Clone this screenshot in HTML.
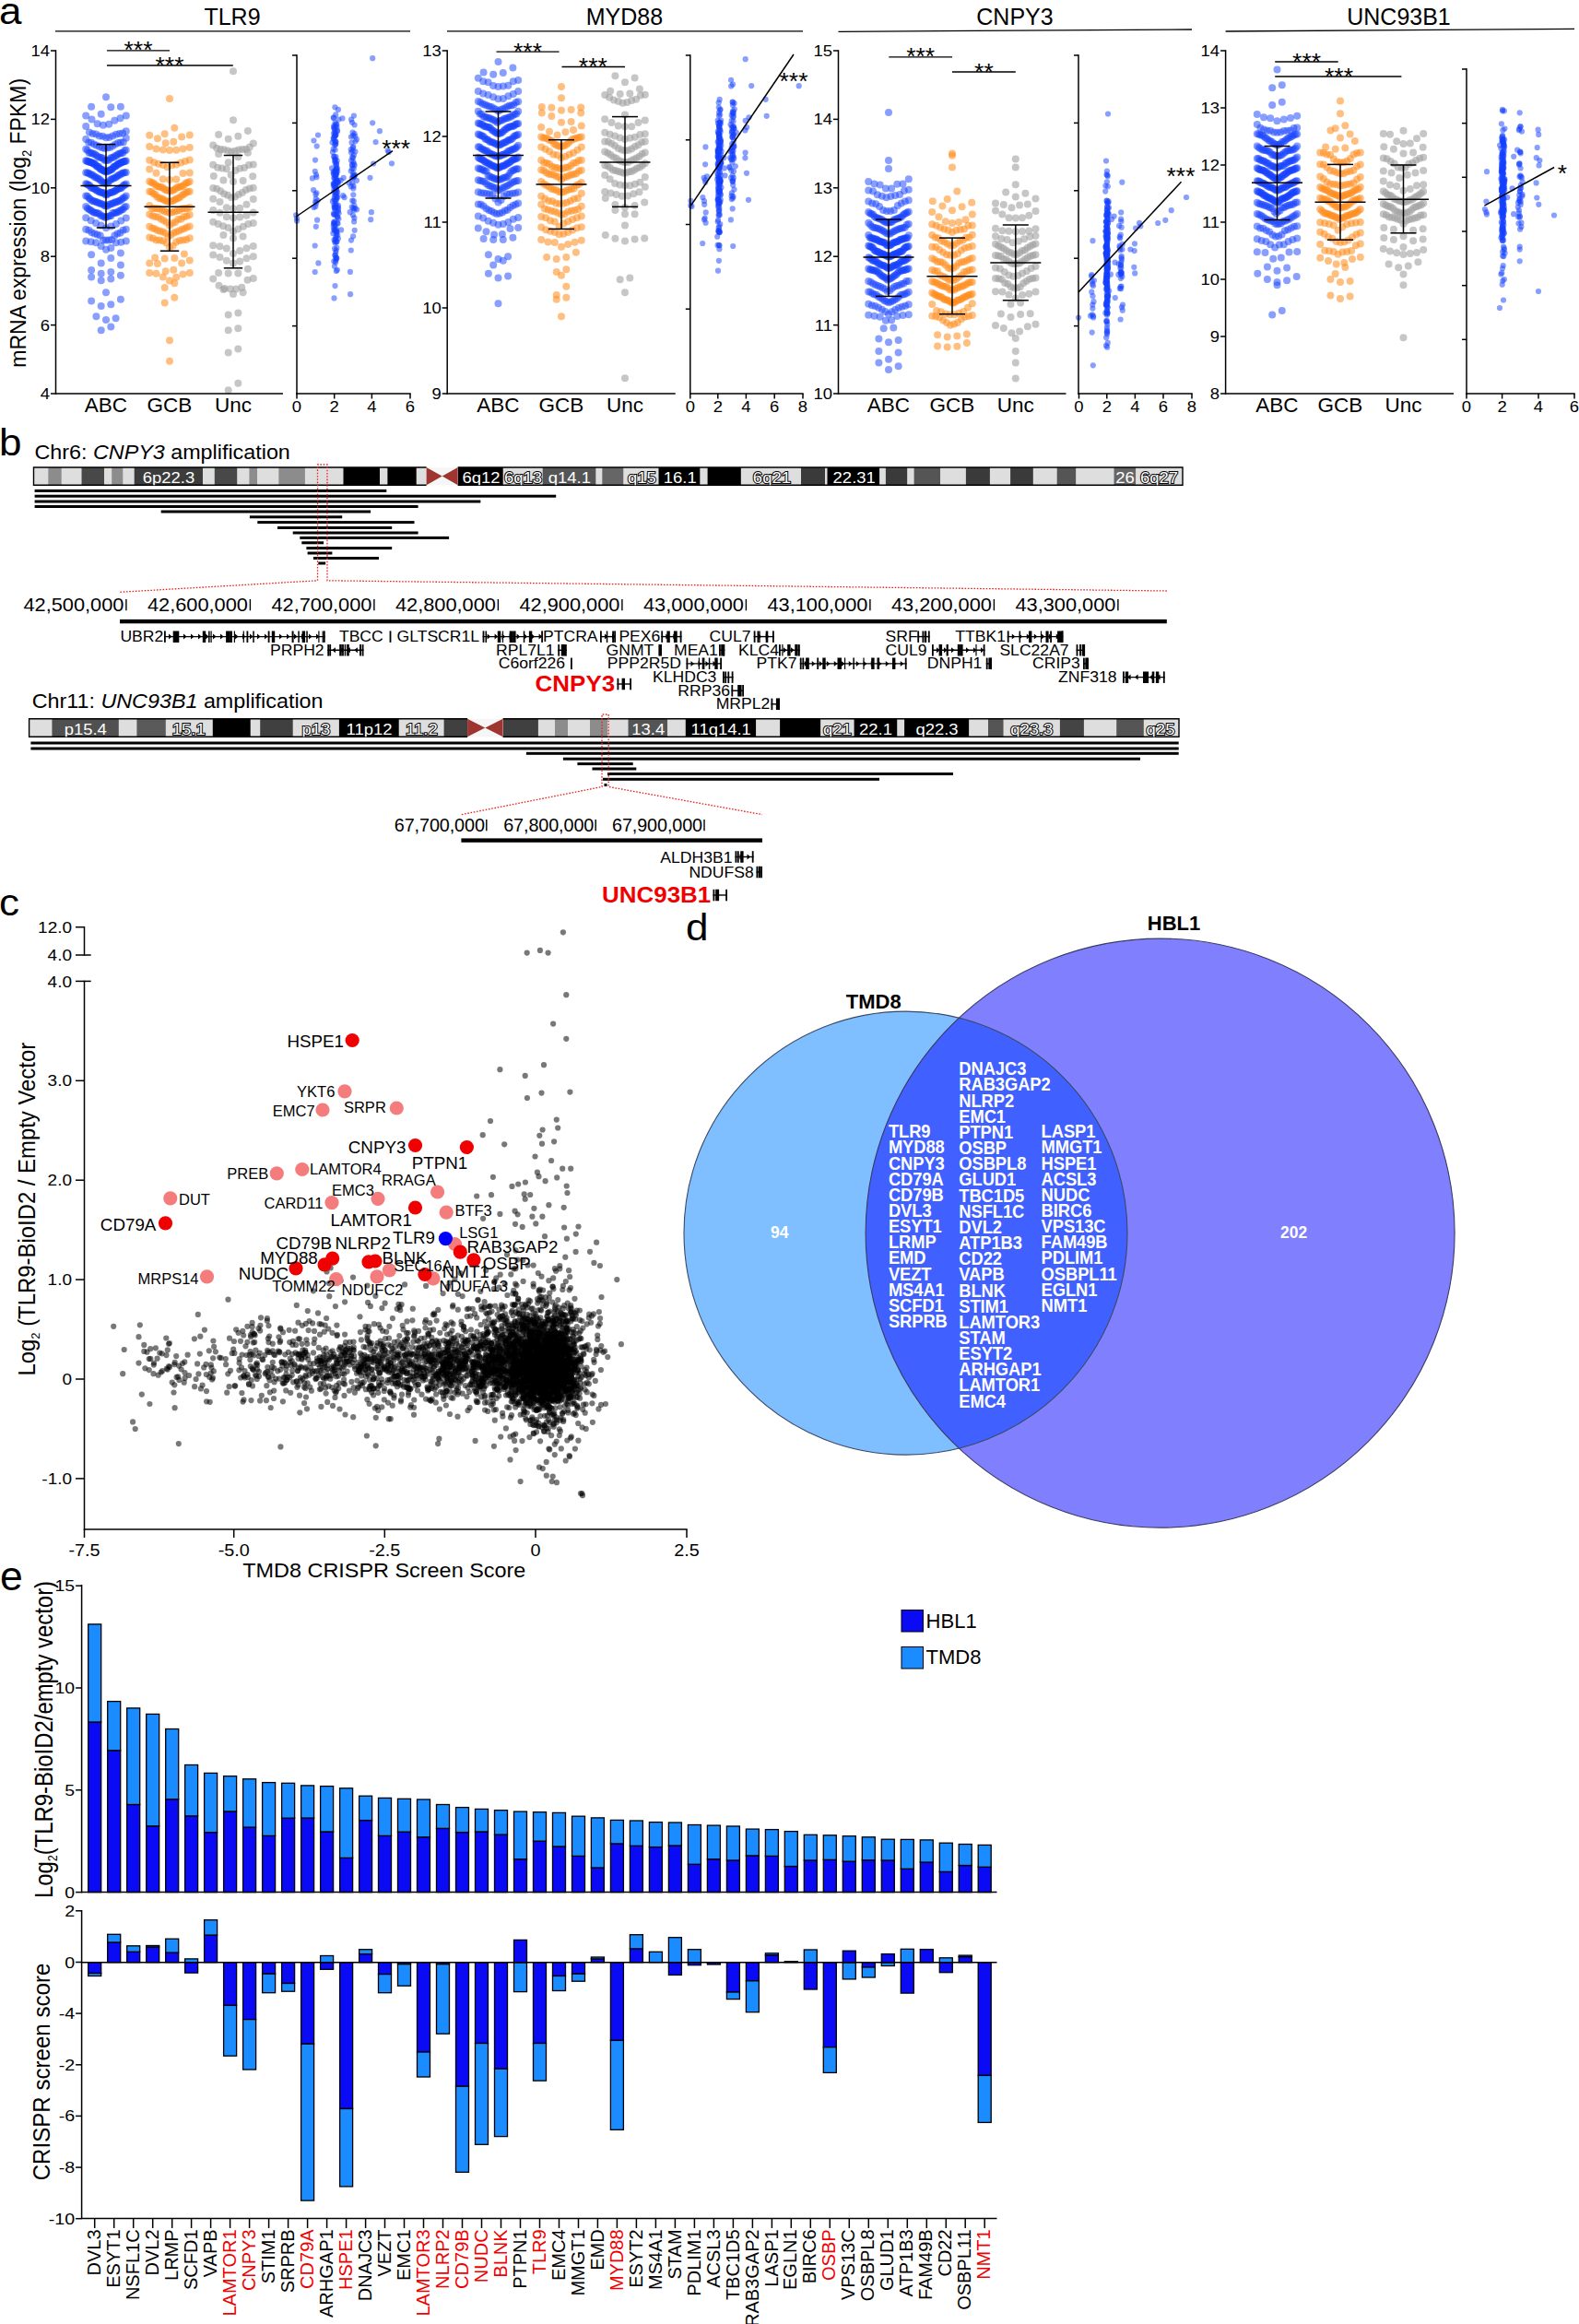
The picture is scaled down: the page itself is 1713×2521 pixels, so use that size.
<!DOCTYPE html>
<html><head><meta charset="utf-8"><title>Figure</title>
<style>html,body{margin:0;padding:0;background:#fff}svg{display:block;font-family:"Liberation Sans",Arial,Helvetica,sans-serif}</style>
</head><body>
<svg width="1713" height="2521" viewBox="0 0 1713 2521">
<rect width="1713" height="2521" fill="#fff"/>
<text transform="translate(-1 25.5) scale(1.1 1)" font-size="40">a</text><text transform="translate(28.4 241.8) rotate(-90) scale(1 1.08)" font-size="23" text-anchor="middle">mRNA expression (log<tspan font-size="13" dy="5">2</tspan><tspan dy="-5"> FPKM)</tspan></text><text x="252" y="27" font-size="25" text-anchor="middle">TLR9</text><line x1="60" y1="33.8" x2="445" y2="33.8" stroke="#000" stroke-width="1.3"/><g fill="#1440ff" fill-opacity="0.5"><circle cx="109.7" cy="358.2" r="4"/><circle cx="120.3" cy="354.5" r="4"/><circle cx="115" cy="347" r="4"/><circle cx="125.6" cy="345.2" r="4"/><circle cx="104.4" cy="343.3" r="4"/><circle cx="109.7" cy="332.1" r="4"/><circle cx="120.3" cy="330.3" r="4"/><circle cx="99.1" cy="326.6" r="4"/><circle cx="130.9" cy="324.7" r="4"/><circle cx="115" cy="317.3" r="4"/><circle cx="109.7" cy="304.2" r="4"/><circle cx="120.3" cy="302.4" r="4"/><circle cx="99.1" cy="300.5" r="4"/><circle cx="130.9" cy="298.7" r="4"/><circle cx="109.7" cy="296.8" r="4"/><circle cx="120.3" cy="294.9" r="4"/><circle cx="99.1" cy="293.1" r="4"/><circle cx="130.9" cy="287.5" r="4"/><circle cx="109.7" cy="285.6" r="4"/><circle cx="120.3" cy="280.1" r="4"/><circle cx="99.1" cy="276.3" r="4"/><circle cx="130.9" cy="274.5" r="4"/><circle cx="115" cy="270.8" r="4"/><circle cx="120.4" cy="268.9" r="4"/><circle cx="109.6" cy="267" r="4"/><circle cx="125.9" cy="263.3" r="4"/><circle cx="104.1" cy="263.2" r="4"/><circle cx="131.3" cy="262.7" r="4"/><circle cx="98.7" cy="262.3" r="4"/><circle cx="136.8" cy="261.6" r="4"/><circle cx="93.2" cy="261.5" r="4"/><circle cx="115" cy="260.5" r="4"/><circle cx="118.1" cy="260.5" r="4"/><circle cx="111.9" cy="260.4" r="4"/><circle cx="121.2" cy="260.1" r="4"/><circle cx="108.8" cy="255.6" r="4"/><circle cx="124.3" cy="255.4" r="4"/><circle cx="105.7" cy="254.6" r="4"/><circle cx="127.4" cy="253.6" r="4"/><circle cx="102.6" cy="253.6" r="4"/><circle cx="130.5" cy="252.6" r="4"/><circle cx="99.5" cy="252.2" r="4"/><circle cx="133.6" cy="249.8" r="4"/><circle cx="96.4" cy="249.8" r="4"/><circle cx="136.8" cy="248.7" r="4"/><circle cx="93.2" cy="248.7" r="4"/><circle cx="115" cy="247.2" r="4"/><circle cx="120.4" cy="245.5" r="4"/><circle cx="109.6" cy="244.6" r="4"/><circle cx="125.9" cy="243" r="4"/><circle cx="104.1" cy="242" r="4"/><circle cx="131.3" cy="239.4" r="4"/><circle cx="98.7" cy="239.3" r="4"/><circle cx="136.8" cy="236.6" r="4"/><circle cx="93.2" cy="236.3" r="4"/><circle cx="114.2" cy="236.1" r="4"/><circle cx="115.8" cy="235.3" r="4"/><circle cx="112.6" cy="235" r="4"/><circle cx="117.4" cy="234.7" r="4"/><circle cx="111" cy="234.3" r="4"/><circle cx="119" cy="234.2" r="4"/><circle cx="109.4" cy="234" r="4"/><circle cx="120.6" cy="234" r="4"/><circle cx="107.8" cy="231.9" r="4"/><circle cx="122.2" cy="231.2" r="4"/><circle cx="106.1" cy="231.2" r="4"/><circle cx="123.9" cy="231.1" r="4"/><circle cx="104.5" cy="230.9" r="4"/><circle cx="125.5" cy="230.7" r="4"/><circle cx="102.9" cy="230.7" r="4"/><circle cx="127.1" cy="230.6" r="4"/><circle cx="101.3" cy="230.2" r="4"/><circle cx="128.7" cy="229.2" r="4"/><circle cx="99.7" cy="229.1" r="4"/><circle cx="130.3" cy="228.8" r="4"/><circle cx="98.1" cy="228" r="4"/><circle cx="131.9" cy="227.6" r="4"/><circle cx="96.5" cy="227" r="4"/><circle cx="133.5" cy="226.9" r="4"/><circle cx="94.9" cy="225.9" r="4"/><circle cx="135.1" cy="224.7" r="4"/><circle cx="93.2" cy="224" r="4"/><circle cx="136.8" cy="224" r="4"/><circle cx="115" cy="223.6" r="4"/><circle cx="116.6" cy="223.6" r="4"/><circle cx="113.4" cy="222.9" r="4"/><circle cx="118.1" cy="222.1" r="4"/><circle cx="111.9" cy="221.8" r="4"/><circle cx="119.7" cy="221.6" r="4"/><circle cx="110.3" cy="221.3" r="4"/><circle cx="121.2" cy="221.1" r="4"/><circle cx="108.8" cy="220.7" r="4"/><circle cx="122.8" cy="220.4" r="4"/><circle cx="107.2" cy="220.3" r="4"/><circle cx="124.3" cy="219.6" r="4"/><circle cx="105.7" cy="219.6" r="4"/><circle cx="125.9" cy="219.3" r="4"/><circle cx="104.1" cy="219" r="4"/><circle cx="127.4" cy="218.7" r="4"/><circle cx="102.6" cy="218.4" r="4"/><circle cx="129" cy="218.1" r="4"/><circle cx="101" cy="217.9" r="4"/><circle cx="130.5" cy="217.6" r="4"/><circle cx="99.5" cy="217.4" r="4"/><circle cx="132.1" cy="216.3" r="4"/><circle cx="97.9" cy="215.9" r="4"/><circle cx="133.6" cy="214.8" r="4"/><circle cx="96.4" cy="214.7" r="4"/><circle cx="135.2" cy="214.2" r="4"/><circle cx="94.8" cy="212.7" r="4"/><circle cx="136.8" cy="212.6" r="4"/><circle cx="93.2" cy="212.5" r="4"/><circle cx="115" cy="211.4" r="4"/><circle cx="116.3" cy="211.1" r="4"/><circle cx="113.7" cy="210.5" r="4"/><circle cx="117.6" cy="209.8" r="4"/><circle cx="112.4" cy="209.3" r="4"/><circle cx="118.8" cy="209.3" r="4"/><circle cx="111.2" cy="208.9" r="4"/><circle cx="120.1" cy="208.9" r="4"/><circle cx="109.9" cy="208.7" r="4"/><circle cx="121.4" cy="208.6" r="4"/><circle cx="108.6" cy="208.5" r="4"/><circle cx="122.7" cy="208.3" r="4"/><circle cx="107.3" cy="208" r="4"/><circle cx="124" cy="207.5" r="4"/><circle cx="106" cy="207" r="4"/><circle cx="125.2" cy="206.9" r="4"/><circle cx="104.8" cy="206.4" r="4"/><circle cx="126.5" cy="205.8" r="4"/><circle cx="103.5" cy="205.4" r="4"/><circle cx="127.8" cy="205.2" r="4"/><circle cx="102.2" cy="204.7" r="4"/><circle cx="129.1" cy="204.5" r="4"/><circle cx="100.9" cy="204.1" r="4"/><circle cx="130.4" cy="204" r="4"/><circle cx="99.6" cy="204" r="4"/><circle cx="131.6" cy="203.9" r="4"/><circle cx="98.4" cy="203.1" r="4"/><circle cx="132.9" cy="202.4" r="4"/><circle cx="97.1" cy="201.1" r="4"/><circle cx="134.2" cy="200.8" r="4"/><circle cx="95.8" cy="200.8" r="4"/><circle cx="135.5" cy="200.8" r="4"/><circle cx="94.5" cy="199.7" r="4"/><circle cx="136.8" cy="199.5" r="4"/><circle cx="93.2" cy="199.2" r="4"/><circle cx="114.2" cy="198.7" r="4"/><circle cx="115.8" cy="198.6" r="4"/><circle cx="112.8" cy="198.2" r="4"/><circle cx="117.2" cy="198.2" r="4"/><circle cx="111.2" cy="197.5" r="4"/><circle cx="118.8" cy="196.3" r="4"/><circle cx="109.8" cy="196.2" r="4"/><circle cx="120.2" cy="194.8" r="4"/><circle cx="108.2" cy="194.8" r="4"/><circle cx="121.8" cy="193.9" r="4"/><circle cx="106.8" cy="193.8" r="4"/><circle cx="123.2" cy="193.4" r="4"/><circle cx="105.2" cy="193.2" r="4"/><circle cx="124.8" cy="192.8" r="4"/><circle cx="103.8" cy="192.1" r="4"/><circle cx="126.2" cy="192.1" r="4"/><circle cx="102.2" cy="191.7" r="4"/><circle cx="127.8" cy="190.7" r="4"/><circle cx="100.8" cy="189.9" r="4"/><circle cx="129.2" cy="189.8" r="4"/><circle cx="99.2" cy="189.6" r="4"/><circle cx="130.8" cy="189.2" r="4"/><circle cx="97.8" cy="189.1" r="4"/><circle cx="132.2" cy="188" r="4"/><circle cx="96.2" cy="187.7" r="4"/><circle cx="133.8" cy="187.6" r="4"/><circle cx="94.8" cy="187.5" r="4"/><circle cx="135.2" cy="187.3" r="4"/><circle cx="93.2" cy="187.2" r="4"/><circle cx="136.8" cy="186.9" r="4"/><circle cx="115" cy="186.4" r="4"/><circle cx="116" cy="186.1" r="4"/><circle cx="114" cy="185.8" r="4"/><circle cx="117" cy="185.6" r="4"/><circle cx="113" cy="185.6" r="4"/><circle cx="118" cy="185.6" r="4"/><circle cx="112" cy="184.9" r="4"/><circle cx="119" cy="184.7" r="4"/><circle cx="111" cy="184" r="4"/><circle cx="119.9" cy="184" r="4"/><circle cx="110.1" cy="183.9" r="4"/><circle cx="120.9" cy="183.9" r="4"/><circle cx="109.1" cy="183.6" r="4"/><circle cx="121.9" cy="183.3" r="4"/><circle cx="108.1" cy="182.5" r="4"/><circle cx="122.9" cy="181.5" r="4"/><circle cx="107.1" cy="181" r="4"/><circle cx="123.9" cy="180.8" r="4"/><circle cx="106.1" cy="180.7" r="4"/><circle cx="124.9" cy="180.6" r="4"/><circle cx="105.1" cy="180.5" r="4"/><circle cx="125.9" cy="180.1" r="4"/><circle cx="104.1" cy="179.6" r="4"/><circle cx="126.9" cy="179.1" r="4"/><circle cx="103.1" cy="178.1" r="4"/><circle cx="127.9" cy="178" r="4"/><circle cx="102.1" cy="177.5" r="4"/><circle cx="128.8" cy="177.5" r="4"/><circle cx="101.2" cy="177.4" r="4"/><circle cx="129.8" cy="177.4" r="4"/><circle cx="100.2" cy="176.8" r="4"/><circle cx="130.8" cy="176.5" r="4"/><circle cx="99.2" cy="176.3" r="4"/><circle cx="131.8" cy="176.2" r="4"/><circle cx="98.2" cy="176" r="4"/><circle cx="132.8" cy="175.9" r="4"/><circle cx="97.2" cy="175.9" r="4"/><circle cx="133.8" cy="175.2" r="4"/><circle cx="96.2" cy="175.1" r="4"/><circle cx="134.8" cy="175" r="4"/><circle cx="95.2" cy="175" r="4"/><circle cx="135.8" cy="174.9" r="4"/><circle cx="94.2" cy="174.8" r="4"/><circle cx="136.8" cy="174.5" r="4"/><circle cx="93.2" cy="174.3" r="4"/><circle cx="115" cy="173.9" r="4"/><circle cx="116.7" cy="173.8" r="4"/><circle cx="113.3" cy="173.8" r="4"/><circle cx="118.3" cy="173.6" r="4"/><circle cx="111.7" cy="171.7" r="4"/><circle cx="120" cy="171.5" r="4"/><circle cx="110" cy="171" r="4"/><circle cx="121.7" cy="171" r="4"/><circle cx="108.3" cy="170.8" r="4"/><circle cx="123.4" cy="170.4" r="4"/><circle cx="106.6" cy="170.2" r="4"/><circle cx="125" cy="169.3" r="4"/><circle cx="105" cy="169" r="4"/><circle cx="126.7" cy="168.6" r="4"/><circle cx="103.3" cy="167.5" r="4"/><circle cx="128.4" cy="167.1" r="4"/><circle cx="101.6" cy="166.9" r="4"/><circle cx="130.1" cy="166.6" r="4"/><circle cx="99.9" cy="166.3" r="4"/><circle cx="131.7" cy="166" r="4"/><circle cx="98.3" cy="165.8" r="4"/><circle cx="133.4" cy="165.7" r="4"/><circle cx="96.6" cy="165.7" r="4"/><circle cx="135.1" cy="163.3" r="4"/><circle cx="94.9" cy="163.1" r="4"/><circle cx="136.8" cy="162.7" r="4"/><circle cx="93.2" cy="161.8" r="4"/><circle cx="113.5" cy="160.9" r="4"/><circle cx="116.5" cy="160.5" r="4"/><circle cx="110.7" cy="160.3" r="4"/><circle cx="119.3" cy="160" r="4"/><circle cx="107.8" cy="158.9" r="4"/><circle cx="122.2" cy="158.5" r="4"/><circle cx="104.8" cy="157.7" r="4"/><circle cx="125.2" cy="156.6" r="4"/><circle cx="102" cy="156.4" r="4"/><circle cx="128.1" cy="154.9" r="4"/><circle cx="99" cy="154.8" r="4"/><circle cx="130.9" cy="154.6" r="4"/><circle cx="96.2" cy="154.5" r="4"/><circle cx="133.8" cy="154.3" r="4"/><circle cx="93.2" cy="151" r="4"/><circle cx="136.8" cy="149.8" r="4"/><circle cx="115" cy="149.3" r="4"/><circle cx="118.6" cy="149.1" r="4"/><circle cx="111.4" cy="147.7" r="4"/><circle cx="122.2" cy="147.6" r="4"/><circle cx="107.8" cy="147.5" r="4"/><circle cx="125.9" cy="145.8" r="4"/><circle cx="104.1" cy="145.4" r="4"/><circle cx="129.5" cy="145" r="4"/><circle cx="100.5" cy="144.9" r="4"/><circle cx="133.1" cy="144.5" r="4"/><circle cx="96.9" cy="143.4" r="4"/><circle cx="136.8" cy="142.3" r="4"/><circle cx="93.2" cy="137" r="4"/><circle cx="111.9" cy="135.8" r="4"/><circle cx="118.1" cy="134.8" r="4"/><circle cx="105.7" cy="134.3" r="4"/><circle cx="124.3" cy="130.7" r="4"/><circle cx="99.5" cy="129.5" r="4"/><circle cx="130.5" cy="128.2" r="4"/><circle cx="93.2" cy="125.5" r="4"/><circle cx="136.8" cy="125.5" r="4"/><circle cx="109.7" cy="123.8" r="4"/><circle cx="120.3" cy="116.3" r="4"/><circle cx="99.1" cy="115.8" r="4"/><circle cx="130.9" cy="115.7" r="4"/><circle cx="115" cy="105.2" r="4"/></g><g fill="#ff8a1a" fill-opacity="0.55"><circle cx="184" cy="391.7" r="4"/><circle cx="184" cy="369.3" r="4"/><circle cx="178.7" cy="328.4" r="4"/><circle cx="189.3" cy="322.8" r="4"/><circle cx="178.7" cy="311.9" r="4"/><circle cx="189.3" cy="307.2" r="4"/><circle cx="184" cy="304.6" r="4"/><circle cx="191.2" cy="300.7" r="4"/><circle cx="176.8" cy="300.6" r="4"/><circle cx="198.5" cy="297.6" r="4"/><circle cx="169.5" cy="296.8" r="4"/><circle cx="205.8" cy="296" r="4"/><circle cx="162.2" cy="295.9" r="4"/><circle cx="179.7" cy="294.2" r="4"/><circle cx="188.3" cy="292.7" r="4"/><circle cx="170.9" cy="286.1" r="4"/><circle cx="197.1" cy="285.5" r="4"/><circle cx="162.2" cy="285.4" r="4"/><circle cx="205.8" cy="282.5" r="4"/><circle cx="178.7" cy="280.4" r="4"/><circle cx="189.3" cy="279.9" r="4"/><circle cx="168.1" cy="279.6" r="4"/><circle cx="199.9" cy="275.4" r="4"/><circle cx="184" cy="268" r="4"/><circle cx="187.6" cy="266.6" r="4"/><circle cx="180.4" cy="263.5" r="4"/><circle cx="191.2" cy="262.5" r="4"/><circle cx="176.8" cy="261.3" r="4"/><circle cx="194.9" cy="260.9" r="4"/><circle cx="173.1" cy="260.6" r="4"/><circle cx="198.5" cy="260.5" r="4"/><circle cx="169.5" cy="260.5" r="4"/><circle cx="202.1" cy="260.1" r="4"/><circle cx="165.9" cy="258.6" r="4"/><circle cx="205.8" cy="258.3" r="4"/><circle cx="162.2" cy="257.5" r="4"/><circle cx="182.6" cy="256.5" r="4"/><circle cx="185.4" cy="255" r="4"/><circle cx="179.7" cy="253" r="4"/><circle cx="188.3" cy="252.7" r="4"/><circle cx="176.8" cy="251.6" r="4"/><circle cx="191.2" cy="251.5" r="4"/><circle cx="173.8" cy="250.7" r="4"/><circle cx="194.2" cy="250.4" r="4"/><circle cx="170.9" cy="249.9" r="4"/><circle cx="197.1" cy="249.1" r="4"/><circle cx="168.1" cy="248.2" r="4"/><circle cx="199.9" cy="248.1" r="4"/><circle cx="165.2" cy="247.6" r="4"/><circle cx="202.8" cy="246.4" r="4"/><circle cx="162.2" cy="245.8" r="4"/><circle cx="205.8" cy="245.4" r="4"/><circle cx="184" cy="244.5" r="4"/><circle cx="187.1" cy="242.2" r="4"/><circle cx="180.9" cy="241.2" r="4"/><circle cx="190.2" cy="241.1" r="4"/><circle cx="177.8" cy="239.3" r="4"/><circle cx="193.3" cy="237.9" r="4"/><circle cx="174.7" cy="237.8" r="4"/><circle cx="196.4" cy="237.7" r="4"/><circle cx="171.6" cy="235.5" r="4"/><circle cx="199.5" cy="235.3" r="4"/><circle cx="168.5" cy="235.1" r="4"/><circle cx="202.6" cy="234.6" r="4"/><circle cx="165.4" cy="234.3" r="4"/><circle cx="205.8" cy="232.9" r="4"/><circle cx="162.2" cy="232.6" r="4"/><circle cx="184" cy="231.1" r="4"/><circle cx="186.7" cy="230.3" r="4"/><circle cx="181.3" cy="229.9" r="4"/><circle cx="189.4" cy="229.6" r="4"/><circle cx="178.6" cy="229.2" r="4"/><circle cx="192.2" cy="228.8" r="4"/><circle cx="175.8" cy="228" r="4"/><circle cx="194.9" cy="228" r="4"/><circle cx="173.1" cy="226.4" r="4"/><circle cx="197.6" cy="226.3" r="4"/><circle cx="170.4" cy="226.2" r="4"/><circle cx="200.3" cy="226.2" r="4"/><circle cx="167.7" cy="226.1" r="4"/><circle cx="203" cy="226.1" r="4"/><circle cx="165" cy="226" r="4"/><circle cx="205.8" cy="224.9" r="4"/><circle cx="162.2" cy="222.9" r="4"/><circle cx="183" cy="218.8" r="4"/><circle cx="185" cy="218.5" r="4"/><circle cx="180.9" cy="218.5" r="4"/><circle cx="187.1" cy="218" r="4"/><circle cx="178.8" cy="217.2" r="4"/><circle cx="189.2" cy="216.9" r="4"/><circle cx="176.8" cy="216.2" r="4"/><circle cx="191.2" cy="215.8" r="4"/><circle cx="174.7" cy="215.2" r="4"/><circle cx="193.3" cy="215" r="4"/><circle cx="172.6" cy="214.9" r="4"/><circle cx="195.4" cy="214" r="4"/><circle cx="170.5" cy="213.6" r="4"/><circle cx="197.5" cy="211.8" r="4"/><circle cx="168.5" cy="210.9" r="4"/><circle cx="199.5" cy="210.8" r="4"/><circle cx="166.4" cy="210" r="4"/><circle cx="201.6" cy="208.9" r="4"/><circle cx="164.3" cy="208" r="4"/><circle cx="203.7" cy="207.9" r="4"/><circle cx="162.2" cy="207.8" r="4"/><circle cx="205.8" cy="207.7" r="4"/><circle cx="184" cy="207.3" r="4"/><circle cx="186" cy="207.1" r="4"/><circle cx="182" cy="206.6" r="4"/><circle cx="188" cy="206.3" r="4"/><circle cx="180" cy="206.2" r="4"/><circle cx="189.9" cy="205.2" r="4"/><circle cx="178.1" cy="205" r="4"/><circle cx="191.9" cy="203.4" r="4"/><circle cx="176.1" cy="203.3" r="4"/><circle cx="193.9" cy="203.1" r="4"/><circle cx="174.1" cy="203" r="4"/><circle cx="195.9" cy="202.6" r="4"/><circle cx="172.1" cy="202.5" r="4"/><circle cx="197.8" cy="202" r="4"/><circle cx="170.2" cy="202" r="4"/><circle cx="199.8" cy="200.4" r="4"/><circle cx="168.2" cy="200" r="4"/><circle cx="201.8" cy="198.5" r="4"/><circle cx="166.2" cy="198.4" r="4"/><circle cx="203.8" cy="198.1" r="4"/><circle cx="164.2" cy="198" r="4"/><circle cx="205.8" cy="196.9" r="4"/><circle cx="162.2" cy="196.7" r="4"/><circle cx="184" cy="194.9" r="4"/><circle cx="191.2" cy="194.5" r="4"/><circle cx="176.8" cy="194.2" r="4"/><circle cx="198.5" cy="188.1" r="4"/><circle cx="169.5" cy="187.8" r="4"/><circle cx="205.8" cy="187.5" r="4"/><circle cx="162.2" cy="183.4" r="4"/><circle cx="181.6" cy="181.2" r="4"/><circle cx="186.4" cy="179.2" r="4"/><circle cx="176.8" cy="179" r="4"/><circle cx="191.2" cy="178.4" r="4"/><circle cx="171.9" cy="177.7" r="4"/><circle cx="196.1" cy="176.5" r="4"/><circle cx="167.1" cy="176.3" r="4"/><circle cx="200.9" cy="175.1" r="4"/><circle cx="162.2" cy="173.7" r="4"/><circle cx="205.8" cy="173.6" r="4"/><circle cx="184" cy="162.9" r="4"/><circle cx="191.2" cy="162.8" r="4"/><circle cx="176.8" cy="162.6" r="4"/><circle cx="198.5" cy="161.6" r="4"/><circle cx="169.5" cy="161.4" r="4"/><circle cx="205.8" cy="159.9" r="4"/><circle cx="162.2" cy="159" r="4"/><circle cx="179.7" cy="155.3" r="4"/><circle cx="188.3" cy="153.8" r="4"/><circle cx="170.9" cy="150.3" r="4"/><circle cx="197.1" cy="148.6" r="4"/><circle cx="162.2" cy="146.8" r="4"/><circle cx="205.8" cy="146.4" r="4"/><circle cx="178.7" cy="145.2" r="4"/><circle cx="189.3" cy="138.7" r="4"/><circle cx="184" cy="107.1" r="4"/></g><g fill="#a0a0a0" fill-opacity="0.6"><circle cx="247.7" cy="423.3" r="4"/><circle cx="258.3" cy="415.8" r="4"/><circle cx="247.7" cy="382.4" r="4"/><circle cx="258.3" cy="378.6" r="4"/><circle cx="247.7" cy="358.2" r="4"/><circle cx="258.3" cy="356.3" r="4"/><circle cx="247.7" cy="341.4" r="4"/><circle cx="258.3" cy="339.6" r="4"/><circle cx="253" cy="319.1" r="4"/><circle cx="263.6" cy="317.3" r="4"/><circle cx="242.4" cy="314" r="4"/><circle cx="249.9" cy="313.5" r="4"/><circle cx="256.1" cy="313.5" r="4"/><circle cx="243.7" cy="313.1" r="4"/><circle cx="262.3" cy="311.7" r="4"/><circle cx="237.5" cy="309.8" r="4"/><circle cx="268.5" cy="303.7" r="4"/><circle cx="231.2" cy="302.5" r="4"/><circle cx="274.8" cy="302" r="4"/><circle cx="247.7" cy="296.5" r="4"/><circle cx="258.3" cy="296.4" r="4"/><circle cx="237.1" cy="295.9" r="4"/><circle cx="268.9" cy="291.8" r="4"/><circle cx="253" cy="285.4" r="4"/><circle cx="260.2" cy="283.6" r="4"/><circle cx="245.8" cy="282.8" r="4"/><circle cx="267.5" cy="280.3" r="4"/><circle cx="238.5" cy="279.1" r="4"/><circle cx="274.8" cy="278.2" r="4"/><circle cx="231.2" cy="276.6" r="4"/><circle cx="253" cy="275.1" r="4"/><circle cx="260.2" cy="271.9" r="4"/><circle cx="245.8" cy="269.4" r="4"/><circle cx="267.5" cy="269.3" r="4"/><circle cx="238.5" cy="267.2" r="4"/><circle cx="274.8" cy="266.9" r="4"/><circle cx="231.2" cy="266.3" r="4"/><circle cx="253" cy="258.5" r="4"/><circle cx="263.6" cy="256.6" r="4"/><circle cx="242.4" cy="254.9" r="4"/><circle cx="253" cy="250.9" r="4"/><circle cx="258.4" cy="248.4" r="4"/><circle cx="247.6" cy="247" r="4"/><circle cx="263.9" cy="245.7" r="4"/><circle cx="242.1" cy="245.2" r="4"/><circle cx="269.3" cy="243.1" r="4"/><circle cx="236.7" cy="242.9" r="4"/><circle cx="274.8" cy="242.1" r="4"/><circle cx="231.2" cy="240.8" r="4"/><circle cx="253" cy="236.5" r="4"/><circle cx="260.2" cy="235.5" r="4"/><circle cx="245.8" cy="235.3" r="4"/><circle cx="267.5" cy="233.8" r="4"/><circle cx="238.5" cy="230.8" r="4"/><circle cx="274.8" cy="230.4" r="4"/><circle cx="231.2" cy="227.9" r="4"/><circle cx="253" cy="226.2" r="4"/><circle cx="260.2" cy="225.7" r="4"/><circle cx="245.8" cy="225.3" r="4"/><circle cx="267.5" cy="221.8" r="4"/><circle cx="238.5" cy="218.9" r="4"/><circle cx="274.8" cy="216.1" r="4"/><circle cx="231.2" cy="215.8" r="4"/><circle cx="251" cy="214.3" r="4"/><circle cx="255" cy="213.6" r="4"/><circle cx="247.1" cy="211.8" r="4"/><circle cx="258.9" cy="211.1" r="4"/><circle cx="243.1" cy="210.2" r="4"/><circle cx="262.9" cy="208.9" r="4"/><circle cx="239.2" cy="207.2" r="4"/><circle cx="266.8" cy="205.9" r="4"/><circle cx="235.2" cy="204.8" r="4"/><circle cx="270.8" cy="204.6" r="4"/><circle cx="231.2" cy="203.9" r="4"/><circle cx="274.8" cy="203.7" r="4"/><circle cx="253" cy="197" r="4"/><circle cx="263.6" cy="196.1" r="4"/><circle cx="242.4" cy="195.6" r="4"/><circle cx="274.2" cy="191.3" r="4"/><circle cx="231.8" cy="190.9" r="4"/><circle cx="250.6" cy="189.7" r="4"/><circle cx="255.4" cy="184.9" r="4"/><circle cx="245.8" cy="183.2" r="4"/><circle cx="260.2" cy="182.7" r="4"/><circle cx="240.9" cy="182.6" r="4"/><circle cx="265.1" cy="182" r="4"/><circle cx="236.1" cy="181.7" r="4"/><circle cx="269.9" cy="179" r="4"/><circle cx="231.2" cy="178.8" r="4"/><circle cx="274.8" cy="178.5" r="4"/><circle cx="247.7" cy="176.2" r="4"/><circle cx="258.3" cy="170.3" r="4"/><circle cx="237.1" cy="167" r="4"/><circle cx="268.9" cy="165.8" r="4"/><circle cx="251" cy="164.4" r="4"/><circle cx="255" cy="163.7" r="4"/><circle cx="247.1" cy="163.5" r="4"/><circle cx="258.9" cy="162.5" r="4"/><circle cx="243.1" cy="162.2" r="4"/><circle cx="262.9" cy="162.1" r="4"/><circle cx="239.2" cy="162" r="4"/><circle cx="266.8" cy="162" r="4"/><circle cx="235.2" cy="160.7" r="4"/><circle cx="270.8" cy="159.5" r="4"/><circle cx="231.2" cy="157.4" r="4"/><circle cx="274.8" cy="155.5" r="4"/><circle cx="247.7" cy="150.8" r="4"/><circle cx="258.3" cy="147.8" r="4"/><circle cx="237.1" cy="146.1" r="4"/><circle cx="268.9" cy="142.1" r="4"/><circle cx="253" cy="130.3" r="4"/><circle cx="253" cy="77.3" r="4"/></g><line x1="60.5" y1="54.3" x2="60.5" y2="427.7" stroke="#000" stroke-width="1.5"/><line x1="59.8" y1="427" x2="307" y2="427" stroke="#000" stroke-width="1.5"/><line x1="55" y1="55" x2="60.5" y2="55" stroke="#000" stroke-width="1.5"/><text transform="translate(54 61) scale(1.1 1)" font-size="16.8" text-anchor="end">14</text><line x1="55" y1="129.4" x2="60.5" y2="129.4" stroke="#000" stroke-width="1.5"/><text transform="translate(54 135.4) scale(1.1 1)" font-size="16.8" text-anchor="end">12</text><line x1="55" y1="203.8" x2="60.5" y2="203.8" stroke="#000" stroke-width="1.5"/><text transform="translate(54 209.8) scale(1.1 1)" font-size="16.8" text-anchor="end">10</text><line x1="55" y1="278.2" x2="60.5" y2="278.2" stroke="#000" stroke-width="1.5"/><text transform="translate(54 284.2) scale(1.1 1)" font-size="16.8" text-anchor="end">8</text><line x1="55" y1="352.6" x2="60.5" y2="352.6" stroke="#000" stroke-width="1.5"/><text transform="translate(54 358.6) scale(1.1 1)" font-size="16.8" text-anchor="end">6</text><line x1="55" y1="427" x2="60.5" y2="427" stroke="#000" stroke-width="1.5"/><text transform="translate(54 433) scale(1.1 1)" font-size="16.8" text-anchor="end">4</text><text x="115" y="446.5" font-size="22.5" text-anchor="middle">ABC</text><text x="184" y="446.5" font-size="22.5" text-anchor="middle">GCB</text><text x="253" y="446.5" font-size="22.5" text-anchor="middle">Unc</text><line x1="87.5" y1="201.6" x2="142.5" y2="201.6" stroke="#000" stroke-width="1.5"/><line x1="115" y1="156.6" x2="115" y2="247" stroke="#000" stroke-width="1.5"/><line x1="104.8" y1="156.6" x2="125.2" y2="156.6" stroke="#000" stroke-width="1.5"/><line x1="104.8" y1="247" x2="125.2" y2="247" stroke="#000" stroke-width="1.5"/><line x1="156.5" y1="224.3" x2="211.5" y2="224.3" stroke="#000" stroke-width="1.5"/><line x1="184" y1="176.3" x2="184" y2="272.2" stroke="#000" stroke-width="1.5"/><line x1="173.8" y1="176.3" x2="194.2" y2="176.3" stroke="#000" stroke-width="1.5"/><line x1="173.8" y1="272.2" x2="194.2" y2="272.2" stroke="#000" stroke-width="1.5"/><line x1="225.5" y1="230.2" x2="280.5" y2="230.2" stroke="#000" stroke-width="1.5"/><line x1="253" y1="168.5" x2="253" y2="290.8" stroke="#000" stroke-width="1.5"/><line x1="242.8" y1="168.5" x2="263.2" y2="168.5" stroke="#000" stroke-width="1.5"/><line x1="242.8" y1="290.8" x2="263.2" y2="290.8" stroke="#000" stroke-width="1.5"/><line x1="116" y1="54.8" x2="184" y2="54.8" stroke="#000" stroke-width="1.3"/><text x="150" y="63.3" font-size="26.5" text-anchor="middle">***</text><line x1="116" y1="71" x2="252.8" y2="71" stroke="#000" stroke-width="1.3"/><text x="184" y="79.5" font-size="26.5" text-anchor="middle">***</text><g fill="#1440ff" fill-opacity="0.5"><circle cx="363.3" cy="227.3" r="3.1"/><circle cx="363.8" cy="173.4" r="3.1"/><circle cx="364.5" cy="193.1" r="3.1"/><circle cx="364.6" cy="271.5" r="3.1"/><circle cx="362.6" cy="192.8" r="3.1"/><circle cx="362.5" cy="260" r="3.1"/><circle cx="362.1" cy="241.1" r="3.1"/><circle cx="363.6" cy="245.7" r="3.1"/><circle cx="364.2" cy="124.4" r="3.1"/><circle cx="363.6" cy="143.2" r="3.1"/><circle cx="364.2" cy="250.1" r="3.1"/><circle cx="363.5" cy="243.9" r="3.1"/><circle cx="364.9" cy="251.6" r="3.1"/><circle cx="365.7" cy="174.3" r="3.1"/><circle cx="360.9" cy="165.1" r="3.1"/><circle cx="366" cy="235.4" r="3.1"/><circle cx="365.2" cy="280.4" r="3.1"/><circle cx="364.2" cy="274.2" r="3.1"/><circle cx="364.5" cy="279.9" r="3.1"/><circle cx="360.1" cy="182.4" r="3.1"/><circle cx="367.1" cy="226.7" r="3.1"/><circle cx="365" cy="195.1" r="3.1"/><circle cx="363.4" cy="172.6" r="3.1"/><circle cx="366.2" cy="255.2" r="3.1"/><circle cx="364.6" cy="184.7" r="3.1"/><circle cx="361.8" cy="128" r="3.1"/><circle cx="366.6" cy="242.6" r="3.1"/><circle cx="366.3" cy="197.6" r="3.1"/><circle cx="363.6" cy="133" r="3.1"/><circle cx="364.1" cy="185.7" r="3.1"/><circle cx="366" cy="142.6" r="3.1"/><circle cx="365.1" cy="262.6" r="3.1"/><circle cx="361.6" cy="149.8" r="3.1"/><circle cx="362.5" cy="193.5" r="3.1"/><circle cx="362.3" cy="208.3" r="3.1"/><circle cx="362" cy="127.3" r="3.1"/><circle cx="362.4" cy="205.5" r="3.1"/><circle cx="363.6" cy="146.2" r="3.1"/><circle cx="361.8" cy="201.6" r="3.1"/><circle cx="363.5" cy="176.4" r="3.1"/><circle cx="364.5" cy="220.8" r="3.1"/><circle cx="364.2" cy="216.8" r="3.1"/><circle cx="364.5" cy="204.7" r="3.1"/><circle cx="362.9" cy="201.3" r="3.1"/><circle cx="363.1" cy="186.4" r="3.1"/><circle cx="365.9" cy="292.8" r="3.1"/><circle cx="361.3" cy="253.1" r="3.1"/><circle cx="364.4" cy="146.2" r="3.1"/><circle cx="363.5" cy="310.1" r="3.1"/><circle cx="360.5" cy="154.6" r="3.1"/><circle cx="364.1" cy="258" r="3.1"/><circle cx="365.4" cy="268.8" r="3.1"/><circle cx="365.4" cy="135.3" r="3.1"/><circle cx="362.7" cy="249.5" r="3.1"/><circle cx="365" cy="249" r="3.1"/><circle cx="365.1" cy="253.4" r="3.1"/><circle cx="365" cy="195.9" r="3.1"/><circle cx="363.2" cy="240.1" r="3.1"/><circle cx="364.2" cy="284.6" r="3.1"/><circle cx="363.4" cy="217.8" r="3.1"/><circle cx="364.8" cy="256.1" r="3.1"/><circle cx="366.3" cy="214" r="3.1"/><circle cx="362.2" cy="138.2" r="3.1"/><circle cx="366.2" cy="208.5" r="3.1"/><circle cx="362.5" cy="199.4" r="3.1"/><circle cx="362.8" cy="214" r="3.1"/><circle cx="366" cy="182.6" r="3.1"/><circle cx="364" cy="184.6" r="3.1"/><circle cx="363.7" cy="162.5" r="3.1"/><circle cx="365.1" cy="216.6" r="3.1"/><circle cx="364.4" cy="208.4" r="3.1"/><circle cx="366.7" cy="199.7" r="3.1"/><circle cx="362.3" cy="170" r="3.1"/><circle cx="362.5" cy="222.3" r="3.1"/><circle cx="364.3" cy="205.7" r="3.1"/><circle cx="362.7" cy="224.7" r="3.1"/><circle cx="363" cy="148" r="3.1"/><circle cx="362.8" cy="225.6" r="3.1"/><circle cx="366.7" cy="224.8" r="3.1"/><circle cx="365.9" cy="141.3" r="3.1"/><circle cx="363.6" cy="263.4" r="3.1"/><circle cx="364.5" cy="170.1" r="3.1"/><circle cx="365.2" cy="196.9" r="3.1"/><circle cx="365.5" cy="138" r="3.1"/><circle cx="362.3" cy="136.3" r="3.1"/><circle cx="364.1" cy="225.3" r="3.1"/><circle cx="363.4" cy="116.3" r="3.1"/><circle cx="365.2" cy="279.9" r="3.1"/><circle cx="363.9" cy="206.3" r="3.1"/><circle cx="363.6" cy="223" r="3.1"/><circle cx="361.7" cy="161.6" r="3.1"/><circle cx="362.5" cy="216.6" r="3.1"/><circle cx="363" cy="232.6" r="3.1"/><circle cx="364.9" cy="182.9" r="3.1"/><circle cx="362.9" cy="242.3" r="3.1"/><circle cx="363.1" cy="156.9" r="3.1"/><circle cx="364" cy="189.7" r="3.1"/><circle cx="363.4" cy="211.6" r="3.1"/><circle cx="364.1" cy="282.4" r="3.1"/><circle cx="366.1" cy="235.2" r="3.1"/><circle cx="363" cy="140.3" r="3.1"/><circle cx="364.1" cy="198.2" r="3.1"/><circle cx="363" cy="269.8" r="3.1"/><circle cx="364.1" cy="146.7" r="3.1"/><circle cx="362.5" cy="139.2" r="3.1"/><circle cx="362.2" cy="232.8" r="3.1"/><circle cx="364.5" cy="200.1" r="3.1"/><circle cx="364.8" cy="233.2" r="3.1"/><circle cx="362.3" cy="283.4" r="3.1"/><circle cx="362.1" cy="248.1" r="3.1"/><circle cx="361.8" cy="186.3" r="3.1"/><circle cx="362.9" cy="288.8" r="3.1"/><circle cx="367.4" cy="237.3" r="3.1"/><circle cx="362" cy="144.7" r="3.1"/><circle cx="365.5" cy="251.5" r="3.1"/><circle cx="361.7" cy="244.7" r="3.1"/><circle cx="365.4" cy="214" r="3.1"/><circle cx="362.7" cy="201.3" r="3.1"/><circle cx="365.5" cy="262.1" r="3.1"/><circle cx="363.3" cy="261.8" r="3.1"/><circle cx="366.9" cy="118.9" r="3.1"/><circle cx="365.2" cy="206" r="3.1"/><circle cx="364.8" cy="293.9" r="3.1"/><circle cx="364.2" cy="259.7" r="3.1"/><circle cx="361.9" cy="231.5" r="3.1"/><circle cx="363.3" cy="174.4" r="3.1"/><circle cx="364.8" cy="188.4" r="3.1"/><circle cx="362.5" cy="169.9" r="3.1"/><circle cx="363.6" cy="147.4" r="3.1"/><circle cx="362.5" cy="323.4" r="3.1"/><circle cx="364.5" cy="208.8" r="3.1"/><circle cx="365.1" cy="177.6" r="3.1"/><circle cx="364.5" cy="223" r="3.1"/><circle cx="363.9" cy="191.1" r="3.1"/><circle cx="362.9" cy="250" r="3.1"/><circle cx="364" cy="156.8" r="3.1"/><circle cx="364.7" cy="178" r="3.1"/><circle cx="364.2" cy="153.6" r="3.1"/><circle cx="366.6" cy="197.7" r="3.1"/><circle cx="364.2" cy="153.5" r="3.1"/><circle cx="366.2" cy="186.1" r="3.1"/><circle cx="364.3" cy="196" r="3.1"/><circle cx="362.1" cy="150.2" r="3.1"/><circle cx="363.5" cy="276.8" r="3.1"/><circle cx="363.6" cy="277.2" r="3.1"/><circle cx="362.4" cy="199.1" r="3.1"/><circle cx="362.5" cy="152.1" r="3.1"/><circle cx="361.7" cy="188.1" r="3.1"/><circle cx="364.6" cy="134.6" r="3.1"/><circle cx="365.1" cy="189.3" r="3.1"/><circle cx="363.9" cy="202.3" r="3.1"/><circle cx="365.5" cy="229" r="3.1"/><circle cx="364.6" cy="203.8" r="3.1"/><circle cx="364.2" cy="211.3" r="3.1"/><circle cx="366.9" cy="229" r="3.1"/><circle cx="364.2" cy="187.3" r="3.1"/><circle cx="364.7" cy="179.5" r="3.1"/><circle cx="364.4" cy="155.7" r="3.1"/><circle cx="361.7" cy="199.1" r="3.1"/><circle cx="362.1" cy="189.2" r="3.1"/><circle cx="362.1" cy="242.4" r="3.1"/><circle cx="363.8" cy="137.2" r="3.1"/><circle cx="364.7" cy="186.3" r="3.1"/><circle cx="365.8" cy="241.7" r="3.1"/><circle cx="360.9" cy="218.4" r="3.1"/><circle cx="363.4" cy="144.4" r="3.1"/><circle cx="366.9" cy="258.8" r="3.1"/><circle cx="367.4" cy="129.6" r="3.1"/><circle cx="365" cy="183" r="3.1"/><circle cx="367.3" cy="195.9" r="3.1"/><circle cx="382.4" cy="178.9" r="3.1"/><circle cx="381" cy="165.3" r="3.1"/><circle cx="383" cy="171.1" r="3.1"/><circle cx="383.8" cy="228" r="3.1"/><circle cx="385.4" cy="226.1" r="3.1"/><circle cx="384.7" cy="249.8" r="3.1"/><circle cx="383.8" cy="218.2" r="3.1"/><circle cx="383.3" cy="211.3" r="3.1"/><circle cx="379.7" cy="230.2" r="3.1"/><circle cx="383.3" cy="159" r="3.1"/><circle cx="380.8" cy="271.5" r="3.1"/><circle cx="381.8" cy="193.2" r="3.1"/><circle cx="382.2" cy="217.7" r="3.1"/><circle cx="384.6" cy="145" r="3.1"/><circle cx="384.4" cy="223" r="3.1"/><circle cx="383.3" cy="192.5" r="3.1"/><circle cx="380.9" cy="148.5" r="3.1"/><circle cx="383.4" cy="204.4" r="3.1"/><circle cx="385.5" cy="153.3" r="3.1"/><circle cx="384.6" cy="135.5" r="3.1"/><circle cx="384.4" cy="236.4" r="3.1"/><circle cx="382.6" cy="143.5" r="3.1"/><circle cx="382" cy="183.1" r="3.1"/><circle cx="383.9" cy="125.6" r="3.1"/><circle cx="385.3" cy="147.8" r="3.1"/><circle cx="382.9" cy="147.2" r="3.1"/><circle cx="384.1" cy="191.3" r="3.1"/><circle cx="385.4" cy="164.4" r="3.1"/><circle cx="382" cy="132.8" r="3.1"/><circle cx="382.8" cy="160.4" r="3.1"/><circle cx="380.7" cy="185.5" r="3.1"/><circle cx="381.7" cy="224.5" r="3.1"/><circle cx="383" cy="175" r="3.1"/><circle cx="385" cy="189.8" r="3.1"/><circle cx="384.1" cy="240.4" r="3.1"/><circle cx="383.5" cy="201.7" r="3.1"/><circle cx="384" cy="177.4" r="3.1"/><circle cx="381" cy="260.6" r="3.1"/><circle cx="381.6" cy="154.7" r="3.1"/><circle cx="383.9" cy="168.4" r="3.1"/><circle cx="379.9" cy="294.9" r="3.1"/><circle cx="382.2" cy="198.5" r="3.1"/><circle cx="382.2" cy="170.4" r="3.1"/><circle cx="382.9" cy="233.5" r="3.1"/><circle cx="381.8" cy="179.1" r="3.1"/><circle cx="383.3" cy="188.1" r="3.1"/><circle cx="386.9" cy="195.8" r="3.1"/><circle cx="383.4" cy="225.8" r="3.1"/><circle cx="382.6" cy="163.6" r="3.1"/><circle cx="384.1" cy="191.6" r="3.1"/><circle cx="383.8" cy="182.9" r="3.1"/><circle cx="380.1" cy="319.2" r="3.1"/><circle cx="387" cy="151.2" r="3.1"/><circle cx="383.1" cy="256.3" r="3.1"/><circle cx="381.1" cy="129.7" r="3.1"/><circle cx="378.6" cy="198.5" r="3.1"/><circle cx="384.6" cy="179.3" r="3.1"/><circle cx="384.4" cy="190.6" r="3.1"/><circle cx="387.1" cy="227.3" r="3.1"/><circle cx="381" cy="174" r="3.1"/><circle cx="344.7" cy="217.5" r="3.1"/><circle cx="344.1" cy="238.7" r="3.1"/><circle cx="340.5" cy="152.5" r="3.1"/><circle cx="345" cy="146.5" r="3.1"/><circle cx="341.7" cy="266.5" r="3.1"/><circle cx="340.5" cy="225" r="3.1"/><circle cx="343.4" cy="192.2" r="3.1"/><circle cx="340.1" cy="206.2" r="3.1"/><circle cx="342.4" cy="210.9" r="3.1"/><circle cx="342.4" cy="224" r="3.1"/><circle cx="343.4" cy="209.3" r="3.1"/><circle cx="342.8" cy="245.8" r="3.1"/><circle cx="343" cy="220.4" r="3.1"/><circle cx="338.9" cy="193.4" r="3.1"/><circle cx="342" cy="173.6" r="3.1"/><circle cx="342.1" cy="219.2" r="3.1"/><circle cx="342.7" cy="215.5" r="3.1"/><circle cx="341.7" cy="295" r="3.1"/><circle cx="345.4" cy="285.4" r="3.1"/><circle cx="341.8" cy="185.8" r="3.1"/><circle cx="343" cy="189.6" r="3.1"/><circle cx="343.7" cy="158.6" r="3.1"/><circle cx="404.2" cy="63.2" r="3.1"/><circle cx="401.5" cy="192.8" r="3.1"/><circle cx="402.9" cy="230.2" r="3.1"/><circle cx="404.2" cy="133.3" r="3.1"/><circle cx="402.2" cy="238.2" r="3.1"/><circle cx="405.1" cy="177.5" r="3.1"/><circle cx="407.6" cy="154.1" r="3.1"/><circle cx="322.1" cy="239.7" r="3.1"/><circle cx="322.1" cy="236.8" r="3.1"/><circle cx="321.2" cy="233.4" r="3.1"/><circle cx="373.6" cy="214.2" r="3.1"/><circle cx="371.5" cy="128.4" r="3.1"/><circle cx="380.7" cy="162" r="3.1"/><circle cx="370.1" cy="249.4" r="3.1"/><circle cx="372.7" cy="192.9" r="3.1"/><circle cx="372.2" cy="212.2" r="3.1"/><circle cx="382.9" cy="190.4" r="3.1"/><circle cx="367" cy="222.9" r="3.1"/><circle cx="369.7" cy="195.7" r="3.1"/><circle cx="365.5" cy="211.8" r="3.1"/><circle cx="380.7" cy="202.5" r="3.1"/><circle cx="367.6" cy="231.3" r="3.1"/><circle cx="420.7" cy="163.3" r="3.1"/><circle cx="425" cy="177.3" r="3.1"/><circle cx="411.9" cy="142.2" r="3.1"/><circle cx="421.7" cy="165" r="3.1"/></g><line x1="322" y1="59.3" x2="322" y2="427.7" stroke="#000" stroke-width="1.5"/><line x1="321.3" y1="427" x2="445.7" y2="427" stroke="#000" stroke-width="1.5"/><line x1="317" y1="60" x2="322" y2="60" stroke="#000" stroke-width="1.5"/><line x1="317" y1="133.4" x2="322" y2="133.4" stroke="#000" stroke-width="1.5"/><line x1="317" y1="206.8" x2="322" y2="206.8" stroke="#000" stroke-width="1.5"/><line x1="317" y1="280.2" x2="322" y2="280.2" stroke="#000" stroke-width="1.5"/><line x1="317" y1="353.6" x2="322" y2="353.6" stroke="#000" stroke-width="1.5"/><line x1="322" y1="427" x2="322" y2="432.5" stroke="#000" stroke-width="1.5"/><text transform="translate(322 446.5) scale(1.1 1)" font-size="16.8" text-anchor="middle">0</text><line x1="362.7" y1="427" x2="362.7" y2="432.5" stroke="#000" stroke-width="1.5"/><text transform="translate(362.7 446.5) scale(1.1 1)" font-size="16.8" text-anchor="middle">2</text><line x1="403.4" y1="427" x2="403.4" y2="432.5" stroke="#000" stroke-width="1.5"/><text transform="translate(403.4 446.5) scale(1.1 1)" font-size="16.8" text-anchor="middle">4</text><line x1="445" y1="427" x2="445" y2="432.5" stroke="#000" stroke-width="1.5"/><text transform="translate(445 446.5) scale(1.1 1)" font-size="16.8" text-anchor="middle">6</text><line x1="322" y1="234.5" x2="426" y2="163.7" stroke="#000" stroke-width="1.5"/><text x="429.7" y="169.6" font-size="26.5" text-anchor="middle">***</text><text x="677.4" y="27" font-size="25" text-anchor="middle">MYD88</text><line x1="485" y1="33.8" x2="871" y2="33.8" stroke="#000" stroke-width="1.3"/><g fill="#1440ff" fill-opacity="0.5"><circle cx="540.5" cy="329.3" r="4"/><circle cx="540.5" cy="301.5" r="4"/><circle cx="551.1" cy="299.6" r="4"/><circle cx="529.9" cy="296.8" r="4"/><circle cx="535.2" cy="287.5" r="4"/><circle cx="545.8" cy="282.8" r="4"/><circle cx="540.5" cy="281" r="4"/><circle cx="551.1" cy="278.2" r="4"/><circle cx="529.9" cy="276.3" r="4"/><circle cx="535.2" cy="260.1" r="4"/><circle cx="545.8" cy="259.9" r="4"/><circle cx="524.6" cy="259" r="4"/><circle cx="556.4" cy="257.7" r="4"/><circle cx="536.1" cy="254.5" r="4"/><circle cx="544.9" cy="253.9" r="4"/><circle cx="527.5" cy="251.3" r="4"/><circle cx="553.5" cy="247.9" r="4"/><circle cx="518.8" cy="247.6" r="4"/><circle cx="562.2" cy="247.1" r="4"/><circle cx="540.5" cy="243.8" r="4"/><circle cx="545.9" cy="242.9" r="4"/><circle cx="535.1" cy="241.7" r="4"/><circle cx="551.4" cy="240.9" r="4"/><circle cx="529.6" cy="239.7" r="4"/><circle cx="556.8" cy="237.8" r="4"/><circle cx="524.2" cy="236.5" r="4"/><circle cx="562.2" cy="235.9" r="4"/><circle cx="518.8" cy="234.5" r="4"/><circle cx="539" cy="231.9" r="4"/><circle cx="542" cy="231.4" r="4"/><circle cx="536.1" cy="230.8" r="4"/><circle cx="544.9" cy="230.5" r="4"/><circle cx="533.2" cy="228.9" r="4"/><circle cx="547.8" cy="228.6" r="4"/><circle cx="530.4" cy="228.1" r="4"/><circle cx="550.6" cy="227.8" r="4"/><circle cx="527.5" cy="226.2" r="4"/><circle cx="553.5" cy="224.9" r="4"/><circle cx="524.5" cy="223.5" r="4"/><circle cx="556.5" cy="222.9" r="4"/><circle cx="521.6" cy="221.8" r="4"/><circle cx="559.4" cy="221.7" r="4"/><circle cx="518.8" cy="221.6" r="4"/><circle cx="562.2" cy="220.6" r="4"/><circle cx="540.5" cy="219.6" r="4"/><circle cx="543.6" cy="217" r="4"/><circle cx="537.4" cy="215.5" r="4"/><circle cx="546.7" cy="212.7" r="4"/><circle cx="534.3" cy="211.3" r="4"/><circle cx="549.8" cy="210.5" r="4"/><circle cx="531.2" cy="210.5" r="4"/><circle cx="552.9" cy="210.5" r="4"/><circle cx="528.1" cy="210" r="4"/><circle cx="556" cy="209.7" r="4"/><circle cx="525" cy="209.6" r="4"/><circle cx="559.1" cy="209.5" r="4"/><circle cx="521.9" cy="209.3" r="4"/><circle cx="562.2" cy="208.5" r="4"/><circle cx="518.8" cy="208.2" r="4"/><circle cx="540.5" cy="206.5" r="4"/><circle cx="542.7" cy="206" r="4"/><circle cx="538.3" cy="204.1" r="4"/><circle cx="544.9" cy="204.1" r="4"/><circle cx="536.1" cy="203.9" r="4"/><circle cx="547" cy="203.1" r="4"/><circle cx="534" cy="202.4" r="4"/><circle cx="549.2" cy="202.1" r="4"/><circle cx="531.8" cy="201.8" r="4"/><circle cx="551.4" cy="201.1" r="4"/><circle cx="529.6" cy="200.9" r="4"/><circle cx="553.5" cy="199.5" r="4"/><circle cx="527.5" cy="198.9" r="4"/><circle cx="555.7" cy="197.9" r="4"/><circle cx="525.3" cy="196.9" r="4"/><circle cx="557.9" cy="196.9" r="4"/><circle cx="523.1" cy="196.6" r="4"/><circle cx="560.1" cy="196.3" r="4"/><circle cx="520.9" cy="196" r="4"/><circle cx="562.2" cy="195.9" r="4"/><circle cx="518.8" cy="195.3" r="4"/><circle cx="540.5" cy="194.9" r="4"/><circle cx="542.3" cy="194.7" r="4"/><circle cx="538.7" cy="194.3" r="4"/><circle cx="544.1" cy="194.3" r="4"/><circle cx="536.9" cy="194.1" r="4"/><circle cx="545.9" cy="193" r="4"/><circle cx="535.1" cy="192.9" r="4"/><circle cx="547.8" cy="192.5" r="4"/><circle cx="533.2" cy="192.4" r="4"/><circle cx="549.6" cy="192.2" r="4"/><circle cx="531.4" cy="191.3" r="4"/><circle cx="551.4" cy="190.8" r="4"/><circle cx="529.6" cy="190.7" r="4"/><circle cx="553.2" cy="187.8" r="4"/><circle cx="527.8" cy="185.5" r="4"/><circle cx="555" cy="185.4" r="4"/><circle cx="526" cy="185.4" r="4"/><circle cx="556.8" cy="185" r="4"/><circle cx="524.2" cy="184.4" r="4"/><circle cx="558.6" cy="183.8" r="4"/><circle cx="522.4" cy="183.4" r="4"/><circle cx="560.4" cy="183.3" r="4"/><circle cx="520.6" cy="183.2" r="4"/><circle cx="562.2" cy="183.2" r="4"/><circle cx="518.8" cy="182.6" r="4"/><circle cx="539.8" cy="182.5" r="4"/><circle cx="541.2" cy="181.9" r="4"/><circle cx="538.5" cy="181.7" r="4"/><circle cx="542.5" cy="181.3" r="4"/><circle cx="537.2" cy="180.7" r="4"/><circle cx="543.8" cy="180.6" r="4"/><circle cx="535.9" cy="180.6" r="4"/><circle cx="545.1" cy="180.3" r="4"/><circle cx="534.6" cy="179.9" r="4"/><circle cx="546.4" cy="179.7" r="4"/><circle cx="533.2" cy="179.2" r="4"/><circle cx="547.8" cy="179.2" r="4"/><circle cx="531.9" cy="178.6" r="4"/><circle cx="549.1" cy="178.3" r="4"/><circle cx="530.6" cy="177.8" r="4"/><circle cx="550.4" cy="177.2" r="4"/><circle cx="529.3" cy="177.1" r="4"/><circle cx="551.7" cy="176.9" r="4"/><circle cx="528" cy="176.4" r="4"/><circle cx="553" cy="176.1" r="4"/><circle cx="526.7" cy="175.7" r="4"/><circle cx="554.3" cy="174.9" r="4"/><circle cx="525.3" cy="174.7" r="4"/><circle cx="555.7" cy="173.7" r="4"/><circle cx="524" cy="173.6" r="4"/><circle cx="557" cy="173" r="4"/><circle cx="522.7" cy="172.9" r="4"/><circle cx="558.3" cy="172.8" r="4"/><circle cx="521.4" cy="172.2" r="4"/><circle cx="559.6" cy="172" r="4"/><circle cx="520.1" cy="171.8" r="4"/><circle cx="560.9" cy="171.8" r="4"/><circle cx="518.8" cy="170.8" r="4"/><circle cx="562.2" cy="170.6" r="4"/><circle cx="539.7" cy="169.5" r="4"/><circle cx="541.3" cy="169.4" r="4"/><circle cx="538.1" cy="169.4" r="4"/><circle cx="542.9" cy="169" r="4"/><circle cx="536.5" cy="168.8" r="4"/><circle cx="544.5" cy="168" r="4"/><circle cx="534.9" cy="167.8" r="4"/><circle cx="546.1" cy="167.7" r="4"/><circle cx="533.2" cy="167.2" r="4"/><circle cx="547.8" cy="166.9" r="4"/><circle cx="531.6" cy="166.5" r="4"/><circle cx="549.4" cy="166.3" r="4"/><circle cx="530" cy="165.8" r="4"/><circle cx="551" cy="164.3" r="4"/><circle cx="528.4" cy="163.8" r="4"/><circle cx="552.6" cy="163.6" r="4"/><circle cx="526.8" cy="163.6" r="4"/><circle cx="554.2" cy="163.2" r="4"/><circle cx="525.2" cy="162.9" r="4"/><circle cx="555.8" cy="162.1" r="4"/><circle cx="523.6" cy="161.8" r="4"/><circle cx="557.4" cy="161.7" r="4"/><circle cx="522" cy="161.2" r="4"/><circle cx="559" cy="161.1" r="4"/><circle cx="520.4" cy="159.5" r="4"/><circle cx="560.6" cy="159.5" r="4"/><circle cx="518.8" cy="159.3" r="4"/><circle cx="562.2" cy="157.8" r="4"/><circle cx="540.5" cy="157.6" r="4"/><circle cx="542.1" cy="157.3" r="4"/><circle cx="538.9" cy="156.5" r="4"/><circle cx="543.6" cy="156.4" r="4"/><circle cx="537.4" cy="155.7" r="4"/><circle cx="545.2" cy="155.4" r="4"/><circle cx="535.8" cy="155.2" r="4"/><circle cx="546.7" cy="155.1" r="4"/><circle cx="534.3" cy="154.3" r="4"/><circle cx="548.3" cy="154.2" r="4"/><circle cx="532.7" cy="154.1" r="4"/><circle cx="549.8" cy="153.5" r="4"/><circle cx="531.2" cy="153.4" r="4"/><circle cx="551.4" cy="151.9" r="4"/><circle cx="529.6" cy="151.8" r="4"/><circle cx="552.9" cy="151.7" r="4"/><circle cx="528.1" cy="151.3" r="4"/><circle cx="554.5" cy="151.2" r="4"/><circle cx="526.5" cy="150.7" r="4"/><circle cx="556" cy="149.9" r="4"/><circle cx="525" cy="148.6" r="4"/><circle cx="557.6" cy="148.1" r="4"/><circle cx="523.4" cy="147.5" r="4"/><circle cx="559.1" cy="147" r="4"/><circle cx="521.9" cy="146.9" r="4"/><circle cx="560.7" cy="146.8" r="4"/><circle cx="520.3" cy="146.3" r="4"/><circle cx="562.2" cy="145.8" r="4"/><circle cx="518.8" cy="145.4" r="4"/><circle cx="540.5" cy="144.9" r="4"/><circle cx="542" cy="144.8" r="4"/><circle cx="539" cy="144.6" r="4"/><circle cx="543.4" cy="144.3" r="4"/><circle cx="537.6" cy="143.7" r="4"/><circle cx="544.9" cy="143.6" r="4"/><circle cx="536.1" cy="142.6" r="4"/><circle cx="546.3" cy="141.9" r="4"/><circle cx="534.7" cy="141.8" r="4"/><circle cx="547.8" cy="140.6" r="4"/><circle cx="533.2" cy="140.5" r="4"/><circle cx="549.2" cy="139.9" r="4"/><circle cx="531.8" cy="138.8" r="4"/><circle cx="550.6" cy="138.5" r="4"/><circle cx="530.4" cy="137.9" r="4"/><circle cx="552.1" cy="137.9" r="4"/><circle cx="528.9" cy="137.7" r="4"/><circle cx="553.5" cy="137.5" r="4"/><circle cx="527.5" cy="137.4" r="4"/><circle cx="555" cy="137" r="4"/><circle cx="526" cy="137" r="4"/><circle cx="556.5" cy="137" r="4"/><circle cx="524.5" cy="136.5" r="4"/><circle cx="557.9" cy="136.2" r="4"/><circle cx="523.1" cy="134.8" r="4"/><circle cx="559.4" cy="134.8" r="4"/><circle cx="521.6" cy="134.7" r="4"/><circle cx="560.8" cy="134.5" r="4"/><circle cx="520.2" cy="134.1" r="4"/><circle cx="562.2" cy="134.1" r="4"/><circle cx="518.8" cy="133.6" r="4"/><circle cx="539.6" cy="132.9" r="4"/><circle cx="541.4" cy="131.6" r="4"/><circle cx="537.7" cy="131.5" r="4"/><circle cx="543.3" cy="130.7" r="4"/><circle cx="535.8" cy="130.3" r="4"/><circle cx="545.2" cy="130.2" r="4"/><circle cx="533.9" cy="129.5" r="4"/><circle cx="547.1" cy="128.7" r="4"/><circle cx="532" cy="128.6" r="4"/><circle cx="549" cy="128.5" r="4"/><circle cx="530.1" cy="128.1" r="4"/><circle cx="550.9" cy="127.9" r="4"/><circle cx="528.2" cy="127.4" r="4"/><circle cx="552.8" cy="126.8" r="4"/><circle cx="526.3" cy="126.8" r="4"/><circle cx="554.7" cy="126.5" r="4"/><circle cx="524.4" cy="126.4" r="4"/><circle cx="556.6" cy="124.9" r="4"/><circle cx="522.5" cy="123.7" r="4"/><circle cx="558.5" cy="123.7" r="4"/><circle cx="520.6" cy="123.5" r="4"/><circle cx="560.4" cy="123.5" r="4"/><circle cx="518.8" cy="120.8" r="4"/><circle cx="562.2" cy="120.7" r="4"/><circle cx="540.5" cy="120.5" r="4"/><circle cx="542.9" cy="119.2" r="4"/><circle cx="538.1" cy="118.7" r="4"/><circle cx="545.3" cy="118.3" r="4"/><circle cx="535.7" cy="117.5" r="4"/><circle cx="547.8" cy="117.2" r="4"/><circle cx="533.2" cy="116" r="4"/><circle cx="550.2" cy="115.8" r="4"/><circle cx="530.8" cy="115.6" r="4"/><circle cx="552.6" cy="114.6" r="4"/><circle cx="528.4" cy="114.6" r="4"/><circle cx="555" cy="114.4" r="4"/><circle cx="526" cy="113.6" r="4"/><circle cx="557.4" cy="113.5" r="4"/><circle cx="523.6" cy="112.8" r="4"/><circle cx="559.8" cy="110.9" r="4"/><circle cx="521.2" cy="110.9" r="4"/><circle cx="562.2" cy="110.2" r="4"/><circle cx="518.8" cy="109.9" r="4"/><circle cx="540.5" cy="107.2" r="4"/><circle cx="545.9" cy="107.1" r="4"/><circle cx="535.1" cy="105.3" r="4"/><circle cx="551.4" cy="104.2" r="4"/><circle cx="529.6" cy="102.9" r="4"/><circle cx="556.8" cy="102.1" r="4"/><circle cx="524.2" cy="101.5" r="4"/><circle cx="562.2" cy="99" r="4"/><circle cx="518.8" cy="99" r="4"/><circle cx="540.5" cy="94.1" r="4"/><circle cx="545.9" cy="93.4" r="4"/><circle cx="535.1" cy="93.1" r="4"/><circle cx="551.4" cy="92.8" r="4"/><circle cx="529.6" cy="89.2" r="4"/><circle cx="556.8" cy="88.3" r="4"/><circle cx="524.2" cy="88.2" r="4"/><circle cx="562.2" cy="87.1" r="4"/><circle cx="518.8" cy="84.8" r="4"/><circle cx="535.2" cy="80.7" r="4"/><circle cx="545.8" cy="79.1" r="4"/><circle cx="524.6" cy="78.6" r="4"/><circle cx="556.4" cy="73.6" r="4"/><circle cx="540.5" cy="67.1" r="4"/></g><g fill="#ff8a1a" fill-opacity="0.55"><circle cx="609" cy="343.3" r="4"/><circle cx="603.7" cy="324.7" r="4"/><circle cx="614.3" cy="322.8" r="4"/><circle cx="603.7" cy="320" r="4"/><circle cx="614.3" cy="310.8" r="4"/><circle cx="609" cy="298.7" r="4"/><circle cx="603.7" cy="294.9" r="4"/><circle cx="614.3" cy="292.2" r="4"/><circle cx="603.7" cy="280.9" r="4"/><circle cx="614.3" cy="278.9" r="4"/><circle cx="593.1" cy="278.9" r="4"/><circle cx="624.9" cy="273.7" r="4"/><circle cx="609" cy="267.8" r="4"/><circle cx="616.2" cy="265" r="4"/><circle cx="601.8" cy="262.9" r="4"/><circle cx="623.5" cy="262.7" r="4"/><circle cx="594.5" cy="262.4" r="4"/><circle cx="630.8" cy="260.8" r="4"/><circle cx="587.2" cy="260" r="4"/><circle cx="606.6" cy="254.2" r="4"/><circle cx="611.4" cy="253.7" r="4"/><circle cx="601.8" cy="252.1" r="4"/><circle cx="616.2" cy="252.1" r="4"/><circle cx="596.9" cy="250.7" r="4"/><circle cx="621.1" cy="249.4" r="4"/><circle cx="592.1" cy="249.3" r="4"/><circle cx="625.9" cy="247.3" r="4"/><circle cx="587.2" cy="246.5" r="4"/><circle cx="630.8" cy="246.3" r="4"/><circle cx="606.6" cy="245.8" r="4"/><circle cx="611.4" cy="242.4" r="4"/><circle cx="601.8" cy="240.6" r="4"/><circle cx="616.2" cy="240.3" r="4"/><circle cx="596.9" cy="239.2" r="4"/><circle cx="621.1" cy="238" r="4"/><circle cx="592.1" cy="236.2" r="4"/><circle cx="625.9" cy="236.2" r="4"/><circle cx="587.2" cy="235.1" r="4"/><circle cx="630.8" cy="234.4" r="4"/><circle cx="609" cy="232.9" r="4"/><circle cx="612.6" cy="232.1" r="4"/><circle cx="605.4" cy="231.1" r="4"/><circle cx="616.2" cy="229.6" r="4"/><circle cx="601.8" cy="229.4" r="4"/><circle cx="619.9" cy="228.7" r="4"/><circle cx="598.1" cy="228.7" r="4"/><circle cx="623.5" cy="227.9" r="4"/><circle cx="594.5" cy="227.6" r="4"/><circle cx="627.1" cy="227.1" r="4"/><circle cx="590.9" cy="226.5" r="4"/><circle cx="630.8" cy="223.7" r="4"/><circle cx="587.2" cy="221.7" r="4"/><circle cx="607" cy="220.9" r="4"/><circle cx="611" cy="220.8" r="4"/><circle cx="603.1" cy="220.5" r="4"/><circle cx="614.9" cy="219.7" r="4"/><circle cx="599.1" cy="218.2" r="4"/><circle cx="618.9" cy="218.1" r="4"/><circle cx="595.2" cy="218" r="4"/><circle cx="622.8" cy="215.7" r="4"/><circle cx="591.2" cy="215.6" r="4"/><circle cx="626.8" cy="215" r="4"/><circle cx="587.2" cy="212.8" r="4"/><circle cx="630.8" cy="209.8" r="4"/><circle cx="609" cy="208.8" r="4"/><circle cx="611.7" cy="208.2" r="4"/><circle cx="606.3" cy="208.1" r="4"/><circle cx="614.4" cy="206.8" r="4"/><circle cx="603.6" cy="206.2" r="4"/><circle cx="617.2" cy="205.7" r="4"/><circle cx="600.8" cy="205.5" r="4"/><circle cx="619.9" cy="205.1" r="4"/><circle cx="598.1" cy="204.7" r="4"/><circle cx="622.6" cy="204.5" r="4"/><circle cx="595.4" cy="202.5" r="4"/><circle cx="625.3" cy="201.1" r="4"/><circle cx="592.7" cy="201" r="4"/><circle cx="628" cy="199.9" r="4"/><circle cx="590" cy="199.6" r="4"/><circle cx="630.8" cy="198.1" r="4"/><circle cx="587.2" cy="196.9" r="4"/><circle cx="609" cy="194.9" r="4"/><circle cx="611.7" cy="192.6" r="4"/><circle cx="606.3" cy="192.1" r="4"/><circle cx="614.4" cy="191.8" r="4"/><circle cx="603.6" cy="191.6" r="4"/><circle cx="617.2" cy="190.4" r="4"/><circle cx="600.8" cy="189.4" r="4"/><circle cx="619.9" cy="189.4" r="4"/><circle cx="598.1" cy="189.3" r="4"/><circle cx="622.6" cy="188.9" r="4"/><circle cx="595.4" cy="188.7" r="4"/><circle cx="625.3" cy="188.2" r="4"/><circle cx="592.7" cy="187.3" r="4"/><circle cx="628" cy="185.4" r="4"/><circle cx="590" cy="184.9" r="4"/><circle cx="630.8" cy="184.8" r="4"/><circle cx="587.2" cy="184.2" r="4"/><circle cx="607.5" cy="183.3" r="4"/><circle cx="610.5" cy="182.9" r="4"/><circle cx="604.6" cy="182.1" r="4"/><circle cx="613.4" cy="181.8" r="4"/><circle cx="601.8" cy="181.7" r="4"/><circle cx="616.2" cy="181.6" r="4"/><circle cx="598.9" cy="180.8" r="4"/><circle cx="619.1" cy="179.8" r="4"/><circle cx="596" cy="178" r="4"/><circle cx="622" cy="176.9" r="4"/><circle cx="593" cy="176.8" r="4"/><circle cx="625" cy="176.6" r="4"/><circle cx="590.1" cy="176.6" r="4"/><circle cx="627.9" cy="174" r="4"/><circle cx="587.2" cy="173.8" r="4"/><circle cx="630.8" cy="173.8" r="4"/><circle cx="609" cy="171.3" r="4"/><circle cx="613.4" cy="169.7" r="4"/><circle cx="604.6" cy="168.3" r="4"/><circle cx="617.7" cy="167.6" r="4"/><circle cx="600.3" cy="167.5" r="4"/><circle cx="622" cy="165.7" r="4"/><circle cx="596" cy="164.2" r="4"/><circle cx="626.4" cy="162.8" r="4"/><circle cx="591.6" cy="161.7" r="4"/><circle cx="630.8" cy="159.4" r="4"/><circle cx="587.2" cy="159.4" r="4"/><circle cx="607.9" cy="159.2" r="4"/><circle cx="610.1" cy="158.7" r="4"/><circle cx="605.6" cy="158.3" r="4"/><circle cx="612.4" cy="157.9" r="4"/><circle cx="603.3" cy="157.2" r="4"/><circle cx="614.7" cy="156.7" r="4"/><circle cx="601" cy="155.9" r="4"/><circle cx="617" cy="154.8" r="4"/><circle cx="598.7" cy="152.8" r="4"/><circle cx="619.3" cy="152.4" r="4"/><circle cx="596.4" cy="151.9" r="4"/><circle cx="621.6" cy="150.7" r="4"/><circle cx="594.1" cy="150.5" r="4"/><circle cx="623.9" cy="150.4" r="4"/><circle cx="591.8" cy="149.8" r="4"/><circle cx="626.2" cy="149.4" r="4"/><circle cx="589.5" cy="149.4" r="4"/><circle cx="628.5" cy="149" r="4"/><circle cx="587.2" cy="148.6" r="4"/><circle cx="630.8" cy="148.6" r="4"/><circle cx="604.6" cy="146.5" r="4"/><circle cx="613.4" cy="143.3" r="4"/><circle cx="596" cy="142.8" r="4"/><circle cx="622" cy="141.1" r="4"/><circle cx="587.2" cy="138" r="4"/><circle cx="630.8" cy="136.4" r="4"/><circle cx="609" cy="132.7" r="4"/><circle cx="619.6" cy="132" r="4"/><circle cx="598.4" cy="125.9" r="4"/><circle cx="630.2" cy="122.5" r="4"/><circle cx="587.8" cy="122.4" r="4"/><circle cx="609" cy="119.8" r="4"/><circle cx="619.6" cy="119" r="4"/><circle cx="598.4" cy="116.8" r="4"/><circle cx="630.2" cy="116.5" r="4"/><circle cx="587.8" cy="115.9" r="4"/><circle cx="609" cy="106.2" r="4"/><circle cx="609" cy="94.1" r="4"/></g><g fill="#a0a0a0" fill-opacity="0.6"><circle cx="678" cy="410.3" r="4"/><circle cx="678" cy="317.3" r="4"/><circle cx="672.7" cy="303.3" r="4"/><circle cx="683.3" cy="301.5" r="4"/><circle cx="678" cy="261.5" r="4"/><circle cx="688.6" cy="259.6" r="4"/><circle cx="667.4" cy="258.7" r="4"/><circle cx="699.2" cy="258.6" r="4"/><circle cx="656.8" cy="255" r="4"/><circle cx="678" cy="244.5" r="4"/><circle cx="678" cy="232.2" r="4"/><circle cx="688.6" cy="232.2" r="4"/><circle cx="667.4" cy="228" r="4"/><circle cx="678" cy="225" r="4"/><circle cx="688.6" cy="223" r="4"/><circle cx="667.4" cy="222.1" r="4"/><circle cx="699.2" cy="219.5" r="4"/><circle cx="656.8" cy="214.9" r="4"/><circle cx="674.9" cy="212.7" r="4"/><circle cx="681.1" cy="212.5" r="4"/><circle cx="668.7" cy="211" r="4"/><circle cx="687.3" cy="210.3" r="4"/><circle cx="662.5" cy="209.6" r="4"/><circle cx="693.5" cy="208.3" r="4"/><circle cx="656.2" cy="208" r="4"/><circle cx="699.8" cy="202.7" r="4"/><circle cx="678" cy="201.2" r="4"/><circle cx="683.4" cy="201.2" r="4"/><circle cx="672.6" cy="200.5" r="4"/><circle cx="688.9" cy="199.7" r="4"/><circle cx="667.1" cy="199.1" r="4"/><circle cx="694.3" cy="197.7" r="4"/><circle cx="661.7" cy="194.2" r="4"/><circle cx="699.8" cy="191.9" r="4"/><circle cx="656.2" cy="189.9" r="4"/><circle cx="676.5" cy="187.8" r="4"/><circle cx="679.5" cy="187.6" r="4"/><circle cx="673.6" cy="186.7" r="4"/><circle cx="682.4" cy="186.2" r="4"/><circle cx="670.8" cy="186.1" r="4"/><circle cx="685.2" cy="185.9" r="4"/><circle cx="667.9" cy="185" r="4"/><circle cx="688.1" cy="184.6" r="4"/><circle cx="665" cy="184.5" r="4"/><circle cx="691" cy="182.5" r="4"/><circle cx="662" cy="182.1" r="4"/><circle cx="694" cy="181.6" r="4"/><circle cx="659.1" cy="180" r="4"/><circle cx="696.9" cy="179.5" r="4"/><circle cx="656.2" cy="179.2" r="4"/><circle cx="699.8" cy="177.3" r="4"/><circle cx="678" cy="176" r="4"/><circle cx="681.1" cy="176" r="4"/><circle cx="674.9" cy="175.5" r="4"/><circle cx="684.2" cy="174.6" r="4"/><circle cx="671.8" cy="174.3" r="4"/><circle cx="687.3" cy="173" r="4"/><circle cx="668.7" cy="171.7" r="4"/><circle cx="690.4" cy="171.5" r="4"/><circle cx="665.6" cy="170.6" r="4"/><circle cx="693.5" cy="169.8" r="4"/><circle cx="662.5" cy="168.1" r="4"/><circle cx="696.6" cy="167.1" r="4"/><circle cx="659.4" cy="166" r="4"/><circle cx="699.8" cy="165.4" r="4"/><circle cx="656.2" cy="164.4" r="4"/><circle cx="678" cy="163.5" r="4"/><circle cx="681.6" cy="163" r="4"/><circle cx="674.4" cy="162.5" r="4"/><circle cx="685.2" cy="161.6" r="4"/><circle cx="670.8" cy="161.1" r="4"/><circle cx="688.9" cy="159" r="4"/><circle cx="667.1" cy="158.1" r="4"/><circle cx="692.5" cy="157.3" r="4"/><circle cx="663.5" cy="155.7" r="4"/><circle cx="696.1" cy="154.3" r="4"/><circle cx="659.9" cy="153.7" r="4"/><circle cx="699.8" cy="153.5" r="4"/><circle cx="656.2" cy="153.4" r="4"/><circle cx="678" cy="151" r="4"/><circle cx="683.4" cy="149.7" r="4"/><circle cx="672.6" cy="149.4" r="4"/><circle cx="688.9" cy="148.8" r="4"/><circle cx="667.1" cy="147.6" r="4"/><circle cx="694.3" cy="145.9" r="4"/><circle cx="661.7" cy="145.8" r="4"/><circle cx="699.8" cy="145.2" r="4"/><circle cx="656.2" cy="143.8" r="4"/><circle cx="678" cy="137.2" r="4"/><circle cx="685.2" cy="137.2" r="4"/><circle cx="670.8" cy="136.5" r="4"/><circle cx="692.5" cy="133.1" r="4"/><circle cx="663.5" cy="133" r="4"/><circle cx="699.8" cy="130.5" r="4"/><circle cx="656.2" cy="129.2" r="4"/><circle cx="678" cy="124.4" r="4"/><circle cx="675.6" cy="111.8" r="4"/><circle cx="680.4" cy="111.1" r="4"/><circle cx="670.8" cy="109.9" r="4"/><circle cx="685.2" cy="109.1" r="4"/><circle cx="665.9" cy="108.6" r="4"/><circle cx="690.1" cy="107.8" r="4"/><circle cx="661.1" cy="105.7" r="4"/><circle cx="694.9" cy="103.5" r="4"/><circle cx="656.2" cy="102.9" r="4"/><circle cx="699.8" cy="102.8" r="4"/><circle cx="672.7" cy="102.1" r="4"/><circle cx="683.3" cy="101.6" r="4"/><circle cx="662.1" cy="98.8" r="4"/><circle cx="693.9" cy="96.4" r="4"/><circle cx="678" cy="89.3" r="4"/><circle cx="688.6" cy="84.6" r="4"/><circle cx="667.4" cy="82.2" r="4"/></g><line x1="485.2" y1="54.3" x2="485.2" y2="427.7" stroke="#000" stroke-width="1.5"/><line x1="484.5" y1="427" x2="732.7" y2="427" stroke="#000" stroke-width="1.5"/><line x1="479.7" y1="55" x2="485.2" y2="55" stroke="#000" stroke-width="1.5"/><text transform="translate(478.7 61) scale(1.1 1)" font-size="16.8" text-anchor="end">13</text><line x1="479.7" y1="148" x2="485.2" y2="148" stroke="#000" stroke-width="1.5"/><text transform="translate(478.7 154) scale(1.1 1)" font-size="16.8" text-anchor="end">12</text><line x1="479.7" y1="241" x2="485.2" y2="241" stroke="#000" stroke-width="1.5"/><text transform="translate(478.7 247) scale(1.1 1)" font-size="16.8" text-anchor="end">11</text><line x1="479.7" y1="334" x2="485.2" y2="334" stroke="#000" stroke-width="1.5"/><text transform="translate(478.7 340) scale(1.1 1)" font-size="16.8" text-anchor="end">10</text><line x1="479.7" y1="427" x2="485.2" y2="427" stroke="#000" stroke-width="1.5"/><text transform="translate(478.7 433) scale(1.1 1)" font-size="16.8" text-anchor="end">9</text><text x="540.5" y="446.5" font-size="22.5" text-anchor="middle">ABC</text><text x="609" y="446.5" font-size="22.5" text-anchor="middle">GCB</text><text x="678" y="446.5" font-size="22.5" text-anchor="middle">Unc</text><line x1="513" y1="168.5" x2="568" y2="168.5" stroke="#000" stroke-width="1.5"/><line x1="540.5" y1="121" x2="540.5" y2="215" stroke="#000" stroke-width="1.5"/><line x1="526.5" y1="121" x2="554.5" y2="121" stroke="#000" stroke-width="1.5"/><line x1="526.5" y1="215" x2="554.5" y2="215" stroke="#000" stroke-width="1.5"/><line x1="581.5" y1="200.1" x2="636.5" y2="200.1" stroke="#000" stroke-width="1.5"/><line x1="609" y1="151.7" x2="609" y2="248.4" stroke="#000" stroke-width="1.5"/><line x1="595" y1="151.7" x2="623" y2="151.7" stroke="#000" stroke-width="1.5"/><line x1="595" y1="248.4" x2="623" y2="248.4" stroke="#000" stroke-width="1.5"/><line x1="650.5" y1="175.9" x2="705.5" y2="175.9" stroke="#000" stroke-width="1.5"/><line x1="678" y1="126.6" x2="678" y2="224.3" stroke="#000" stroke-width="1.5"/><line x1="664" y1="126.6" x2="692" y2="126.6" stroke="#000" stroke-width="1.5"/><line x1="664" y1="224.3" x2="692" y2="224.3" stroke="#000" stroke-width="1.5"/><line x1="538.5" y1="56.2" x2="606.6" y2="56.2" stroke="#000" stroke-width="1.3"/><text x="572.5" y="64.7" font-size="26.5" text-anchor="middle">***</text><line x1="609.5" y1="72.5" x2="678" y2="72.5" stroke="#000" stroke-width="1.3"/><text x="643.3" y="81" font-size="26.5" text-anchor="middle">***</text><g fill="#1440ff" fill-opacity="0.5"><circle cx="781.5" cy="196.7" r="3.1"/><circle cx="779" cy="178.4" r="3.1"/><circle cx="779.9" cy="163.9" r="3.1"/><circle cx="780.3" cy="224.8" r="3.1"/><circle cx="780.1" cy="182.1" r="3.1"/><circle cx="779" cy="204.2" r="3.1"/><circle cx="780.3" cy="252" r="3.1"/><circle cx="779.1" cy="200.2" r="3.1"/><circle cx="780" cy="155.3" r="3.1"/><circle cx="778.9" cy="165.5" r="3.1"/><circle cx="780.7" cy="107.9" r="3.1"/><circle cx="779.7" cy="222.3" r="3.1"/><circle cx="778.7" cy="154.2" r="3.1"/><circle cx="781.3" cy="211.7" r="3.1"/><circle cx="780.5" cy="139.3" r="3.1"/><circle cx="781" cy="197.2" r="3.1"/><circle cx="780.7" cy="179.9" r="3.1"/><circle cx="779.3" cy="164.6" r="3.1"/><circle cx="780.5" cy="220.7" r="3.1"/><circle cx="778.8" cy="142.6" r="3.1"/><circle cx="781" cy="172.7" r="3.1"/><circle cx="780.5" cy="187.3" r="3.1"/><circle cx="781.4" cy="219" r="3.1"/><circle cx="780" cy="265.9" r="3.1"/><circle cx="780.5" cy="158.9" r="3.1"/><circle cx="778.6" cy="217.1" r="3.1"/><circle cx="780.6" cy="199.8" r="3.1"/><circle cx="779" cy="293.7" r="3.1"/><circle cx="779.7" cy="157.9" r="3.1"/><circle cx="780.5" cy="182.2" r="3.1"/><circle cx="780.2" cy="173" r="3.1"/><circle cx="782.6" cy="163.9" r="3.1"/><circle cx="781.8" cy="216.5" r="3.1"/><circle cx="779.9" cy="125.6" r="3.1"/><circle cx="779.1" cy="238.8" r="3.1"/><circle cx="780.4" cy="270.2" r="3.1"/><circle cx="781.7" cy="143" r="3.1"/><circle cx="780.4" cy="146.2" r="3.1"/><circle cx="779.3" cy="220.7" r="3.1"/><circle cx="780.9" cy="133" r="3.1"/><circle cx="780.3" cy="178.6" r="3.1"/><circle cx="779.7" cy="111.4" r="3.1"/><circle cx="778.8" cy="216.1" r="3.1"/><circle cx="779.7" cy="247.2" r="3.1"/><circle cx="778.9" cy="224" r="3.1"/><circle cx="780.5" cy="251.3" r="3.1"/><circle cx="779.6" cy="182.2" r="3.1"/><circle cx="779.9" cy="193.2" r="3.1"/><circle cx="780.6" cy="266.3" r="3.1"/><circle cx="779.6" cy="165.8" r="3.1"/><circle cx="780.8" cy="162.4" r="3.1"/><circle cx="780.2" cy="181.9" r="3.1"/><circle cx="779.6" cy="171.1" r="3.1"/><circle cx="780" cy="207.7" r="3.1"/><circle cx="781.3" cy="119.5" r="3.1"/><circle cx="779.9" cy="145.8" r="3.1"/><circle cx="781.3" cy="161.9" r="3.1"/><circle cx="780.3" cy="151.1" r="3.1"/><circle cx="778.7" cy="240.5" r="3.1"/><circle cx="780.7" cy="161.1" r="3.1"/><circle cx="781.5" cy="196.9" r="3.1"/><circle cx="781.2" cy="124.5" r="3.1"/><circle cx="782" cy="210.9" r="3.1"/><circle cx="779.9" cy="160.8" r="3.1"/><circle cx="780.5" cy="219.9" r="3.1"/><circle cx="779.7" cy="234" r="3.1"/><circle cx="782.3" cy="176.6" r="3.1"/><circle cx="780.2" cy="202" r="3.1"/><circle cx="780.2" cy="136.9" r="3.1"/><circle cx="779.9" cy="174.8" r="3.1"/><circle cx="782.2" cy="130.6" r="3.1"/><circle cx="780.4" cy="193.1" r="3.1"/><circle cx="780.2" cy="208" r="3.1"/><circle cx="780.5" cy="204.9" r="3.1"/><circle cx="779.5" cy="192.9" r="3.1"/><circle cx="779.2" cy="165.3" r="3.1"/><circle cx="782.5" cy="203.6" r="3.1"/><circle cx="778.7" cy="130.6" r="3.1"/><circle cx="780.5" cy="132.8" r="3.1"/><circle cx="779.4" cy="250.4" r="3.1"/><circle cx="780" cy="145.8" r="3.1"/><circle cx="779.4" cy="251" r="3.1"/><circle cx="779.6" cy="198.2" r="3.1"/><circle cx="779.8" cy="179.5" r="3.1"/><circle cx="782.3" cy="176.9" r="3.1"/><circle cx="779.7" cy="228.8" r="3.1"/><circle cx="780.8" cy="252.1" r="3.1"/><circle cx="781.4" cy="179.1" r="3.1"/><circle cx="778.7" cy="170.4" r="3.1"/><circle cx="780" cy="122.1" r="3.1"/><circle cx="778.7" cy="169.7" r="3.1"/><circle cx="780.1" cy="136.6" r="3.1"/><circle cx="779.1" cy="215.3" r="3.1"/><circle cx="781.9" cy="153.5" r="3.1"/><circle cx="778.7" cy="164.3" r="3.1"/><circle cx="779.4" cy="211.3" r="3.1"/><circle cx="779" cy="133.8" r="3.1"/><circle cx="779.6" cy="170.3" r="3.1"/><circle cx="780.2" cy="249.9" r="3.1"/><circle cx="779.4" cy="144" r="3.1"/><circle cx="778.7" cy="168" r="3.1"/><circle cx="780" cy="149.5" r="3.1"/><circle cx="780.7" cy="141.2" r="3.1"/><circle cx="780.2" cy="167.4" r="3.1"/><circle cx="779.5" cy="204.4" r="3.1"/><circle cx="780.9" cy="206.8" r="3.1"/><circle cx="781" cy="132.7" r="3.1"/><circle cx="779.4" cy="153" r="3.1"/><circle cx="779.4" cy="163.1" r="3.1"/><circle cx="779.4" cy="163.3" r="3.1"/><circle cx="780.3" cy="227" r="3.1"/><circle cx="782" cy="134" r="3.1"/><circle cx="778.6" cy="162.3" r="3.1"/><circle cx="780.1" cy="159.9" r="3.1"/><circle cx="780" cy="148.8" r="3.1"/><circle cx="779.6" cy="219.7" r="3.1"/><circle cx="779.7" cy="197.6" r="3.1"/><circle cx="780.7" cy="173.8" r="3.1"/><circle cx="779.7" cy="196.7" r="3.1"/><circle cx="779.3" cy="171.8" r="3.1"/><circle cx="778.3" cy="188" r="3.1"/><circle cx="781.2" cy="194.5" r="3.1"/><circle cx="779.5" cy="175.6" r="3.1"/><circle cx="779.3" cy="212.8" r="3.1"/><circle cx="780.8" cy="207" r="3.1"/><circle cx="781.9" cy="152.5" r="3.1"/><circle cx="780" cy="206.2" r="3.1"/><circle cx="779.9" cy="282.8" r="3.1"/><circle cx="780.4" cy="136.2" r="3.1"/><circle cx="780.7" cy="197.5" r="3.1"/><circle cx="780.7" cy="147.8" r="3.1"/><circle cx="780" cy="161.2" r="3.1"/><circle cx="781.1" cy="156.2" r="3.1"/><circle cx="779.8" cy="176.8" r="3.1"/><circle cx="780.3" cy="251.8" r="3.1"/><circle cx="780.3" cy="183.2" r="3.1"/><circle cx="778.2" cy="256.7" r="3.1"/><circle cx="781.8" cy="172.5" r="3.1"/><circle cx="781.4" cy="194.6" r="3.1"/><circle cx="781.5" cy="150.7" r="3.1"/><circle cx="779.5" cy="164.2" r="3.1"/><circle cx="780.6" cy="197.6" r="3.1"/><circle cx="779.4" cy="144.8" r="3.1"/><circle cx="781.2" cy="169.9" r="3.1"/><circle cx="780.1" cy="138.4" r="3.1"/><circle cx="780.6" cy="157.9" r="3.1"/><circle cx="778.8" cy="191.4" r="3.1"/><circle cx="781.9" cy="176.7" r="3.1"/><circle cx="782.4" cy="157.9" r="3.1"/><circle cx="779.9" cy="162.7" r="3.1"/><circle cx="780.7" cy="209.3" r="3.1"/><circle cx="780.4" cy="195.1" r="3.1"/><circle cx="781.5" cy="196.9" r="3.1"/><circle cx="780.3" cy="245.6" r="3.1"/><circle cx="778.9" cy="180" r="3.1"/><circle cx="779.3" cy="189.5" r="3.1"/><circle cx="780.4" cy="149.8" r="3.1"/><circle cx="778.9" cy="184.5" r="3.1"/><circle cx="780.8" cy="207.3" r="3.1"/><circle cx="779" cy="208" r="3.1"/><circle cx="781.7" cy="175" r="3.1"/><circle cx="781.6" cy="190.1" r="3.1"/><circle cx="781.3" cy="243" r="3.1"/><circle cx="779.9" cy="171.8" r="3.1"/><circle cx="781.8" cy="154" r="3.1"/><circle cx="781.2" cy="195.3" r="3.1"/><circle cx="779.8" cy="116.6" r="3.1"/><circle cx="781.5" cy="118.6" r="3.1"/><circle cx="781.3" cy="200" r="3.1"/><circle cx="782.1" cy="167.7" r="3.1"/><circle cx="781.3" cy="140.7" r="3.1"/><circle cx="778.6" cy="265.9" r="3.1"/><circle cx="778.7" cy="177.8" r="3.1"/><circle cx="781.2" cy="187.1" r="3.1"/><circle cx="780.9" cy="233" r="3.1"/><circle cx="779.6" cy="217.4" r="3.1"/><circle cx="780.2" cy="229.2" r="3.1"/><circle cx="780.1" cy="148.1" r="3.1"/><circle cx="779.7" cy="217.2" r="3.1"/><circle cx="779.8" cy="232.5" r="3.1"/><circle cx="793.6" cy="125" r="3.1"/><circle cx="795.1" cy="214.8" r="3.1"/><circle cx="794.4" cy="139" r="3.1"/><circle cx="795.6" cy="131.5" r="3.1"/><circle cx="795.8" cy="158.6" r="3.1"/><circle cx="794.7" cy="166.9" r="3.1"/><circle cx="795.9" cy="122.7" r="3.1"/><circle cx="796.6" cy="112.1" r="3.1"/><circle cx="793.8" cy="216.1" r="3.1"/><circle cx="793.2" cy="192.9" r="3.1"/><circle cx="795.4" cy="213.2" r="3.1"/><circle cx="792.5" cy="164.5" r="3.1"/><circle cx="795.6" cy="126.2" r="3.1"/><circle cx="796.5" cy="158.9" r="3.1"/><circle cx="794.1" cy="169.9" r="3.1"/><circle cx="793.3" cy="184.8" r="3.1"/><circle cx="796" cy="146.2" r="3.1"/><circle cx="794.4" cy="148.4" r="3.1"/><circle cx="792.6" cy="135.2" r="3.1"/><circle cx="795.5" cy="163.7" r="3.1"/><circle cx="794.7" cy="226.4" r="3.1"/><circle cx="795.5" cy="126.9" r="3.1"/><circle cx="791.7" cy="181.9" r="3.1"/><circle cx="795" cy="91.6" r="3.1"/><circle cx="793.7" cy="160.1" r="3.1"/><circle cx="796.2" cy="139.5" r="3.1"/><circle cx="794.4" cy="176.2" r="3.1"/><circle cx="794.7" cy="190.3" r="3.1"/><circle cx="795.8" cy="192.9" r="3.1"/><circle cx="795.3" cy="120.3" r="3.1"/><circle cx="796" cy="152.1" r="3.1"/><circle cx="794.7" cy="142.4" r="3.1"/><circle cx="794.8" cy="110.9" r="3.1"/><circle cx="797.8" cy="180.3" r="3.1"/><circle cx="795.2" cy="200.8" r="3.1"/><circle cx="795.6" cy="137.8" r="3.1"/><circle cx="794.5" cy="196.5" r="3.1"/><circle cx="796.5" cy="139.3" r="3.1"/><circle cx="794.1" cy="156" r="3.1"/><circle cx="793.9" cy="209.4" r="3.1"/><circle cx="793.7" cy="130.9" r="3.1"/><circle cx="795.1" cy="148.4" r="3.1"/><circle cx="793.6" cy="212.4" r="3.1"/><circle cx="795.8" cy="170.3" r="3.1"/><circle cx="796" cy="185.8" r="3.1"/><circle cx="795.8" cy="146.2" r="3.1"/><circle cx="794.3" cy="173.2" r="3.1"/><circle cx="796.8" cy="118.5" r="3.1"/><circle cx="794.5" cy="149.1" r="3.1"/><circle cx="793.1" cy="86.8" r="3.1"/><circle cx="796.2" cy="172.2" r="3.1"/><circle cx="795.2" cy="267" r="3.1"/><circle cx="795.8" cy="137" r="3.1"/><circle cx="795" cy="122.8" r="3.1"/><circle cx="795.1" cy="195.5" r="3.1"/><circle cx="794" cy="164" r="3.1"/><circle cx="795.7" cy="156" r="3.1"/><circle cx="794" cy="142.7" r="3.1"/><circle cx="795" cy="197" r="3.1"/><circle cx="794.9" cy="114.1" r="3.1"/><circle cx="793.2" cy="93.4" r="3.1"/><circle cx="794.7" cy="121.9" r="3.1"/><circle cx="796.5" cy="205.6" r="3.1"/><circle cx="793.2" cy="173" r="3.1"/><circle cx="792.9" cy="238.4" r="3.1"/><circle cx="794.8" cy="110.5" r="3.1"/><circle cx="794.2" cy="137.1" r="3.1"/><circle cx="798.7" cy="143.7" r="3.1"/><circle cx="794.4" cy="163.7" r="3.1"/><circle cx="795.2" cy="168.5" r="3.1"/><circle cx="765" cy="195.3" r="3.1"/><circle cx="765.2" cy="197.8" r="3.1"/><circle cx="764" cy="238.2" r="3.1"/><circle cx="762.4" cy="214" r="3.1"/><circle cx="763.6" cy="192.8" r="3.1"/><circle cx="764" cy="218" r="3.1"/><circle cx="766.9" cy="191.4" r="3.1"/><circle cx="765.6" cy="241.7" r="3.1"/><circle cx="765.4" cy="159.4" r="3.1"/><circle cx="764.7" cy="236.5" r="3.1"/><circle cx="765.7" cy="230.4" r="3.1"/><circle cx="762.2" cy="264" r="3.1"/><circle cx="764.2" cy="221.8" r="3.1"/><circle cx="765.1" cy="178.3" r="3.1"/><circle cx="812.5" cy="127.3" r="3.1"/><circle cx="810.2" cy="138.1" r="3.1"/><circle cx="808.6" cy="165.6" r="3.1"/><circle cx="808.7" cy="130.8" r="3.1"/><circle cx="808.4" cy="141.4" r="3.1"/><circle cx="812" cy="216.8" r="3.1"/><circle cx="808.4" cy="171.3" r="3.1"/><circle cx="810" cy="187.8" r="3.1"/><circle cx="808.7" cy="64.2" r="3.1"/><circle cx="749.3" cy="222.9" r="3.1"/><circle cx="750.5" cy="223.9" r="3.1"/><circle cx="749.4" cy="217.9" r="3.1"/><circle cx="778.1" cy="194.7" r="3.1"/><circle cx="785.8" cy="182.4" r="3.1"/><circle cx="792.2" cy="171" r="3.1"/><circle cx="795.6" cy="160" r="3.1"/><circle cx="793.9" cy="144.2" r="3.1"/><circle cx="785.5" cy="171.1" r="3.1"/><circle cx="791.4" cy="180.9" r="3.1"/><circle cx="786.5" cy="190.4" r="3.1"/><circle cx="815.2" cy="93.1" r="3.1"/><circle cx="831.7" cy="125.8" r="3.1"/><circle cx="830.7" cy="107.8" r="3.1"/><circle cx="866.7" cy="93.2" r="3.1"/></g><line x1="748.8" y1="59.3" x2="748.8" y2="427.7" stroke="#000" stroke-width="1.5"/><line x1="748.1" y1="427" x2="871.7" y2="427" stroke="#000" stroke-width="1.5"/><line x1="743.8" y1="60" x2="748.8" y2="60" stroke="#000" stroke-width="1.5"/><line x1="743.8" y1="151.8" x2="748.8" y2="151.8" stroke="#000" stroke-width="1.5"/><line x1="743.8" y1="243.5" x2="748.8" y2="243.5" stroke="#000" stroke-width="1.5"/><line x1="743.8" y1="335.2" x2="748.8" y2="335.2" stroke="#000" stroke-width="1.5"/><line x1="748.8" y1="427" x2="748.8" y2="432.5" stroke="#000" stroke-width="1.5"/><text transform="translate(748.8 446.5) scale(1.1 1)" font-size="16.8" text-anchor="middle">0</text><line x1="778.8" y1="427" x2="778.8" y2="432.5" stroke="#000" stroke-width="1.5"/><text transform="translate(778.8 446.5) scale(1.1 1)" font-size="16.8" text-anchor="middle">2</text><line x1="809.4" y1="427" x2="809.4" y2="432.5" stroke="#000" stroke-width="1.5"/><text transform="translate(809.4 446.5) scale(1.1 1)" font-size="16.8" text-anchor="middle">4</text><line x1="840.2" y1="427" x2="840.2" y2="432.5" stroke="#000" stroke-width="1.5"/><text transform="translate(840.2 446.5) scale(1.1 1)" font-size="16.8" text-anchor="middle">6</text><line x1="871" y1="427" x2="871" y2="432.5" stroke="#000" stroke-width="1.5"/><text transform="translate(871 446.5) scale(1.1 1)" font-size="16.8" text-anchor="middle">8</text><line x1="749.6" y1="222.8" x2="861" y2="59" stroke="#000" stroke-width="1.5"/><text x="861" y="97.4" font-size="26.5" text-anchor="middle">***</text><text x="1101" y="27" font-size="25" text-anchor="middle">CNPY3</text><line x1="909.5" y1="34.3" x2="1293" y2="32" stroke="#000" stroke-width="1.3"/><g fill="#1440ff" fill-opacity="0.5"><circle cx="964" cy="401" r="4"/><circle cx="974.6" cy="397.2" r="4"/><circle cx="953.4" cy="393.5" r="4"/><circle cx="964" cy="389.8" r="4"/><circle cx="974.6" cy="382.4" r="4"/><circle cx="953.4" cy="380.9" r="4"/><circle cx="964" cy="371.2" r="4"/><circle cx="974.6" cy="369" r="4"/><circle cx="953.4" cy="367.5" r="4"/><circle cx="958.7" cy="356.2" r="4"/><circle cx="969.3" cy="355.6" r="4"/><circle cx="960.9" cy="347.7" r="4"/><circle cx="967.1" cy="347.3" r="4"/><circle cx="954.7" cy="343.8" r="4"/><circle cx="973.3" cy="343" r="4"/><circle cx="948.5" cy="342.8" r="4"/><circle cx="979.5" cy="342.1" r="4"/><circle cx="942.2" cy="341.7" r="4"/><circle cx="985.8" cy="341.3" r="4"/><circle cx="964" cy="340.8" r="4"/><circle cx="967.6" cy="338.2" r="4"/><circle cx="960.4" cy="338.1" r="4"/><circle cx="971.2" cy="336" r="4"/><circle cx="956.8" cy="335.8" r="4"/><circle cx="974.9" cy="333.9" r="4"/><circle cx="953.1" cy="333.7" r="4"/><circle cx="978.5" cy="332.8" r="4"/><circle cx="949.5" cy="332" r="4"/><circle cx="982.1" cy="331.7" r="4"/><circle cx="945.9" cy="331.2" r="4"/><circle cx="985.8" cy="330.3" r="4"/><circle cx="942.2" cy="329.7" r="4"/><circle cx="964" cy="328.2" r="4"/><circle cx="966.2" cy="327.4" r="4"/><circle cx="961.8" cy="327" r="4"/><circle cx="968.4" cy="326.4" r="4"/><circle cx="959.6" cy="326.3" r="4"/><circle cx="970.5" cy="325.2" r="4"/><circle cx="957.5" cy="324.5" r="4"/><circle cx="972.7" cy="324.1" r="4"/><circle cx="955.3" cy="323" r="4"/><circle cx="974.9" cy="322.2" r="4"/><circle cx="953.1" cy="322" r="4"/><circle cx="977" cy="319.9" r="4"/><circle cx="951" cy="319.7" r="4"/><circle cx="979.2" cy="319.4" r="4"/><circle cx="948.8" cy="319.4" r="4"/><circle cx="981.4" cy="319.2" r="4"/><circle cx="946.6" cy="318.4" r="4"/><circle cx="983.6" cy="317.9" r="4"/><circle cx="944.4" cy="316.8" r="4"/><circle cx="985.8" cy="316.7" r="4"/><circle cx="942.2" cy="316.6" r="4"/><circle cx="962.7" cy="316.1" r="4"/><circle cx="965.3" cy="315.2" r="4"/><circle cx="960.2" cy="313.5" r="4"/><circle cx="967.8" cy="313" r="4"/><circle cx="957.6" cy="312.3" r="4"/><circle cx="970.4" cy="311.1" r="4"/><circle cx="955" cy="310.9" r="4"/><circle cx="973" cy="309.9" r="4"/><circle cx="952.5" cy="309.9" r="4"/><circle cx="975.5" cy="309.6" r="4"/><circle cx="949.9" cy="309.1" r="4"/><circle cx="978.1" cy="308.1" r="4"/><circle cx="947.4" cy="307.8" r="4"/><circle cx="980.6" cy="307.5" r="4"/><circle cx="944.8" cy="306" r="4"/><circle cx="983.2" cy="305.1" r="4"/><circle cx="942.2" cy="304.9" r="4"/><circle cx="985.8" cy="304.9" r="4"/><circle cx="963.2" cy="303.7" r="4"/><circle cx="964.8" cy="302.6" r="4"/><circle cx="961.8" cy="302.5" r="4"/><circle cx="966.2" cy="302.3" r="4"/><circle cx="960.2" cy="301.1" r="4"/><circle cx="967.8" cy="300.9" r="4"/><circle cx="958.8" cy="300.5" r="4"/><circle cx="969.2" cy="300.1" r="4"/><circle cx="957.2" cy="299.5" r="4"/><circle cx="970.8" cy="298.8" r="4"/><circle cx="955.8" cy="298.6" r="4"/><circle cx="972.2" cy="297.9" r="4"/><circle cx="954.2" cy="296.8" r="4"/><circle cx="973.8" cy="296.3" r="4"/><circle cx="952.8" cy="295.8" r="4"/><circle cx="975.2" cy="294.5" r="4"/><circle cx="951.2" cy="294.1" r="4"/><circle cx="976.8" cy="294" r="4"/><circle cx="949.8" cy="293.8" r="4"/><circle cx="978.2" cy="293.6" r="4"/><circle cx="948.2" cy="293.5" r="4"/><circle cx="979.8" cy="293.2" r="4"/><circle cx="946.8" cy="293" r="4"/><circle cx="981.2" cy="292.9" r="4"/><circle cx="945.2" cy="292.6" r="4"/><circle cx="982.8" cy="292.6" r="4"/><circle cx="943.8" cy="292.6" r="4"/><circle cx="984.2" cy="291.7" r="4"/><circle cx="942.2" cy="291.6" r="4"/><circle cx="985.8" cy="291.5" r="4"/><circle cx="964" cy="290.9" r="4"/><circle cx="965.4" cy="290.7" r="4"/><circle cx="962.6" cy="290.5" r="4"/><circle cx="966.7" cy="289.9" r="4"/><circle cx="961.3" cy="289.5" r="4"/><circle cx="968.1" cy="288.9" r="4"/><circle cx="959.9" cy="288.8" r="4"/><circle cx="969.4" cy="288.3" r="4"/><circle cx="958.6" cy="287.9" r="4"/><circle cx="970.8" cy="287.8" r="4"/><circle cx="957.2" cy="287.7" r="4"/><circle cx="972.2" cy="287.6" r="4"/><circle cx="955.8" cy="287.4" r="4"/><circle cx="973.5" cy="287" r="4"/><circle cx="954.5" cy="286.3" r="4"/><circle cx="974.9" cy="286.2" r="4"/><circle cx="953.1" cy="286.1" r="4"/><circle cx="976.2" cy="285.1" r="4"/><circle cx="951.8" cy="285" r="4"/><circle cx="977.6" cy="283.6" r="4"/><circle cx="950.4" cy="283.2" r="4"/><circle cx="979" cy="283.1" r="4"/><circle cx="949" cy="283" r="4"/><circle cx="980.3" cy="283" r="4"/><circle cx="947.7" cy="282.8" r="4"/><circle cx="981.7" cy="282.5" r="4"/><circle cx="946.3" cy="282.4" r="4"/><circle cx="983" cy="281.5" r="4"/><circle cx="945" cy="280.8" r="4"/><circle cx="984.4" cy="280.4" r="4"/><circle cx="943.6" cy="280" r="4"/><circle cx="985.8" cy="279.8" r="4"/><circle cx="942.2" cy="279.2" r="4"/><circle cx="964" cy="278.7" r="4"/><circle cx="965.1" cy="278.3" r="4"/><circle cx="962.9" cy="277.9" r="4"/><circle cx="966.3" cy="277.9" r="4"/><circle cx="961.7" cy="277.3" r="4"/><circle cx="967.4" cy="277" r="4"/><circle cx="960.6" cy="276.8" r="4"/><circle cx="968.6" cy="276.7" r="4"/><circle cx="959.4" cy="276.4" r="4"/><circle cx="969.7" cy="275.9" r="4"/><circle cx="958.3" cy="275.7" r="4"/><circle cx="970.9" cy="275.5" r="4"/><circle cx="957.1" cy="275.3" r="4"/><circle cx="972" cy="275.2" r="4"/><circle cx="956" cy="275.2" r="4"/><circle cx="973.2" cy="274.8" r="4"/><circle cx="954.8" cy="274.5" r="4"/><circle cx="974.3" cy="274.4" r="4"/><circle cx="953.7" cy="274" r="4"/><circle cx="975.4" cy="273.2" r="4"/><circle cx="952.6" cy="273" r="4"/><circle cx="976.6" cy="272.9" r="4"/><circle cx="951.4" cy="272.7" r="4"/><circle cx="977.7" cy="272.7" r="4"/><circle cx="950.3" cy="272.5" r="4"/><circle cx="978.9" cy="272.5" r="4"/><circle cx="949.1" cy="272.1" r="4"/><circle cx="980" cy="270.8" r="4"/><circle cx="948" cy="270.5" r="4"/><circle cx="981.2" cy="269.3" r="4"/><circle cx="946.8" cy="268.5" r="4"/><circle cx="982.3" cy="268.2" r="4"/><circle cx="945.7" cy="268" r="4"/><circle cx="983.5" cy="268" r="4"/><circle cx="944.5" cy="267.8" r="4"/><circle cx="984.6" cy="267.4" r="4"/><circle cx="943.4" cy="267.1" r="4"/><circle cx="985.8" cy="267" r="4"/><circle cx="942.2" cy="266.6" r="4"/><circle cx="964" cy="266.4" r="4"/><circle cx="965.2" cy="266.2" r="4"/><circle cx="962.8" cy="266" r="4"/><circle cx="966.4" cy="265.8" r="4"/><circle cx="961.6" cy="265.8" r="4"/><circle cx="967.6" cy="264.5" r="4"/><circle cx="960.4" cy="263.8" r="4"/><circle cx="968.8" cy="263.4" r="4"/><circle cx="959.2" cy="263.3" r="4"/><circle cx="970" cy="263.2" r="4"/><circle cx="958" cy="262.9" r="4"/><circle cx="971.2" cy="262.8" r="4"/><circle cx="956.8" cy="262.4" r="4"/><circle cx="972.5" cy="262.3" r="4"/><circle cx="955.5" cy="262.1" r="4"/><circle cx="973.7" cy="261.9" r="4"/><circle cx="954.3" cy="261.8" r="4"/><circle cx="974.9" cy="261.6" r="4"/><circle cx="953.1" cy="261.2" r="4"/><circle cx="976.1" cy="260.2" r="4"/><circle cx="951.9" cy="260.2" r="4"/><circle cx="977.3" cy="259.7" r="4"/><circle cx="950.7" cy="259.6" r="4"/><circle cx="978.5" cy="259.5" r="4"/><circle cx="949.5" cy="259.5" r="4"/><circle cx="979.7" cy="259.5" r="4"/><circle cx="948.3" cy="259.4" r="4"/><circle cx="980.9" cy="258.6" r="4"/><circle cx="947.1" cy="258.6" r="4"/><circle cx="982.1" cy="258.5" r="4"/><circle cx="945.9" cy="258.3" r="4"/><circle cx="983.3" cy="258.2" r="4"/><circle cx="944.7" cy="258.1" r="4"/><circle cx="984.5" cy="258.1" r="4"/><circle cx="943.5" cy="257.5" r="4"/><circle cx="985.8" cy="255.3" r="4"/><circle cx="942.2" cy="255.1" r="4"/><circle cx="964" cy="253.7" r="4"/><circle cx="966" cy="253.4" r="4"/><circle cx="962" cy="253.2" r="4"/><circle cx="968" cy="251.8" r="4"/><circle cx="960" cy="251.8" r="4"/><circle cx="969.9" cy="250.9" r="4"/><circle cx="958.1" cy="250.4" r="4"/><circle cx="971.9" cy="249.8" r="4"/><circle cx="956.1" cy="249.4" r="4"/><circle cx="973.9" cy="249.1" r="4"/><circle cx="954.1" cy="248.6" r="4"/><circle cx="975.9" cy="248" r="4"/><circle cx="952.1" cy="247.8" r="4"/><circle cx="977.8" cy="247.7" r="4"/><circle cx="950.2" cy="247.2" r="4"/><circle cx="979.8" cy="246.9" r="4"/><circle cx="948.2" cy="246.9" r="4"/><circle cx="981.8" cy="246.8" r="4"/><circle cx="946.2" cy="246.1" r="4"/><circle cx="983.8" cy="243.7" r="4"/><circle cx="944.2" cy="243.7" r="4"/><circle cx="985.8" cy="243" r="4"/><circle cx="942.2" cy="241.8" r="4"/><circle cx="963.2" cy="241.6" r="4"/><circle cx="964.8" cy="241.5" r="4"/><circle cx="961.6" cy="241.5" r="4"/><circle cx="966.4" cy="241" r="4"/><circle cx="960" cy="240.5" r="4"/><circle cx="968" cy="240.4" r="4"/><circle cx="958.4" cy="239.8" r="4"/><circle cx="969.6" cy="238.5" r="4"/><circle cx="956.8" cy="238.3" r="4"/><circle cx="971.2" cy="238.2" r="4"/><circle cx="955.1" cy="237.7" r="4"/><circle cx="972.9" cy="237.2" r="4"/><circle cx="953.5" cy="237.1" r="4"/><circle cx="974.5" cy="236.9" r="4"/><circle cx="951.9" cy="236.6" r="4"/><circle cx="976.1" cy="236.1" r="4"/><circle cx="950.3" cy="235.9" r="4"/><circle cx="977.7" cy="235.4" r="4"/><circle cx="948.7" cy="235" r="4"/><circle cx="979.3" cy="233.8" r="4"/><circle cx="947.1" cy="232.8" r="4"/><circle cx="980.9" cy="232.2" r="4"/><circle cx="945.5" cy="232.1" r="4"/><circle cx="982.5" cy="231.5" r="4"/><circle cx="943.9" cy="231.4" r="4"/><circle cx="984.1" cy="230.5" r="4"/><circle cx="942.2" cy="230" r="4"/><circle cx="985.8" cy="229.7" r="4"/><circle cx="962" cy="229.1" r="4"/><circle cx="966" cy="228.9" r="4"/><circle cx="958.1" cy="228.1" r="4"/><circle cx="969.9" cy="227.9" r="4"/><circle cx="954.1" cy="223.9" r="4"/><circle cx="973.9" cy="223.1" r="4"/><circle cx="950.2" cy="221.3" r="4"/><circle cx="977.8" cy="220.6" r="4"/><circle cx="946.2" cy="220.5" r="4"/><circle cx="981.8" cy="218.4" r="4"/><circle cx="942.2" cy="218.4" r="4"/><circle cx="985.8" cy="217.2" r="4"/><circle cx="961.6" cy="214.3" r="4"/><circle cx="966.4" cy="212.9" r="4"/><circle cx="956.8" cy="212.8" r="4"/><circle cx="971.2" cy="211.9" r="4"/><circle cx="951.9" cy="211.2" r="4"/><circle cx="976.1" cy="211" r="4"/><circle cx="947.1" cy="207.4" r="4"/><circle cx="980.9" cy="207" r="4"/><circle cx="942.2" cy="206.4" r="4"/><circle cx="985.8" cy="205.7" r="4"/><circle cx="960.9" cy="204.5" r="4"/><circle cx="967.1" cy="204.5" r="4"/><circle cx="954.7" cy="200.4" r="4"/><circle cx="973.3" cy="199.8" r="4"/><circle cx="948.5" cy="199.4" r="4"/><circle cx="979.5" cy="199.4" r="4"/><circle cx="942.2" cy="197" r="4"/><circle cx="985.8" cy="194.3" r="4"/><circle cx="964" cy="183" r="4"/><circle cx="964" cy="174" r="4"/><circle cx="964" cy="122" r="4"/></g><g fill="#ff8a1a" fill-opacity="0.55"><circle cx="1027.7" cy="376.5" r="4"/><circle cx="1038.3" cy="375.7" r="4"/><circle cx="1017.1" cy="375.5" r="4"/><circle cx="1048.9" cy="372" r="4"/><circle cx="1027.7" cy="365.6" r="4"/><circle cx="1038.3" cy="364.5" r="4"/><circle cx="1017.1" cy="363.3" r="4"/><circle cx="1048.9" cy="362.6" r="4"/><circle cx="1031" cy="352.8" r="4"/><circle cx="1035" cy="351.4" r="4"/><circle cx="1027.1" cy="350.1" r="4"/><circle cx="1038.9" cy="349.9" r="4"/><circle cx="1023.1" cy="347.4" r="4"/><circle cx="1042.9" cy="346.3" r="4"/><circle cx="1019.2" cy="344.2" r="4"/><circle cx="1046.8" cy="343.7" r="4"/><circle cx="1015.2" cy="343.3" r="4"/><circle cx="1050.8" cy="342.9" r="4"/><circle cx="1011.2" cy="342.7" r="4"/><circle cx="1054.8" cy="342.1" r="4"/><circle cx="1030.6" cy="341.3" r="4"/><circle cx="1035.4" cy="341.2" r="4"/><circle cx="1025.8" cy="340.5" r="4"/><circle cx="1040.2" cy="339.7" r="4"/><circle cx="1020.9" cy="338.3" r="4"/><circle cx="1045.1" cy="338" r="4"/><circle cx="1016.1" cy="336.9" r="4"/><circle cx="1049.9" cy="333.8" r="4"/><circle cx="1011.2" cy="330" r="4"/><circle cx="1054.8" cy="329.2" r="4"/><circle cx="1033" cy="328.7" r="4"/><circle cx="1034.8" cy="328.3" r="4"/><circle cx="1031.2" cy="327.5" r="4"/><circle cx="1036.6" cy="327.4" r="4"/><circle cx="1029.4" cy="326.2" r="4"/><circle cx="1038.4" cy="325.7" r="4"/><circle cx="1027.6" cy="325.6" r="4"/><circle cx="1040.2" cy="325.6" r="4"/><circle cx="1025.8" cy="325.2" r="4"/><circle cx="1042.1" cy="324.8" r="4"/><circle cx="1023.9" cy="324.6" r="4"/><circle cx="1043.9" cy="323.7" r="4"/><circle cx="1022.1" cy="322.7" r="4"/><circle cx="1045.7" cy="322.6" r="4"/><circle cx="1020.3" cy="321.8" r="4"/><circle cx="1047.5" cy="321.8" r="4"/><circle cx="1018.5" cy="321.6" r="4"/><circle cx="1049.3" cy="321.1" r="4"/><circle cx="1016.7" cy="320.7" r="4"/><circle cx="1051.1" cy="319.8" r="4"/><circle cx="1014.9" cy="319.7" r="4"/><circle cx="1052.9" cy="319.7" r="4"/><circle cx="1013.1" cy="318.8" r="4"/><circle cx="1054.8" cy="318.7" r="4"/><circle cx="1011.2" cy="317.6" r="4"/><circle cx="1033" cy="314.6" r="4"/><circle cx="1035.2" cy="314.6" r="4"/><circle cx="1030.8" cy="314.5" r="4"/><circle cx="1037.3" cy="312.8" r="4"/><circle cx="1028.7" cy="312.5" r="4"/><circle cx="1039.5" cy="312.3" r="4"/><circle cx="1026.5" cy="311.1" r="4"/><circle cx="1041.7" cy="310.8" r="4"/><circle cx="1024.3" cy="310.8" r="4"/><circle cx="1043.9" cy="310.7" r="4"/><circle cx="1022.1" cy="310.3" r="4"/><circle cx="1046" cy="309.5" r="4"/><circle cx="1020" cy="309.1" r="4"/><circle cx="1048.2" cy="308.6" r="4"/><circle cx="1017.8" cy="308.1" r="4"/><circle cx="1050.4" cy="306.8" r="4"/><circle cx="1015.6" cy="306.4" r="4"/><circle cx="1052.6" cy="306.3" r="4"/><circle cx="1013.4" cy="305.9" r="4"/><circle cx="1054.8" cy="305.9" r="4"/><circle cx="1011.2" cy="305.2" r="4"/><circle cx="1031.5" cy="304.1" r="4"/><circle cx="1034.5" cy="304" r="4"/><circle cx="1028.7" cy="303" r="4"/><circle cx="1037.3" cy="302.8" r="4"/><circle cx="1025.8" cy="301.1" r="4"/><circle cx="1040.2" cy="300.6" r="4"/><circle cx="1022.9" cy="299.7" r="4"/><circle cx="1043.2" cy="298.5" r="4"/><circle cx="1020" cy="298.4" r="4"/><circle cx="1046" cy="295.1" r="4"/><circle cx="1017" cy="294.3" r="4"/><circle cx="1049" cy="294.3" r="4"/><circle cx="1014.1" cy="293.9" r="4"/><circle cx="1051.8" cy="293" r="4"/><circle cx="1011.2" cy="292.9" r="4"/><circle cx="1054.8" cy="292.5" r="4"/><circle cx="1031.5" cy="291.6" r="4"/><circle cx="1034.5" cy="290.8" r="4"/><circle cx="1028.7" cy="290.5" r="4"/><circle cx="1037.3" cy="288.7" r="4"/><circle cx="1025.8" cy="287.6" r="4"/><circle cx="1040.2" cy="285.4" r="4"/><circle cx="1022.9" cy="285.1" r="4"/><circle cx="1043.2" cy="284.3" r="4"/><circle cx="1020" cy="284.1" r="4"/><circle cx="1046" cy="284.1" r="4"/><circle cx="1017" cy="284" r="4"/><circle cx="1049" cy="282.4" r="4"/><circle cx="1014.1" cy="281.8" r="4"/><circle cx="1051.8" cy="281" r="4"/><circle cx="1011.2" cy="280.2" r="4"/><circle cx="1054.8" cy="280.1" r="4"/><circle cx="1031" cy="276.8" r="4"/><circle cx="1035" cy="276.8" r="4"/><circle cx="1027.1" cy="276.3" r="4"/><circle cx="1038.9" cy="275.3" r="4"/><circle cx="1023.1" cy="273.8" r="4"/><circle cx="1042.9" cy="271.6" r="4"/><circle cx="1019.2" cy="270.9" r="4"/><circle cx="1046.8" cy="269.1" r="4"/><circle cx="1015.2" cy="267.9" r="4"/><circle cx="1050.8" cy="267.9" r="4"/><circle cx="1011.2" cy="267.8" r="4"/><circle cx="1054.8" cy="267" r="4"/><circle cx="1031.3" cy="266.6" r="4"/><circle cx="1034.7" cy="265.9" r="4"/><circle cx="1028" cy="264.6" r="4"/><circle cx="1038" cy="263.8" r="4"/><circle cx="1024.6" cy="262.6" r="4"/><circle cx="1041.4" cy="261.5" r="4"/><circle cx="1021.3" cy="261.3" r="4"/><circle cx="1044.7" cy="260.5" r="4"/><circle cx="1017.9" cy="258.3" r="4"/><circle cx="1048.1" cy="257.7" r="4"/><circle cx="1014.6" cy="257.5" r="4"/><circle cx="1051.4" cy="257.4" r="4"/><circle cx="1011.2" cy="255.1" r="4"/><circle cx="1054.8" cy="254.7" r="4"/><circle cx="1033" cy="251.9" r="4"/><circle cx="1037.3" cy="249.8" r="4"/><circle cx="1028.7" cy="249.7" r="4"/><circle cx="1041.7" cy="249.1" r="4"/><circle cx="1024.3" cy="248.6" r="4"/><circle cx="1046" cy="248.4" r="4"/><circle cx="1020" cy="246.8" r="4"/><circle cx="1050.4" cy="244.8" r="4"/><circle cx="1015.6" cy="244.7" r="4"/><circle cx="1054.8" cy="244.6" r="4"/><circle cx="1011.2" cy="243.2" r="4"/><circle cx="1033" cy="242" r="4"/><circle cx="1040.2" cy="240.9" r="4"/><circle cx="1025.8" cy="240.2" r="4"/><circle cx="1047.5" cy="238.3" r="4"/><circle cx="1018.5" cy="235.2" r="4"/><circle cx="1054.8" cy="232.5" r="4"/><circle cx="1011.2" cy="230" r="4"/><circle cx="1033" cy="228.2" r="4"/><circle cx="1043.6" cy="224.3" r="4"/><circle cx="1022.4" cy="223.6" r="4"/><circle cx="1054.2" cy="219.8" r="4"/><circle cx="1011.8" cy="218.2" r="4"/><circle cx="1027.7" cy="215.9" r="4"/><circle cx="1038.3" cy="207.5" r="4"/><circle cx="1033" cy="181.5" r="4"/><circle cx="1033" cy="168.8" r="4"/><circle cx="1033" cy="166.6" r="4"/></g><g fill="#a0a0a0" fill-opacity="0.6"><circle cx="1101.8" cy="410.6" r="4"/><circle cx="1101.8" cy="393.5" r="4"/><circle cx="1101.8" cy="380.9" r="4"/><circle cx="1101.8" cy="366.9" r="4"/><circle cx="1097.5" cy="361.2" r="4"/><circle cx="1106.1" cy="359.6" r="4"/><circle cx="1088.8" cy="356" r="4"/><circle cx="1114.8" cy="354.3" r="4"/><circle cx="1080" cy="353" r="4"/><circle cx="1123.5" cy="351.7" r="4"/><circle cx="1096.5" cy="344.1" r="4"/><circle cx="1107.1" cy="340.9" r="4"/><circle cx="1085.9" cy="340.5" r="4"/><circle cx="1117.7" cy="340.3" r="4"/><circle cx="1096.5" cy="330.1" r="4"/><circle cx="1107.1" cy="328.5" r="4"/><circle cx="1101.8" cy="323.4" r="4"/><circle cx="1109" cy="320" r="4"/><circle cx="1094.5" cy="319.7" r="4"/><circle cx="1116.3" cy="318.8" r="4"/><circle cx="1087.3" cy="316.5" r="4"/><circle cx="1123.5" cy="316.5" r="4"/><circle cx="1080" cy="316.2" r="4"/><circle cx="1100.1" cy="312.6" r="4"/><circle cx="1103.5" cy="312.3" r="4"/><circle cx="1096.8" cy="311.2" r="4"/><circle cx="1106.8" cy="311.2" r="4"/><circle cx="1093.4" cy="308" r="4"/><circle cx="1110.2" cy="307.2" r="4"/><circle cx="1090.1" cy="307" r="4"/><circle cx="1113.5" cy="305.1" r="4"/><circle cx="1086.7" cy="303" r="4"/><circle cx="1116.9" cy="302.7" r="4"/><circle cx="1083.4" cy="302.2" r="4"/><circle cx="1120.2" cy="302.1" r="4"/><circle cx="1080" cy="301.9" r="4"/><circle cx="1123.5" cy="301.5" r="4"/><circle cx="1099.4" cy="299.7" r="4"/><circle cx="1104.2" cy="299" r="4"/><circle cx="1094.5" cy="298.5" r="4"/><circle cx="1109" cy="296.5" r="4"/><circle cx="1089.7" cy="295.1" r="4"/><circle cx="1113.9" cy="294.1" r="4"/><circle cx="1084.9" cy="291.6" r="4"/><circle cx="1118.7" cy="290.9" r="4"/><circle cx="1080" cy="290.6" r="4"/><circle cx="1123.5" cy="288.9" r="4"/><circle cx="1100.3" cy="286.3" r="4"/><circle cx="1103.2" cy="285.9" r="4"/><circle cx="1097.5" cy="285.7" r="4"/><circle cx="1106.1" cy="285.5" r="4"/><circle cx="1094.5" cy="283.7" r="4"/><circle cx="1109" cy="283.6" r="4"/><circle cx="1091.6" cy="281.5" r="4"/><circle cx="1112" cy="281.2" r="4"/><circle cx="1088.8" cy="281.1" r="4"/><circle cx="1114.8" cy="279.4" r="4"/><circle cx="1085.8" cy="277.9" r="4"/><circle cx="1117.8" cy="277.7" r="4"/><circle cx="1083" cy="277.5" r="4"/><circle cx="1120.6" cy="277.1" r="4"/><circle cx="1080" cy="277" r="4"/><circle cx="1123.5" cy="276.3" r="4"/><circle cx="1100.3" cy="276.1" r="4"/><circle cx="1103.2" cy="276.1" r="4"/><circle cx="1097.5" cy="274.5" r="4"/><circle cx="1106.1" cy="274.2" r="4"/><circle cx="1094.5" cy="273.6" r="4"/><circle cx="1109" cy="272" r="4"/><circle cx="1091.6" cy="271.8" r="4"/><circle cx="1112" cy="271.3" r="4"/><circle cx="1088.8" cy="269.6" r="4"/><circle cx="1114.8" cy="268.7" r="4"/><circle cx="1085.8" cy="268" r="4"/><circle cx="1117.8" cy="267" r="4"/><circle cx="1083" cy="266.6" r="4"/><circle cx="1120.6" cy="265.4" r="4"/><circle cx="1080" cy="264.8" r="4"/><circle cx="1123.5" cy="264.6" r="4"/><circle cx="1098.7" cy="263.3" r="4"/><circle cx="1104.9" cy="261.7" r="4"/><circle cx="1092.5" cy="259.9" r="4"/><circle cx="1111.1" cy="259.2" r="4"/><circle cx="1086.3" cy="259" r="4"/><circle cx="1117.3" cy="256.7" r="4"/><circle cx="1080" cy="256.2" r="4"/><circle cx="1123.5" cy="255.8" r="4"/><circle cx="1101.8" cy="251.2" r="4"/><circle cx="1109" cy="251.1" r="4"/><circle cx="1094.5" cy="250.7" r="4"/><circle cx="1116.3" cy="250.6" r="4"/><circle cx="1087.3" cy="250.3" r="4"/><circle cx="1123.5" cy="248.3" r="4"/><circle cx="1080" cy="247.7" r="4"/><circle cx="1101.8" cy="236.5" r="4"/><circle cx="1109" cy="236.2" r="4"/><circle cx="1094.5" cy="236.2" r="4"/><circle cx="1116.3" cy="233.8" r="4"/><circle cx="1087.3" cy="232.5" r="4"/><circle cx="1123.5" cy="228.9" r="4"/><circle cx="1080" cy="228.5" r="4"/><circle cx="1097.5" cy="225.2" r="4"/><circle cx="1106.1" cy="222.5" r="4"/><circle cx="1088.8" cy="221.9" r="4"/><circle cx="1114.8" cy="221.6" r="4"/><circle cx="1080" cy="220.4" r="4"/><circle cx="1123.5" cy="215.4" r="4"/><circle cx="1101.8" cy="213.4" r="4"/><circle cx="1112.4" cy="209.8" r="4"/><circle cx="1091.2" cy="208.5" r="4"/><circle cx="1101.8" cy="200.2" r="4"/><circle cx="1101.8" cy="181.5" r="4"/><circle cx="1101.8" cy="172.6" r="4"/></g><line x1="909.5" y1="54.3" x2="909.5" y2="427.7" stroke="#000" stroke-width="1.5"/><line x1="908.8" y1="427" x2="1156.5" y2="427" stroke="#000" stroke-width="1.5"/><line x1="904" y1="55" x2="909.5" y2="55" stroke="#000" stroke-width="1.5"/><text transform="translate(903 61) scale(1.1 1)" font-size="16.8" text-anchor="end">15</text><line x1="904" y1="129.4" x2="909.5" y2="129.4" stroke="#000" stroke-width="1.5"/><text transform="translate(903 135.4) scale(1.1 1)" font-size="16.8" text-anchor="end">14</text><line x1="904" y1="203.8" x2="909.5" y2="203.8" stroke="#000" stroke-width="1.5"/><text transform="translate(903 209.8) scale(1.1 1)" font-size="16.8" text-anchor="end">13</text><line x1="904" y1="278.2" x2="909.5" y2="278.2" stroke="#000" stroke-width="1.5"/><text transform="translate(903 284.2) scale(1.1 1)" font-size="16.8" text-anchor="end">12</text><line x1="904" y1="352.6" x2="909.5" y2="352.6" stroke="#000" stroke-width="1.5"/><text transform="translate(903 358.6) scale(1.1 1)" font-size="16.8" text-anchor="end">11</text><line x1="904" y1="427" x2="909.5" y2="427" stroke="#000" stroke-width="1.5"/><text transform="translate(903 433) scale(1.1 1)" font-size="16.8" text-anchor="end">10</text><text x="964" y="446.5" font-size="22.5" text-anchor="middle">ABC</text><text x="1033" y="446.5" font-size="22.5" text-anchor="middle">GCB</text><text x="1101.8" y="446.5" font-size="22.5" text-anchor="middle">Unc</text><line x1="936.5" y1="278.9" x2="991.5" y2="278.9" stroke="#000" stroke-width="1.5"/><line x1="964" y1="238" x2="964" y2="321.4" stroke="#000" stroke-width="1.5"/><line x1="950" y1="238" x2="978" y2="238" stroke="#000" stroke-width="1.5"/><line x1="950" y1="321.4" x2="978" y2="321.4" stroke="#000" stroke-width="1.5"/><line x1="1005.5" y1="299.8" x2="1060.5" y2="299.8" stroke="#000" stroke-width="1.5"/><line x1="1033" y1="258.1" x2="1033" y2="340.7" stroke="#000" stroke-width="1.5"/><line x1="1019" y1="258.1" x2="1047" y2="258.1" stroke="#000" stroke-width="1.5"/><line x1="1019" y1="340.7" x2="1047" y2="340.7" stroke="#000" stroke-width="1.5"/><line x1="1074.3" y1="284.9" x2="1129.3" y2="284.9" stroke="#000" stroke-width="1.5"/><line x1="1101.8" y1="244" x2="1101.8" y2="325.8" stroke="#000" stroke-width="1.5"/><line x1="1087.8" y1="244" x2="1115.8" y2="244" stroke="#000" stroke-width="1.5"/><line x1="1087.8" y1="325.8" x2="1115.8" y2="325.8" stroke="#000" stroke-width="1.5"/><line x1="964.3" y1="61.8" x2="1033" y2="61.8" stroke="#000" stroke-width="1.3"/><text x="998.7" y="70.3" font-size="26.5" text-anchor="middle">***</text><line x1="1033" y1="78" x2="1101.8" y2="78" stroke="#000" stroke-width="1.3"/><text x="1067.4" y="86.5" font-size="26.5" text-anchor="middle">**</text><g fill="#1440ff" fill-opacity="0.5"><circle cx="1200.7" cy="329.7" r="3.1"/><circle cx="1200.9" cy="296.6" r="3.1"/><circle cx="1201.6" cy="271.1" r="3.1"/><circle cx="1200.5" cy="258.9" r="3.1"/><circle cx="1203.2" cy="315.6" r="3.1"/><circle cx="1201.8" cy="252.8" r="3.1"/><circle cx="1200.8" cy="309.2" r="3.1"/><circle cx="1200.9" cy="268.4" r="3.1"/><circle cx="1201.5" cy="248.2" r="3.1"/><circle cx="1201.2" cy="306" r="3.1"/><circle cx="1201.1" cy="297" r="3.1"/><circle cx="1200.1" cy="240.2" r="3.1"/><circle cx="1200.4" cy="327.5" r="3.1"/><circle cx="1201" cy="358.2" r="3.1"/><circle cx="1200.9" cy="259" r="3.1"/><circle cx="1200.6" cy="267.8" r="3.1"/><circle cx="1202.6" cy="218.4" r="3.1"/><circle cx="1201.6" cy="252.8" r="3.1"/><circle cx="1200.5" cy="283.7" r="3.1"/><circle cx="1200.7" cy="276.8" r="3.1"/><circle cx="1201" cy="311.7" r="3.1"/><circle cx="1202.1" cy="321.5" r="3.1"/><circle cx="1201.2" cy="235" r="3.1"/><circle cx="1200.9" cy="306" r="3.1"/><circle cx="1200.9" cy="197.3" r="3.1"/><circle cx="1201.4" cy="290.3" r="3.1"/><circle cx="1201.4" cy="286.4" r="3.1"/><circle cx="1199.5" cy="268" r="3.1"/><circle cx="1201.7" cy="230.1" r="3.1"/><circle cx="1200.9" cy="337.1" r="3.1"/><circle cx="1201.8" cy="284.7" r="3.1"/><circle cx="1201.5" cy="231.1" r="3.1"/><circle cx="1201.2" cy="280.8" r="3.1"/><circle cx="1200.4" cy="296.3" r="3.1"/><circle cx="1200.9" cy="297.6" r="3.1"/><circle cx="1201.2" cy="359.9" r="3.1"/><circle cx="1200.1" cy="279.8" r="3.1"/><circle cx="1200.4" cy="301" r="3.1"/><circle cx="1200" cy="250.7" r="3.1"/><circle cx="1202.1" cy="320.7" r="3.1"/><circle cx="1201.8" cy="339.4" r="3.1"/><circle cx="1201" cy="362.4" r="3.1"/><circle cx="1201.3" cy="278" r="3.1"/><circle cx="1201" cy="228.3" r="3.1"/><circle cx="1201.3" cy="280.2" r="3.1"/><circle cx="1200.3" cy="277.1" r="3.1"/><circle cx="1200.4" cy="296.9" r="3.1"/><circle cx="1202" cy="242.8" r="3.1"/><circle cx="1201.1" cy="253.2" r="3.1"/><circle cx="1199.8" cy="275" r="3.1"/><circle cx="1199.6" cy="307.3" r="3.1"/><circle cx="1201.2" cy="263.9" r="3.1"/><circle cx="1201.4" cy="273.4" r="3.1"/><circle cx="1200.9" cy="280.1" r="3.1"/><circle cx="1201.9" cy="226" r="3.1"/><circle cx="1199.8" cy="274.9" r="3.1"/><circle cx="1201.9" cy="291.1" r="3.1"/><circle cx="1201" cy="305.8" r="3.1"/><circle cx="1199.9" cy="275.4" r="3.1"/><circle cx="1200.5" cy="288.1" r="3.1"/><circle cx="1199.7" cy="330.2" r="3.1"/><circle cx="1200.7" cy="300.9" r="3.1"/><circle cx="1201.2" cy="326.7" r="3.1"/><circle cx="1201.4" cy="259.6" r="3.1"/><circle cx="1200.9" cy="256.7" r="3.1"/><circle cx="1200.7" cy="292" r="3.1"/><circle cx="1200.8" cy="337" r="3.1"/><circle cx="1200.8" cy="251.4" r="3.1"/><circle cx="1199.6" cy="256.2" r="3.1"/><circle cx="1200.3" cy="299.8" r="3.1"/><circle cx="1200.8" cy="274.7" r="3.1"/><circle cx="1201.8" cy="291.1" r="3.1"/><circle cx="1202.1" cy="283.3" r="3.1"/><circle cx="1201.2" cy="256.8" r="3.1"/><circle cx="1200.3" cy="331.2" r="3.1"/><circle cx="1200.9" cy="255.3" r="3.1"/><circle cx="1201.5" cy="298.9" r="3.1"/><circle cx="1202.1" cy="288.6" r="3.1"/><circle cx="1200.3" cy="234.3" r="3.1"/><circle cx="1201.8" cy="321.2" r="3.1"/><circle cx="1201.5" cy="333.5" r="3.1"/><circle cx="1200.9" cy="185.6" r="3.1"/><circle cx="1201.9" cy="249.8" r="3.1"/><circle cx="1201.4" cy="312.8" r="3.1"/><circle cx="1201.2" cy="259.3" r="3.1"/><circle cx="1200.1" cy="269.1" r="3.1"/><circle cx="1201.3" cy="268.4" r="3.1"/><circle cx="1201.3" cy="286.5" r="3.1"/><circle cx="1200.1" cy="275.5" r="3.1"/><circle cx="1199.5" cy="306.5" r="3.1"/><circle cx="1201.8" cy="202.3" r="3.1"/><circle cx="1201.2" cy="376.7" r="3.1"/><circle cx="1202" cy="253.7" r="3.1"/><circle cx="1200.8" cy="245" r="3.1"/><circle cx="1201.4" cy="325.7" r="3.1"/><circle cx="1200" cy="232.8" r="3.1"/><circle cx="1199.2" cy="251" r="3.1"/><circle cx="1201.2" cy="235.1" r="3.1"/><circle cx="1202.3" cy="220.1" r="3.1"/><circle cx="1202.1" cy="241.3" r="3.1"/><circle cx="1201.3" cy="230.7" r="3.1"/><circle cx="1201" cy="313.1" r="3.1"/><circle cx="1200.9" cy="341.7" r="3.1"/><circle cx="1200.5" cy="189.3" r="3.1"/><circle cx="1201.4" cy="282.5" r="3.1"/><circle cx="1200.5" cy="349" r="3.1"/><circle cx="1200.5" cy="307.8" r="3.1"/><circle cx="1201" cy="272.3" r="3.1"/><circle cx="1200.9" cy="355.3" r="3.1"/><circle cx="1202.1" cy="257.6" r="3.1"/><circle cx="1201" cy="289.6" r="3.1"/><circle cx="1201.3" cy="224.4" r="3.1"/><circle cx="1201.4" cy="324.6" r="3.1"/><circle cx="1200" cy="374.9" r="3.1"/><circle cx="1201" cy="247.2" r="3.1"/><circle cx="1201.9" cy="271.7" r="3.1"/><circle cx="1201.5" cy="315.7" r="3.1"/><circle cx="1201.3" cy="283" r="3.1"/><circle cx="1200.4" cy="347.9" r="3.1"/><circle cx="1201.8" cy="371.9" r="3.1"/><circle cx="1201.4" cy="311.6" r="3.1"/><circle cx="1201.4" cy="301.3" r="3.1"/><circle cx="1201.5" cy="287.4" r="3.1"/><circle cx="1200.1" cy="299.9" r="3.1"/><circle cx="1199.7" cy="267" r="3.1"/><circle cx="1201.7" cy="260.9" r="3.1"/><circle cx="1201" cy="224.7" r="3.1"/><circle cx="1200" cy="255.3" r="3.1"/><circle cx="1200.9" cy="298" r="3.1"/><circle cx="1201.3" cy="326.1" r="3.1"/><circle cx="1200.8" cy="264.3" r="3.1"/><circle cx="1200" cy="288.1" r="3.1"/><circle cx="1201.3" cy="238.7" r="3.1"/><circle cx="1200.2" cy="240.9" r="3.1"/><circle cx="1200.7" cy="274.5" r="3.1"/><circle cx="1200.5" cy="245.8" r="3.1"/><circle cx="1200.4" cy="266.6" r="3.1"/><circle cx="1201.2" cy="246.9" r="3.1"/><circle cx="1200.1" cy="246.1" r="3.1"/><circle cx="1200.9" cy="217.9" r="3.1"/><circle cx="1200.6" cy="302" r="3.1"/><circle cx="1200.9" cy="291.4" r="3.1"/><circle cx="1200.8" cy="331.3" r="3.1"/><circle cx="1199.3" cy="339.6" r="3.1"/><circle cx="1200.4" cy="260.7" r="3.1"/><circle cx="1200.7" cy="318.5" r="3.1"/><circle cx="1200.8" cy="276" r="3.1"/><circle cx="1203" cy="225.3" r="3.1"/><circle cx="1201" cy="339.2" r="3.1"/><circle cx="1200.8" cy="291.3" r="3.1"/><circle cx="1201.3" cy="190.1" r="3.1"/><circle cx="1200.8" cy="360.6" r="3.1"/><circle cx="1200.8" cy="348.4" r="3.1"/><circle cx="1201.5" cy="232.5" r="3.1"/><circle cx="1201.2" cy="340.3" r="3.1"/><circle cx="1200.8" cy="227.8" r="3.1"/><circle cx="1200.1" cy="303" r="3.1"/><circle cx="1201.1" cy="257.6" r="3.1"/><circle cx="1201" cy="264.1" r="3.1"/><circle cx="1201.1" cy="302.5" r="3.1"/><circle cx="1200.8" cy="266.4" r="3.1"/><circle cx="1200.1" cy="270.1" r="3.1"/><circle cx="1201" cy="259" r="3.1"/><circle cx="1201.2" cy="321.9" r="3.1"/><circle cx="1199.9" cy="267.8" r="3.1"/><circle cx="1200.8" cy="274" r="3.1"/><circle cx="1200.5" cy="331.4" r="3.1"/><circle cx="1201.1" cy="283.7" r="3.1"/><circle cx="1201.4" cy="232.8" r="3.1"/><circle cx="1201.7" cy="237.1" r="3.1"/><circle cx="1200.2" cy="366.2" r="3.1"/><circle cx="1200.4" cy="328.7" r="3.1"/><circle cx="1199.9" cy="251.1" r="3.1"/><circle cx="1199.7" cy="240.5" r="3.1"/><circle cx="1201.7" cy="191.2" r="3.1"/><circle cx="1200.4" cy="306.9" r="3.1"/><circle cx="1201.6" cy="333.3" r="3.1"/><circle cx="1201.8" cy="289.9" r="3.1"/><circle cx="1199.4" cy="201.5" r="3.1"/><circle cx="1200" cy="174.5" r="3.1"/><circle cx="1199.8" cy="313.7" r="3.1"/><circle cx="1201.1" cy="277.9" r="3.1"/><circle cx="1199.7" cy="274" r="3.1"/><circle cx="1201" cy="259.6" r="3.1"/><circle cx="1199.7" cy="303.7" r="3.1"/><circle cx="1200.8" cy="244.9" r="3.1"/><circle cx="1201" cy="292.9" r="3.1"/><circle cx="1200.6" cy="217.7" r="3.1"/><circle cx="1200.3" cy="266" r="3.1"/><circle cx="1199.2" cy="207.6" r="3.1"/><circle cx="1201.3" cy="351.7" r="3.1"/><circle cx="1201.4" cy="220.6" r="3.1"/><circle cx="1201.5" cy="275.3" r="3.1"/><circle cx="1201.5" cy="309.4" r="3.1"/><circle cx="1200.7" cy="293.3" r="3.1"/><circle cx="1201" cy="321.9" r="3.1"/><circle cx="1202" cy="283.6" r="3.1"/><circle cx="1200.1" cy="287.5" r="3.1"/><circle cx="1201.2" cy="276.5" r="3.1"/><circle cx="1201.7" cy="293.3" r="3.1"/><circle cx="1200.3" cy="257.5" r="3.1"/><circle cx="1201.9" cy="318.7" r="3.1"/><circle cx="1199.7" cy="305.3" r="3.1"/><circle cx="1200.8" cy="321.3" r="3.1"/><circle cx="1201" cy="314.5" r="3.1"/><circle cx="1201.6" cy="328" r="3.1"/><circle cx="1200.2" cy="275.6" r="3.1"/><circle cx="1201.4" cy="240.3" r="3.1"/><circle cx="1200.4" cy="278" r="3.1"/><circle cx="1201.3" cy="219.4" r="3.1"/><circle cx="1214.8" cy="313" r="3.1"/><circle cx="1216.5" cy="279.7" r="3.1"/><circle cx="1217.5" cy="270.5" r="3.1"/><circle cx="1216.3" cy="297.6" r="3.1"/><circle cx="1216.2" cy="230.4" r="3.1"/><circle cx="1215.6" cy="311.2" r="3.1"/><circle cx="1217" cy="281.7" r="3.1"/><circle cx="1215.9" cy="295.3" r="3.1"/><circle cx="1217" cy="296.3" r="3.1"/><circle cx="1215.3" cy="271.2" r="3.1"/><circle cx="1215.6" cy="346.5" r="3.1"/><circle cx="1216.5" cy="310.5" r="3.1"/><circle cx="1216.2" cy="284.5" r="3.1"/><circle cx="1215.7" cy="296.1" r="3.1"/><circle cx="1214.6" cy="266.7" r="3.1"/><circle cx="1216.1" cy="237.7" r="3.1"/><circle cx="1216.5" cy="295" r="3.1"/><circle cx="1217.3" cy="197.7" r="3.1"/><circle cx="1216.7" cy="277.9" r="3.1"/><circle cx="1214.7" cy="268.6" r="3.1"/><circle cx="1214.1" cy="245" r="3.1"/><circle cx="1215.4" cy="290.9" r="3.1"/><circle cx="1216.2" cy="313.2" r="3.1"/><circle cx="1213.7" cy="286.3" r="3.1"/><circle cx="1217.4" cy="300.1" r="3.1"/><circle cx="1216.9" cy="333.3" r="3.1"/><circle cx="1215.8" cy="254.7" r="3.1"/><circle cx="1218" cy="330.7" r="3.1"/><circle cx="1215.8" cy="302.1" r="3.1"/><circle cx="1216.2" cy="290.3" r="3.1"/><circle cx="1216" cy="297.1" r="3.1"/><circle cx="1215.2" cy="258.5" r="3.1"/><circle cx="1217.7" cy="264.9" r="3.1"/><circle cx="1216" cy="287.4" r="3.1"/><circle cx="1217.8" cy="336.7" r="3.1"/><circle cx="1213.4" cy="297.9" r="3.1"/><circle cx="1216.4" cy="240.2" r="3.1"/><circle cx="1216.6" cy="246.7" r="3.1"/><circle cx="1216.1" cy="287.5" r="3.1"/><circle cx="1214.6" cy="256.9" r="3.1"/><circle cx="1184.3" cy="298.2" r="3.1"/><circle cx="1186.1" cy="344.4" r="3.1"/><circle cx="1184.8" cy="341.3" r="3.1"/><circle cx="1186" cy="309.9" r="3.1"/><circle cx="1184.6" cy="305" r="3.1"/><circle cx="1186.9" cy="304.3" r="3.1"/><circle cx="1185.4" cy="334.6" r="3.1"/><circle cx="1184.3" cy="316.7" r="3.1"/><circle cx="1185.3" cy="330.6" r="3.1"/><circle cx="1186.5" cy="327.2" r="3.1"/><circle cx="1185.1" cy="308.2" r="3.1"/><circle cx="1185.8" cy="396.3" r="3.1"/><circle cx="1185.5" cy="261.2" r="3.1"/><circle cx="1184.1" cy="299.5" r="3.1"/><circle cx="1184.7" cy="360.6" r="3.1"/><circle cx="1185.5" cy="321.2" r="3.1"/><circle cx="1183.1" cy="342.7" r="3.1"/><circle cx="1186.1" cy="342.7" r="3.1"/><circle cx="1230.7" cy="272.1" r="3.1"/><circle cx="1232.1" cy="247.5" r="3.1"/><circle cx="1230.3" cy="289.8" r="3.1"/><circle cx="1236.1" cy="241.9" r="3.1"/><circle cx="1237.3" cy="245.3" r="3.1"/><circle cx="1231.2" cy="296.4" r="3.1"/><circle cx="1231" cy="264.3" r="3.1"/><circle cx="1226.4" cy="270.5" r="3.1"/><circle cx="1264.3" cy="238.8" r="3.1"/><circle cx="1270.7" cy="228.2" r="3.1"/><circle cx="1256.2" cy="242" r="3.1"/><circle cx="1206" cy="237.9" r="3.1"/><circle cx="1209.6" cy="284.7" r="3.1"/><circle cx="1208.7" cy="234.6" r="3.1"/><circle cx="1209.8" cy="323.1" r="3.1"/><circle cx="1204.9" cy="297.7" r="3.1"/><circle cx="1203" cy="232.4" r="3.1"/><circle cx="1170" cy="344.6" r="3.1"/><circle cx="1202" cy="123.5" r="3.1"/><circle cx="1287" cy="214" r="3.1"/></g><line x1="1170" y1="59.3" x2="1170" y2="427.7" stroke="#000" stroke-width="1.5"/><line x1="1169.3" y1="427" x2="1293.7" y2="427" stroke="#000" stroke-width="1.5"/><line x1="1165" y1="60" x2="1170" y2="60" stroke="#000" stroke-width="1.5"/><line x1="1165" y1="133.4" x2="1170" y2="133.4" stroke="#000" stroke-width="1.5"/><line x1="1165" y1="206.8" x2="1170" y2="206.8" stroke="#000" stroke-width="1.5"/><line x1="1165" y1="280.2" x2="1170" y2="280.2" stroke="#000" stroke-width="1.5"/><line x1="1165" y1="353.6" x2="1170" y2="353.6" stroke="#000" stroke-width="1.5"/><line x1="1170.5" y1="427" x2="1170.5" y2="432.5" stroke="#000" stroke-width="1.5"/><text transform="translate(1170.5 446.5) scale(1.1 1)" font-size="16.8" text-anchor="middle">0</text><line x1="1200.8" y1="427" x2="1200.8" y2="432.5" stroke="#000" stroke-width="1.5"/><text transform="translate(1200.8 446.5) scale(1.1 1)" font-size="16.8" text-anchor="middle">2</text><line x1="1231.4" y1="427" x2="1231.4" y2="432.5" stroke="#000" stroke-width="1.5"/><text transform="translate(1231.4 446.5) scale(1.1 1)" font-size="16.8" text-anchor="middle">4</text><line x1="1262" y1="427" x2="1262" y2="432.5" stroke="#000" stroke-width="1.5"/><text transform="translate(1262 446.5) scale(1.1 1)" font-size="16.8" text-anchor="middle">6</text><line x1="1293" y1="427" x2="1293" y2="432.5" stroke="#000" stroke-width="1.5"/><text transform="translate(1293 446.5) scale(1.1 1)" font-size="16.8" text-anchor="middle">8</text><line x1="1170" y1="317" x2="1281.5" y2="197.2" stroke="#000" stroke-width="1.5"/><text x="1281" y="200.2" font-size="26.5" text-anchor="middle">***</text><text x="1517.5" y="27" font-size="25" text-anchor="middle">UNC93B1</text><line x1="1329.6" y1="34" x2="1708" y2="31.4" stroke="#000" stroke-width="1.3"/><g fill="#1440ff" fill-opacity="0.5"><circle cx="1380.2" cy="341.4" r="4"/><circle cx="1390.8" cy="337.1" r="4"/><circle cx="1385.5" cy="309.2" r="4"/><circle cx="1385.5" cy="306.1" r="4"/><circle cx="1396.1" cy="304.2" r="4"/><circle cx="1374.9" cy="303" r="4"/><circle cx="1406.7" cy="299.9" r="4"/><circle cx="1364.3" cy="296.8" r="4"/><circle cx="1385.5" cy="293.7" r="4"/><circle cx="1396.1" cy="290.6" r="4"/><circle cx="1374.9" cy="289.4" r="4"/><circle cx="1381.2" cy="280.8" r="4"/><circle cx="1389.8" cy="279.5" r="4"/><circle cx="1372.5" cy="274.1" r="4"/><circle cx="1398.5" cy="273.4" r="4"/><circle cx="1363.8" cy="273.3" r="4"/><circle cx="1407.2" cy="272.9" r="4"/><circle cx="1383.1" cy="268.5" r="4"/><circle cx="1387.9" cy="265.5" r="4"/><circle cx="1378.2" cy="265.2" r="4"/><circle cx="1392.8" cy="265.2" r="4"/><circle cx="1373.4" cy="262.1" r="4"/><circle cx="1397.6" cy="262" r="4"/><circle cx="1368.6" cy="261" r="4"/><circle cx="1402.4" cy="260" r="4"/><circle cx="1363.8" cy="259.3" r="4"/><circle cx="1407.2" cy="258.5" r="4"/><circle cx="1383.8" cy="256.6" r="4"/><circle cx="1387.2" cy="256.3" r="4"/><circle cx="1380.5" cy="254.7" r="4"/><circle cx="1390.5" cy="254.5" r="4"/><circle cx="1377.1" cy="251.4" r="4"/><circle cx="1393.9" cy="250.2" r="4"/><circle cx="1373.8" cy="249.9" r="4"/><circle cx="1397.2" cy="249.2" r="4"/><circle cx="1370.4" cy="247.8" r="4"/><circle cx="1400.6" cy="247.4" r="4"/><circle cx="1367.1" cy="247.4" r="4"/><circle cx="1403.9" cy="245.7" r="4"/><circle cx="1363.8" cy="245.5" r="4"/><circle cx="1407.2" cy="245.3" r="4"/><circle cx="1385.5" cy="243.2" r="4"/><circle cx="1387.7" cy="242.7" r="4"/><circle cx="1383.3" cy="242.6" r="4"/><circle cx="1389.8" cy="242.2" r="4"/><circle cx="1381.2" cy="240.1" r="4"/><circle cx="1392" cy="239.9" r="4"/><circle cx="1379" cy="239.8" r="4"/><circle cx="1394.2" cy="239.8" r="4"/><circle cx="1376.8" cy="238.8" r="4"/><circle cx="1396.4" cy="238.4" r="4"/><circle cx="1374.6" cy="238.3" r="4"/><circle cx="1398.5" cy="237.7" r="4"/><circle cx="1372.5" cy="237" r="4"/><circle cx="1400.7" cy="236.2" r="4"/><circle cx="1370.3" cy="235.2" r="4"/><circle cx="1402.9" cy="234.7" r="4"/><circle cx="1368.1" cy="233.7" r="4"/><circle cx="1405.1" cy="233.5" r="4"/><circle cx="1365.9" cy="232.8" r="4"/><circle cx="1407.2" cy="232.1" r="4"/><circle cx="1363.8" cy="231.9" r="4"/><circle cx="1384.5" cy="231.8" r="4"/><circle cx="1386.5" cy="229.4" r="4"/><circle cx="1382.4" cy="229.4" r="4"/><circle cx="1388.6" cy="228.4" r="4"/><circle cx="1380.3" cy="226.3" r="4"/><circle cx="1390.7" cy="225.2" r="4"/><circle cx="1378.2" cy="225.2" r="4"/><circle cx="1392.8" cy="225.2" r="4"/><circle cx="1376.2" cy="224.5" r="4"/><circle cx="1394.8" cy="224.1" r="4"/><circle cx="1374.1" cy="223.2" r="4"/><circle cx="1396.9" cy="223" r="4"/><circle cx="1372" cy="222.9" r="4"/><circle cx="1399" cy="222.4" r="4"/><circle cx="1370" cy="222" r="4"/><circle cx="1401" cy="221.9" r="4"/><circle cx="1367.9" cy="221.6" r="4"/><circle cx="1403.1" cy="221.4" r="4"/><circle cx="1365.8" cy="221" r="4"/><circle cx="1405.2" cy="219.8" r="4"/><circle cx="1363.8" cy="219.8" r="4"/><circle cx="1407.2" cy="219.6" r="4"/><circle cx="1384.9" cy="219.4" r="4"/><circle cx="1386.1" cy="219.2" r="4"/><circle cx="1383.7" cy="218.5" r="4"/><circle cx="1387.3" cy="218.4" r="4"/><circle cx="1382.6" cy="218.3" r="4"/><circle cx="1388.4" cy="217.6" r="4"/><circle cx="1381.4" cy="216.9" r="4"/><circle cx="1389.6" cy="216.7" r="4"/><circle cx="1380.2" cy="216.4" r="4"/><circle cx="1390.8" cy="215.5" r="4"/><circle cx="1379" cy="215.5" r="4"/><circle cx="1392" cy="215.4" r="4"/><circle cx="1377.9" cy="215.2" r="4"/><circle cx="1393.1" cy="215.1" r="4"/><circle cx="1376.7" cy="214.6" r="4"/><circle cx="1394.3" cy="214.6" r="4"/><circle cx="1375.5" cy="214.2" r="4"/><circle cx="1395.5" cy="214.1" r="4"/><circle cx="1374.3" cy="213.8" r="4"/><circle cx="1396.7" cy="213.3" r="4"/><circle cx="1373.2" cy="212.6" r="4"/><circle cx="1397.8" cy="212.5" r="4"/><circle cx="1372" cy="212.1" r="4"/><circle cx="1399" cy="211.8" r="4"/><circle cx="1370.8" cy="211.7" r="4"/><circle cx="1400.2" cy="210.7" r="4"/><circle cx="1369.6" cy="209.9" r="4"/><circle cx="1401.4" cy="209.5" r="4"/><circle cx="1368.5" cy="209.4" r="4"/><circle cx="1402.5" cy="209" r="4"/><circle cx="1367.3" cy="208.8" r="4"/><circle cx="1403.7" cy="208.6" r="4"/><circle cx="1366.1" cy="208.6" r="4"/><circle cx="1404.9" cy="207.9" r="4"/><circle cx="1364.9" cy="207.7" r="4"/><circle cx="1406.1" cy="207.4" r="4"/><circle cx="1363.8" cy="207.2" r="4"/><circle cx="1407.2" cy="207.2" r="4"/><circle cx="1385.5" cy="206.6" r="4"/><circle cx="1386.9" cy="206.5" r="4"/><circle cx="1384.1" cy="206.3" r="4"/><circle cx="1388.2" cy="205.4" r="4"/><circle cx="1382.8" cy="205.3" r="4"/><circle cx="1389.6" cy="205.1" r="4"/><circle cx="1381.4" cy="204.4" r="4"/><circle cx="1390.9" cy="203.6" r="4"/><circle cx="1380.1" cy="203.5" r="4"/><circle cx="1392.3" cy="203.4" r="4"/><circle cx="1378.7" cy="203.3" r="4"/><circle cx="1393.7" cy="203.3" r="4"/><circle cx="1377.3" cy="203" r="4"/><circle cx="1395" cy="202.7" r="4"/><circle cx="1376" cy="202.3" r="4"/><circle cx="1396.4" cy="201.5" r="4"/><circle cx="1374.6" cy="201.4" r="4"/><circle cx="1397.7" cy="200.6" r="4"/><circle cx="1373.3" cy="200.4" r="4"/><circle cx="1399.1" cy="200" r="4"/><circle cx="1371.9" cy="199.4" r="4"/><circle cx="1400.5" cy="199.3" r="4"/><circle cx="1370.5" cy="198.8" r="4"/><circle cx="1401.8" cy="198.5" r="4"/><circle cx="1369.2" cy="198.5" r="4"/><circle cx="1403.2" cy="198.5" r="4"/><circle cx="1367.8" cy="198.3" r="4"/><circle cx="1404.5" cy="197.3" r="4"/><circle cx="1366.5" cy="196.7" r="4"/><circle cx="1405.9" cy="196.6" r="4"/><circle cx="1365.1" cy="196.5" r="4"/><circle cx="1407.2" cy="196.2" r="4"/><circle cx="1363.8" cy="196.2" r="4"/><circle cx="1384.9" cy="194.4" r="4"/><circle cx="1386.1" cy="194.2" r="4"/><circle cx="1383.6" cy="193.4" r="4"/><circle cx="1387.4" cy="193.3" r="4"/><circle cx="1382.4" cy="192.9" r="4"/><circle cx="1388.6" cy="192.5" r="4"/><circle cx="1381.2" cy="192.3" r="4"/><circle cx="1389.8" cy="192.3" r="4"/><circle cx="1379.9" cy="191.4" r="4"/><circle cx="1391.1" cy="191.3" r="4"/><circle cx="1378.7" cy="190.3" r="4"/><circle cx="1392.3" cy="189.8" r="4"/><circle cx="1377.4" cy="189.3" r="4"/><circle cx="1393.6" cy="189.2" r="4"/><circle cx="1376.2" cy="189" r="4"/><circle cx="1394.8" cy="188.6" r="4"/><circle cx="1374.9" cy="187.6" r="4"/><circle cx="1396.1" cy="187.3" r="4"/><circle cx="1373.7" cy="187.2" r="4"/><circle cx="1397.3" cy="186.5" r="4"/><circle cx="1372.5" cy="185.9" r="4"/><circle cx="1398.5" cy="185.4" r="4"/><circle cx="1371.2" cy="184.9" r="4"/><circle cx="1399.8" cy="184.9" r="4"/><circle cx="1370" cy="184.7" r="4"/><circle cx="1401" cy="184.6" r="4"/><circle cx="1368.7" cy="184.5" r="4"/><circle cx="1402.3" cy="184.4" r="4"/><circle cx="1367.5" cy="184.3" r="4"/><circle cx="1403.5" cy="183.9" r="4"/><circle cx="1366.2" cy="183.7" r="4"/><circle cx="1404.8" cy="183" r="4"/><circle cx="1365" cy="182.9" r="4"/><circle cx="1406" cy="182.7" r="4"/><circle cx="1363.8" cy="182.3" r="4"/><circle cx="1407.2" cy="182.3" r="4"/><circle cx="1384.7" cy="182" r="4"/><circle cx="1386.3" cy="181.8" r="4"/><circle cx="1383.1" cy="181.6" r="4"/><circle cx="1387.9" cy="180.8" r="4"/><circle cx="1381.5" cy="180.6" r="4"/><circle cx="1389.5" cy="180.1" r="4"/><circle cx="1379.9" cy="180" r="4"/><circle cx="1391.1" cy="179.9" r="4"/><circle cx="1378.2" cy="179.8" r="4"/><circle cx="1392.8" cy="179.4" r="4"/><circle cx="1376.6" cy="177.7" r="4"/><circle cx="1394.4" cy="177.2" r="4"/><circle cx="1375" cy="177.1" r="4"/><circle cx="1396" cy="176.7" r="4"/><circle cx="1373.4" cy="176.3" r="4"/><circle cx="1397.6" cy="175.6" r="4"/><circle cx="1371.8" cy="175" r="4"/><circle cx="1399.2" cy="175" r="4"/><circle cx="1370.2" cy="174.5" r="4"/><circle cx="1400.8" cy="174.3" r="4"/><circle cx="1368.6" cy="173.9" r="4"/><circle cx="1402.4" cy="173.9" r="4"/><circle cx="1367" cy="173.5" r="4"/><circle cx="1404" cy="173.4" r="4"/><circle cx="1365.4" cy="172.1" r="4"/><circle cx="1405.6" cy="172.1" r="4"/><circle cx="1363.8" cy="172.1" r="4"/><circle cx="1407.2" cy="170.6" r="4"/><circle cx="1385.5" cy="169.4" r="4"/><circle cx="1387.3" cy="169.3" r="4"/><circle cx="1383.7" cy="169.1" r="4"/><circle cx="1389.1" cy="168.4" r="4"/><circle cx="1381.9" cy="168" r="4"/><circle cx="1390.9" cy="167.9" r="4"/><circle cx="1380.1" cy="167.9" r="4"/><circle cx="1392.8" cy="166" r="4"/><circle cx="1378.2" cy="165.4" r="4"/><circle cx="1394.6" cy="164.7" r="4"/><circle cx="1376.4" cy="164" r="4"/><circle cx="1396.4" cy="163.6" r="4"/><circle cx="1374.6" cy="163.5" r="4"/><circle cx="1398.2" cy="163.1" r="4"/><circle cx="1372.8" cy="163.1" r="4"/><circle cx="1400" cy="162.8" r="4"/><circle cx="1371" cy="162.7" r="4"/><circle cx="1401.8" cy="162.7" r="4"/><circle cx="1369.2" cy="162.6" r="4"/><circle cx="1403.6" cy="162.1" r="4"/><circle cx="1367.4" cy="161" r="4"/><circle cx="1405.4" cy="160.7" r="4"/><circle cx="1365.6" cy="159.9" r="4"/><circle cx="1407.2" cy="158.6" r="4"/><circle cx="1363.8" cy="158.6" r="4"/><circle cx="1385.5" cy="157.4" r="4"/><circle cx="1387.3" cy="156.7" r="4"/><circle cx="1383.7" cy="156.5" r="4"/><circle cx="1389.1" cy="156.2" r="4"/><circle cx="1381.9" cy="155.7" r="4"/><circle cx="1390.9" cy="154" r="4"/><circle cx="1380.1" cy="153.9" r="4"/><circle cx="1392.8" cy="153.5" r="4"/><circle cx="1378.2" cy="153" r="4"/><circle cx="1394.6" cy="152.3" r="4"/><circle cx="1376.4" cy="152.2" r="4"/><circle cx="1396.4" cy="150.6" r="4"/><circle cx="1374.6" cy="150.5" r="4"/><circle cx="1398.2" cy="149.6" r="4"/><circle cx="1372.8" cy="149.6" r="4"/><circle cx="1400" cy="148.7" r="4"/><circle cx="1371" cy="148" r="4"/><circle cx="1401.8" cy="147.8" r="4"/><circle cx="1369.2" cy="146.6" r="4"/><circle cx="1403.6" cy="146.5" r="4"/><circle cx="1367.4" cy="146.5" r="4"/><circle cx="1405.4" cy="145.7" r="4"/><circle cx="1365.6" cy="145.6" r="4"/><circle cx="1407.2" cy="145.4" r="4"/><circle cx="1363.8" cy="145.3" r="4"/><circle cx="1385.5" cy="143.7" r="4"/><circle cx="1389.1" cy="143.5" r="4"/><circle cx="1381.9" cy="143.4" r="4"/><circle cx="1392.8" cy="141.9" r="4"/><circle cx="1378.2" cy="141.8" r="4"/><circle cx="1396.4" cy="141.7" r="4"/><circle cx="1374.6" cy="141.6" r="4"/><circle cx="1400" cy="141.5" r="4"/><circle cx="1371" cy="140.5" r="4"/><circle cx="1403.6" cy="139" r="4"/><circle cx="1367.4" cy="138.8" r="4"/><circle cx="1407.2" cy="138.4" r="4"/><circle cx="1363.8" cy="135.1" r="4"/><circle cx="1385.5" cy="131.3" r="4"/><circle cx="1392.8" cy="129.5" r="4"/><circle cx="1378.2" cy="128.3" r="4"/><circle cx="1400" cy="128.1" r="4"/><circle cx="1371" cy="127.2" r="4"/><circle cx="1407.2" cy="125.7" r="4"/><circle cx="1363.8" cy="124" r="4"/><circle cx="1380.2" cy="113.9" r="4"/><circle cx="1390.8" cy="110.8" r="4"/><circle cx="1380.2" cy="95.3" r="4"/><circle cx="1390.8" cy="92.2" r="4"/><circle cx="1385.5" cy="75.5" r="4"/></g><g fill="#ff8a1a" fill-opacity="0.55"><circle cx="1454" cy="324.1" r="4"/><circle cx="1464.6" cy="321.6" r="4"/><circle cx="1443.4" cy="320.4" r="4"/><circle cx="1454" cy="306.1" r="4"/><circle cx="1464.6" cy="305.1" r="4"/><circle cx="1443.4" cy="303" r="4"/><circle cx="1448.7" cy="296.9" r="4"/><circle cx="1459.3" cy="290" r="4"/><circle cx="1449.7" cy="286.5" r="4"/><circle cx="1458.3" cy="284.9" r="4"/><circle cx="1441" cy="282.9" r="4"/><circle cx="1467" cy="281.1" r="4"/><circle cx="1432.2" cy="279.8" r="4"/><circle cx="1475.8" cy="279" r="4"/><circle cx="1451.6" cy="275.8" r="4"/><circle cx="1456.4" cy="273.4" r="4"/><circle cx="1446.8" cy="273.1" r="4"/><circle cx="1461.2" cy="272.9" r="4"/><circle cx="1441.9" cy="272.3" r="4"/><circle cx="1466.1" cy="272" r="4"/><circle cx="1437.1" cy="271.7" r="4"/><circle cx="1470.9" cy="266.2" r="4"/><circle cx="1432.2" cy="265" r="4"/><circle cx="1475.8" cy="264.5" r="4"/><circle cx="1454" cy="263" r="4"/><circle cx="1458.3" cy="262.4" r="4"/><circle cx="1449.7" cy="261.9" r="4"/><circle cx="1462.7" cy="260.6" r="4"/><circle cx="1445.3" cy="258.8" r="4"/><circle cx="1467" cy="257.3" r="4"/><circle cx="1441" cy="257.1" r="4"/><circle cx="1471.4" cy="254.2" r="4"/><circle cx="1436.6" cy="253.8" r="4"/><circle cx="1475.8" cy="252.6" r="4"/><circle cx="1432.2" cy="251.8" r="4"/><circle cx="1451.6" cy="249.8" r="4"/><circle cx="1456.4" cy="246.2" r="4"/><circle cx="1446.8" cy="244.6" r="4"/><circle cx="1461.2" cy="243.2" r="4"/><circle cx="1441.9" cy="243" r="4"/><circle cx="1466.1" cy="242.3" r="4"/><circle cx="1437.1" cy="242.1" r="4"/><circle cx="1470.9" cy="241.5" r="4"/><circle cx="1432.2" cy="241.3" r="4"/><circle cx="1475.8" cy="241.1" r="4"/><circle cx="1453.1" cy="237.9" r="4"/><circle cx="1454.9" cy="236.9" r="4"/><circle cx="1451.2" cy="236.2" r="4"/><circle cx="1456.8" cy="236.1" r="4"/><circle cx="1449.3" cy="235.8" r="4"/><circle cx="1458.7" cy="235.7" r="4"/><circle cx="1447.4" cy="234.7" r="4"/><circle cx="1460.6" cy="234.1" r="4"/><circle cx="1445.5" cy="233.9" r="4"/><circle cx="1462.5" cy="233.9" r="4"/><circle cx="1443.6" cy="233.5" r="4"/><circle cx="1464.4" cy="233.1" r="4"/><circle cx="1441.7" cy="232.5" r="4"/><circle cx="1466.3" cy="232.2" r="4"/><circle cx="1439.8" cy="231.8" r="4"/><circle cx="1468.2" cy="231.6" r="4"/><circle cx="1437.9" cy="231.5" r="4"/><circle cx="1470.1" cy="231.3" r="4"/><circle cx="1436" cy="230.7" r="4"/><circle cx="1472" cy="230.3" r="4"/><circle cx="1434.1" cy="228.7" r="4"/><circle cx="1473.9" cy="228.6" r="4"/><circle cx="1432.2" cy="227.1" r="4"/><circle cx="1475.8" cy="227" r="4"/><circle cx="1454" cy="225.5" r="4"/><circle cx="1456.2" cy="224.7" r="4"/><circle cx="1451.8" cy="224.6" r="4"/><circle cx="1458.3" cy="224.5" r="4"/><circle cx="1449.7" cy="224.3" r="4"/><circle cx="1460.5" cy="223.7" r="4"/><circle cx="1447.5" cy="222.2" r="4"/><circle cx="1462.7" cy="222.2" r="4"/><circle cx="1445.3" cy="221" r="4"/><circle cx="1464.9" cy="220.5" r="4"/><circle cx="1443.1" cy="218.4" r="4"/><circle cx="1467" cy="218.3" r="4"/><circle cx="1441" cy="218.2" r="4"/><circle cx="1469.2" cy="217.6" r="4"/><circle cx="1438.8" cy="216.6" r="4"/><circle cx="1471.4" cy="216.4" r="4"/><circle cx="1436.6" cy="216.3" r="4"/><circle cx="1473.6" cy="216" r="4"/><circle cx="1434.4" cy="215.7" r="4"/><circle cx="1475.8" cy="215.1" r="4"/><circle cx="1432.2" cy="214.7" r="4"/><circle cx="1454" cy="214.3" r="4"/><circle cx="1456" cy="212.5" r="4"/><circle cx="1452" cy="212.3" r="4"/><circle cx="1458" cy="212.2" r="4"/><circle cx="1450" cy="211.8" r="4"/><circle cx="1459.9" cy="211.2" r="4"/><circle cx="1448.1" cy="211" r="4"/><circle cx="1461.9" cy="210.8" r="4"/><circle cx="1446.1" cy="209.9" r="4"/><circle cx="1463.9" cy="209.9" r="4"/><circle cx="1444.1" cy="209.7" r="4"/><circle cx="1465.9" cy="209.5" r="4"/><circle cx="1442.1" cy="208.2" r="4"/><circle cx="1467.8" cy="207.8" r="4"/><circle cx="1440.2" cy="206.7" r="4"/><circle cx="1469.8" cy="206.4" r="4"/><circle cx="1438.2" cy="205.8" r="4"/><circle cx="1471.8" cy="205.6" r="4"/><circle cx="1436.2" cy="205.2" r="4"/><circle cx="1473.8" cy="205.1" r="4"/><circle cx="1434.2" cy="204.2" r="4"/><circle cx="1475.8" cy="203.1" r="4"/><circle cx="1432.2" cy="203" r="4"/><circle cx="1454" cy="201.4" r="4"/><circle cx="1457.6" cy="201" r="4"/><circle cx="1450.4" cy="200.3" r="4"/><circle cx="1461.2" cy="200" r="4"/><circle cx="1446.8" cy="199.8" r="4"/><circle cx="1464.9" cy="199.6" r="4"/><circle cx="1443.1" cy="199.5" r="4"/><circle cx="1468.5" cy="198.6" r="4"/><circle cx="1439.5" cy="197.5" r="4"/><circle cx="1472.1" cy="194.6" r="4"/><circle cx="1435.9" cy="194" r="4"/><circle cx="1475.8" cy="192" r="4"/><circle cx="1432.2" cy="191.4" r="4"/><circle cx="1454" cy="188.6" r="4"/><circle cx="1457.6" cy="188.2" r="4"/><circle cx="1450.4" cy="187.2" r="4"/><circle cx="1461.2" cy="186.4" r="4"/><circle cx="1446.8" cy="185.8" r="4"/><circle cx="1464.9" cy="185.7" r="4"/><circle cx="1443.1" cy="185" r="4"/><circle cx="1468.5" cy="184.8" r="4"/><circle cx="1439.5" cy="181.5" r="4"/><circle cx="1472.1" cy="180.6" r="4"/><circle cx="1435.9" cy="178.6" r="4"/><circle cx="1475.8" cy="178.6" r="4"/><circle cx="1432.2" cy="178.2" r="4"/><circle cx="1454" cy="176.3" r="4"/><circle cx="1457.6" cy="176.2" r="4"/><circle cx="1450.4" cy="175.4" r="4"/><circle cx="1461.2" cy="174.8" r="4"/><circle cx="1446.8" cy="172.6" r="4"/><circle cx="1464.9" cy="172.1" r="4"/><circle cx="1443.1" cy="167.9" r="4"/><circle cx="1468.5" cy="167.4" r="4"/><circle cx="1439.5" cy="167.4" r="4"/><circle cx="1472.1" cy="166.1" r="4"/><circle cx="1435.9" cy="165.7" r="4"/><circle cx="1475.8" cy="165.5" r="4"/><circle cx="1432.2" cy="165.5" r="4"/><circle cx="1448.7" cy="161.8" r="4"/><circle cx="1459.3" cy="160.5" r="4"/><circle cx="1438.1" cy="159.5" r="4"/><circle cx="1469.9" cy="152.9" r="4"/><circle cx="1454" cy="149.4" r="4"/><circle cx="1464.6" cy="145.6" r="4"/><circle cx="1443.4" cy="141.6" r="4"/><circle cx="1448.7" cy="139.3" r="4"/><circle cx="1459.3" cy="136.2" r="4"/><circle cx="1454" cy="123.2" r="4"/><circle cx="1454" cy="109.6" r="4"/></g><g fill="#a0a0a0" fill-opacity="0.6"><circle cx="1522.5" cy="366.2" r="4"/><circle cx="1522.5" cy="309.2" r="4"/><circle cx="1522.5" cy="297.5" r="4"/><circle cx="1517.2" cy="290.3" r="4"/><circle cx="1527.8" cy="288.6" r="4"/><circle cx="1506.6" cy="286.4" r="4"/><circle cx="1538.4" cy="284.2" r="4"/><circle cx="1522.5" cy="276" r="4"/><circle cx="1529.8" cy="275" r="4"/><circle cx="1515.2" cy="274.2" r="4"/><circle cx="1537" cy="274" r="4"/><circle cx="1508" cy="272.5" r="4"/><circle cx="1544.2" cy="271" r="4"/><circle cx="1500.8" cy="270" r="4"/><circle cx="1522.5" cy="268.1" r="4"/><circle cx="1533.1" cy="261.2" r="4"/><circle cx="1511.9" cy="260.1" r="4"/><circle cx="1543.7" cy="259.6" r="4"/><circle cx="1501.3" cy="258.1" r="4"/><circle cx="1522.5" cy="256.3" r="4"/><circle cx="1533.1" cy="249.7" r="4"/><circle cx="1511.9" cy="248.8" r="4"/><circle cx="1543.7" cy="248.3" r="4"/><circle cx="1501.3" cy="247.1" r="4"/><circle cx="1522.5" cy="242.8" r="4"/><circle cx="1525.6" cy="239.4" r="4"/><circle cx="1519.4" cy="238.7" r="4"/><circle cx="1528.7" cy="238" r="4"/><circle cx="1516.3" cy="237.7" r="4"/><circle cx="1531.8" cy="237.6" r="4"/><circle cx="1513.2" cy="236.4" r="4"/><circle cx="1534.9" cy="236.4" r="4"/><circle cx="1510.1" cy="235.7" r="4"/><circle cx="1538" cy="235.7" r="4"/><circle cx="1507" cy="235.5" r="4"/><circle cx="1541.1" cy="233.6" r="4"/><circle cx="1503.9" cy="233.2" r="4"/><circle cx="1544.2" cy="233.2" r="4"/><circle cx="1500.8" cy="232.3" r="4"/><circle cx="1521.2" cy="231.7" r="4"/><circle cx="1523.8" cy="231.6" r="4"/><circle cx="1518.7" cy="230.5" r="4"/><circle cx="1526.3" cy="230.5" r="4"/><circle cx="1516.1" cy="229.9" r="4"/><circle cx="1528.9" cy="229.8" r="4"/><circle cx="1513.5" cy="228.4" r="4"/><circle cx="1531.5" cy="227.4" r="4"/><circle cx="1511" cy="225.8" r="4"/><circle cx="1534" cy="225.1" r="4"/><circle cx="1508.4" cy="224.3" r="4"/><circle cx="1536.6" cy="224.2" r="4"/><circle cx="1505.9" cy="223.8" r="4"/><circle cx="1539.1" cy="223.2" r="4"/><circle cx="1503.3" cy="222.5" r="4"/><circle cx="1541.7" cy="222.2" r="4"/><circle cx="1500.8" cy="221.3" r="4"/><circle cx="1544.2" cy="220.4" r="4"/><circle cx="1522.5" cy="219.2" r="4"/><circle cx="1524.9" cy="219.1" r="4"/><circle cx="1520.1" cy="218.3" r="4"/><circle cx="1527.3" cy="218.2" r="4"/><circle cx="1517.7" cy="218.1" r="4"/><circle cx="1529.8" cy="216.7" r="4"/><circle cx="1515.2" cy="216.6" r="4"/><circle cx="1532.2" cy="216.4" r="4"/><circle cx="1512.8" cy="216" r="4"/><circle cx="1534.6" cy="214.3" r="4"/><circle cx="1510.4" cy="213.3" r="4"/><circle cx="1537" cy="213" r="4"/><circle cx="1508" cy="211.8" r="4"/><circle cx="1539.4" cy="211.5" r="4"/><circle cx="1505.6" cy="211.4" r="4"/><circle cx="1541.8" cy="209.5" r="4"/><circle cx="1503.2" cy="209.3" r="4"/><circle cx="1544.2" cy="207.7" r="4"/><circle cx="1500.8" cy="207.5" r="4"/><circle cx="1522.5" cy="206.7" r="4"/><circle cx="1529.8" cy="204.9" r="4"/><circle cx="1515.2" cy="202.1" r="4"/><circle cx="1537" cy="201.2" r="4"/><circle cx="1508" cy="200.4" r="4"/><circle cx="1544.2" cy="200.2" r="4"/><circle cx="1500.8" cy="196.5" r="4"/><circle cx="1518.2" cy="193" r="4"/><circle cx="1526.8" cy="189.8" r="4"/><circle cx="1509.5" cy="187.6" r="4"/><circle cx="1535.5" cy="187.6" r="4"/><circle cx="1500.8" cy="185.4" r="4"/><circle cx="1544.2" cy="185.1" r="4"/><circle cx="1520.5" cy="182" r="4"/><circle cx="1524.5" cy="181.7" r="4"/><circle cx="1516.6" cy="181.6" r="4"/><circle cx="1528.4" cy="177.8" r="4"/><circle cx="1512.6" cy="177.4" r="4"/><circle cx="1532.4" cy="176.4" r="4"/><circle cx="1508.7" cy="174.9" r="4"/><circle cx="1536.3" cy="173.8" r="4"/><circle cx="1504.7" cy="172.3" r="4"/><circle cx="1540.3" cy="171.7" r="4"/><circle cx="1500.8" cy="171.5" r="4"/><circle cx="1544.2" cy="170.8" r="4"/><circle cx="1522.5" cy="166.6" r="4"/><circle cx="1533.1" cy="165.5" r="4"/><circle cx="1511.9" cy="161.8" r="4"/><circle cx="1543.7" cy="159.8" r="4"/><circle cx="1501.3" cy="159.2" r="4"/><circle cx="1522.5" cy="156.1" r="4"/><circle cx="1529.8" cy="155.6" r="4"/><circle cx="1515.2" cy="153.3" r="4"/><circle cx="1537" cy="150.2" r="4"/><circle cx="1508" cy="145.8" r="4"/><circle cx="1544.2" cy="145.1" r="4"/><circle cx="1500.8" cy="145.1" r="4"/><circle cx="1522.5" cy="141.8" r="4"/></g><line x1="1329.6" y1="54.3" x2="1329.6" y2="427.7" stroke="#000" stroke-width="1.5"/><line x1="1328.9" y1="427" x2="1577" y2="427" stroke="#000" stroke-width="1.5"/><line x1="1324.1" y1="55" x2="1329.6" y2="55" stroke="#000" stroke-width="1.5"/><text transform="translate(1323.1 61) scale(1.1 1)" font-size="16.8" text-anchor="end">14</text><line x1="1324.1" y1="117" x2="1329.6" y2="117" stroke="#000" stroke-width="1.5"/><text transform="translate(1323.1 123) scale(1.1 1)" font-size="16.8" text-anchor="end">13</text><line x1="1324.1" y1="179" x2="1329.6" y2="179" stroke="#000" stroke-width="1.5"/><text transform="translate(1323.1 185) scale(1.1 1)" font-size="16.8" text-anchor="end">12</text><line x1="1324.1" y1="241" x2="1329.6" y2="241" stroke="#000" stroke-width="1.5"/><text transform="translate(1323.1 247) scale(1.1 1)" font-size="16.8" text-anchor="end">11</text><line x1="1324.1" y1="303" x2="1329.6" y2="303" stroke="#000" stroke-width="1.5"/><text transform="translate(1323.1 309) scale(1.1 1)" font-size="16.8" text-anchor="end">10</text><line x1="1324.1" y1="365" x2="1329.6" y2="365" stroke="#000" stroke-width="1.5"/><text transform="translate(1323.1 371) scale(1.1 1)" font-size="16.8" text-anchor="end">9</text><line x1="1324.1" y1="427" x2="1329.6" y2="427" stroke="#000" stroke-width="1.5"/><text transform="translate(1323.1 433) scale(1.1 1)" font-size="16.8" text-anchor="end">8</text><text x="1385.5" y="446.5" font-size="22.5" text-anchor="middle">ABC</text><text x="1454" y="446.5" font-size="22.5" text-anchor="middle">GCB</text><text x="1522.5" y="446.5" font-size="22.5" text-anchor="middle">Unc</text><line x1="1358" y1="198.2" x2="1413" y2="198.2" stroke="#000" stroke-width="1.5"/><line x1="1385.5" y1="158.5" x2="1385.5" y2="238.5" stroke="#000" stroke-width="1.5"/><line x1="1371.5" y1="158.5" x2="1399.5" y2="158.5" stroke="#000" stroke-width="1.5"/><line x1="1371.5" y1="238.5" x2="1399.5" y2="238.5" stroke="#000" stroke-width="1.5"/><line x1="1426.5" y1="219.3" x2="1481.5" y2="219.3" stroke="#000" stroke-width="1.5"/><line x1="1454" y1="178.4" x2="1454" y2="260.2" stroke="#000" stroke-width="1.5"/><line x1="1440" y1="178.4" x2="1468" y2="178.4" stroke="#000" stroke-width="1.5"/><line x1="1440" y1="260.2" x2="1468" y2="260.2" stroke="#000" stroke-width="1.5"/><line x1="1495" y1="216.2" x2="1550" y2="216.2" stroke="#000" stroke-width="1.5"/><line x1="1522.5" y1="179" x2="1522.5" y2="252.8" stroke="#000" stroke-width="1.5"/><line x1="1508.5" y1="179" x2="1536.5" y2="179" stroke="#000" stroke-width="1.5"/><line x1="1508.5" y1="252.8" x2="1536.5" y2="252.8" stroke="#000" stroke-width="1.5"/><line x1="1383.2" y1="67" x2="1451.7" y2="67" stroke="#000" stroke-width="1.3"/><text x="1417.6" y="75.5" font-size="26.5" text-anchor="middle">***</text><line x1="1383.2" y1="83" x2="1520.4" y2="83" stroke="#000" stroke-width="1.3"/><text x="1452.5" y="91.5" font-size="26.5" text-anchor="middle">***</text><g fill="#1440ff" fill-opacity="0.5"><circle cx="1631.3" cy="160.6" r="3.1"/><circle cx="1631.2" cy="206.5" r="3.1"/><circle cx="1628" cy="230.7" r="3.1"/><circle cx="1629.9" cy="151" r="3.1"/><circle cx="1629.8" cy="224.5" r="3.1"/><circle cx="1630.8" cy="247.8" r="3.1"/><circle cx="1630.2" cy="189.6" r="3.1"/><circle cx="1629.9" cy="212.9" r="3.1"/><circle cx="1628.5" cy="258" r="3.1"/><circle cx="1630" cy="167.1" r="3.1"/><circle cx="1629.7" cy="246" r="3.1"/><circle cx="1629.4" cy="185.8" r="3.1"/><circle cx="1628.8" cy="204.6" r="3.1"/><circle cx="1629.9" cy="208.3" r="3.1"/><circle cx="1629.5" cy="207.5" r="3.1"/><circle cx="1631.5" cy="221.7" r="3.1"/><circle cx="1629.7" cy="308.7" r="3.1"/><circle cx="1630.7" cy="235.3" r="3.1"/><circle cx="1630.6" cy="206.4" r="3.1"/><circle cx="1629.4" cy="235.2" r="3.1"/><circle cx="1628.9" cy="134.3" r="3.1"/><circle cx="1631.1" cy="178.4" r="3.1"/><circle cx="1631.4" cy="156.8" r="3.1"/><circle cx="1631.1" cy="170.3" r="3.1"/><circle cx="1632.6" cy="274.5" r="3.1"/><circle cx="1630.4" cy="232.4" r="3.1"/><circle cx="1630.3" cy="304.6" r="3.1"/><circle cx="1629.2" cy="177" r="3.1"/><circle cx="1629.1" cy="186.6" r="3.1"/><circle cx="1629.5" cy="214" r="3.1"/><circle cx="1628.8" cy="231" r="3.1"/><circle cx="1628.8" cy="186.2" r="3.1"/><circle cx="1628.6" cy="194.4" r="3.1"/><circle cx="1629.8" cy="213" r="3.1"/><circle cx="1631.7" cy="215.9" r="3.1"/><circle cx="1629.7" cy="205.2" r="3.1"/><circle cx="1631" cy="226.3" r="3.1"/><circle cx="1632" cy="198.3" r="3.1"/><circle cx="1630" cy="229.7" r="3.1"/><circle cx="1630.2" cy="182.9" r="3.1"/><circle cx="1631.4" cy="201.2" r="3.1"/><circle cx="1629.8" cy="205.6" r="3.1"/><circle cx="1628.4" cy="161" r="3.1"/><circle cx="1631.2" cy="210.8" r="3.1"/><circle cx="1631.1" cy="240.5" r="3.1"/><circle cx="1632.2" cy="206.4" r="3.1"/><circle cx="1630" cy="118.9" r="3.1"/><circle cx="1629.6" cy="179.7" r="3.1"/><circle cx="1629.8" cy="215" r="3.1"/><circle cx="1630.4" cy="215.8" r="3.1"/><circle cx="1632.1" cy="151.4" r="3.1"/><circle cx="1630.6" cy="199.9" r="3.1"/><circle cx="1631" cy="232.7" r="3.1"/><circle cx="1631.9" cy="228.2" r="3.1"/><circle cx="1629.4" cy="153.3" r="3.1"/><circle cx="1629.7" cy="204.3" r="3.1"/><circle cx="1629.4" cy="212.4" r="3.1"/><circle cx="1630.7" cy="288" r="3.1"/><circle cx="1630.5" cy="227.9" r="3.1"/><circle cx="1631.9" cy="120.3" r="3.1"/><circle cx="1631" cy="175.5" r="3.1"/><circle cx="1631.5" cy="157.9" r="3.1"/><circle cx="1629.1" cy="249.5" r="3.1"/><circle cx="1630" cy="253.1" r="3.1"/><circle cx="1630.1" cy="196.8" r="3.1"/><circle cx="1629.7" cy="183.5" r="3.1"/><circle cx="1631.8" cy="199.7" r="3.1"/><circle cx="1630.9" cy="203.1" r="3.1"/><circle cx="1630.4" cy="221.7" r="3.1"/><circle cx="1629.3" cy="180.8" r="3.1"/><circle cx="1631.5" cy="204.2" r="3.1"/><circle cx="1630.5" cy="255" r="3.1"/><circle cx="1630.2" cy="191.4" r="3.1"/><circle cx="1630.3" cy="201" r="3.1"/><circle cx="1629.4" cy="251.8" r="3.1"/><circle cx="1630.1" cy="147" r="3.1"/><circle cx="1630" cy="260.7" r="3.1"/><circle cx="1629.8" cy="211.8" r="3.1"/><circle cx="1631.5" cy="162.9" r="3.1"/><circle cx="1629.6" cy="242.3" r="3.1"/><circle cx="1630.1" cy="204.5" r="3.1"/><circle cx="1629.4" cy="167.8" r="3.1"/><circle cx="1629.9" cy="194.9" r="3.1"/><circle cx="1630.2" cy="185.2" r="3.1"/><circle cx="1630.2" cy="195.3" r="3.1"/><circle cx="1631.5" cy="196" r="3.1"/><circle cx="1631.7" cy="252.9" r="3.1"/><circle cx="1630.2" cy="244.7" r="3.1"/><circle cx="1629" cy="206.9" r="3.1"/><circle cx="1632.2" cy="196.3" r="3.1"/><circle cx="1631.3" cy="278.1" r="3.1"/><circle cx="1630.6" cy="249.4" r="3.1"/><circle cx="1630.5" cy="167.2" r="3.1"/><circle cx="1629.9" cy="165.4" r="3.1"/><circle cx="1629.6" cy="202.9" r="3.1"/><circle cx="1629.7" cy="204.2" r="3.1"/><circle cx="1630.1" cy="291" r="3.1"/><circle cx="1629.9" cy="227" r="3.1"/><circle cx="1631.9" cy="303.1" r="3.1"/><circle cx="1630.3" cy="177.6" r="3.1"/><circle cx="1632.1" cy="159.3" r="3.1"/><circle cx="1630.2" cy="153.8" r="3.1"/><circle cx="1630.1" cy="215.8" r="3.1"/><circle cx="1629.9" cy="223.1" r="3.1"/><circle cx="1631.7" cy="271.2" r="3.1"/><circle cx="1628.8" cy="173.3" r="3.1"/><circle cx="1630.7" cy="177.1" r="3.1"/><circle cx="1630" cy="184.7" r="3.1"/><circle cx="1630" cy="229.5" r="3.1"/><circle cx="1629.8" cy="205.3" r="3.1"/><circle cx="1630.3" cy="225.8" r="3.1"/><circle cx="1631.7" cy="194" r="3.1"/><circle cx="1629.9" cy="260.9" r="3.1"/><circle cx="1630.1" cy="273.2" r="3.1"/><circle cx="1629.3" cy="255.3" r="3.1"/><circle cx="1629.3" cy="205.4" r="3.1"/><circle cx="1627.1" cy="157.6" r="3.1"/><circle cx="1630.6" cy="230.4" r="3.1"/><circle cx="1629.5" cy="186.6" r="3.1"/><circle cx="1630" cy="148.2" r="3.1"/><circle cx="1630" cy="249.7" r="3.1"/><circle cx="1628.7" cy="218.1" r="3.1"/><circle cx="1631.1" cy="260.8" r="3.1"/><circle cx="1631.3" cy="182.5" r="3.1"/><circle cx="1629.8" cy="165.5" r="3.1"/><circle cx="1628.4" cy="297.5" r="3.1"/><circle cx="1630.4" cy="198.3" r="3.1"/><circle cx="1630.5" cy="215.8" r="3.1"/><circle cx="1628.7" cy="193.2" r="3.1"/><circle cx="1629.8" cy="180.7" r="3.1"/><circle cx="1630.3" cy="258.3" r="3.1"/><circle cx="1630.7" cy="183.2" r="3.1"/><circle cx="1630.9" cy="240.7" r="3.1"/><circle cx="1629.1" cy="183.4" r="3.1"/><circle cx="1630.1" cy="218.2" r="3.1"/><circle cx="1631.1" cy="173.4" r="3.1"/><circle cx="1630.6" cy="221.8" r="3.1"/><circle cx="1631.6" cy="253" r="3.1"/><circle cx="1630.1" cy="201" r="3.1"/><circle cx="1628.8" cy="240.8" r="3.1"/><circle cx="1631" cy="216.4" r="3.1"/><circle cx="1629.1" cy="149.4" r="3.1"/><circle cx="1630.3" cy="209" r="3.1"/><circle cx="1631.9" cy="269.4" r="3.1"/><circle cx="1629.6" cy="248" r="3.1"/><circle cx="1631.4" cy="244.1" r="3.1"/><circle cx="1632.4" cy="194.3" r="3.1"/><circle cx="1630.5" cy="175" r="3.1"/><circle cx="1630" cy="247.3" r="3.1"/><circle cx="1629.6" cy="211.6" r="3.1"/><circle cx="1629.2" cy="207.5" r="3.1"/><circle cx="1629.5" cy="220.7" r="3.1"/><circle cx="1630.1" cy="151.6" r="3.1"/><circle cx="1632.4" cy="139.5" r="3.1"/><circle cx="1630.1" cy="234.5" r="3.1"/><circle cx="1631.3" cy="155.3" r="3.1"/><circle cx="1631.2" cy="227.8" r="3.1"/><circle cx="1630.7" cy="214.6" r="3.1"/><circle cx="1631.4" cy="168.3" r="3.1"/><circle cx="1630.6" cy="219.5" r="3.1"/><circle cx="1632.1" cy="195.8" r="3.1"/><circle cx="1631.2" cy="181.4" r="3.1"/><circle cx="1631.2" cy="157.4" r="3.1"/><circle cx="1630.1" cy="219.2" r="3.1"/><circle cx="1631" cy="325.5" r="3.1"/><circle cx="1630.4" cy="220.4" r="3.1"/><circle cx="1631.1" cy="188.9" r="3.1"/><circle cx="1630.2" cy="246.7" r="3.1"/><circle cx="1630.3" cy="214.3" r="3.1"/><circle cx="1630.5" cy="193.7" r="3.1"/><circle cx="1629.7" cy="182.1" r="3.1"/><circle cx="1629.9" cy="186.5" r="3.1"/><circle cx="1630.7" cy="154.4" r="3.1"/><circle cx="1630.4" cy="141.2" r="3.1"/><circle cx="1630.1" cy="236.3" r="3.1"/><circle cx="1631" cy="250.3" r="3.1"/><circle cx="1630.8" cy="188.1" r="3.1"/><circle cx="1630.6" cy="187.3" r="3.1"/><circle cx="1630.6" cy="153.9" r="3.1"/><circle cx="1630.3" cy="277.7" r="3.1"/><circle cx="1630.1" cy="170.8" r="3.1"/><circle cx="1631.4" cy="176.6" r="3.1"/><circle cx="1630.4" cy="238.1" r="3.1"/><circle cx="1631.9" cy="225" r="3.1"/><circle cx="1629.3" cy="295.9" r="3.1"/><circle cx="1632.2" cy="203.5" r="3.1"/><circle cx="1628.6" cy="170.2" r="3.1"/><circle cx="1631" cy="267.7" r="3.1"/><circle cx="1631.1" cy="202.9" r="3.1"/><circle cx="1631" cy="151.2" r="3.1"/><circle cx="1630" cy="120.3" r="3.1"/><circle cx="1630.3" cy="226.7" r="3.1"/><circle cx="1631.5" cy="229.7" r="3.1"/><circle cx="1630" cy="172.7" r="3.1"/><circle cx="1629.5" cy="256.7" r="3.1"/><circle cx="1630.6" cy="206.4" r="3.1"/><circle cx="1629.8" cy="170.4" r="3.1"/><circle cx="1629.2" cy="178.2" r="3.1"/><circle cx="1629.3" cy="189.4" r="3.1"/><circle cx="1629.1" cy="183.2" r="3.1"/><circle cx="1630.2" cy="224.7" r="3.1"/><circle cx="1630.3" cy="214.4" r="3.1"/><circle cx="1631" cy="234.8" r="3.1"/><circle cx="1630.7" cy="221.8" r="3.1"/><circle cx="1629.6" cy="229.6" r="3.1"/><circle cx="1629.1" cy="198.1" r="3.1"/><circle cx="1630.3" cy="197.3" r="3.1"/><circle cx="1628.7" cy="228.2" r="3.1"/><circle cx="1631.6" cy="164.9" r="3.1"/><circle cx="1630.1" cy="210.6" r="3.1"/><circle cx="1649.2" cy="164.9" r="3.1"/><circle cx="1650.9" cy="192.7" r="3.1"/><circle cx="1649.3" cy="203.8" r="3.1"/><circle cx="1649.5" cy="137.3" r="3.1"/><circle cx="1648.1" cy="178.7" r="3.1"/><circle cx="1647.5" cy="242.4" r="3.1"/><circle cx="1646.8" cy="224.8" r="3.1"/><circle cx="1651" cy="142.6" r="3.1"/><circle cx="1650.1" cy="203.9" r="3.1"/><circle cx="1650.4" cy="241.7" r="3.1"/><circle cx="1647.1" cy="235.3" r="3.1"/><circle cx="1648.7" cy="270.6" r="3.1"/><circle cx="1647.9" cy="141.2" r="3.1"/><circle cx="1648.7" cy="218.3" r="3.1"/><circle cx="1648.1" cy="177.6" r="3.1"/><circle cx="1649.8" cy="200.9" r="3.1"/><circle cx="1648.7" cy="283.3" r="3.1"/><circle cx="1647" cy="219.9" r="3.1"/><circle cx="1648.2" cy="216.7" r="3.1"/><circle cx="1648.3" cy="139.8" r="3.1"/><circle cx="1650.4" cy="246" r="3.1"/><circle cx="1649.9" cy="191.4" r="3.1"/><circle cx="1648.9" cy="215.1" r="3.1"/><circle cx="1649.4" cy="137.4" r="3.1"/><circle cx="1648.2" cy="211.8" r="3.1"/><circle cx="1648.7" cy="267.6" r="3.1"/><circle cx="1648.9" cy="235.7" r="3.1"/><circle cx="1649.3" cy="190.3" r="3.1"/><circle cx="1651.4" cy="212.8" r="3.1"/><circle cx="1648.6" cy="177.4" r="3.1"/><circle cx="1651.6" cy="197.3" r="3.1"/><circle cx="1649.6" cy="182.5" r="3.1"/><circle cx="1649.7" cy="221.9" r="3.1"/><circle cx="1648" cy="228" r="3.1"/><circle cx="1648.5" cy="191.8" r="3.1"/><circle cx="1647.8" cy="231.2" r="3.1"/><circle cx="1649" cy="207.9" r="3.1"/><circle cx="1649.1" cy="248.7" r="3.1"/><circle cx="1651.5" cy="210.9" r="3.1"/><circle cx="1648.7" cy="234.4" r="3.1"/><circle cx="1649.6" cy="166.3" r="3.1"/><circle cx="1648.9" cy="207.3" r="3.1"/><circle cx="1648.7" cy="122.3" r="3.1"/><circle cx="1649.8" cy="218.7" r="3.1"/><circle cx="1649.2" cy="164.7" r="3.1"/><circle cx="1612.4" cy="218.5" r="3.1"/><circle cx="1612.4" cy="230.2" r="3.1"/><circle cx="1613" cy="186.2" r="3.1"/><circle cx="1612.9" cy="232.6" r="3.1"/><circle cx="1610.9" cy="227.1" r="3.1"/><circle cx="1667.3" cy="214.5" r="3.1"/><circle cx="1669.6" cy="179.4" r="3.1"/><circle cx="1670.4" cy="174" r="3.1"/><circle cx="1667.7" cy="160.1" r="3.1"/><circle cx="1669.2" cy="145.9" r="3.1"/><circle cx="1666.6" cy="198.4" r="3.1"/><circle cx="1668.6" cy="140.7" r="3.1"/><circle cx="1669.3" cy="221.8" r="3.1"/><circle cx="1666.8" cy="171.2" r="3.1"/><circle cx="1635.3" cy="214.1" r="3.1"/><circle cx="1640.6" cy="204.3" r="3.1"/><circle cx="1642.2" cy="169.8" r="3.1"/><circle cx="1642.1" cy="232.2" r="3.1"/><circle cx="1646.1" cy="162.7" r="3.1"/><circle cx="1686" cy="233.5" r="3.1"/><circle cx="1669" cy="316" r="3.1"/><circle cx="1627" cy="334" r="3.1"/></g><line x1="1591" y1="74.3" x2="1591" y2="427.7" stroke="#000" stroke-width="1.5"/><line x1="1590.3" y1="427" x2="1708.7" y2="427" stroke="#000" stroke-width="1.5"/><line x1="1586" y1="75" x2="1591" y2="75" stroke="#000" stroke-width="1.5"/><line x1="1586" y1="133.7" x2="1591" y2="133.7" stroke="#000" stroke-width="1.5"/><line x1="1586" y1="192.3" x2="1591" y2="192.3" stroke="#000" stroke-width="1.5"/><line x1="1586" y1="251" x2="1591" y2="251" stroke="#000" stroke-width="1.5"/><line x1="1586" y1="309.7" x2="1591" y2="309.7" stroke="#000" stroke-width="1.5"/><line x1="1586" y1="368.3" x2="1591" y2="368.3" stroke="#000" stroke-width="1.5"/><line x1="1591" y1="427" x2="1591" y2="432.5" stroke="#000" stroke-width="1.5"/><text transform="translate(1591 446.5) scale(1.1 1)" font-size="16.8" text-anchor="middle">0</text><line x1="1629.6" y1="427" x2="1629.6" y2="432.5" stroke="#000" stroke-width="1.5"/><text transform="translate(1629.6 446.5) scale(1.1 1)" font-size="16.8" text-anchor="middle">2</text><line x1="1669" y1="427" x2="1669" y2="432.5" stroke="#000" stroke-width="1.5"/><text transform="translate(1669 446.5) scale(1.1 1)" font-size="16.8" text-anchor="middle">4</text><line x1="1708" y1="427" x2="1708" y2="432.5" stroke="#000" stroke-width="1.5"/><text transform="translate(1708 446.5) scale(1.1 1)" font-size="16.8" text-anchor="middle">6</text><line x1="1610.4" y1="223.1" x2="1686.1" y2="181.5" stroke="#000" stroke-width="1.5"/><text x="1694.9" y="196.8" font-size="26.5" text-anchor="middle">*</text>
<text transform="translate(-1 494) scale(1.1 1)" font-size="40">b</text><text transform="translate(37.5 498) scale(1.085 1)" font-size="21.5">Chr6: <tspan font-style="italic">CNPY3</tspan> amplification</text><rect x="36.5" y="507" width="16.1" height="19.3" fill="#dedede"/><rect x="52.3" y="507" width="14.7" height="19.3" fill="#8c8c8c"/><rect x="66.7" y="507" width="22.1" height="19.3" fill="#dedede"/><rect x="88.5" y="507" width="24.8" height="19.3" fill="#484848"/><rect x="113" y="507" width="8.5" height="19.3" fill="#dedede"/><rect x="121.2" y="507" width="12.6" height="19.3" fill="#8c8c8c"/><rect x="133.4" y="507" width="12.6" height="19.3" fill="#dedede"/><rect x="145.7" y="507" width="74.6" height="19.3" fill="#3c3c3c"/><rect x="220" y="507" width="13.1" height="19.3" fill="#dedede"/><rect x="232.8" y="507" width="24.8" height="19.3" fill="#484848"/><rect x="257.4" y="507" width="13.4" height="19.3" fill="#dedede"/><rect x="270.4" y="507" width="9" height="19.3" fill="#8c8c8c"/><rect x="279.1" y="507" width="23.4" height="19.3" fill="#dedede"/><rect x="302.3" y="507" width="28.9" height="19.3" fill="#8c8c8c"/><rect x="330.9" y="507" width="42" height="19.3" fill="#dedede"/><rect x="372.5" y="507" width="39.8" height="19.3" fill="#000"/><rect x="412" y="507" width="9.8" height="19.3" fill="#dedede"/><rect x="421.6" y="507" width="-9" height="19.3" fill="#000"/><rect x="412.3" y="507" width="8.5" height="19.3" fill="#dedede"/><rect x="420.4" y="507" width="31.6" height="19.3" fill="#000"/><rect x="451.7" y="507" width="11.2" height="19.3" fill="#dedede"/><rect x="462.6" y="507" width="34.3" height="19.3" fill="#dedede"/><rect x="496.7" y="507" width="49.3" height="19.3" fill="#000"/><rect x="545.7" y="507" width="43.3" height="19.3" fill="#dedede"/><rect x="588.7" y="507" width="58" height="19.3" fill="#555"/><rect x="646.5" y="507" width="7.1" height="19.3" fill="#dedede"/><rect x="653.3" y="507" width="23.4" height="19.3" fill="#666"/><rect x="676.4" y="507" width="38.4" height="19.3" fill="#dedede"/><rect x="714.5" y="507" width="45.2" height="19.3" fill="#000"/><rect x="759.5" y="507" width="8.5" height="19.3" fill="#dedede"/><rect x="767.6" y="507" width="37.1" height="19.3" fill="#000"/><rect x="804.4" y="507" width="-4.1" height="19.3" fill="#dedede"/><rect x="800" y="507" width="4.1" height="19.3" fill="#000"/><rect x="803.8" y="507" width="65.5" height="19.3" fill="#dedede"/><rect x="869" y="507" width="26.3" height="19.3" fill="#3a3a3a"/><rect x="895" y="507" width="2.8" height="19.3" fill="#dedede"/><rect x="897.5" y="507" width="57" height="19.3" fill="#000"/><rect x="954.2" y="507" width="6.9" height="19.3" fill="#dedede"/><rect x="960.9" y="507" width="23.7" height="19.3" fill="#3a3a3a"/><rect x="984.3" y="507" width="7.6" height="19.3" fill="#dedede"/><rect x="991.6" y="507" width="28.8" height="19.3" fill="#555"/><rect x="1020.1" y="507" width="28.2" height="19.3" fill="#dedede"/><rect x="1047.9" y="507" width="26.3" height="19.3" fill="#3a3a3a"/><rect x="1073.9" y="507" width="22.5" height="19.3" fill="#dedede"/><rect x="1096.1" y="507" width="25" height="19.3" fill="#3a3a3a"/><rect x="1120.8" y="507" width="26.3" height="19.3" fill="#dedede"/><rect x="1146.7" y="507" width="20.9" height="19.3" fill="#555"/><rect x="1167.3" y="507" width="41.5" height="19.3" fill="#dedede"/><rect x="1208.5" y="507" width="24" height="19.3" fill="#666"/><rect x="1232.2" y="507" width="51.1" height="19.3" fill="#dedede"/><rect x="462.6" y="506" width="34" height="21.3" fill="#fff"/><rect x="462.6" y="507" width="34" height="19.3" fill="#f6f6f6"/><path d="M462.6 507L479.7 516.6L462.6 526.3ZM496.7 507L479.7 516.6L496.7 526.3Z" fill="#9e3530"/><path d="M462.6 507H36.5V526.3H462.6 M496.7 507H1283V526.3H496.7" fill="none" stroke="#000" stroke-width="1.4"/><clipPath id="cp507"><rect x="36.5" y="507" width="1246.5" height="19.3"/></clipPath><g clip-path="url(#cp507)" font-size="17" text-anchor="middle"><text transform="translate(183 524) scale(1.1 1)" font-size="16.8" text-anchor="middle" fill="#fff">6p22.3</text><text transform="translate(522 524) scale(1.1 1)" font-size="16.8" text-anchor="middle" fill="#fff">6q12</text><text transform="translate(567.5 524) scale(1.1 1)" font-size="16.8" text-anchor="middle" fill="#fff" stroke="#000" stroke-width="1.9" paint-order="stroke">6q13</text><text transform="translate(617.9 524) scale(1.1 1)" font-size="16.8" text-anchor="middle" fill="#fff">q14.1</text><text transform="translate(696.3 524) scale(1.1 1)" font-size="16.8" text-anchor="middle" fill="#fff" stroke="#000" stroke-width="1.9" paint-order="stroke">q15</text><text transform="translate(737.7 524) scale(1.1 1)" font-size="16.8" text-anchor="middle" fill="#fff">16.1</text><text transform="translate(837.4 524) scale(1.1 1)" font-size="16.8" text-anchor="middle" fill="#fff" stroke="#000" stroke-width="1.9" paint-order="stroke">6q21</text><text transform="translate(926.7 524) scale(1.1 1)" font-size="16.8" text-anchor="middle" fill="#fff">22.31</text><text transform="translate(1220.5 524) scale(1.1 1)" font-size="16.8" text-anchor="middle" fill="#fff">26</text><text transform="translate(1257.6 524) scale(1.1 1)" font-size="16.8" text-anchor="middle" fill="#fff" stroke="#000" stroke-width="1.9" paint-order="stroke">6q27</text></g><rect x="37.6" y="530.9" width="381.7" height="3" fill="#000"/><rect x="37.6" y="536.7" width="565.6" height="3" fill="#000"/><rect x="37.6" y="542.5" width="483.7" height="3" fill="#000"/><rect x="37.6" y="548" width="416" height="3" fill="#000"/><rect x="174.7" y="553.5" width="227.4" height="3" fill="#000"/><rect x="270.9" y="559.3" width="100.3" height="3" fill="#000"/><rect x="279.3" y="565.1" width="170.2" height="3" fill="#000"/><rect x="301" y="571" width="124.2" height="3" fill="#000"/><rect x="317.7" y="576.5" width="135.9" height="3" fill="#000"/><rect x="325.3" y="581.9" width="161.8" height="3" fill="#000"/><rect x="327.3" y="587.3" width="23.8" height="3" fill="#000"/><rect x="332.4" y="593.1" width="92.8" height="3" fill="#000"/><rect x="333.6" y="598.5" width="26.8" height="3" fill="#000"/><rect x="339.9" y="604" width="71.1" height="3" fill="#000"/><rect x="345.3" y="609.5" width="7.9" height="3" fill="#000"/><polyline points="130.4,642.3 344.5,629.8 344.5,504 355,504 355,629.8 1265.8,641" fill="none" stroke="#e8201c" stroke-width="1.3" stroke-dasharray="1.6 1.7"/><line x1="136.9" y1="650" x2="136.9" y2="662.3" stroke="#000" stroke-width="1.4"/><text transform="translate(134.4 662.6) scale(1.1 1)" font-size="19.8" text-anchor="end">42,500,000</text><line x1="271.4" y1="650" x2="271.4" y2="662.3" stroke="#000" stroke-width="1.4"/><text transform="translate(268.9 662.6) scale(1.1 1)" font-size="19.8" text-anchor="end">42,600,000</text><line x1="405.9" y1="650" x2="405.9" y2="662.3" stroke="#000" stroke-width="1.4"/><text transform="translate(403.4 662.6) scale(1.1 1)" font-size="19.8" text-anchor="end">42,700,000</text><line x1="540.4" y1="650" x2="540.4" y2="662.3" stroke="#000" stroke-width="1.4"/><text transform="translate(537.9 662.6) scale(1.1 1)" font-size="19.8" text-anchor="end">42,800,000</text><line x1="674.9" y1="650" x2="674.9" y2="662.3" stroke="#000" stroke-width="1.4"/><text transform="translate(672.4 662.6) scale(1.1 1)" font-size="19.8" text-anchor="end">42,900,000</text><line x1="809.4" y1="650" x2="809.4" y2="662.3" stroke="#000" stroke-width="1.4"/><text transform="translate(806.9 662.6) scale(1.1 1)" font-size="19.8" text-anchor="end">43,000,000</text><line x1="943.9" y1="650" x2="943.9" y2="662.3" stroke="#000" stroke-width="1.4"/><text transform="translate(941.4 662.6) scale(1.1 1)" font-size="19.8" text-anchor="end">43,100,000</text><line x1="1078.4" y1="650" x2="1078.4" y2="662.3" stroke="#000" stroke-width="1.4"/><text transform="translate(1075.9 662.6) scale(1.1 1)" font-size="19.8" text-anchor="end">43,200,000</text><line x1="1212.9" y1="650" x2="1212.9" y2="662.3" stroke="#000" stroke-width="1.4"/><text transform="translate(1210.4 662.6) scale(1.1 1)" font-size="19.8" text-anchor="end">43,300,000</text><rect x="130" y="671.9" width="1135.8" height="4.4" fill="#000"/><text transform="translate(130.4 696) scale(1.1 1)" font-size="16">UBR2</text><line x1="178" y1="690.6" x2="352.7" y2="690.6" stroke="#000" stroke-width="1.4"/><rect x="178" y="684.4" width="1.8" height="12.5" fill="#000"/><rect x="350.9" y="684.4" width="1.8" height="12.5" fill="#000"/><path d="M187.7 684.4h1.5v12.5h-1.5zM188.3 684.4h1.5v12.5h-1.5zM189.2 684.4h1.8v12.5h-1.8zM190.3 684.4h3.4v12.5h-3.4zM190.9 684.4h3.4v12.5h-3.4zM219.8 684.4h3.4v12.5h-3.4zM226.1 684.4h1.5v12.5h-1.5zM228.5 684.4h1.2v12.5h-1.2zM245.1 684.4h2.6v12.5h-2.6zM246.6 684.4h2.6v12.5h-2.6zM249.3 684.4h2.6v12.5h-2.6zM253.8 684.4h1.2v12.5h-1.2zM263.7 684.4h1.2v12.5h-1.2zM267.5 684.4h1.8v12.5h-1.8zM274.3 684.4h1.5v12.5h-1.5zM290.7 684.4h1.8v12.5h-1.8zM294.8 684.4h3.4v12.5h-3.4zM295.3 684.4h1.5v12.5h-1.5zM316.6 684.4h1.8v12.5h-1.8zM317.1 684.4h1.5v12.5h-1.5zM323.3 684.4h1.5v12.5h-1.5zM327.7 684.4h3.4v12.5h-3.4zM329.3 684.4h1.2v12.5h-1.2zM332.3 684.4h1.5v12.5h-1.5zM345.3 684.4h1.2v12.5h-1.2zM349.6 684.4h1.2v12.5h-1.2z" fill="#000"/><path d="M186.6 690.6l-3.6 -3v6zM194.6 690.6l-3.6 -3v6zM202.6 690.6l-3.6 -3v6zM210.6 690.6l-3.6 -3v6zM218.6 690.6l-3.6 -3v6zM226.6 690.6l-3.6 -3v6zM234.6 690.6l-3.6 -3v6zM242.6 690.6l-3.6 -3v6zM250.6 690.6l-3.6 -3v6zM258.6 690.6l-3.6 -3v6zM266.6 690.6l-3.6 -3v6zM274.6 690.6l-3.6 -3v6zM282.6 690.6l-3.6 -3v6zM290.6 690.6l-3.6 -3v6zM298.6 690.6l-3.6 -3v6zM306.6 690.6l-3.6 -3v6zM314.6 690.6l-3.6 -3v6zM322.6 690.6l-3.6 -3v6zM330.6 690.6l-3.6 -3v6zM338.6 690.6l-3.6 -3v6zM346.6 690.6l-3.6 -3v6z" fill="#000"/><text transform="translate(367.9 696) scale(1.1 1)" font-size="16">TBCC</text><rect x="422.6" y="684.4" width="1.8" height="12.5" fill="#000"/><text transform="translate(430.5 696) scale(1.1 1)" font-size="16">GLTSCR1L</text><line x1="523.6" y1="690.6" x2="589" y2="690.6" stroke="#000" stroke-width="1.4"/><rect x="523.6" y="684.4" width="1.8" height="12.5" fill="#000"/><rect x="587.2" y="684.4" width="1.8" height="12.5" fill="#000"/><path d="M526.5 684.4h1.5v12.5h-1.5zM539.8 684.4h3.4v12.5h-3.4zM539.9 684.4h3.4v12.5h-3.4zM544.9 684.4h1.2v12.5h-1.2zM552.7 684.4h3.4v12.5h-3.4zM556.2 684.4h3.4v12.5h-3.4zM556.2 684.4h1.8v12.5h-1.8zM567.8 684.4h1.5v12.5h-1.5zM573.9 684.4h3.4v12.5h-3.4zM573.9 684.4h3.4v12.5h-3.4z" fill="#000"/><path d="M532.2 690.6l-3.6 -3v6zM540.2 690.6l-3.6 -3v6zM548.2 690.6l-3.6 -3v6zM556.2 690.6l-3.6 -3v6zM564.2 690.6l-3.6 -3v6zM572.2 690.6l-3.6 -3v6zM580.2 690.6l-3.6 -3v6zM588.2 690.6l-3.6 -3v6z" fill="#000"/><text transform="translate(589 696) scale(1.1 1)" font-size="16">PTCRA</text><line x1="651" y1="690.6" x2="668" y2="690.6" stroke="#000" stroke-width="1.4"/><rect x="651" y="684.4" width="1.8" height="12.5" fill="#000"/><rect x="666.2" y="684.4" width="1.8" height="12.5" fill="#000"/><path d="M657.8 684.4h1.5v12.5h-1.5zM664.2 684.4h1.8v12.5h-1.8z" fill="#000"/><path d="M659.6 690.6l-3.6 -3v6zM667.6 690.6l-3.6 -3v6z" fill="#000"/><text transform="translate(671.4 696) scale(1.1 1)" font-size="16">PEX6</text><line x1="717.3" y1="690.6" x2="739.5" y2="690.6" stroke="#000" stroke-width="1.4"/><rect x="717.3" y="684.4" width="1.8" height="12.5" fill="#000"/><rect x="737.7" y="684.4" width="1.8" height="12.5" fill="#000"/><path d="M723.4 684.4h3.4v12.5h-3.4zM730.9 684.4h2.6v12.5h-2.6zM732.1 684.4h2.6v12.5h-2.6z" fill="#000"/><path d="M725.9 690.6l-3.6 -3v6zM733.9 690.6l-3.6 -3v6z" fill="#000"/><text transform="translate(769.6 696) scale(1.1 1)" font-size="16">CUL7</text><line x1="817.7" y1="690.6" x2="839.8" y2="690.6" stroke="#000" stroke-width="1.4"/><rect x="817.7" y="684.4" width="1.8" height="12.5" fill="#000"/><rect x="838" y="684.4" width="1.8" height="12.5" fill="#000"/><path d="M821.5 684.4h1.8v12.5h-1.8zM823.5 684.4h1.2v12.5h-1.2zM830.7 684.4h2.6v12.5h-2.6z" fill="#000"/><path d="M826.3 690.6l-3.6 -3v6zM834.3 690.6l-3.6 -3v6z" fill="#000"/><text transform="translate(960.6 696) scale(1.1 1)" font-size="16">SRF</text><line x1="995.3" y1="690.6" x2="1008.7" y2="690.6" stroke="#000" stroke-width="1.4"/><rect x="995.3" y="684.4" width="1.8" height="12.5" fill="#000"/><rect x="1006.9" y="684.4" width="1.8" height="12.5" fill="#000"/><path d="M1000.5 684.4h1.5v12.5h-1.5zM1002.6 684.4h2.6v12.5h-2.6z" fill="#000"/><text transform="translate(1036.3 696) scale(1.1 1)" font-size="16">TTBK1</text><line x1="1092.8" y1="690.6" x2="1153.4" y2="690.6" stroke="#000" stroke-width="1.4"/><rect x="1092.8" y="684.4" width="1.8" height="12.5" fill="#000"/><rect x="1151.6" y="684.4" width="1.8" height="12.5" fill="#000"/><path d="M1105.6 684.4h1.5v12.5h-1.5zM1116 684.4h3.4v12.5h-3.4zM1116.5 684.4h1.2v12.5h-1.2zM1128.9 684.4h1.2v12.5h-1.2zM1134.5 684.4h1.5v12.5h-1.5zM1135 684.4h2.6v12.5h-2.6zM1139.2 684.4h1.8v12.5h-1.8zM1147.1 684.4h3.4v12.5h-3.4zM1149.9 684.4h3.4v12.5h-3.4z" fill="#000"/><path d="M1101.4 690.6l-3.6 -3v6zM1109.4 690.6l-3.6 -3v6zM1117.4 690.6l-3.6 -3v6zM1125.4 690.6l-3.6 -3v6zM1133.4 690.6l-3.6 -3v6zM1141.4 690.6l-3.6 -3v6zM1149.4 690.6l-3.6 -3v6z" fill="#000"/><text transform="translate(293 710.7) scale(1.1 1)" font-size="16">PRPH2</text><line x1="355.3" y1="705.3" x2="394.5" y2="705.3" stroke="#000" stroke-width="1.4"/><rect x="355.3" y="699.1" width="1.8" height="12.5" fill="#000"/><rect x="392.7" y="699.1" width="1.8" height="12.5" fill="#000"/><path d="M357.3 699.1h1.8v12.5h-1.8zM368.2 699.1h2.6v12.5h-2.6zM371.1 699.1h1.8v12.5h-1.8zM373.7 699.1h1.5v12.5h-1.5zM376.2 699.1h2.6v12.5h-2.6zM390.1 699.1h1.8v12.5h-1.8z" fill="#000"/><path d="M360.3 705.3l3.6 -3v6zM368.3 705.3l3.6 -3v6zM376.3 705.3l3.6 -3v6zM384.3 705.3l3.6 -3v6z" fill="#000"/><text transform="translate(538 710.7) scale(1.1 1)" font-size="16">RPL7L1</text><line x1="605.3" y1="705.3" x2="614.8" y2="705.3" stroke="#000" stroke-width="1.4"/><rect x="605.3" y="699.1" width="1.8" height="12.5" fill="#000"/><rect x="613" y="699.1" width="1.8" height="12.5" fill="#000"/><path d="M608.8 699.1h3.4v12.5h-3.4zM611.5 699.1h1.5v12.5h-1.5z" fill="#000"/><text transform="translate(657.6 710.7) scale(1.1 1)" font-size="16">GNMT</text><rect x="714.4" y="699.1" width="3.6" height="12.5" fill="#000"/><text transform="translate(731 710.7) scale(1.1 1)" font-size="16">MEA1</text><line x1="780" y1="705.3" x2="786.3" y2="705.3" stroke="#000" stroke-width="1.4"/><rect x="780" y="699.1" width="1.8" height="12.5" fill="#000"/><rect x="784.5" y="699.1" width="1.8" height="12.5" fill="#000"/><path d="M782.2 699.1h3.4v12.5h-3.4zM783.1 699.1h1.2v12.5h-1.2z" fill="#000"/><text transform="translate(801 710.7) scale(1.1 1)" font-size="16">KLC4</text><line x1="845" y1="705.3" x2="867.8" y2="705.3" stroke="#000" stroke-width="1.4"/><rect x="845" y="699.1" width="1.8" height="12.5" fill="#000"/><rect x="866" y="699.1" width="1.8" height="12.5" fill="#000"/><path d="M848.3 699.1h1.2v12.5h-1.2zM854.2 699.1h3.4v12.5h-3.4zM862.3 699.1h3.4v12.5h-3.4z" fill="#000"/><path d="M853.6 705.3l-3.6 -3v6zM861.6 705.3l-3.6 -3v6z" fill="#000"/><text transform="translate(960.6 710.7) scale(1.1 1)" font-size="16">CUL9</text><line x1="1011" y1="705.3" x2="1068.5" y2="705.3" stroke="#000" stroke-width="1.4"/><rect x="1011" y="699.1" width="1.8" height="12.5" fill="#000"/><rect x="1066.7" y="699.1" width="1.8" height="12.5" fill="#000"/><path d="M1018.6 699.1h1.8v12.5h-1.8zM1020.3 699.1h1.8v12.5h-1.8zM1026.6 699.1h1.5v12.5h-1.5zM1027.6 699.1h1.2v12.5h-1.2zM1038.8 699.1h2.6v12.5h-2.6zM1040.7 699.1h1.2v12.5h-1.2zM1042 699.1h2.6v12.5h-2.6zM1058.4 699.1h1.2v12.5h-1.2z" fill="#000"/><path d="M1019.6 705.3l-3.6 -3v6zM1027.6 705.3l-3.6 -3v6zM1035.6 705.3l-3.6 -3v6zM1043.6 705.3l-3.6 -3v6zM1051.6 705.3l-3.6 -3v6zM1059.6 705.3l-3.6 -3v6zM1067.6 705.3l-3.6 -3v6z" fill="#000"/><text transform="translate(1084.4 710.7) scale(1.1 1)" font-size="16">SLC22A7</text><line x1="1167.6" y1="705.3" x2="1177" y2="705.3" stroke="#000" stroke-width="1.4"/><rect x="1167.6" y="699.1" width="1.8" height="12.5" fill="#000"/><rect x="1175.2" y="699.1" width="1.8" height="12.5" fill="#000"/><path d="M1171.1 699.1h1.8v12.5h-1.8zM1173.7 699.1h3.4v12.5h-3.4z" fill="#000"/><text transform="translate(540.7 725.3) scale(1.1 1)" font-size="16">C6orf226</text><rect x="619" y="713.6" width="1.8" height="12.5" fill="#000"/><text transform="translate(658.8 725.3) scale(1.1 1)" font-size="16">PPP2R5D</text><line x1="744.5" y1="719.9" x2="783" y2="719.9" stroke="#000" stroke-width="1.4"/><rect x="744.5" y="713.6" width="1.8" height="12.5" fill="#000"/><rect x="781.2" y="713.6" width="1.8" height="12.5" fill="#000"/><path d="M757.8 713.6h1.2v12.5h-1.2zM761.7 713.6h2.6v12.5h-2.6zM762.6 713.6h1.8v12.5h-1.8zM768.8 713.6h1.5v12.5h-1.5zM775.3 713.6h3.4v12.5h-3.4z" fill="#000"/><path d="M753.1 719.9l-3.6 -3v6zM761.1 719.9l-3.6 -3v6zM769.1 719.9l-3.6 -3v6zM777.1 719.9l-3.6 -3v6z" fill="#000"/><text transform="translate(820.6 725.3) scale(1.1 1)" font-size="16">PTK7</text><line x1="867.8" y1="719.9" x2="983.6" y2="719.9" stroke="#000" stroke-width="1.4"/><rect x="867.8" y="713.6" width="1.8" height="12.5" fill="#000"/><rect x="981.8" y="713.6" width="1.8" height="12.5" fill="#000"/><path d="M870.4 713.6h1.8v12.5h-1.8zM874.1 713.6h1.2v12.5h-1.2zM875.2 713.6h2.6v12.5h-2.6zM886.3 713.6h1.8v12.5h-1.8zM892.3 713.6h3.4v12.5h-3.4zM893.5 713.6h1.5v12.5h-1.5zM893.9 713.6h1.5v12.5h-1.5zM908.5 713.6h3.4v12.5h-3.4zM910.4 713.6h2.6v12.5h-2.6zM916 713.6h1.2v12.5h-1.2zM925.4 713.6h1.5v12.5h-1.5zM936.4 713.6h1.2v12.5h-1.2zM945.2 713.6h3.4v12.5h-3.4zM946.3 713.6h1.8v12.5h-1.8zM947.1 713.6h1.5v12.5h-1.5zM951.5 713.6h2.6v12.5h-2.6zM968 713.6h3.4v12.5h-3.4z" fill="#000"/><path d="M876.4 719.9l-3.6 -3v6zM884.4 719.9l-3.6 -3v6zM892.4 719.9l-3.6 -3v6zM900.4 719.9l-3.6 -3v6zM908.4 719.9l-3.6 -3v6zM916.4 719.9l-3.6 -3v6zM924.4 719.9l-3.6 -3v6zM932.4 719.9l-3.6 -3v6zM940.4 719.9l-3.6 -3v6zM948.4 719.9l-3.6 -3v6zM956.4 719.9l-3.6 -3v6zM964.4 719.9l-3.6 -3v6zM972.4 719.9l-3.6 -3v6zM980.4 719.9l-3.6 -3v6z" fill="#000"/><text transform="translate(1005.8 725.3) scale(1.1 1)" font-size="16">DNPH1</text><line x1="1069.8" y1="719.9" x2="1076" y2="719.9" stroke="#000" stroke-width="1.4"/><rect x="1069.8" y="713.6" width="1.8" height="12.5" fill="#000"/><rect x="1074.2" y="713.6" width="1.8" height="12.5" fill="#000"/><path d="M1072.4 713.6h3.4v12.5h-3.4zM1072.7 713.6h1.8v12.5h-1.8z" fill="#000"/><text transform="translate(1120 725.3) scale(1.1 1)" font-size="16">CRIP3</text><line x1="1175" y1="719.9" x2="1181" y2="719.9" stroke="#000" stroke-width="1.4"/><rect x="1175" y="713.6" width="1.8" height="12.5" fill="#000"/><rect x="1179.2" y="713.6" width="1.8" height="12.5" fill="#000"/><path d="M1177.3 713.6h2.6v12.5h-2.6zM1177.5 713.6h1.2v12.5h-1.2z" fill="#000"/><text transform="translate(708 740) scale(1.1 1)" font-size="16">KLHDC3</text><line x1="784" y1="734.6" x2="795.5" y2="734.6" stroke="#000" stroke-width="1.4"/><rect x="784" y="728.4" width="1.8" height="12.5" fill="#000"/><rect x="793.7" y="728.4" width="1.8" height="12.5" fill="#000"/><path d="M786.3 728.4h1.8v12.5h-1.8zM789.4 728.4h1.8v12.5h-1.8z" fill="#000"/><text transform="translate(1148 740) scale(1.1 1)" font-size="16">ZNF318</text><line x1="1218" y1="734.6" x2="1263.7" y2="734.6" stroke="#000" stroke-width="1.4"/><rect x="1218" y="728.4" width="1.8" height="12.5" fill="#000"/><rect x="1261.9" y="728.4" width="1.8" height="12.5" fill="#000"/><path d="M1220.8 728.4h3.4v12.5h-3.4zM1240 728.4h1.8v12.5h-1.8zM1241.4 728.4h2.6v12.5h-2.6zM1242.7 728.4h1.8v12.5h-1.8zM1244.3 728.4h1.8v12.5h-1.8zM1249.7 728.4h2.6v12.5h-2.6zM1253.9 728.4h3.4v12.5h-3.4z" fill="#000"/><path d="M1223 734.6l3.6 -3v6zM1231 734.6l3.6 -3v6zM1239 734.6l3.6 -3v6zM1247 734.6l3.6 -3v6zM1255 734.6l3.6 -3v6z" fill="#000"/><text transform="translate(735.3 754.6) scale(1.1 1)" font-size="16">RRP36</text><line x1="793.4" y1="749.2" x2="807" y2="749.2" stroke="#000" stroke-width="1.4"/><rect x="793.4" y="743" width="1.8" height="12.5" fill="#000"/><rect x="805.2" y="743" width="1.8" height="12.5" fill="#000"/><path d="M800.2 743h1.5v12.5h-1.5zM801.2 743h3.4v12.5h-3.4z" fill="#000"/><text transform="translate(776.7 769.2) scale(1.1 1)" font-size="16">MRPL2</text><line x1="836.5" y1="763.8" x2="846" y2="763.8" stroke="#000" stroke-width="1.4"/><rect x="836.5" y="757.6" width="1.8" height="12.5" fill="#000"/><rect x="844.2" y="757.6" width="1.8" height="12.5" fill="#000"/><path d="M841.9 757.6h1.2v12.5h-1.2zM843 757.6h2.6v12.5h-2.6z" fill="#000"/><text transform="translate(580.6 750) scale(1.1 1)" font-size="23.6" fill="#f00000" font-weight="bold">CNPY3</text><line x1="669.5" y1="742" x2="685" y2="742" stroke="#000" stroke-width="1.4"/><rect x="669.5" y="735.8" width="1.8" height="12.5" fill="#000"/><rect x="683.2" y="735.8" width="1.8" height="12.5" fill="#000"/><path d="M674.6 735.8h3.4v12.5h-3.4zM676.2 735.8h1.5v12.5h-1.5z" fill="#000"/><text transform="translate(34.7 768.4) scale(1.085 1)" font-size="21.5">Chr11: <tspan font-style="italic">UNC93B1</tspan> amplification</text><rect x="31.6" y="779.8" width="25.1" height="19.5" fill="#dedede"/><rect x="56.4" y="779.8" width="72.6" height="19.5" fill="#505050"/><rect x="128.8" y="779.8" width="19.9" height="19.5" fill="#dedede"/><rect x="148.4" y="779.8" width="31.7" height="19.5" fill="#5a5a5a"/><rect x="179.8" y="779.8" width="51.3" height="19.5" fill="#dedede"/><rect x="230.8" y="779.8" width="41.3" height="19.5" fill="#000"/><rect x="271.7" y="779.8" width="10.8" height="19.5" fill="#dedede"/><rect x="282.2" y="779.8" width="35.8" height="19.5" fill="#404040"/><rect x="317.7" y="779.8" width="50.5" height="19.5" fill="#dedede"/><rect x="367.9" y="779.8" width="65.1" height="19.5" fill="#000"/><rect x="432.7" y="779.8" width="49.2" height="19.5" fill="#dedede"/><rect x="481.6" y="779.8" width="25.8" height="19.5" fill="#404040"/><rect x="507.1" y="779.8" width="38.8" height="19.5" fill="#dedede"/><rect x="545.6" y="779.8" width="38.6" height="19.5" fill="#404040"/><rect x="583.9" y="779.8" width="18.5" height="19.5" fill="#dedede"/><rect x="602" y="779.8" width="14.3" height="19.5" fill="#8c8c8c"/><rect x="616.1" y="779.8" width="24.2" height="19.5" fill="#dedede"/><rect x="640" y="779.8" width="19.5" height="19.5" fill="#8c8c8c"/><rect x="659.2" y="779.8" width="22.6" height="19.5" fill="#dedede"/><rect x="681.5" y="779.8" width="42.9" height="19.5" fill="#555"/><rect x="724.1" y="779.8" width="20" height="19.5" fill="#dedede"/><rect x="743.8" y="779.8" width="76.6" height="19.5" fill="#000"/><rect x="820.2" y="779.8" width="26.3" height="19.5" fill="#dedede"/><rect x="846.1" y="779.8" width="44.4" height="19.5" fill="#000"/><rect x="890.3" y="779.8" width="36.7" height="19.5" fill="#dedede"/><rect x="926.6" y="779.8" width="47" height="19.5" fill="#000"/><rect x="973.4" y="779.8" width="8.1" height="19.5" fill="#dedede"/><rect x="981.1" y="779.8" width="70.4" height="19.5" fill="#000"/><rect x="1051.3" y="779.8" width="21.1" height="19.5" fill="#dedede"/><rect x="1072" y="779.8" width="16.9" height="19.5" fill="#555"/><rect x="1088.6" y="779.8" width="61.6" height="19.5" fill="#dedede"/><rect x="1149.9" y="779.8" width="26.3" height="19.5" fill="#444"/><rect x="1175.9" y="779.8" width="35.6" height="19.5" fill="#dedede"/><rect x="1211.2" y="779.8" width="29.9" height="19.5" fill="#555"/><rect x="1240.8" y="779.8" width="38.5" height="19.5" fill="#dedede"/><rect x="507.1" y="778.8" width="38.5" height="21.5" fill="#fff"/><rect x="507.1" y="779.8" width="38.5" height="19.5" fill="#f6f6f6"/><path d="M507.1 779.8L526.3 789.5L507.1 799.3ZM545.6 779.8L526.3 789.5L545.6 799.3Z" fill="#9e3530"/><path d="M507.1 779.8H31.6V799.3H507.1 M545.6 779.8H1279V799.3H545.6" fill="none" stroke="#000" stroke-width="1.4"/><clipPath id="cp779"><rect x="31.6" y="779.8" width="1247.4" height="19.5"/></clipPath><g clip-path="url(#cp779)" font-size="17" text-anchor="middle"><text transform="translate(92.8 797) scale(1.1 1)" font-size="16.8" text-anchor="middle" fill="#fff">p15.4</text><text transform="translate(204.8 797) scale(1.1 1)" font-size="16.8" text-anchor="middle" fill="#fff" stroke="#000" stroke-width="1.9" paint-order="stroke">15.1</text><text transform="translate(342.8 797) scale(1.1 1)" font-size="16.8" text-anchor="middle" fill="#fff" stroke="#000" stroke-width="1.9" paint-order="stroke">p13</text><text transform="translate(400.5 797) scale(1.1 1)" font-size="16.8" text-anchor="middle" fill="#fff">11p12</text><text transform="translate(457.4 797) scale(1.1 1)" font-size="16.8" text-anchor="middle" fill="#fff" stroke="#000" stroke-width="1.9" paint-order="stroke">11.2</text><text transform="translate(703.3 797) scale(1.1 1)" font-size="16.8" text-anchor="middle" fill="#fff">13.4</text><text transform="translate(782.2 797) scale(1.1 1)" font-size="16.8" text-anchor="middle" fill="#fff">11q14.1</text><text transform="translate(908.4 797) scale(1.1 1)" font-size="16.8" text-anchor="middle" fill="#fff" stroke="#000" stroke-width="1.9" paint-order="stroke">q21</text><text transform="translate(950 797) scale(1.1 1)" font-size="16.8" text-anchor="middle" fill="#fff">22.1</text><text transform="translate(1016.5 797) scale(1.1 1)" font-size="16.8" text-anchor="middle" fill="#fff">q22.3</text><text transform="translate(1119.3 797) scale(1.1 1)" font-size="16.8" text-anchor="middle" fill="#fff" stroke="#000" stroke-width="1.9" paint-order="stroke">q23.3</text><text transform="translate(1259 797) scale(1.1 1)" font-size="16.8" text-anchor="middle" fill="#fff" stroke="#000" stroke-width="1.9" paint-order="stroke">q25</text></g><rect x="33.4" y="804.5" width="1245.3" height="3" fill="#000"/><rect x="33.4" y="810.5" width="1245.3" height="3" fill="#000"/><rect x="570.9" y="815.8" width="707.8" height="3" fill="#000"/><rect x="610.9" y="821.7" width="626.1" height="3" fill="#000"/><rect x="626.4" y="827.1" width="60.3" height="3" fill="#000"/><rect x="642.5" y="832.5" width="47.8" height="3" fill="#000"/><rect x="659" y="838" width="375" height="3" fill="#000"/><rect x="654" y="843.8" width="300" height="3" fill="#000"/><rect x="655.5" y="850" width="3" height="3" fill="#000"/><polyline points="500.8,883.6 653,853.5 653,775 660.2,775 660.2,853.5 827,883.6" fill="none" stroke="#e8201c" stroke-width="1.3" stroke-dasharray="1.6 1.7"/><line x1="527.8" y1="889" x2="527.8" y2="901.3" stroke="#000" stroke-width="1.4"/><text transform="translate(525.8 901.5) scale(1 1)" font-size="19.8" text-anchor="end" letter-spacing="-0.1">67,700,000</text><line x1="646.2" y1="889" x2="646.2" y2="901.3" stroke="#000" stroke-width="1.4"/><text transform="translate(644.2 901.5) scale(1 1)" font-size="19.8" text-anchor="end" letter-spacing="-0.1">67,800,000</text><line x1="764" y1="889" x2="764" y2="901.3" stroke="#000" stroke-width="1.4"/><text transform="translate(762 901.5) scale(1 1)" font-size="19.8" text-anchor="end" letter-spacing="-0.1">67,900,000</text><rect x="500.4" y="909.4" width="326.6" height="4.4" fill="#000"/><text transform="translate(716.3 935.5) scale(1.1 1)" font-size="16">ALDH3B1</text><line x1="797.5" y1="929.5" x2="817.6" y2="929.5" stroke="#000" stroke-width="1.4"/><rect x="797.5" y="923.2" width="1.8" height="12.5" fill="#000"/><rect x="815.8" y="923.2" width="1.8" height="12.5" fill="#000"/><path d="M799.8 923.2h1.5v12.5h-1.5zM800.2 923.2h1.5v12.5h-1.5zM803.2 923.2h3.4v12.5h-3.4z" fill="#000"/><path d="M806.1 929.5l-3.6 -3v6zM814.1 929.5l-3.6 -3v6z" fill="#000"/><text transform="translate(747.4 952) scale(1.1 1)" font-size="16">NDUFS8</text><line x1="820.5" y1="946" x2="827" y2="946" stroke="#000" stroke-width="1.4"/><rect x="820.5" y="939.8" width="1.8" height="12.5" fill="#000"/><rect x="825.2" y="939.8" width="1.8" height="12.5" fill="#000"/><path d="M822.7 939.8h1.8v12.5h-1.8zM823.5 939.8h1.5v12.5h-1.5z" fill="#000"/><text transform="translate(653 979) scale(1.1 1)" font-size="23.6" fill="#f00000" font-weight="bold">UNC93B1</text><line x1="773.5" y1="971" x2="789" y2="971" stroke="#000" stroke-width="1.4"/><rect x="773.5" y="964.8" width="1.8" height="12.5" fill="#000"/><rect x="787.2" y="964.8" width="1.8" height="12.5" fill="#000"/><path d="M776.2 964.8h1.8v12.5h-1.8zM777.5 964.8h2.6v12.5h-2.6z" fill="#000"/>
<text transform="translate(-1 992.5) scale(1.1 1)" font-size="40">c</text><g fill="#000" fill-opacity="0.53"><circle cx="600.6" cy="1497.3" r="3.1"/><circle cx="621.7" cy="1470.9" r="3.1"/><circle cx="561.4" cy="1492.6" r="3.1"/><circle cx="625" cy="1454.3" r="3.1"/><circle cx="593.2" cy="1486.9" r="3.1"/><circle cx="579.4" cy="1457.6" r="3.1"/><circle cx="579.4" cy="1490.9" r="3.1"/><circle cx="574.3" cy="1469" r="3.1"/><circle cx="590" cy="1478.3" r="3.1"/><circle cx="609.4" cy="1514.7" r="3.1"/><circle cx="604.8" cy="1468.9" r="3.1"/><circle cx="605.8" cy="1502.9" r="3.1"/><circle cx="563" cy="1521.6" r="3.1"/><circle cx="565.3" cy="1480.2" r="3.1"/><circle cx="622.5" cy="1458.9" r="3.1"/><circle cx="611.8" cy="1467.4" r="3.1"/><circle cx="634.1" cy="1501.4" r="3.1"/><circle cx="616.2" cy="1520" r="3.1"/><circle cx="575.3" cy="1540.9" r="3.1"/><circle cx="617.6" cy="1497.1" r="3.1"/><circle cx="605.6" cy="1494.5" r="3.1"/><circle cx="598" cy="1486.8" r="3.1"/><circle cx="579.1" cy="1456.8" r="3.1"/><circle cx="594.1" cy="1487.6" r="3.1"/><circle cx="591.4" cy="1506.6" r="3.1"/><circle cx="610.4" cy="1507.4" r="3.1"/><circle cx="596.4" cy="1503.9" r="3.1"/><circle cx="623.1" cy="1497.8" r="3.1"/><circle cx="579.9" cy="1476.4" r="3.1"/><circle cx="602.7" cy="1490.2" r="3.1"/><circle cx="603.2" cy="1485" r="3.1"/><circle cx="578.3" cy="1481.1" r="3.1"/><circle cx="572.4" cy="1478.9" r="3.1"/><circle cx="612.6" cy="1469.4" r="3.1"/><circle cx="603.6" cy="1458.1" r="3.1"/><circle cx="591.1" cy="1504.7" r="3.1"/><circle cx="601.3" cy="1489.6" r="3.1"/><circle cx="581.7" cy="1485.8" r="3.1"/><circle cx="598.4" cy="1486.6" r="3.1"/><circle cx="583" cy="1465.6" r="3.1"/><circle cx="597.5" cy="1467.6" r="3.1"/><circle cx="612.1" cy="1496.8" r="3.1"/><circle cx="587.9" cy="1447.3" r="3.1"/><circle cx="609.6" cy="1472" r="3.1"/><circle cx="575.1" cy="1468.2" r="3.1"/><circle cx="588.8" cy="1496" r="3.1"/><circle cx="569.1" cy="1466.1" r="3.1"/><circle cx="592.2" cy="1490" r="3.1"/><circle cx="595.5" cy="1503.5" r="3.1"/><circle cx="590.5" cy="1480.4" r="3.1"/><circle cx="589.2" cy="1505" r="3.1"/><circle cx="618.6" cy="1506.4" r="3.1"/><circle cx="620.2" cy="1473.3" r="3.1"/><circle cx="571.8" cy="1465.9" r="3.1"/><circle cx="615.6" cy="1497.8" r="3.1"/><circle cx="562.5" cy="1462.4" r="3.1"/><circle cx="580.6" cy="1457.8" r="3.1"/><circle cx="590.9" cy="1458.2" r="3.1"/><circle cx="596.1" cy="1475.6" r="3.1"/><circle cx="574.9" cy="1489.5" r="3.1"/><circle cx="580.9" cy="1449.8" r="3.1"/><circle cx="595.5" cy="1491" r="3.1"/><circle cx="581.4" cy="1472.6" r="3.1"/><circle cx="582.3" cy="1458.6" r="3.1"/><circle cx="606.3" cy="1445.9" r="3.1"/><circle cx="611.1" cy="1476.1" r="3.1"/><circle cx="593" cy="1476.8" r="3.1"/><circle cx="594.4" cy="1471.1" r="3.1"/><circle cx="593.7" cy="1477.6" r="3.1"/><circle cx="585.8" cy="1458.3" r="3.1"/><circle cx="584.7" cy="1459.2" r="3.1"/><circle cx="575.1" cy="1445.1" r="3.1"/><circle cx="606" cy="1483.2" r="3.1"/><circle cx="592.5" cy="1466.1" r="3.1"/><circle cx="591.6" cy="1497.2" r="3.1"/><circle cx="597.8" cy="1490.7" r="3.1"/><circle cx="603.8" cy="1451.2" r="3.1"/><circle cx="620.1" cy="1487.6" r="3.1"/><circle cx="589.1" cy="1522.6" r="3.1"/><circle cx="586.7" cy="1493.5" r="3.1"/><circle cx="597.8" cy="1493.2" r="3.1"/><circle cx="578.6" cy="1521.2" r="3.1"/><circle cx="617.4" cy="1477.7" r="3.1"/><circle cx="611" cy="1463.9" r="3.1"/><circle cx="606.8" cy="1493.1" r="3.1"/><circle cx="591.9" cy="1461" r="3.1"/><circle cx="607.6" cy="1526.3" r="3.1"/><circle cx="613.3" cy="1465.9" r="3.1"/><circle cx="603.2" cy="1482.3" r="3.1"/><circle cx="589" cy="1433.6" r="3.1"/><circle cx="563.2" cy="1481.5" r="3.1"/><circle cx="611.4" cy="1482.5" r="3.1"/><circle cx="587.6" cy="1482.5" r="3.1"/><circle cx="578.6" cy="1489.4" r="3.1"/><circle cx="610.4" cy="1490.1" r="3.1"/><circle cx="600.3" cy="1467.1" r="3.1"/><circle cx="568.1" cy="1476.1" r="3.1"/><circle cx="592.3" cy="1475.5" r="3.1"/><circle cx="589.1" cy="1476" r="3.1"/><circle cx="612.3" cy="1496.5" r="3.1"/><circle cx="559.4" cy="1441.4" r="3.1"/><circle cx="587" cy="1503.3" r="3.1"/><circle cx="591.5" cy="1461.9" r="3.1"/><circle cx="620.1" cy="1485.5" r="3.1"/><circle cx="574.2" cy="1459.6" r="3.1"/><circle cx="540.2" cy="1486.6" r="3.1"/><circle cx="568.7" cy="1458.4" r="3.1"/><circle cx="598.9" cy="1471.1" r="3.1"/><circle cx="608.9" cy="1456.6" r="3.1"/><circle cx="625.8" cy="1439.2" r="3.1"/><circle cx="601.4" cy="1477" r="3.1"/><circle cx="579.4" cy="1478.2" r="3.1"/><circle cx="610.3" cy="1532.6" r="3.1"/><circle cx="593.9" cy="1481.1" r="3.1"/><circle cx="590.4" cy="1462.4" r="3.1"/><circle cx="594.4" cy="1486.8" r="3.1"/><circle cx="617.4" cy="1480.1" r="3.1"/><circle cx="577.6" cy="1484.9" r="3.1"/><circle cx="575.3" cy="1522.5" r="3.1"/><circle cx="592.9" cy="1463.1" r="3.1"/><circle cx="592.9" cy="1496.7" r="3.1"/><circle cx="579.2" cy="1510.3" r="3.1"/><circle cx="578" cy="1460.5" r="3.1"/><circle cx="601" cy="1472.9" r="3.1"/><circle cx="618.6" cy="1469.3" r="3.1"/><circle cx="607.1" cy="1478.6" r="3.1"/><circle cx="606.6" cy="1495.3" r="3.1"/><circle cx="616.9" cy="1462.3" r="3.1"/><circle cx="557.6" cy="1499.7" r="3.1"/><circle cx="566.4" cy="1475.8" r="3.1"/><circle cx="581.2" cy="1502.5" r="3.1"/><circle cx="572.2" cy="1504.6" r="3.1"/><circle cx="576" cy="1463.9" r="3.1"/><circle cx="595.4" cy="1497.7" r="3.1"/><circle cx="570.6" cy="1447.3" r="3.1"/><circle cx="586" cy="1508.7" r="3.1"/><circle cx="556.7" cy="1458.5" r="3.1"/><circle cx="576.2" cy="1487.4" r="3.1"/><circle cx="618.7" cy="1464.7" r="3.1"/><circle cx="584.1" cy="1466.2" r="3.1"/><circle cx="600" cy="1519.6" r="3.1"/><circle cx="607" cy="1468.1" r="3.1"/><circle cx="585.1" cy="1487.7" r="3.1"/><circle cx="604.7" cy="1500.9" r="3.1"/><circle cx="598" cy="1458.9" r="3.1"/><circle cx="606.9" cy="1473.2" r="3.1"/><circle cx="582.4" cy="1472.3" r="3.1"/><circle cx="567.7" cy="1451.3" r="3.1"/><circle cx="575.4" cy="1459.5" r="3.1"/><circle cx="583.9" cy="1479" r="3.1"/><circle cx="603.9" cy="1498.1" r="3.1"/><circle cx="590.3" cy="1449.9" r="3.1"/><circle cx="586.8" cy="1494.7" r="3.1"/><circle cx="590.8" cy="1514.9" r="3.1"/><circle cx="614.2" cy="1440.3" r="3.1"/><circle cx="583.5" cy="1436.7" r="3.1"/><circle cx="621.8" cy="1515.4" r="3.1"/><circle cx="571.6" cy="1472.9" r="3.1"/><circle cx="583.2" cy="1510.9" r="3.1"/><circle cx="609.7" cy="1467.4" r="3.1"/><circle cx="603.6" cy="1490.5" r="3.1"/><circle cx="578.4" cy="1510.4" r="3.1"/><circle cx="592.1" cy="1460.7" r="3.1"/><circle cx="581.1" cy="1499.3" r="3.1"/><circle cx="609.7" cy="1472.4" r="3.1"/><circle cx="604" cy="1495" r="3.1"/><circle cx="581" cy="1444.6" r="3.1"/><circle cx="601.4" cy="1458" r="3.1"/><circle cx="587.4" cy="1490.3" r="3.1"/><circle cx="592.8" cy="1526.4" r="3.1"/><circle cx="595.3" cy="1473" r="3.1"/><circle cx="583.8" cy="1500.8" r="3.1"/><circle cx="601.9" cy="1455.7" r="3.1"/><circle cx="602.5" cy="1447.5" r="3.1"/><circle cx="601.9" cy="1480.6" r="3.1"/><circle cx="614.3" cy="1461.7" r="3.1"/><circle cx="589.1" cy="1508.8" r="3.1"/><circle cx="566.9" cy="1468.6" r="3.1"/><circle cx="585.1" cy="1446.2" r="3.1"/><circle cx="597.8" cy="1510.2" r="3.1"/><circle cx="594.5" cy="1465.5" r="3.1"/><circle cx="604.7" cy="1476" r="3.1"/><circle cx="608.8" cy="1462.8" r="3.1"/><circle cx="591.9" cy="1480" r="3.1"/><circle cx="592.1" cy="1483" r="3.1"/><circle cx="576" cy="1456.1" r="3.1"/><circle cx="613" cy="1480.8" r="3.1"/><circle cx="589.2" cy="1471.5" r="3.1"/><circle cx="574.2" cy="1510.5" r="3.1"/><circle cx="573.7" cy="1473.3" r="3.1"/><circle cx="586.5" cy="1467" r="3.1"/><circle cx="622.6" cy="1484.7" r="3.1"/><circle cx="608.2" cy="1482.7" r="3.1"/><circle cx="563.1" cy="1524" r="3.1"/><circle cx="591.8" cy="1503.9" r="3.1"/><circle cx="598.9" cy="1487.4" r="3.1"/><circle cx="605.6" cy="1488.4" r="3.1"/><circle cx="600.4" cy="1435.7" r="3.1"/><circle cx="582.3" cy="1465.3" r="3.1"/><circle cx="601.6" cy="1507.1" r="3.1"/><circle cx="583.9" cy="1433.5" r="3.1"/><circle cx="553" cy="1511.5" r="3.1"/><circle cx="581.1" cy="1506.3" r="3.1"/><circle cx="581.5" cy="1500.5" r="3.1"/><circle cx="611.5" cy="1483.1" r="3.1"/><circle cx="613.4" cy="1427" r="3.1"/><circle cx="574.9" cy="1487.4" r="3.1"/><circle cx="597.3" cy="1470.2" r="3.1"/><circle cx="595.7" cy="1513" r="3.1"/><circle cx="567.8" cy="1491.3" r="3.1"/><circle cx="556.5" cy="1427.1" r="3.1"/><circle cx="592.4" cy="1453.9" r="3.1"/><circle cx="596.6" cy="1462.1" r="3.1"/><circle cx="583.2" cy="1449.2" r="3.1"/><circle cx="544.4" cy="1469.4" r="3.1"/><circle cx="593.5" cy="1470.1" r="3.1"/><circle cx="583.5" cy="1504.6" r="3.1"/><circle cx="577.8" cy="1513.8" r="3.1"/><circle cx="588.1" cy="1495.9" r="3.1"/><circle cx="573.4" cy="1488.7" r="3.1"/><circle cx="604.3" cy="1498.9" r="3.1"/><circle cx="594.3" cy="1466.3" r="3.1"/><circle cx="583.8" cy="1442.4" r="3.1"/><circle cx="599.2" cy="1481.8" r="3.1"/><circle cx="593.5" cy="1515.1" r="3.1"/><circle cx="566.3" cy="1508.2" r="3.1"/><circle cx="591.4" cy="1459" r="3.1"/><circle cx="585.7" cy="1464.5" r="3.1"/><circle cx="562.2" cy="1476.5" r="3.1"/><circle cx="582.1" cy="1467.6" r="3.1"/><circle cx="601.9" cy="1457.1" r="3.1"/><circle cx="582.7" cy="1480.5" r="3.1"/><circle cx="619.9" cy="1474.8" r="3.1"/><circle cx="625.2" cy="1488.9" r="3.1"/><circle cx="588.5" cy="1524.1" r="3.1"/><circle cx="604.2" cy="1479.2" r="3.1"/><circle cx="630.6" cy="1482.4" r="3.1"/><circle cx="588" cy="1473.1" r="3.1"/><circle cx="577.6" cy="1493.6" r="3.1"/><circle cx="586.3" cy="1472.9" r="3.1"/><circle cx="568.9" cy="1473.5" r="3.1"/><circle cx="569.4" cy="1491" r="3.1"/><circle cx="597.9" cy="1503.6" r="3.1"/><circle cx="586.4" cy="1496.9" r="3.1"/><circle cx="598.6" cy="1474.6" r="3.1"/><circle cx="603" cy="1463.2" r="3.1"/><circle cx="580.1" cy="1442.5" r="3.1"/><circle cx="590.5" cy="1484" r="3.1"/><circle cx="589.1" cy="1471.1" r="3.1"/><circle cx="581.8" cy="1455.8" r="3.1"/><circle cx="578.8" cy="1503.7" r="3.1"/><circle cx="599.9" cy="1468.3" r="3.1"/><circle cx="591.5" cy="1491.9" r="3.1"/><circle cx="600.2" cy="1490.1" r="3.1"/><circle cx="612.4" cy="1465.3" r="3.1"/><circle cx="612.7" cy="1487.1" r="3.1"/><circle cx="573.7" cy="1474.7" r="3.1"/><circle cx="578.4" cy="1506" r="3.1"/><circle cx="589.4" cy="1483.3" r="3.1"/><circle cx="596.3" cy="1501" r="3.1"/><circle cx="611.3" cy="1488.6" r="3.1"/><circle cx="576.5" cy="1419.8" r="3.1"/><circle cx="586.1" cy="1481.4" r="3.1"/><circle cx="598.6" cy="1486.6" r="3.1"/><circle cx="616.6" cy="1490.6" r="3.1"/><circle cx="619.3" cy="1498.8" r="3.1"/><circle cx="575.7" cy="1442.4" r="3.1"/><circle cx="590.2" cy="1497" r="3.1"/><circle cx="579.3" cy="1429.3" r="3.1"/><circle cx="609.6" cy="1486.7" r="3.1"/><circle cx="602.3" cy="1454.7" r="3.1"/><circle cx="587.5" cy="1479.2" r="3.1"/><circle cx="582.9" cy="1495.9" r="3.1"/><circle cx="599.5" cy="1485.9" r="3.1"/><circle cx="612" cy="1452.6" r="3.1"/><circle cx="580" cy="1485.5" r="3.1"/><circle cx="588.2" cy="1524.5" r="3.1"/><circle cx="596.1" cy="1440.3" r="3.1"/><circle cx="594.4" cy="1497.3" r="3.1"/><circle cx="600.3" cy="1489.1" r="3.1"/><circle cx="575.8" cy="1449.4" r="3.1"/><circle cx="583.2" cy="1519" r="3.1"/><circle cx="555.6" cy="1493.1" r="3.1"/><circle cx="595.1" cy="1467.8" r="3.1"/><circle cx="613.7" cy="1467.9" r="3.1"/><circle cx="556.4" cy="1469.1" r="3.1"/><circle cx="582.5" cy="1503.2" r="3.1"/><circle cx="610.5" cy="1461.2" r="3.1"/><circle cx="591.5" cy="1491.9" r="3.1"/><circle cx="559.4" cy="1477.7" r="3.1"/><circle cx="615.5" cy="1502.4" r="3.1"/><circle cx="568" cy="1443.3" r="3.1"/><circle cx="619.2" cy="1490.1" r="3.1"/><circle cx="583.4" cy="1483.4" r="3.1"/><circle cx="581.1" cy="1493.9" r="3.1"/><circle cx="594.6" cy="1473" r="3.1"/><circle cx="593.7" cy="1511.6" r="3.1"/><circle cx="605.1" cy="1483.9" r="3.1"/><circle cx="603.3" cy="1486.7" r="3.1"/><circle cx="591.4" cy="1445.4" r="3.1"/><circle cx="618.3" cy="1489" r="3.1"/><circle cx="607.1" cy="1485.8" r="3.1"/><circle cx="599.1" cy="1478.3" r="3.1"/><circle cx="596.6" cy="1458.5" r="3.1"/><circle cx="592.3" cy="1436.1" r="3.1"/><circle cx="592.7" cy="1471.4" r="3.1"/><circle cx="606.3" cy="1469.8" r="3.1"/><circle cx="602.8" cy="1444.8" r="3.1"/><circle cx="594.8" cy="1479.7" r="3.1"/><circle cx="612.7" cy="1471.5" r="3.1"/><circle cx="589.3" cy="1494.4" r="3.1"/><circle cx="602.1" cy="1484.4" r="3.1"/><circle cx="609.8" cy="1498.5" r="3.1"/><circle cx="573.7" cy="1431.8" r="3.1"/><circle cx="589.2" cy="1463.3" r="3.1"/><circle cx="624.6" cy="1465.4" r="3.1"/><circle cx="576.6" cy="1503.7" r="3.1"/><circle cx="615.2" cy="1478.4" r="3.1"/><circle cx="574.7" cy="1496.6" r="3.1"/><circle cx="601.5" cy="1496.7" r="3.1"/><circle cx="574.6" cy="1511.7" r="3.1"/><circle cx="582.8" cy="1495.8" r="3.1"/><circle cx="587.2" cy="1421.6" r="3.1"/><circle cx="584" cy="1494.8" r="3.1"/><circle cx="612.5" cy="1465.6" r="3.1"/><circle cx="609.3" cy="1459.5" r="3.1"/><circle cx="610" cy="1470.5" r="3.1"/><circle cx="597.6" cy="1463.8" r="3.1"/><circle cx="624.1" cy="1503.5" r="3.1"/><circle cx="612.9" cy="1446" r="3.1"/><circle cx="600" cy="1433.4" r="3.1"/><circle cx="574.9" cy="1480.1" r="3.1"/><circle cx="606.6" cy="1496.9" r="3.1"/><circle cx="606" cy="1499.9" r="3.1"/><circle cx="595.8" cy="1511.2" r="3.1"/><circle cx="607.1" cy="1467.3" r="3.1"/><circle cx="608.2" cy="1462.1" r="3.1"/><circle cx="588.6" cy="1442.7" r="3.1"/><circle cx="604.4" cy="1510.6" r="3.1"/><circle cx="600.4" cy="1461.9" r="3.1"/><circle cx="599.8" cy="1465.6" r="3.1"/><circle cx="587.8" cy="1487.1" r="3.1"/><circle cx="585.6" cy="1501.1" r="3.1"/><circle cx="596.3" cy="1474.6" r="3.1"/><circle cx="620.3" cy="1431.2" r="3.1"/><circle cx="636.7" cy="1510.2" r="3.1"/><circle cx="587.3" cy="1494.8" r="3.1"/><circle cx="574.8" cy="1493.4" r="3.1"/><circle cx="587.8" cy="1484.7" r="3.1"/><circle cx="578.8" cy="1456.7" r="3.1"/><circle cx="586.4" cy="1492.3" r="3.1"/><circle cx="601.3" cy="1533.1" r="3.1"/><circle cx="577.3" cy="1510.2" r="3.1"/><circle cx="605.2" cy="1510.6" r="3.1"/><circle cx="608.6" cy="1475.9" r="3.1"/><circle cx="621.8" cy="1478.2" r="3.1"/><circle cx="627.4" cy="1507.7" r="3.1"/><circle cx="612.4" cy="1465.4" r="3.1"/><circle cx="635.6" cy="1523.3" r="3.1"/><circle cx="584.9" cy="1486.1" r="3.1"/><circle cx="599.1" cy="1452.3" r="3.1"/><circle cx="597.2" cy="1517.6" r="3.1"/><circle cx="602.1" cy="1468.4" r="3.1"/><circle cx="612.8" cy="1458.5" r="3.1"/><circle cx="588.2" cy="1492.4" r="3.1"/><circle cx="625.5" cy="1478.4" r="3.1"/><circle cx="617.4" cy="1515.7" r="3.1"/><circle cx="600.5" cy="1474.4" r="3.1"/><circle cx="602.7" cy="1509.3" r="3.1"/><circle cx="576.4" cy="1494.8" r="3.1"/><circle cx="548.7" cy="1472.6" r="3.1"/><circle cx="592.6" cy="1490.8" r="3.1"/><circle cx="600" cy="1507.2" r="3.1"/><circle cx="598.4" cy="1483.2" r="3.1"/><circle cx="574.1" cy="1488.5" r="3.1"/><circle cx="586" cy="1500.7" r="3.1"/><circle cx="626.3" cy="1527.4" r="3.1"/><circle cx="607.6" cy="1487.2" r="3.1"/><circle cx="605.5" cy="1462.6" r="3.1"/><circle cx="588.6" cy="1496.6" r="3.1"/><circle cx="607.8" cy="1495.3" r="3.1"/><circle cx="617.7" cy="1493.6" r="3.1"/><circle cx="608.1" cy="1473.5" r="3.1"/><circle cx="586.9" cy="1517" r="3.1"/><circle cx="599.5" cy="1465.6" r="3.1"/><circle cx="578.3" cy="1436.3" r="3.1"/><circle cx="588.7" cy="1472" r="3.1"/><circle cx="605.1" cy="1481.3" r="3.1"/><circle cx="584.6" cy="1472.7" r="3.1"/><circle cx="590.1" cy="1471.8" r="3.1"/><circle cx="620.4" cy="1490.3" r="3.1"/><circle cx="591.3" cy="1485.6" r="3.1"/><circle cx="608.3" cy="1487.3" r="3.1"/><circle cx="588.9" cy="1470.7" r="3.1"/><circle cx="573.6" cy="1440.2" r="3.1"/><circle cx="594.4" cy="1479.5" r="3.1"/><circle cx="587.8" cy="1436.8" r="3.1"/><circle cx="557.8" cy="1502.2" r="3.1"/><circle cx="572.5" cy="1465.6" r="3.1"/><circle cx="586.7" cy="1498.6" r="3.1"/><circle cx="621.2" cy="1479.6" r="3.1"/><circle cx="583.9" cy="1484.6" r="3.1"/><circle cx="593.8" cy="1525.3" r="3.1"/><circle cx="605.8" cy="1488" r="3.1"/><circle cx="599.6" cy="1473.4" r="3.1"/><circle cx="588.2" cy="1475.7" r="3.1"/><circle cx="625.3" cy="1515.7" r="3.1"/><circle cx="618.7" cy="1515" r="3.1"/><circle cx="550" cy="1468.6" r="3.1"/><circle cx="611.8" cy="1505.4" r="3.1"/><circle cx="604.2" cy="1436.2" r="3.1"/><circle cx="612.2" cy="1475.4" r="3.1"/><circle cx="596" cy="1474.9" r="3.1"/><circle cx="609.3" cy="1486.4" r="3.1"/><circle cx="629.4" cy="1500.2" r="3.1"/><circle cx="625.4" cy="1476.3" r="3.1"/><circle cx="626.9" cy="1487.4" r="3.1"/><circle cx="613.5" cy="1448.4" r="3.1"/><circle cx="611.1" cy="1478.7" r="3.1"/><circle cx="611.5" cy="1476.8" r="3.1"/><circle cx="574" cy="1458.2" r="3.1"/><circle cx="635.6" cy="1460.1" r="3.1"/><circle cx="598.7" cy="1528.1" r="3.1"/><circle cx="600.3" cy="1437.8" r="3.1"/><circle cx="596.5" cy="1516.8" r="3.1"/><circle cx="603" cy="1505.3" r="3.1"/><circle cx="555.8" cy="1489" r="3.1"/><circle cx="598.5" cy="1500.3" r="3.1"/><circle cx="571.4" cy="1441.2" r="3.1"/><circle cx="576.5" cy="1481.5" r="3.1"/><circle cx="560.6" cy="1507.9" r="3.1"/><circle cx="563.1" cy="1490.8" r="3.1"/><circle cx="605" cy="1500.3" r="3.1"/><circle cx="585.4" cy="1497.7" r="3.1"/><circle cx="592.4" cy="1473.4" r="3.1"/><circle cx="591.2" cy="1470.1" r="3.1"/><circle cx="573.2" cy="1485.8" r="3.1"/><circle cx="581.4" cy="1512.1" r="3.1"/><circle cx="571.4" cy="1496.6" r="3.1"/><circle cx="588.6" cy="1461.3" r="3.1"/><circle cx="553.9" cy="1470.2" r="3.1"/><circle cx="587.1" cy="1489.4" r="3.1"/><circle cx="610.8" cy="1465.1" r="3.1"/><circle cx="616.2" cy="1524.4" r="3.1"/><circle cx="615" cy="1497.9" r="3.1"/><circle cx="603.2" cy="1481.4" r="3.1"/><circle cx="575.9" cy="1475.3" r="3.1"/><circle cx="610.7" cy="1458.3" r="3.1"/><circle cx="603.6" cy="1480.3" r="3.1"/><circle cx="599" cy="1475.4" r="3.1"/><circle cx="572.1" cy="1478.7" r="3.1"/><circle cx="601.3" cy="1506.2" r="3.1"/><circle cx="619.8" cy="1486.4" r="3.1"/><circle cx="607.6" cy="1449.8" r="3.1"/><circle cx="590" cy="1465.9" r="3.1"/><circle cx="604.1" cy="1489.1" r="3.1"/><circle cx="594.2" cy="1481.8" r="3.1"/><circle cx="597.4" cy="1443" r="3.1"/><circle cx="609.5" cy="1446.2" r="3.1"/><circle cx="600.4" cy="1439.5" r="3.1"/><circle cx="595.4" cy="1452.7" r="3.1"/><circle cx="601.1" cy="1485" r="3.1"/><circle cx="579.2" cy="1486.3" r="3.1"/><circle cx="576" cy="1518.4" r="3.1"/><circle cx="602.9" cy="1452.8" r="3.1"/><circle cx="583.3" cy="1454" r="3.1"/><circle cx="604.3" cy="1431.3" r="3.1"/><circle cx="560.6" cy="1499.1" r="3.1"/><circle cx="615.9" cy="1442.6" r="3.1"/><circle cx="592.3" cy="1469" r="3.1"/><circle cx="624.4" cy="1478.3" r="3.1"/><circle cx="549" cy="1475.3" r="3.1"/><circle cx="563.5" cy="1507.1" r="3.1"/><circle cx="619.7" cy="1482.8" r="3.1"/><circle cx="597" cy="1503.5" r="3.1"/><circle cx="599.7" cy="1492.1" r="3.1"/><circle cx="596.4" cy="1476.2" r="3.1"/><circle cx="597.1" cy="1491.8" r="3.1"/><circle cx="603.9" cy="1464.9" r="3.1"/><circle cx="575.8" cy="1496.8" r="3.1"/><circle cx="591.1" cy="1493.4" r="3.1"/><circle cx="617.8" cy="1493.9" r="3.1"/><circle cx="597.5" cy="1476.3" r="3.1"/><circle cx="582.9" cy="1475.1" r="3.1"/><circle cx="595.9" cy="1458.2" r="3.1"/><circle cx="613.2" cy="1487.8" r="3.1"/><circle cx="590.6" cy="1495.8" r="3.1"/><circle cx="591" cy="1474.1" r="3.1"/><circle cx="603.1" cy="1440" r="3.1"/><circle cx="609.7" cy="1460.5" r="3.1"/><circle cx="621.1" cy="1522.8" r="3.1"/><circle cx="591.9" cy="1477.9" r="3.1"/><circle cx="600.5" cy="1489.4" r="3.1"/><circle cx="613.2" cy="1484.7" r="3.1"/><circle cx="559.6" cy="1461.5" r="3.1"/><circle cx="596.9" cy="1479" r="3.1"/><circle cx="602.7" cy="1482.4" r="3.1"/><circle cx="592.8" cy="1516.3" r="3.1"/><circle cx="578.8" cy="1482.6" r="3.1"/><circle cx="605" cy="1497" r="3.1"/><circle cx="617" cy="1474.7" r="3.1"/><circle cx="592.7" cy="1455.9" r="3.1"/><circle cx="585.6" cy="1499.9" r="3.1"/><circle cx="590.4" cy="1485.3" r="3.1"/><circle cx="622.7" cy="1466.5" r="3.1"/><circle cx="617.1" cy="1517" r="3.1"/><circle cx="595.2" cy="1496.2" r="3.1"/><circle cx="574.5" cy="1513" r="3.1"/><circle cx="571.4" cy="1494.3" r="3.1"/><circle cx="588.6" cy="1482.6" r="3.1"/><circle cx="588.7" cy="1488.1" r="3.1"/><circle cx="599.3" cy="1448.2" r="3.1"/><circle cx="573.9" cy="1462.6" r="3.1"/><circle cx="592.2" cy="1476.1" r="3.1"/><circle cx="604.2" cy="1455" r="3.1"/><circle cx="563.8" cy="1437.1" r="3.1"/><circle cx="636.4" cy="1488.6" r="3.1"/><circle cx="605.1" cy="1484.2" r="3.1"/><circle cx="604.2" cy="1472.5" r="3.1"/><circle cx="570.8" cy="1456.2" r="3.1"/><circle cx="575.9" cy="1525.6" r="3.1"/><circle cx="613.2" cy="1481.5" r="3.1"/><circle cx="610.8" cy="1419.4" r="3.1"/><circle cx="550.2" cy="1479.2" r="3.1"/><circle cx="615.7" cy="1436.3" r="3.1"/><circle cx="607.9" cy="1423.8" r="3.1"/><circle cx="606" cy="1462.2" r="3.1"/><circle cx="574.4" cy="1427.4" r="3.1"/><circle cx="599.4" cy="1478.5" r="3.1"/><circle cx="583.6" cy="1519.2" r="3.1"/><circle cx="605" cy="1490.3" r="3.1"/><circle cx="628.4" cy="1446" r="3.1"/><circle cx="606.5" cy="1418.4" r="3.1"/><circle cx="613.3" cy="1465.8" r="3.1"/><circle cx="589.1" cy="1516.2" r="3.1"/><circle cx="576.1" cy="1479.2" r="3.1"/><circle cx="595.1" cy="1524.7" r="3.1"/><circle cx="613.8" cy="1477.3" r="3.1"/><circle cx="621.7" cy="1442.2" r="3.1"/><circle cx="593.8" cy="1500.2" r="3.1"/><circle cx="599.5" cy="1499.3" r="3.1"/><circle cx="587.6" cy="1490" r="3.1"/><circle cx="563.5" cy="1487.3" r="3.1"/><circle cx="596.5" cy="1465.8" r="3.1"/><circle cx="601.3" cy="1471.3" r="3.1"/><circle cx="587.3" cy="1462.1" r="3.1"/><circle cx="591.8" cy="1502.2" r="3.1"/><circle cx="562" cy="1451.8" r="3.1"/><circle cx="596" cy="1464.3" r="3.1"/><circle cx="620.2" cy="1499.3" r="3.1"/><circle cx="594.5" cy="1491.3" r="3.1"/><circle cx="605.8" cy="1494.1" r="3.1"/><circle cx="603" cy="1518.7" r="3.1"/><circle cx="581.1" cy="1434.9" r="3.1"/><circle cx="598.8" cy="1464.9" r="3.1"/><circle cx="580" cy="1477.8" r="3.1"/><circle cx="648.3" cy="1452.9" r="3.1"/><circle cx="598.7" cy="1482.9" r="3.1"/><circle cx="575" cy="1482.8" r="3.1"/><circle cx="566.9" cy="1449.3" r="3.1"/><circle cx="622.2" cy="1502.8" r="3.1"/><circle cx="606.2" cy="1499.4" r="3.1"/><circle cx="602.2" cy="1518" r="3.1"/><circle cx="570" cy="1495.3" r="3.1"/><circle cx="584.6" cy="1455.7" r="3.1"/><circle cx="572.7" cy="1491.6" r="3.1"/><circle cx="615" cy="1444.5" r="3.1"/><circle cx="585.3" cy="1491.7" r="3.1"/><circle cx="630.1" cy="1474.7" r="3.1"/><circle cx="604.4" cy="1504.4" r="3.1"/><circle cx="589" cy="1463.2" r="3.1"/><circle cx="619.4" cy="1433.3" r="3.1"/><circle cx="556.6" cy="1486.6" r="3.1"/><circle cx="579.7" cy="1516.5" r="3.1"/><circle cx="587.6" cy="1482.1" r="3.1"/><circle cx="614.4" cy="1463.5" r="3.1"/><circle cx="614.6" cy="1499.1" r="3.1"/><circle cx="601.4" cy="1435.5" r="3.1"/><circle cx="562.4" cy="1509.7" r="3.1"/><circle cx="585.2" cy="1466.8" r="3.1"/><circle cx="574.7" cy="1447.1" r="3.1"/><circle cx="617.7" cy="1473.3" r="3.1"/><circle cx="586.8" cy="1450.5" r="3.1"/><circle cx="605.7" cy="1468.8" r="3.1"/><circle cx="628.8" cy="1489.7" r="3.1"/><circle cx="593.5" cy="1491" r="3.1"/><circle cx="607.7" cy="1438" r="3.1"/><circle cx="587.9" cy="1521" r="3.1"/><circle cx="595.8" cy="1474.8" r="3.1"/><circle cx="595.7" cy="1498.9" r="3.1"/><circle cx="595.2" cy="1490.7" r="3.1"/><circle cx="596.2" cy="1461" r="3.1"/><circle cx="587.7" cy="1500.7" r="3.1"/><circle cx="629.1" cy="1516.7" r="3.1"/><circle cx="583" cy="1453" r="3.1"/><circle cx="599.4" cy="1451.6" r="3.1"/><circle cx="589.5" cy="1480" r="3.1"/><circle cx="553.5" cy="1501.7" r="3.1"/><circle cx="612.6" cy="1504.2" r="3.1"/><circle cx="599.1" cy="1473.8" r="3.1"/><circle cx="569.7" cy="1471.3" r="3.1"/><circle cx="581.5" cy="1470.1" r="3.1"/><circle cx="565.3" cy="1466.1" r="3.1"/><circle cx="600" cy="1481.7" r="3.1"/><circle cx="623.4" cy="1467.4" r="3.1"/><circle cx="617.1" cy="1482.4" r="3.1"/><circle cx="571.1" cy="1473.1" r="3.1"/><circle cx="563.2" cy="1486.9" r="3.1"/><circle cx="604.4" cy="1474.9" r="3.1"/><circle cx="625.5" cy="1503.3" r="3.1"/><circle cx="595.6" cy="1486.8" r="3.1"/><circle cx="613.9" cy="1508.4" r="3.1"/><circle cx="569.1" cy="1468.8" r="3.1"/><circle cx="592.6" cy="1495.7" r="3.1"/><circle cx="602.7" cy="1497.7" r="3.1"/><circle cx="587.1" cy="1497" r="3.1"/><circle cx="590.5" cy="1501.8" r="3.1"/><circle cx="607.1" cy="1504.4" r="3.1"/><circle cx="583.2" cy="1468.8" r="3.1"/><circle cx="576.4" cy="1470.6" r="3.1"/><circle cx="608.2" cy="1461.5" r="3.1"/><circle cx="599" cy="1496.2" r="3.1"/><circle cx="576.3" cy="1476.4" r="3.1"/><circle cx="602.5" cy="1527.4" r="3.1"/><circle cx="584.2" cy="1461.9" r="3.1"/><circle cx="606.2" cy="1505.7" r="3.1"/><circle cx="594.3" cy="1453.2" r="3.1"/><circle cx="589.2" cy="1466.2" r="3.1"/><circle cx="580.3" cy="1434" r="3.1"/><circle cx="598.2" cy="1470.5" r="3.1"/><circle cx="593.6" cy="1497.2" r="3.1"/><circle cx="629.1" cy="1431.9" r="3.1"/><circle cx="593.7" cy="1452" r="3.1"/><circle cx="569.8" cy="1455.3" r="3.1"/><circle cx="632.4" cy="1440.6" r="3.1"/><circle cx="557.1" cy="1482.3" r="3.1"/><circle cx="624.7" cy="1535.1" r="3.1"/><circle cx="578.6" cy="1486.2" r="3.1"/><circle cx="619.9" cy="1494.7" r="3.1"/><circle cx="591" cy="1466.6" r="3.1"/><circle cx="604.4" cy="1490.4" r="3.1"/><circle cx="595" cy="1468.1" r="3.1"/><circle cx="592.4" cy="1500.8" r="3.1"/><circle cx="603.9" cy="1455.2" r="3.1"/><circle cx="582.6" cy="1466.7" r="3.1"/><circle cx="603.1" cy="1497.6" r="3.1"/><circle cx="574.6" cy="1449.5" r="3.1"/><circle cx="580.9" cy="1445.7" r="3.1"/><circle cx="585" cy="1467" r="3.1"/><circle cx="592.5" cy="1494.5" r="3.1"/><circle cx="616.6" cy="1472.8" r="3.1"/><circle cx="579" cy="1478.6" r="3.1"/><circle cx="578.5" cy="1491.2" r="3.1"/><circle cx="573.7" cy="1482.7" r="3.1"/><circle cx="586.8" cy="1484.5" r="3.1"/><circle cx="604.5" cy="1513.5" r="3.1"/><circle cx="580.6" cy="1482.5" r="3.1"/><circle cx="588.9" cy="1506" r="3.1"/><circle cx="583.4" cy="1482.1" r="3.1"/><circle cx="595.8" cy="1486.1" r="3.1"/><circle cx="557.3" cy="1462" r="3.1"/><circle cx="605.1" cy="1492.7" r="3.1"/><circle cx="611.1" cy="1478.2" r="3.1"/><circle cx="578.9" cy="1515.1" r="3.1"/><circle cx="592.9" cy="1454.7" r="3.1"/><circle cx="577.5" cy="1431.6" r="3.1"/><circle cx="612.5" cy="1484.2" r="3.1"/><circle cx="605.8" cy="1469.4" r="3.1"/><circle cx="647.3" cy="1465.4" r="3.1"/><circle cx="590.4" cy="1485.1" r="3.1"/><circle cx="578.2" cy="1460.5" r="3.1"/><circle cx="585.5" cy="1493.5" r="3.1"/><circle cx="571.2" cy="1483.8" r="3.1"/><circle cx="598.1" cy="1483" r="3.1"/><circle cx="600" cy="1495.3" r="3.1"/><circle cx="611.2" cy="1513.5" r="3.1"/><circle cx="601.7" cy="1458.2" r="3.1"/><circle cx="586.8" cy="1478.7" r="3.1"/><circle cx="618" cy="1498.8" r="3.1"/><circle cx="605" cy="1507.9" r="3.1"/><circle cx="609.6" cy="1484.7" r="3.1"/><circle cx="573" cy="1504.2" r="3.1"/><circle cx="579.2" cy="1469.4" r="3.1"/><circle cx="582.7" cy="1480.7" r="3.1"/><circle cx="587.3" cy="1472.1" r="3.1"/><circle cx="554.5" cy="1457.6" r="3.1"/><circle cx="616.5" cy="1477.1" r="3.1"/><circle cx="590.7" cy="1467.6" r="3.1"/><circle cx="610.1" cy="1454.6" r="3.1"/><circle cx="608.8" cy="1469.9" r="3.1"/><circle cx="622" cy="1533.7" r="3.1"/><circle cx="605.2" cy="1454.3" r="3.1"/><circle cx="601.6" cy="1475.7" r="3.1"/><circle cx="581.2" cy="1468.3" r="3.1"/><circle cx="597.1" cy="1445.5" r="3.1"/><circle cx="627" cy="1486.1" r="3.1"/><circle cx="562.6" cy="1470.3" r="3.1"/><circle cx="582" cy="1529.9" r="3.1"/><circle cx="600" cy="1446.9" r="3.1"/><circle cx="624.6" cy="1482.9" r="3.1"/><circle cx="575" cy="1487.2" r="3.1"/><circle cx="586.9" cy="1487.4" r="3.1"/><circle cx="598" cy="1468" r="3.1"/><circle cx="652.1" cy="1523.9" r="3.1"/><circle cx="579.4" cy="1438.5" r="3.1"/><circle cx="592.4" cy="1478.8" r="3.1"/><circle cx="609" cy="1483.8" r="3.1"/><circle cx="582.5" cy="1449.3" r="3.1"/><circle cx="602.5" cy="1461.3" r="3.1"/><circle cx="603" cy="1469.7" r="3.1"/><circle cx="588.9" cy="1502.3" r="3.1"/><circle cx="601.9" cy="1456.1" r="3.1"/><circle cx="627.1" cy="1475.5" r="3.1"/><circle cx="597.9" cy="1500.5" r="3.1"/><circle cx="587.8" cy="1485.6" r="3.1"/><circle cx="582" cy="1475" r="3.1"/><circle cx="599.9" cy="1498.7" r="3.1"/><circle cx="614.7" cy="1462" r="3.1"/><circle cx="598.4" cy="1494.3" r="3.1"/><circle cx="601.4" cy="1461.2" r="3.1"/><circle cx="644.2" cy="1474.9" r="3.1"/><circle cx="581.8" cy="1470.8" r="3.1"/><circle cx="576" cy="1504.5" r="3.1"/><circle cx="600.8" cy="1479.5" r="3.1"/><circle cx="591.8" cy="1467.6" r="3.1"/><circle cx="606.3" cy="1473.9" r="3.1"/><circle cx="618.5" cy="1490.1" r="3.1"/><circle cx="602.3" cy="1473.6" r="3.1"/><circle cx="592.2" cy="1489.5" r="3.1"/><circle cx="605.3" cy="1482.8" r="3.1"/><circle cx="604.6" cy="1454.2" r="3.1"/><circle cx="594.1" cy="1443.5" r="3.1"/><circle cx="585.3" cy="1441.1" r="3.1"/><circle cx="608" cy="1468.1" r="3.1"/><circle cx="592.1" cy="1494.6" r="3.1"/><circle cx="574.8" cy="1487.7" r="3.1"/><circle cx="608.2" cy="1456.1" r="3.1"/><circle cx="586.2" cy="1478.6" r="3.1"/><circle cx="585.9" cy="1446.2" r="3.1"/><circle cx="607.6" cy="1489.3" r="3.1"/><circle cx="581.4" cy="1460.9" r="3.1"/><circle cx="592.4" cy="1511.3" r="3.1"/><circle cx="577.7" cy="1488.7" r="3.1"/><circle cx="567.7" cy="1469.7" r="3.1"/><circle cx="601" cy="1472.2" r="3.1"/><circle cx="624.1" cy="1477.7" r="3.1"/><circle cx="579.6" cy="1507.1" r="3.1"/><circle cx="616.8" cy="1479" r="3.1"/><circle cx="615.1" cy="1488.5" r="3.1"/><circle cx="623.1" cy="1496.6" r="3.1"/><circle cx="576" cy="1476.6" r="3.1"/><circle cx="583.6" cy="1500.5" r="3.1"/><circle cx="625.6" cy="1496.4" r="3.1"/><circle cx="594.6" cy="1432" r="3.1"/><circle cx="595.5" cy="1473.5" r="3.1"/><circle cx="608.6" cy="1453.5" r="3.1"/><circle cx="606.8" cy="1493.5" r="3.1"/><circle cx="585.7" cy="1492.3" r="3.1"/><circle cx="591.8" cy="1512" r="3.1"/><circle cx="607.4" cy="1512.2" r="3.1"/><circle cx="600.7" cy="1511" r="3.1"/><circle cx="582.5" cy="1471.2" r="3.1"/><circle cx="619.1" cy="1503.5" r="3.1"/><circle cx="611.4" cy="1501.9" r="3.1"/><circle cx="590" cy="1496.1" r="3.1"/><circle cx="585.8" cy="1466" r="3.1"/><circle cx="612.7" cy="1491.3" r="3.1"/><circle cx="551.8" cy="1468.5" r="3.1"/><circle cx="597.9" cy="1506" r="3.1"/><circle cx="585.1" cy="1468.9" r="3.1"/><circle cx="583.6" cy="1483" r="3.1"/><circle cx="612.1" cy="1468.8" r="3.1"/><circle cx="601.6" cy="1508.4" r="3.1"/><circle cx="651.9" cy="1486.1" r="3.1"/><circle cx="592.1" cy="1482.9" r="3.1"/><circle cx="602.8" cy="1498.5" r="3.1"/><circle cx="570.6" cy="1469.4" r="3.1"/><circle cx="614.6" cy="1481.3" r="3.1"/><circle cx="585.3" cy="1470.6" r="3.1"/><circle cx="600.3" cy="1496.1" r="3.1"/><circle cx="619.9" cy="1477.9" r="3.1"/><circle cx="617.9" cy="1514.6" r="3.1"/><circle cx="605.3" cy="1467.1" r="3.1"/><circle cx="619.7" cy="1513.3" r="3.1"/><circle cx="588.2" cy="1498.2" r="3.1"/><circle cx="579.3" cy="1480.8" r="3.1"/><circle cx="568.6" cy="1470.6" r="3.1"/><circle cx="606.5" cy="1480.1" r="3.1"/><circle cx="632.2" cy="1528.8" r="3.1"/><circle cx="590.4" cy="1511.6" r="3.1"/><circle cx="596.5" cy="1502.1" r="3.1"/><circle cx="590.6" cy="1486" r="3.1"/><circle cx="605.2" cy="1514.4" r="3.1"/><circle cx="563" cy="1502.9" r="3.1"/><circle cx="611.9" cy="1475.3" r="3.1"/><circle cx="616" cy="1481.8" r="3.1"/><circle cx="583.8" cy="1472.5" r="3.1"/><circle cx="577.8" cy="1475.6" r="3.1"/><circle cx="580.2" cy="1517.4" r="3.1"/><circle cx="606.3" cy="1507.7" r="3.1"/><circle cx="622.7" cy="1483.1" r="3.1"/><circle cx="578.1" cy="1476.9" r="3.1"/><circle cx="568" cy="1497.8" r="3.1"/><circle cx="598.1" cy="1463.5" r="3.1"/><circle cx="601.1" cy="1500.8" r="3.1"/><circle cx="609.1" cy="1497.1" r="3.1"/><circle cx="583.5" cy="1485.2" r="3.1"/><circle cx="609.5" cy="1479.2" r="3.1"/><circle cx="616.2" cy="1499.1" r="3.1"/><circle cx="566.1" cy="1487.1" r="3.1"/><circle cx="590.6" cy="1507.2" r="3.1"/><circle cx="607.2" cy="1501.9" r="3.1"/><circle cx="610" cy="1450.5" r="3.1"/><circle cx="585.8" cy="1511.1" r="3.1"/><circle cx="560.4" cy="1450.6" r="3.1"/><circle cx="581.6" cy="1498.5" r="3.1"/><circle cx="569.8" cy="1456.8" r="3.1"/><circle cx="586.2" cy="1495.6" r="3.1"/><circle cx="614.5" cy="1509.2" r="3.1"/><circle cx="584.1" cy="1487" r="3.1"/><circle cx="597.2" cy="1485.4" r="3.1"/><circle cx="573.5" cy="1479.4" r="3.1"/><circle cx="612.6" cy="1507.8" r="3.1"/><circle cx="584.1" cy="1518.8" r="3.1"/><circle cx="576.4" cy="1490.2" r="3.1"/><circle cx="629.6" cy="1495.8" r="3.1"/><circle cx="601.6" cy="1502.8" r="3.1"/><circle cx="608" cy="1487.2" r="3.1"/><circle cx="559" cy="1454.1" r="3.1"/><circle cx="621.5" cy="1456.7" r="3.1"/><circle cx="626.9" cy="1477.4" r="3.1"/><circle cx="592.9" cy="1453.8" r="3.1"/><circle cx="589.9" cy="1439.6" r="3.1"/><circle cx="584.8" cy="1450.4" r="3.1"/><circle cx="615.1" cy="1523" r="3.1"/><circle cx="566.7" cy="1500.7" r="3.1"/><circle cx="601.3" cy="1476.7" r="3.1"/><circle cx="631.9" cy="1461.6" r="3.1"/><circle cx="597.8" cy="1511.9" r="3.1"/><circle cx="631.4" cy="1433.1" r="3.1"/><circle cx="595.8" cy="1498.4" r="3.1"/><circle cx="589.8" cy="1505.5" r="3.1"/><circle cx="612" cy="1531" r="3.1"/><circle cx="594" cy="1462.3" r="3.1"/><circle cx="597.1" cy="1460.1" r="3.1"/><circle cx="587.9" cy="1462" r="3.1"/><circle cx="573.2" cy="1477.6" r="3.1"/><circle cx="589.7" cy="1474.6" r="3.1"/><circle cx="608.2" cy="1480.4" r="3.1"/><circle cx="615.1" cy="1441.4" r="3.1"/><circle cx="594" cy="1466.1" r="3.1"/><circle cx="600.9" cy="1458.3" r="3.1"/><circle cx="578.3" cy="1520.8" r="3.1"/><circle cx="592.1" cy="1520.3" r="3.1"/><circle cx="592.5" cy="1456.4" r="3.1"/><circle cx="592.8" cy="1468.6" r="3.1"/><circle cx="596.5" cy="1470.7" r="3.1"/><circle cx="601.8" cy="1484.7" r="3.1"/><circle cx="617.7" cy="1475.8" r="3.1"/><circle cx="609.5" cy="1493" r="3.1"/><circle cx="604.8" cy="1468" r="3.1"/><circle cx="573.1" cy="1521" r="3.1"/><circle cx="580.7" cy="1480.5" r="3.1"/><circle cx="596.3" cy="1497.3" r="3.1"/><circle cx="597.3" cy="1502.6" r="3.1"/><circle cx="608.8" cy="1488" r="3.1"/><circle cx="563.3" cy="1487.4" r="3.1"/><circle cx="598.7" cy="1485.7" r="3.1"/><circle cx="597.7" cy="1444.6" r="3.1"/><circle cx="589.3" cy="1511.1" r="3.1"/><circle cx="581" cy="1504.9" r="3.1"/><circle cx="599.6" cy="1482.6" r="3.1"/><circle cx="592.6" cy="1483.3" r="3.1"/><circle cx="604.1" cy="1474" r="3.1"/><circle cx="558.8" cy="1461.7" r="3.1"/><circle cx="579" cy="1475.1" r="3.1"/><circle cx="623.3" cy="1503.2" r="3.1"/><circle cx="599.7" cy="1429.4" r="3.1"/><circle cx="581.4" cy="1478.5" r="3.1"/><circle cx="589.7" cy="1482" r="3.1"/><circle cx="571.9" cy="1481.3" r="3.1"/><circle cx="621.5" cy="1502.5" r="3.1"/><circle cx="621.7" cy="1500.5" r="3.1"/><circle cx="611.7" cy="1482.6" r="3.1"/><circle cx="617.6" cy="1476.9" r="3.1"/><circle cx="604.2" cy="1470.7" r="3.1"/><circle cx="619.7" cy="1506.9" r="3.1"/><circle cx="607.3" cy="1466.9" r="3.1"/><circle cx="621.5" cy="1508.1" r="3.1"/><circle cx="595.3" cy="1458.4" r="3.1"/><circle cx="594.2" cy="1423.9" r="3.1"/><circle cx="585.6" cy="1512.6" r="3.1"/><circle cx="587.3" cy="1471.6" r="3.1"/><circle cx="567.2" cy="1459.1" r="3.1"/><circle cx="620" cy="1494.2" r="3.1"/><circle cx="621.4" cy="1449.4" r="3.1"/><circle cx="609.2" cy="1518.1" r="3.1"/><circle cx="614.1" cy="1497.7" r="3.1"/><circle cx="600" cy="1469.7" r="3.1"/><circle cx="604.8" cy="1447.2" r="3.1"/><circle cx="571.4" cy="1494.8" r="3.1"/><circle cx="594.6" cy="1516.7" r="3.1"/><circle cx="563" cy="1470.7" r="3.1"/><circle cx="583.6" cy="1444.5" r="3.1"/><circle cx="590.7" cy="1470.7" r="3.1"/><circle cx="590.2" cy="1500.6" r="3.1"/><circle cx="576.6" cy="1516.1" r="3.1"/><circle cx="619.2" cy="1418.3" r="3.1"/><circle cx="613.9" cy="1477.9" r="3.1"/><circle cx="586.3" cy="1522.4" r="3.1"/><circle cx="573.6" cy="1525.5" r="3.1"/><circle cx="587" cy="1453.5" r="3.1"/><circle cx="612.9" cy="1452" r="3.1"/><circle cx="561.2" cy="1485.1" r="3.1"/><circle cx="610.4" cy="1493.9" r="3.1"/><circle cx="593.4" cy="1465" r="3.1"/><circle cx="588.6" cy="1462.8" r="3.1"/><circle cx="614.3" cy="1477.2" r="3.1"/><circle cx="596.2" cy="1512.9" r="3.1"/><circle cx="589.4" cy="1475.6" r="3.1"/><circle cx="618.3" cy="1425.1" r="3.1"/><circle cx="567" cy="1508.2" r="3.1"/><circle cx="625.1" cy="1501.1" r="3.1"/><circle cx="580.5" cy="1501.9" r="3.1"/><circle cx="580.7" cy="1502.3" r="3.1"/><circle cx="624.6" cy="1446.3" r="3.1"/><circle cx="656.1" cy="1465.5" r="3.1"/><circle cx="618.2" cy="1507.4" r="3.1"/><circle cx="580.6" cy="1510.6" r="3.1"/><circle cx="556.3" cy="1485.2" r="3.1"/><circle cx="600.3" cy="1500.2" r="3.1"/><circle cx="595.9" cy="1474.9" r="3.1"/><circle cx="585.3" cy="1478" r="3.1"/><circle cx="593.5" cy="1520" r="3.1"/><circle cx="583.6" cy="1437.9" r="3.1"/><circle cx="611.1" cy="1502.2" r="3.1"/><circle cx="594.3" cy="1448.8" r="3.1"/><circle cx="592.1" cy="1479.3" r="3.1"/><circle cx="556" cy="1490.2" r="3.1"/><circle cx="600.4" cy="1534" r="3.1"/><circle cx="569.4" cy="1498.9" r="3.1"/><circle cx="609.1" cy="1456.7" r="3.1"/><circle cx="595.1" cy="1463.2" r="3.1"/><circle cx="559" cy="1504.3" r="3.1"/><circle cx="589.6" cy="1545.7" r="3.1"/><circle cx="574.1" cy="1477.3" r="3.1"/><circle cx="605.8" cy="1514.1" r="3.1"/><circle cx="603.8" cy="1488.8" r="3.1"/><circle cx="614.8" cy="1509.3" r="3.1"/><circle cx="581.7" cy="1453.1" r="3.1"/><circle cx="604.6" cy="1497.4" r="3.1"/><circle cx="570.7" cy="1480.5" r="3.1"/><circle cx="601.5" cy="1487.7" r="3.1"/><circle cx="591.4" cy="1499.1" r="3.1"/><circle cx="599.8" cy="1465.7" r="3.1"/><circle cx="595.3" cy="1474.6" r="3.1"/><circle cx="614" cy="1475.5" r="3.1"/><circle cx="589.3" cy="1492.7" r="3.1"/><circle cx="592.2" cy="1471.6" r="3.1"/><circle cx="620.9" cy="1509.6" r="3.1"/><circle cx="594.2" cy="1476.8" r="3.1"/><circle cx="585.8" cy="1489.2" r="3.1"/><circle cx="579.1" cy="1555.2" r="3.1"/><circle cx="595.7" cy="1516.4" r="3.1"/><circle cx="594.8" cy="1493.4" r="3.1"/><circle cx="607.1" cy="1433.1" r="3.1"/><circle cx="592.4" cy="1453" r="3.1"/><circle cx="607.9" cy="1497.7" r="3.1"/><circle cx="590.7" cy="1456.2" r="3.1"/><circle cx="624.4" cy="1506.3" r="3.1"/><circle cx="594.6" cy="1455.6" r="3.1"/><circle cx="607.8" cy="1492.2" r="3.1"/><circle cx="602.4" cy="1504.7" r="3.1"/><circle cx="571.6" cy="1521.5" r="3.1"/><circle cx="614.2" cy="1487.7" r="3.1"/><circle cx="587.8" cy="1460.4" r="3.1"/><circle cx="612.1" cy="1484.8" r="3.1"/><circle cx="559.2" cy="1403.7" r="3.1"/><circle cx="561.8" cy="1498.7" r="3.1"/><circle cx="559.1" cy="1455" r="3.1"/><circle cx="562.7" cy="1461" r="3.1"/><circle cx="588.2" cy="1480.3" r="3.1"/><circle cx="594.6" cy="1488.6" r="3.1"/><circle cx="577.4" cy="1499.6" r="3.1"/><circle cx="588.9" cy="1466.1" r="3.1"/><circle cx="582.7" cy="1464.3" r="3.1"/><circle cx="608.5" cy="1488.4" r="3.1"/><circle cx="608" cy="1500.6" r="3.1"/><circle cx="600.5" cy="1514.3" r="3.1"/><circle cx="606.8" cy="1486" r="3.1"/><circle cx="626.1" cy="1524.8" r="3.1"/><circle cx="606.8" cy="1501.9" r="3.1"/><circle cx="567.5" cy="1437.3" r="3.1"/><circle cx="591.2" cy="1505.9" r="3.1"/><circle cx="589.6" cy="1495.4" r="3.1"/><circle cx="609.8" cy="1463.2" r="3.1"/><circle cx="603.7" cy="1473" r="3.1"/><circle cx="610.6" cy="1490.4" r="3.1"/><circle cx="567" cy="1473.6" r="3.1"/><circle cx="620.3" cy="1487.2" r="3.1"/><circle cx="592.2" cy="1483" r="3.1"/><circle cx="612.4" cy="1504.4" r="3.1"/><circle cx="603.7" cy="1471.4" r="3.1"/><circle cx="578.9" cy="1479.2" r="3.1"/><circle cx="580" cy="1482.2" r="3.1"/><circle cx="605.7" cy="1475" r="3.1"/><circle cx="615.5" cy="1481.8" r="3.1"/><circle cx="578.3" cy="1493.3" r="3.1"/><circle cx="574" cy="1482.4" r="3.1"/><circle cx="557.5" cy="1497.4" r="3.1"/><circle cx="577.7" cy="1539.6" r="3.1"/><circle cx="581.1" cy="1504" r="3.1"/><circle cx="589.2" cy="1493.6" r="3.1"/><circle cx="605.4" cy="1483.8" r="3.1"/><circle cx="585.5" cy="1476.5" r="3.1"/><circle cx="574.1" cy="1453.7" r="3.1"/><circle cx="587.4" cy="1449.7" r="3.1"/><circle cx="592.8" cy="1448.1" r="3.1"/><circle cx="596.9" cy="1490.1" r="3.1"/><circle cx="596.6" cy="1460" r="3.1"/><circle cx="591" cy="1535.8" r="3.1"/><circle cx="604.1" cy="1511.6" r="3.1"/><circle cx="588.8" cy="1446.1" r="3.1"/><circle cx="575.2" cy="1488.2" r="3.1"/><circle cx="590.9" cy="1487.6" r="3.1"/><circle cx="627.6" cy="1475.1" r="3.1"/><circle cx="579.2" cy="1472.6" r="3.1"/><circle cx="638.4" cy="1490.9" r="3.1"/><circle cx="584.9" cy="1485.2" r="3.1"/><circle cx="607" cy="1517.6" r="3.1"/><circle cx="564.9" cy="1476.4" r="3.1"/><circle cx="592.2" cy="1463.7" r="3.1"/><circle cx="620.1" cy="1463.2" r="3.1"/><circle cx="572.9" cy="1479.9" r="3.1"/><circle cx="581" cy="1497.1" r="3.1"/><circle cx="599.8" cy="1492.2" r="3.1"/><circle cx="600.4" cy="1502.8" r="3.1"/><circle cx="567.3" cy="1517.2" r="3.1"/><circle cx="571.4" cy="1473.5" r="3.1"/><circle cx="599.3" cy="1499.8" r="3.1"/><circle cx="599.4" cy="1433.2" r="3.1"/><circle cx="607.3" cy="1477.5" r="3.1"/><circle cx="591.1" cy="1452" r="3.1"/><circle cx="605.4" cy="1519.5" r="3.1"/><circle cx="615.9" cy="1487.6" r="3.1"/><circle cx="572.1" cy="1463.8" r="3.1"/><circle cx="612.4" cy="1465.2" r="3.1"/><circle cx="607.7" cy="1475" r="3.1"/><circle cx="617.2" cy="1471.3" r="3.1"/><circle cx="587.2" cy="1501.8" r="3.1"/><circle cx="593.5" cy="1503.8" r="3.1"/><circle cx="595.6" cy="1495.1" r="3.1"/><circle cx="585.5" cy="1517.1" r="3.1"/><circle cx="612.3" cy="1460.8" r="3.1"/><circle cx="598.3" cy="1509.3" r="3.1"/><circle cx="576.3" cy="1507.5" r="3.1"/><circle cx="598.9" cy="1488.8" r="3.1"/><circle cx="575" cy="1445.9" r="3.1"/><circle cx="566.1" cy="1477.8" r="3.1"/><circle cx="575.5" cy="1471.8" r="3.1"/><circle cx="594.5" cy="1481.3" r="3.1"/><circle cx="596.3" cy="1447.2" r="3.1"/><circle cx="592.2" cy="1469.6" r="3.1"/><circle cx="603.9" cy="1517" r="3.1"/><circle cx="628.7" cy="1511.6" r="3.1"/><circle cx="573.9" cy="1479.6" r="3.1"/><circle cx="601.8" cy="1477.5" r="3.1"/><circle cx="599.1" cy="1496" r="3.1"/><circle cx="572.8" cy="1476.1" r="3.1"/><circle cx="585.2" cy="1453.6" r="3.1"/><circle cx="597.8" cy="1495" r="3.1"/><circle cx="594.7" cy="1451.6" r="3.1"/><circle cx="579.2" cy="1451.3" r="3.1"/><circle cx="607.9" cy="1552.5" r="3.1"/><circle cx="598.4" cy="1498.2" r="3.1"/><circle cx="605.6" cy="1466.1" r="3.1"/><circle cx="622.6" cy="1485.9" r="3.1"/><circle cx="571.4" cy="1482.8" r="3.1"/><circle cx="611.8" cy="1462.7" r="3.1"/><circle cx="602.7" cy="1465.1" r="3.1"/><circle cx="578.6" cy="1500.1" r="3.1"/><circle cx="593.1" cy="1542.3" r="3.1"/><circle cx="586.7" cy="1471" r="3.1"/><circle cx="573.2" cy="1460.1" r="3.1"/><circle cx="608.5" cy="1472.6" r="3.1"/><circle cx="580.3" cy="1475.2" r="3.1"/><circle cx="557.8" cy="1466.6" r="3.1"/><circle cx="608.8" cy="1472.5" r="3.1"/><circle cx="585.4" cy="1499.1" r="3.1"/><circle cx="600.7" cy="1478" r="3.1"/><circle cx="597.8" cy="1470.2" r="3.1"/><circle cx="588.6" cy="1498" r="3.1"/><circle cx="587.3" cy="1481.4" r="3.1"/><circle cx="548.9" cy="1458.2" r="3.1"/><circle cx="586.8" cy="1438.3" r="3.1"/><circle cx="573.8" cy="1467" r="3.1"/><circle cx="603.1" cy="1436.2" r="3.1"/><circle cx="580.2" cy="1484.8" r="3.1"/><circle cx="582.4" cy="1487.4" r="3.1"/><circle cx="595.8" cy="1452.6" r="3.1"/><circle cx="573.6" cy="1487.7" r="3.1"/><circle cx="581.4" cy="1492.9" r="3.1"/><circle cx="585.4" cy="1509.6" r="3.1"/><circle cx="601.2" cy="1484.2" r="3.1"/><circle cx="568.2" cy="1490.3" r="3.1"/><circle cx="607.7" cy="1513.6" r="3.1"/><circle cx="591.5" cy="1513.8" r="3.1"/><circle cx="585.1" cy="1475.3" r="3.1"/><circle cx="600.1" cy="1465.1" r="3.1"/><circle cx="612.1" cy="1495" r="3.1"/><circle cx="614.5" cy="1500.3" r="3.1"/><circle cx="575.4" cy="1489.1" r="3.1"/><circle cx="618" cy="1580.1" r="3.1"/><circle cx="594.6" cy="1497.4" r="3.1"/><circle cx="617.3" cy="1457.4" r="3.1"/><circle cx="575.2" cy="1461.4" r="3.1"/><circle cx="591" cy="1496.6" r="3.1"/><circle cx="592" cy="1488.2" r="3.1"/><circle cx="571.4" cy="1522.6" r="3.1"/><circle cx="585.9" cy="1511.9" r="3.1"/><circle cx="610.1" cy="1482.5" r="3.1"/><circle cx="613.8" cy="1508.7" r="3.1"/><circle cx="605.7" cy="1446.3" r="3.1"/><circle cx="599" cy="1459.3" r="3.1"/><circle cx="586.1" cy="1472.7" r="3.1"/><circle cx="630.6" cy="1476.6" r="3.1"/><circle cx="570" cy="1497.3" r="3.1"/><circle cx="572.5" cy="1482.1" r="3.1"/><circle cx="580.2" cy="1526.9" r="3.1"/><circle cx="597.1" cy="1468.2" r="3.1"/><circle cx="585.7" cy="1467.2" r="3.1"/><circle cx="607.6" cy="1464.7" r="3.1"/><circle cx="565.9" cy="1486.8" r="3.1"/><circle cx="608.7" cy="1446.8" r="3.1"/><circle cx="625.2" cy="1481.2" r="3.1"/><circle cx="609.4" cy="1478.6" r="3.1"/><circle cx="588.5" cy="1495" r="3.1"/><circle cx="583.1" cy="1493.8" r="3.1"/><circle cx="613.2" cy="1519.2" r="3.1"/><circle cx="563.5" cy="1495.4" r="3.1"/><circle cx="579.7" cy="1490.7" r="3.1"/><circle cx="563.9" cy="1487.9" r="3.1"/><circle cx="591.2" cy="1507.7" r="3.1"/><circle cx="626.5" cy="1515.7" r="3.1"/><circle cx="586.1" cy="1503.4" r="3.1"/><circle cx="612.9" cy="1491.8" r="3.1"/><circle cx="574.5" cy="1460.5" r="3.1"/><circle cx="584" cy="1505.8" r="3.1"/><circle cx="583.6" cy="1475.5" r="3.1"/><circle cx="612.5" cy="1491.2" r="3.1"/><circle cx="578.2" cy="1491.5" r="3.1"/><circle cx="581.8" cy="1505.4" r="3.1"/><circle cx="593.9" cy="1435.2" r="3.1"/><circle cx="621.3" cy="1479.1" r="3.1"/><circle cx="594.9" cy="1485.8" r="3.1"/><circle cx="625.4" cy="1467.7" r="3.1"/><circle cx="600.8" cy="1507.2" r="3.1"/><circle cx="589.3" cy="1503.8" r="3.1"/><circle cx="614.2" cy="1478.6" r="3.1"/><circle cx="583.4" cy="1510.3" r="3.1"/><circle cx="577.5" cy="1485.2" r="3.1"/><circle cx="595.7" cy="1451.1" r="3.1"/><circle cx="566.3" cy="1510.3" r="3.1"/><circle cx="572.6" cy="1483.4" r="3.1"/><circle cx="579.4" cy="1466.1" r="3.1"/><circle cx="594.4" cy="1516.5" r="3.1"/><circle cx="612.3" cy="1476.8" r="3.1"/><circle cx="614.2" cy="1482.8" r="3.1"/><circle cx="590.3" cy="1517.9" r="3.1"/><circle cx="597.9" cy="1484.2" r="3.1"/><circle cx="588.3" cy="1467.7" r="3.1"/><circle cx="568.6" cy="1461.1" r="3.1"/><circle cx="601" cy="1488.3" r="3.1"/><circle cx="580.8" cy="1452.2" r="3.1"/><circle cx="607.2" cy="1478.6" r="3.1"/><circle cx="584.1" cy="1482.6" r="3.1"/><circle cx="575.8" cy="1502.1" r="3.1"/><circle cx="599.7" cy="1493.3" r="3.1"/><circle cx="584" cy="1471.9" r="3.1"/><circle cx="570.4" cy="1482.6" r="3.1"/><circle cx="612.2" cy="1455.4" r="3.1"/><circle cx="599.4" cy="1477.2" r="3.1"/><circle cx="599.4" cy="1483.2" r="3.1"/><circle cx="595.2" cy="1431.4" r="3.1"/><circle cx="583.8" cy="1493.4" r="3.1"/><circle cx="543.9" cy="1473.4" r="3.1"/><circle cx="583.8" cy="1450.6" r="3.1"/><circle cx="585.9" cy="1477" r="3.1"/><circle cx="601.2" cy="1464.4" r="3.1"/><circle cx="570.5" cy="1465.5" r="3.1"/><circle cx="602.2" cy="1520.7" r="3.1"/><circle cx="594.3" cy="1447" r="3.1"/><circle cx="619.9" cy="1492.8" r="3.1"/><circle cx="580.9" cy="1482.2" r="3.1"/><circle cx="594" cy="1447" r="3.1"/><circle cx="598.2" cy="1486.4" r="3.1"/><circle cx="604.3" cy="1483.7" r="3.1"/><circle cx="616.8" cy="1470.4" r="3.1"/><circle cx="602.3" cy="1498.4" r="3.1"/><circle cx="568.9" cy="1467.6" r="3.1"/><circle cx="623.3" cy="1481.6" r="3.1"/><circle cx="558.5" cy="1490.9" r="3.1"/><circle cx="605.3" cy="1501.3" r="3.1"/><circle cx="617.4" cy="1470.7" r="3.1"/><circle cx="581.8" cy="1529.8" r="3.1"/><circle cx="593.2" cy="1496.9" r="3.1"/><circle cx="592.7" cy="1500.6" r="3.1"/><circle cx="574.1" cy="1470.8" r="3.1"/><circle cx="600.6" cy="1429.8" r="3.1"/><circle cx="576.9" cy="1470.7" r="3.1"/><circle cx="599.8" cy="1454.9" r="3.1"/><circle cx="604.8" cy="1510.7" r="3.1"/><circle cx="613.5" cy="1455.3" r="3.1"/><circle cx="618.3" cy="1507.6" r="3.1"/><circle cx="601.7" cy="1498.4" r="3.1"/><circle cx="602.8" cy="1489.5" r="3.1"/><circle cx="590.2" cy="1514" r="3.1"/><circle cx="593" cy="1468.9" r="3.1"/><circle cx="609.9" cy="1461.1" r="3.1"/><circle cx="608" cy="1467.3" r="3.1"/><circle cx="602.6" cy="1517" r="3.1"/><circle cx="594" cy="1526.7" r="3.1"/><circle cx="612.6" cy="1493.5" r="3.1"/><circle cx="574.1" cy="1444.6" r="3.1"/><circle cx="584.7" cy="1527.9" r="3.1"/><circle cx="598.1" cy="1508.2" r="3.1"/><circle cx="614.2" cy="1449.7" r="3.1"/><circle cx="572.1" cy="1466.1" r="3.1"/><circle cx="575.1" cy="1463.1" r="3.1"/><circle cx="572.6" cy="1480.7" r="3.1"/><circle cx="607.1" cy="1476.5" r="3.1"/><circle cx="608.4" cy="1479.4" r="3.1"/><circle cx="621.5" cy="1489.3" r="3.1"/><circle cx="634.7" cy="1532.7" r="3.1"/><circle cx="572.8" cy="1489.5" r="3.1"/><circle cx="590.8" cy="1457.4" r="3.1"/><circle cx="584.4" cy="1504.8" r="3.1"/><circle cx="574.7" cy="1466.3" r="3.1"/><circle cx="594.9" cy="1487" r="3.1"/><circle cx="584.4" cy="1497.9" r="3.1"/><circle cx="596.7" cy="1460.1" r="3.1"/><circle cx="587.8" cy="1488.1" r="3.1"/><circle cx="568.3" cy="1515.4" r="3.1"/><circle cx="604.7" cy="1515.3" r="3.1"/><circle cx="604.2" cy="1458.8" r="3.1"/><circle cx="586.3" cy="1476" r="3.1"/><circle cx="555.6" cy="1505.4" r="3.1"/><circle cx="552.8" cy="1470.5" r="3.1"/><circle cx="569.5" cy="1487" r="3.1"/><circle cx="600.7" cy="1447" r="3.1"/><circle cx="605.9" cy="1501" r="3.1"/><circle cx="595.3" cy="1512.8" r="3.1"/><circle cx="595.3" cy="1514" r="3.1"/><circle cx="548.8" cy="1504.9" r="3.1"/><circle cx="600.4" cy="1498.5" r="3.1"/><circle cx="581.7" cy="1500.6" r="3.1"/><circle cx="589" cy="1496.3" r="3.1"/><circle cx="576.7" cy="1507.5" r="3.1"/><circle cx="558.3" cy="1464.8" r="3.1"/><circle cx="607.4" cy="1457" r="3.1"/><circle cx="600.6" cy="1508.3" r="3.1"/><circle cx="574.9" cy="1450.5" r="3.1"/><circle cx="566.3" cy="1459.4" r="3.1"/><circle cx="582.6" cy="1454.4" r="3.1"/><circle cx="609.3" cy="1496.4" r="3.1"/><circle cx="603.5" cy="1506.8" r="3.1"/><circle cx="594.7" cy="1454.1" r="3.1"/><circle cx="610" cy="1533.7" r="3.1"/><circle cx="599.8" cy="1491.2" r="3.1"/><circle cx="576.9" cy="1495.2" r="3.1"/><circle cx="605.3" cy="1496.7" r="3.1"/><circle cx="592.7" cy="1502.4" r="3.1"/><circle cx="579" cy="1488.4" r="3.1"/><circle cx="614" cy="1489.1" r="3.1"/><circle cx="601.4" cy="1478.6" r="3.1"/><circle cx="568.1" cy="1505.8" r="3.1"/><circle cx="607.4" cy="1486.1" r="3.1"/><circle cx="597.3" cy="1472.1" r="3.1"/><circle cx="587.3" cy="1481.9" r="3.1"/><circle cx="585.6" cy="1506.7" r="3.1"/><circle cx="575.5" cy="1497.8" r="3.1"/><circle cx="567.7" cy="1471.9" r="3.1"/><circle cx="598.7" cy="1489.1" r="3.1"/><circle cx="602.1" cy="1489.2" r="3.1"/><circle cx="587.8" cy="1487" r="3.1"/><circle cx="598.3" cy="1466" r="3.1"/><circle cx="587" cy="1473.7" r="3.1"/><circle cx="587.5" cy="1406.8" r="3.1"/><circle cx="602.8" cy="1449.8" r="3.1"/><circle cx="602.5" cy="1468.3" r="3.1"/><circle cx="619" cy="1464.1" r="3.1"/><circle cx="585.5" cy="1495.6" r="3.1"/><circle cx="600" cy="1481.3" r="3.1"/><circle cx="590.8" cy="1465.3" r="3.1"/><circle cx="597.7" cy="1451.1" r="3.1"/><circle cx="616" cy="1484.4" r="3.1"/><circle cx="600.9" cy="1494.5" r="3.1"/><circle cx="580" cy="1477.5" r="3.1"/><circle cx="585.6" cy="1490.5" r="3.1"/><circle cx="583.3" cy="1491.4" r="3.1"/><circle cx="589.2" cy="1472" r="3.1"/><circle cx="582" cy="1453.6" r="3.1"/><circle cx="585" cy="1496.4" r="3.1"/><circle cx="590.8" cy="1443.4" r="3.1"/><circle cx="599.5" cy="1483.7" r="3.1"/><circle cx="578.7" cy="1516.9" r="3.1"/><circle cx="595" cy="1471.9" r="3.1"/><circle cx="594.5" cy="1477.9" r="3.1"/><circle cx="608.7" cy="1471" r="3.1"/><circle cx="598.3" cy="1518.6" r="3.1"/><circle cx="602.9" cy="1468.8" r="3.1"/><circle cx="598.6" cy="1462.1" r="3.1"/><circle cx="613.9" cy="1507.9" r="3.1"/><circle cx="591.5" cy="1505.8" r="3.1"/><circle cx="567.5" cy="1462.1" r="3.1"/><circle cx="599.9" cy="1432.8" r="3.1"/><circle cx="576.4" cy="1445.8" r="3.1"/><circle cx="554.6" cy="1513.8" r="3.1"/><circle cx="602" cy="1444.5" r="3.1"/><circle cx="592.9" cy="1508.5" r="3.1"/><circle cx="596.9" cy="1485.6" r="3.1"/><circle cx="601.5" cy="1489.1" r="3.1"/><circle cx="590.3" cy="1453.3" r="3.1"/><circle cx="612.3" cy="1455.4" r="3.1"/><circle cx="594.5" cy="1484" r="3.1"/><circle cx="588" cy="1472.8" r="3.1"/><circle cx="593.9" cy="1502.9" r="3.1"/><circle cx="557.7" cy="1479.3" r="3.1"/><circle cx="602.2" cy="1449.6" r="3.1"/><circle cx="567.6" cy="1478.7" r="3.1"/><circle cx="600.2" cy="1494.4" r="3.1"/><circle cx="590.9" cy="1453.1" r="3.1"/><circle cx="594.6" cy="1490.7" r="3.1"/><circle cx="579.1" cy="1477.9" r="3.1"/><circle cx="622.4" cy="1474.8" r="3.1"/><circle cx="557.7" cy="1476.9" r="3.1"/><circle cx="590.9" cy="1494" r="3.1"/><circle cx="577.6" cy="1484" r="3.1"/><circle cx="565.5" cy="1489.6" r="3.1"/><circle cx="618.3" cy="1486.6" r="3.1"/><circle cx="596.5" cy="1532.5" r="3.1"/><circle cx="635.6" cy="1492.1" r="3.1"/><circle cx="606.8" cy="1490.7" r="3.1"/><circle cx="602" cy="1453.2" r="3.1"/><circle cx="603.2" cy="1456.8" r="3.1"/><circle cx="571" cy="1519.1" r="3.1"/><circle cx="570.5" cy="1510.5" r="3.1"/><circle cx="618.3" cy="1468.7" r="3.1"/><circle cx="607.6" cy="1480.9" r="3.1"/><circle cx="580.6" cy="1498.2" r="3.1"/><circle cx="595.4" cy="1504" r="3.1"/><circle cx="596.4" cy="1494.1" r="3.1"/><circle cx="614.8" cy="1495.1" r="3.1"/><circle cx="599.6" cy="1511.4" r="3.1"/><circle cx="581.6" cy="1472.7" r="3.1"/><circle cx="607.8" cy="1449.8" r="3.1"/><circle cx="584.4" cy="1486.3" r="3.1"/><circle cx="603.8" cy="1477.2" r="3.1"/><circle cx="583.7" cy="1528.7" r="3.1"/><circle cx="539.2" cy="1506.5" r="3.1"/><circle cx="622" cy="1521.1" r="3.1"/><circle cx="577.7" cy="1469.5" r="3.1"/><circle cx="611.3" cy="1460.9" r="3.1"/><circle cx="604.9" cy="1507.8" r="3.1"/><circle cx="584.8" cy="1495.3" r="3.1"/><circle cx="573.8" cy="1505.7" r="3.1"/><circle cx="627.5" cy="1493" r="3.1"/><circle cx="598.2" cy="1515.7" r="3.1"/><circle cx="616.5" cy="1465.3" r="3.1"/><circle cx="600.1" cy="1501.6" r="3.1"/><circle cx="610.7" cy="1508.6" r="3.1"/><circle cx="598.3" cy="1507.2" r="3.1"/><circle cx="571.9" cy="1491.4" r="3.1"/><circle cx="580.9" cy="1456" r="3.1"/><circle cx="601" cy="1477.5" r="3.1"/><circle cx="573.6" cy="1480.5" r="3.1"/><circle cx="588.4" cy="1498.2" r="3.1"/><circle cx="592.6" cy="1503.4" r="3.1"/><circle cx="613.6" cy="1477.1" r="3.1"/><circle cx="622.6" cy="1463.6" r="3.1"/><circle cx="558.5" cy="1457.7" r="3.1"/><circle cx="601.7" cy="1483.2" r="3.1"/><circle cx="625.8" cy="1510.5" r="3.1"/><circle cx="570.7" cy="1497.4" r="3.1"/><circle cx="575.6" cy="1484.1" r="3.1"/><circle cx="614.9" cy="1476.2" r="3.1"/><circle cx="597.4" cy="1480.6" r="3.1"/><circle cx="584.8" cy="1460.1" r="3.1"/><circle cx="598" cy="1470" r="3.1"/><circle cx="607.1" cy="1467.4" r="3.1"/><circle cx="596.2" cy="1456.5" r="3.1"/><circle cx="601.3" cy="1476.4" r="3.1"/><circle cx="598.4" cy="1455.2" r="3.1"/><circle cx="601.8" cy="1489.8" r="3.1"/><circle cx="598.6" cy="1492.9" r="3.1"/><circle cx="602.4" cy="1445.6" r="3.1"/><circle cx="592.4" cy="1483.2" r="3.1"/><circle cx="614.6" cy="1433.6" r="3.1"/><circle cx="590.1" cy="1527.2" r="3.1"/><circle cx="586.6" cy="1475.5" r="3.1"/><circle cx="570.5" cy="1470.3" r="3.1"/><circle cx="582.6" cy="1430.2" r="3.1"/><circle cx="598.2" cy="1458.7" r="3.1"/><circle cx="592.4" cy="1491.7" r="3.1"/><circle cx="605.9" cy="1475.9" r="3.1"/><circle cx="575.3" cy="1499.1" r="3.1"/><circle cx="584.5" cy="1496.8" r="3.1"/><circle cx="561.1" cy="1469.5" r="3.1"/><circle cx="590.8" cy="1475.8" r="3.1"/><circle cx="612.1" cy="1440.5" r="3.1"/><circle cx="603.6" cy="1543.3" r="3.1"/><circle cx="588.4" cy="1485.6" r="3.1"/><circle cx="603.7" cy="1465" r="3.1"/><circle cx="600.1" cy="1451.6" r="3.1"/><circle cx="579.8" cy="1477.8" r="3.1"/><circle cx="577.6" cy="1480.5" r="3.1"/><circle cx="579.1" cy="1469.3" r="3.1"/><circle cx="602.9" cy="1415.7" r="3.1"/><circle cx="605.2" cy="1463.7" r="3.1"/><circle cx="602.1" cy="1504.7" r="3.1"/><circle cx="590.6" cy="1499.7" r="3.1"/><circle cx="628" cy="1472.9" r="3.1"/><circle cx="591.6" cy="1500.1" r="3.1"/><circle cx="603.6" cy="1463.7" r="3.1"/><circle cx="598.3" cy="1478" r="3.1"/><circle cx="613.2" cy="1484.7" r="3.1"/><circle cx="566" cy="1476.2" r="3.1"/><circle cx="604.2" cy="1513" r="3.1"/><circle cx="591.8" cy="1498.8" r="3.1"/><circle cx="593.6" cy="1488.4" r="3.1"/><circle cx="577" cy="1482.1" r="3.1"/><circle cx="582.5" cy="1480" r="3.1"/><circle cx="616.2" cy="1479.7" r="3.1"/><circle cx="610.3" cy="1434.4" r="3.1"/><circle cx="570.3" cy="1519.1" r="3.1"/><circle cx="599.4" cy="1453.3" r="3.1"/><circle cx="586.7" cy="1470.2" r="3.1"/><circle cx="613.8" cy="1499" r="3.1"/><circle cx="603" cy="1479.2" r="3.1"/><circle cx="608.4" cy="1495.5" r="3.1"/><circle cx="594.1" cy="1488.3" r="3.1"/><circle cx="595.9" cy="1474.9" r="3.1"/><circle cx="583.8" cy="1470.4" r="3.1"/><circle cx="569" cy="1477.4" r="3.1"/><circle cx="585.2" cy="1459.3" r="3.1"/><circle cx="616.4" cy="1512.7" r="3.1"/><circle cx="618.4" cy="1453.1" r="3.1"/><circle cx="579.8" cy="1477.6" r="3.1"/><circle cx="580.2" cy="1504.5" r="3.1"/><circle cx="581.9" cy="1455.2" r="3.1"/><circle cx="581.3" cy="1477.7" r="3.1"/><circle cx="574.4" cy="1488.5" r="3.1"/><circle cx="582.7" cy="1485.3" r="3.1"/><circle cx="606" cy="1493.9" r="3.1"/><circle cx="607.3" cy="1516.7" r="3.1"/><circle cx="624" cy="1481.7" r="3.1"/><circle cx="591.7" cy="1474.5" r="3.1"/><circle cx="557.1" cy="1495.6" r="3.1"/><circle cx="584.6" cy="1486.5" r="3.1"/><circle cx="575.8" cy="1540.6" r="3.1"/><circle cx="588.3" cy="1458.3" r="3.1"/><circle cx="581.4" cy="1499.4" r="3.1"/><circle cx="611" cy="1508.9" r="3.1"/><circle cx="579.6" cy="1468" r="3.1"/><circle cx="594.2" cy="1457.5" r="3.1"/><circle cx="625.3" cy="1474.9" r="3.1"/><circle cx="593.8" cy="1463.2" r="3.1"/><circle cx="565.3" cy="1482.3" r="3.1"/><circle cx="609.6" cy="1493.1" r="3.1"/><circle cx="602.1" cy="1449" r="3.1"/><circle cx="603.5" cy="1537.4" r="3.1"/><circle cx="606" cy="1510.9" r="3.1"/><circle cx="577.6" cy="1487.2" r="3.1"/><circle cx="576.8" cy="1463.3" r="3.1"/><circle cx="596.6" cy="1474.7" r="3.1"/><circle cx="564.6" cy="1486.7" r="3.1"/><circle cx="579.5" cy="1486.1" r="3.1"/><circle cx="614" cy="1467.1" r="3.1"/><circle cx="572" cy="1489.5" r="3.1"/><circle cx="600" cy="1478.7" r="3.1"/><circle cx="612.3" cy="1476.4" r="3.1"/><circle cx="592.9" cy="1508.5" r="3.1"/><circle cx="586.2" cy="1501.5" r="3.1"/><circle cx="616.6" cy="1492" r="3.1"/><circle cx="570.2" cy="1476.2" r="3.1"/><circle cx="622.7" cy="1458" r="3.1"/><circle cx="578.5" cy="1500" r="3.1"/><circle cx="594.5" cy="1525.2" r="3.1"/><circle cx="574.9" cy="1457.8" r="3.1"/><circle cx="575.3" cy="1514.5" r="3.1"/><circle cx="611.1" cy="1459.3" r="3.1"/><circle cx="595.2" cy="1500.3" r="3.1"/><circle cx="602.9" cy="1498.7" r="3.1"/><circle cx="571.4" cy="1485.7" r="3.1"/><circle cx="587.8" cy="1504.2" r="3.1"/><circle cx="572.5" cy="1463.6" r="3.1"/><circle cx="593.4" cy="1468.3" r="3.1"/><circle cx="601.9" cy="1540" r="3.1"/><circle cx="602.6" cy="1485.1" r="3.1"/><circle cx="602.8" cy="1516.7" r="3.1"/><circle cx="588" cy="1482.1" r="3.1"/><circle cx="600.9" cy="1535.5" r="3.1"/><circle cx="558.3" cy="1489.4" r="3.1"/><circle cx="585.9" cy="1398.7" r="3.1"/><circle cx="582" cy="1553.4" r="3.1"/><circle cx="597.7" cy="1467.4" r="3.1"/><circle cx="583.3" cy="1496.6" r="3.1"/><circle cx="554.8" cy="1444.4" r="3.1"/><circle cx="604.1" cy="1482.7" r="3.1"/><circle cx="595.4" cy="1471.4" r="3.1"/><circle cx="523.6" cy="1496.9" r="3.1"/><circle cx="571.7" cy="1490.8" r="3.1"/><circle cx="552.7" cy="1444" r="3.1"/><circle cx="578.5" cy="1424.3" r="3.1"/><circle cx="500.6" cy="1437" r="3.1"/><circle cx="564.8" cy="1498.9" r="3.1"/><circle cx="645.8" cy="1497.9" r="3.1"/><circle cx="537.9" cy="1480.3" r="3.1"/><circle cx="583.9" cy="1472.3" r="3.1"/><circle cx="644.4" cy="1513.9" r="3.1"/><circle cx="597.1" cy="1498.8" r="3.1"/><circle cx="617" cy="1498.7" r="3.1"/><circle cx="578.3" cy="1498.2" r="3.1"/><circle cx="539" cy="1506.7" r="3.1"/><circle cx="551.2" cy="1465.5" r="3.1"/><circle cx="599.9" cy="1517.8" r="3.1"/><circle cx="555.7" cy="1516.6" r="3.1"/><circle cx="576.9" cy="1446.6" r="3.1"/><circle cx="559.2" cy="1493.9" r="3.1"/><circle cx="525.1" cy="1504.3" r="3.1"/><circle cx="492.5" cy="1491.8" r="3.1"/><circle cx="610.1" cy="1468.9" r="3.1"/><circle cx="537" cy="1461.5" r="3.1"/><circle cx="545.3" cy="1427.3" r="3.1"/><circle cx="584.4" cy="1469.7" r="3.1"/><circle cx="577.3" cy="1537.4" r="3.1"/><circle cx="570.3" cy="1484.3" r="3.1"/><circle cx="596.6" cy="1526.3" r="3.1"/><circle cx="600.4" cy="1479" r="3.1"/><circle cx="572.2" cy="1480.2" r="3.1"/><circle cx="554.7" cy="1520.6" r="3.1"/><circle cx="614.1" cy="1434.7" r="3.1"/><circle cx="581.5" cy="1461.2" r="3.1"/><circle cx="566.6" cy="1436.3" r="3.1"/><circle cx="574.4" cy="1517.1" r="3.1"/><circle cx="622.3" cy="1444.9" r="3.1"/><circle cx="654.5" cy="1466.8" r="3.1"/><circle cx="577.7" cy="1444.9" r="3.1"/><circle cx="572.2" cy="1453.7" r="3.1"/><circle cx="604.5" cy="1485.8" r="3.1"/><circle cx="602.5" cy="1505.4" r="3.1"/><circle cx="618" cy="1463.5" r="3.1"/><circle cx="584.8" cy="1467.3" r="3.1"/><circle cx="557.5" cy="1517.3" r="3.1"/><circle cx="623.4" cy="1522.7" r="3.1"/><circle cx="559.1" cy="1392.7" r="3.1"/><circle cx="565" cy="1489.4" r="3.1"/><circle cx="558.7" cy="1522.4" r="3.1"/><circle cx="591.5" cy="1518.6" r="3.1"/><circle cx="537.1" cy="1507.6" r="3.1"/><circle cx="557.8" cy="1471.8" r="3.1"/><circle cx="642.7" cy="1512.6" r="3.1"/><circle cx="615.4" cy="1463.2" r="3.1"/><circle cx="613.8" cy="1499" r="3.1"/><circle cx="616.3" cy="1529.8" r="3.1"/><circle cx="649" cy="1438.5" r="3.1"/><circle cx="561.6" cy="1453.5" r="3.1"/><circle cx="586.7" cy="1470.1" r="3.1"/><circle cx="614.4" cy="1440.4" r="3.1"/><circle cx="573.8" cy="1488.5" r="3.1"/><circle cx="597.3" cy="1467.6" r="3.1"/><circle cx="567.9" cy="1528.4" r="3.1"/><circle cx="595.4" cy="1528.5" r="3.1"/><circle cx="601" cy="1452.1" r="3.1"/><circle cx="612.9" cy="1505.4" r="3.1"/><circle cx="610" cy="1465.6" r="3.1"/><circle cx="602.4" cy="1445.3" r="3.1"/><circle cx="513.1" cy="1492.2" r="3.1"/><circle cx="592.9" cy="1512.5" r="3.1"/><circle cx="582.1" cy="1485.5" r="3.1"/><circle cx="583.3" cy="1462.8" r="3.1"/><circle cx="556.5" cy="1438.2" r="3.1"/><circle cx="608.3" cy="1453.5" r="3.1"/><circle cx="590.7" cy="1514.5" r="3.1"/><circle cx="572.1" cy="1438.3" r="3.1"/><circle cx="588.3" cy="1520.2" r="3.1"/><circle cx="603" cy="1489.5" r="3.1"/><circle cx="553.6" cy="1495.9" r="3.1"/><circle cx="615" cy="1507.1" r="3.1"/><circle cx="592.8" cy="1549.1" r="3.1"/><circle cx="608.4" cy="1538.1" r="3.1"/><circle cx="569.6" cy="1482.1" r="3.1"/><circle cx="572.2" cy="1498.7" r="3.1"/><circle cx="552.5" cy="1441.1" r="3.1"/><circle cx="563.8" cy="1487.3" r="3.1"/><circle cx="594.8" cy="1500.7" r="3.1"/><circle cx="586" cy="1472.3" r="3.1"/><circle cx="593.6" cy="1523.2" r="3.1"/><circle cx="538.1" cy="1443.5" r="3.1"/><circle cx="581.6" cy="1473.6" r="3.1"/><circle cx="625.8" cy="1421.5" r="3.1"/><circle cx="577.1" cy="1516.3" r="3.1"/><circle cx="598.6" cy="1534.7" r="3.1"/><circle cx="567.8" cy="1533.9" r="3.1"/><circle cx="615.4" cy="1460.4" r="3.1"/><circle cx="583.1" cy="1488.7" r="3.1"/><circle cx="596.8" cy="1456.7" r="3.1"/><circle cx="590.1" cy="1511.6" r="3.1"/><circle cx="657" cy="1523" r="3.1"/><circle cx="571.2" cy="1502.7" r="3.1"/><circle cx="642.6" cy="1490.1" r="3.1"/><circle cx="540.7" cy="1465.1" r="3.1"/><circle cx="592" cy="1407" r="3.1"/><circle cx="611.7" cy="1450.8" r="3.1"/><circle cx="572.8" cy="1438.4" r="3.1"/><circle cx="618.7" cy="1496.1" r="3.1"/><circle cx="634.7" cy="1507.5" r="3.1"/><circle cx="582.7" cy="1517.9" r="3.1"/><circle cx="585.6" cy="1492.4" r="3.1"/><circle cx="572" cy="1513" r="3.1"/><circle cx="535.9" cy="1435.2" r="3.1"/><circle cx="569.2" cy="1465.7" r="3.1"/><circle cx="596.1" cy="1531.8" r="3.1"/><circle cx="607.6" cy="1501.4" r="3.1"/><circle cx="580.4" cy="1425.4" r="3.1"/><circle cx="566.5" cy="1473.2" r="3.1"/><circle cx="577" cy="1453.1" r="3.1"/><circle cx="572.4" cy="1469.4" r="3.1"/><circle cx="615.7" cy="1487" r="3.1"/><circle cx="595.4" cy="1571.6" r="3.1"/><circle cx="512.1" cy="1488.2" r="3.1"/><circle cx="582.1" cy="1540.1" r="3.1"/><circle cx="607" cy="1457.7" r="3.1"/><circle cx="508.5" cy="1474.2" r="3.1"/><circle cx="598.7" cy="1475.8" r="3.1"/><circle cx="580.2" cy="1434.7" r="3.1"/><circle cx="619.2" cy="1462.8" r="3.1"/><circle cx="566.4" cy="1509.6" r="3.1"/><circle cx="573.3" cy="1456.1" r="3.1"/><circle cx="571.4" cy="1489" r="3.1"/><circle cx="588.8" cy="1410.8" r="3.1"/><circle cx="619.3" cy="1503" r="3.1"/><circle cx="594.9" cy="1471.9" r="3.1"/><circle cx="619.4" cy="1495.1" r="3.1"/><circle cx="577.2" cy="1480.6" r="3.1"/><circle cx="585.2" cy="1467.8" r="3.1"/><circle cx="595.4" cy="1457.9" r="3.1"/><circle cx="607.6" cy="1519.7" r="3.1"/><circle cx="605.1" cy="1498.8" r="3.1"/><circle cx="637.8" cy="1458.8" r="3.1"/><circle cx="560.4" cy="1474.5" r="3.1"/><circle cx="576.8" cy="1479.8" r="3.1"/><circle cx="597.4" cy="1520.2" r="3.1"/><circle cx="629.3" cy="1451.6" r="3.1"/><circle cx="596.2" cy="1526.6" r="3.1"/><circle cx="559.4" cy="1438.8" r="3.1"/><circle cx="616.3" cy="1532.4" r="3.1"/><circle cx="567.5" cy="1425.7" r="3.1"/><circle cx="576.9" cy="1488.7" r="3.1"/><circle cx="626.3" cy="1502.1" r="3.1"/><circle cx="620.1" cy="1445.2" r="3.1"/><circle cx="542.1" cy="1500.3" r="3.1"/><circle cx="639.8" cy="1464.3" r="3.1"/><circle cx="595.9" cy="1469.7" r="3.1"/><circle cx="601" cy="1487.3" r="3.1"/><circle cx="481.2" cy="1501.5" r="3.1"/><circle cx="560.7" cy="1481.1" r="3.1"/><circle cx="578.9" cy="1516.9" r="3.1"/><circle cx="559.8" cy="1478.7" r="3.1"/><circle cx="562.9" cy="1450.7" r="3.1"/><circle cx="583" cy="1502.3" r="3.1"/><circle cx="592.5" cy="1472.9" r="3.1"/><circle cx="595.9" cy="1480.1" r="3.1"/><circle cx="541.2" cy="1514.2" r="3.1"/><circle cx="582.7" cy="1471.3" r="3.1"/><circle cx="567.3" cy="1367.1" r="3.1"/><circle cx="592.2" cy="1506.9" r="3.1"/><circle cx="561.5" cy="1425.2" r="3.1"/><circle cx="577.8" cy="1419.4" r="3.1"/><circle cx="528.2" cy="1445.7" r="3.1"/><circle cx="582.8" cy="1473.6" r="3.1"/><circle cx="618" cy="1478.8" r="3.1"/><circle cx="619.9" cy="1479.7" r="3.1"/><circle cx="652.3" cy="1460" r="3.1"/><circle cx="568.8" cy="1506.7" r="3.1"/><circle cx="546.9" cy="1486.5" r="3.1"/><circle cx="583.1" cy="1529.1" r="3.1"/><circle cx="592.4" cy="1471.8" r="3.1"/><circle cx="581.5" cy="1545.9" r="3.1"/><circle cx="623.8" cy="1461.4" r="3.1"/><circle cx="572.3" cy="1505.6" r="3.1"/><circle cx="590.8" cy="1489.1" r="3.1"/><circle cx="617.6" cy="1399.3" r="3.1"/><circle cx="592.8" cy="1507.5" r="3.1"/><circle cx="629.7" cy="1506.4" r="3.1"/><circle cx="647" cy="1463.9" r="3.1"/><circle cx="601.2" cy="1475.9" r="3.1"/><circle cx="553.8" cy="1447.9" r="3.1"/><circle cx="634.2" cy="1460.9" r="3.1"/><circle cx="557.3" cy="1459.2" r="3.1"/><circle cx="578.5" cy="1431.4" r="3.1"/><circle cx="540.4" cy="1493.9" r="3.1"/><circle cx="559.7" cy="1484.1" r="3.1"/><circle cx="547.6" cy="1453.9" r="3.1"/><circle cx="583.9" cy="1472.1" r="3.1"/><circle cx="536.7" cy="1505.4" r="3.1"/><circle cx="553.5" cy="1558.4" r="3.1"/><circle cx="574" cy="1460.5" r="3.1"/><circle cx="630" cy="1476.9" r="3.1"/><circle cx="571.7" cy="1507.5" r="3.1"/><circle cx="538.2" cy="1471.7" r="3.1"/><circle cx="554.3" cy="1437.6" r="3.1"/><circle cx="543.4" cy="1463.2" r="3.1"/><circle cx="537.1" cy="1494.2" r="3.1"/><circle cx="591.4" cy="1486.3" r="3.1"/><circle cx="591.9" cy="1502.9" r="3.1"/><circle cx="606.2" cy="1491.7" r="3.1"/><circle cx="534.3" cy="1467" r="3.1"/><circle cx="580.5" cy="1473.5" r="3.1"/><circle cx="570.7" cy="1462.2" r="3.1"/><circle cx="632.7" cy="1468.3" r="3.1"/><circle cx="622.4" cy="1450.5" r="3.1"/><circle cx="521.6" cy="1437" r="3.1"/><circle cx="616.3" cy="1469.8" r="3.1"/><circle cx="569.8" cy="1455.5" r="3.1"/><circle cx="579" cy="1455.5" r="3.1"/><circle cx="569.5" cy="1458.8" r="3.1"/><circle cx="525.7" cy="1481.5" r="3.1"/><circle cx="574.9" cy="1481.1" r="3.1"/><circle cx="545.8" cy="1487.8" r="3.1"/><circle cx="590.2" cy="1440.3" r="3.1"/><circle cx="566.1" cy="1465.1" r="3.1"/><circle cx="589.6" cy="1466.1" r="3.1"/><circle cx="549" cy="1497.7" r="3.1"/><circle cx="538.1" cy="1465.7" r="3.1"/><circle cx="607.4" cy="1448.2" r="3.1"/><circle cx="528.8" cy="1521.2" r="3.1"/><circle cx="614.9" cy="1468.7" r="3.1"/><circle cx="609.9" cy="1425.6" r="3.1"/><circle cx="577.9" cy="1512.6" r="3.1"/><circle cx="587.9" cy="1492.9" r="3.1"/><circle cx="553.8" cy="1448.7" r="3.1"/><circle cx="585.8" cy="1406.9" r="3.1"/><circle cx="520.2" cy="1483.7" r="3.1"/><circle cx="593.5" cy="1449.8" r="3.1"/><circle cx="569.4" cy="1531.8" r="3.1"/><circle cx="578.7" cy="1522.5" r="3.1"/><circle cx="525.3" cy="1482.5" r="3.1"/><circle cx="609.3" cy="1465.6" r="3.1"/><circle cx="638.8" cy="1501.2" r="3.1"/><circle cx="580.3" cy="1437.5" r="3.1"/><circle cx="578.2" cy="1476.9" r="3.1"/><circle cx="642.9" cy="1542.8" r="3.1"/><circle cx="590.8" cy="1460" r="3.1"/><circle cx="569.9" cy="1462.5" r="3.1"/><circle cx="513.6" cy="1461" r="3.1"/><circle cx="623.5" cy="1532.7" r="3.1"/><circle cx="568.2" cy="1512.9" r="3.1"/><circle cx="605.4" cy="1472.3" r="3.1"/><circle cx="615.6" cy="1497.5" r="3.1"/><circle cx="596.4" cy="1422.7" r="3.1"/><circle cx="593.3" cy="1514.7" r="3.1"/><circle cx="568.4" cy="1516.9" r="3.1"/><circle cx="591" cy="1437.8" r="3.1"/><circle cx="589.1" cy="1399.5" r="3.1"/><circle cx="592.2" cy="1416.8" r="3.1"/><circle cx="538.7" cy="1516.8" r="3.1"/><circle cx="547.4" cy="1457.6" r="3.1"/><circle cx="555" cy="1535.2" r="3.1"/><circle cx="620.7" cy="1427.1" r="3.1"/><circle cx="591" cy="1507.3" r="3.1"/><circle cx="522.9" cy="1483.1" r="3.1"/><circle cx="617" cy="1516.7" r="3.1"/><circle cx="624.3" cy="1424.4" r="3.1"/><circle cx="586.3" cy="1536.1" r="3.1"/><circle cx="651.2" cy="1464.6" r="3.1"/><circle cx="607.1" cy="1463.3" r="3.1"/><circle cx="616.8" cy="1459.9" r="3.1"/><circle cx="636.8" cy="1499.9" r="3.1"/><circle cx="602.1" cy="1506.5" r="3.1"/><circle cx="564.8" cy="1481.6" r="3.1"/><circle cx="557.2" cy="1479.2" r="3.1"/><circle cx="553.7" cy="1471.9" r="3.1"/><circle cx="579.2" cy="1483" r="3.1"/><circle cx="577.2" cy="1496.3" r="3.1"/><circle cx="561.8" cy="1505.6" r="3.1"/><circle cx="644.6" cy="1477.8" r="3.1"/><circle cx="607" cy="1458.4" r="3.1"/><circle cx="607.5" cy="1514.7" r="3.1"/><circle cx="586.2" cy="1483.6" r="3.1"/><circle cx="601.2" cy="1451.7" r="3.1"/><circle cx="588.5" cy="1492.7" r="3.1"/><circle cx="569.6" cy="1473.2" r="3.1"/><circle cx="589.4" cy="1492" r="3.1"/><circle cx="533" cy="1489.2" r="3.1"/><circle cx="576.7" cy="1480.1" r="3.1"/><circle cx="588.1" cy="1520.8" r="3.1"/><circle cx="587.7" cy="1500.7" r="3.1"/><circle cx="568.6" cy="1530.7" r="3.1"/><circle cx="577.8" cy="1496.6" r="3.1"/><circle cx="606.7" cy="1447.2" r="3.1"/><circle cx="563.7" cy="1482.4" r="3.1"/><circle cx="559.7" cy="1423.4" r="3.1"/><circle cx="636.1" cy="1463.5" r="3.1"/><circle cx="568.8" cy="1524.4" r="3.1"/><circle cx="575.6" cy="1454.1" r="3.1"/><circle cx="576.2" cy="1474.9" r="3.1"/><circle cx="606.8" cy="1461.7" r="3.1"/><circle cx="581.1" cy="1463.6" r="3.1"/><circle cx="549.5" cy="1493.8" r="3.1"/><circle cx="546.7" cy="1500" r="3.1"/><circle cx="535.8" cy="1490.2" r="3.1"/><circle cx="592.8" cy="1491.2" r="3.1"/><circle cx="570" cy="1441.2" r="3.1"/><circle cx="604.9" cy="1463.2" r="3.1"/><circle cx="599.7" cy="1476.4" r="3.1"/><circle cx="563" cy="1507.3" r="3.1"/><circle cx="607.9" cy="1430" r="3.1"/><circle cx="577" cy="1450.3" r="3.1"/><circle cx="624.9" cy="1426.6" r="3.1"/><circle cx="603.8" cy="1490" r="3.1"/><circle cx="599.8" cy="1395.6" r="3.1"/><circle cx="630.4" cy="1452" r="3.1"/><circle cx="580.5" cy="1448.7" r="3.1"/><circle cx="558.9" cy="1447.1" r="3.1"/><circle cx="590.7" cy="1468.9" r="3.1"/><circle cx="569.8" cy="1522.1" r="3.1"/><circle cx="570.4" cy="1434.9" r="3.1"/><circle cx="568.3" cy="1437.9" r="3.1"/><circle cx="558.3" cy="1502.2" r="3.1"/><circle cx="641.8" cy="1491.5" r="3.1"/><circle cx="534.4" cy="1435.1" r="3.1"/><circle cx="569.7" cy="1477.9" r="3.1"/><circle cx="573.6" cy="1490.9" r="3.1"/><circle cx="568" cy="1506.2" r="3.1"/><circle cx="578.2" cy="1545.4" r="3.1"/><circle cx="610.1" cy="1491.4" r="3.1"/><circle cx="536.6" cy="1478" r="3.1"/><circle cx="566" cy="1485.2" r="3.1"/><circle cx="600.5" cy="1459.6" r="3.1"/><circle cx="605.2" cy="1520.3" r="3.1"/><circle cx="622" cy="1429.9" r="3.1"/><circle cx="568.2" cy="1439" r="3.1"/><circle cx="518.4" cy="1521.1" r="3.1"/><circle cx="590.6" cy="1546.4" r="3.1"/><circle cx="630.9" cy="1493.8" r="3.1"/><circle cx="585.1" cy="1493.2" r="3.1"/><circle cx="603.5" cy="1431.4" r="3.1"/><circle cx="568.9" cy="1495.6" r="3.1"/><circle cx="562.8" cy="1484.8" r="3.1"/><circle cx="597.7" cy="1527.3" r="3.1"/><circle cx="525.9" cy="1515.7" r="3.1"/><circle cx="595.9" cy="1449.3" r="3.1"/><circle cx="588.1" cy="1548.6" r="3.1"/><circle cx="610.1" cy="1497" r="3.1"/><circle cx="568" cy="1502.9" r="3.1"/><circle cx="614.6" cy="1432.9" r="3.1"/><circle cx="603.1" cy="1378.7" r="3.1"/><circle cx="604.7" cy="1453.7" r="3.1"/><circle cx="548.9" cy="1549.4" r="3.1"/><circle cx="546.5" cy="1466.6" r="3.1"/><circle cx="532.2" cy="1436.1" r="3.1"/><circle cx="583.4" cy="1502.4" r="3.1"/><circle cx="551.9" cy="1444.9" r="3.1"/><circle cx="600.6" cy="1458.4" r="3.1"/><circle cx="567.8" cy="1482.6" r="3.1"/><circle cx="543.2" cy="1558.6" r="3.1"/><circle cx="567.3" cy="1516" r="3.1"/><circle cx="594.5" cy="1432.4" r="3.1"/><circle cx="572.5" cy="1430.8" r="3.1"/><circle cx="577.8" cy="1510.1" r="3.1"/><circle cx="588.5" cy="1456.2" r="3.1"/><circle cx="571.8" cy="1532.6" r="3.1"/><circle cx="561.1" cy="1490.3" r="3.1"/><circle cx="586.3" cy="1429.4" r="3.1"/><circle cx="524.3" cy="1452.2" r="3.1"/><circle cx="565.1" cy="1482.6" r="3.1"/><circle cx="553.8" cy="1481.2" r="3.1"/><circle cx="578.7" cy="1395.5" r="3.1"/><circle cx="591.7" cy="1468.8" r="3.1"/><circle cx="579.7" cy="1471" r="3.1"/><circle cx="591.5" cy="1477.7" r="3.1"/><circle cx="574.8" cy="1454" r="3.1"/><circle cx="573.5" cy="1471.2" r="3.1"/><circle cx="605.3" cy="1474.5" r="3.1"/><circle cx="548.4" cy="1454.6" r="3.1"/><circle cx="564.3" cy="1485.6" r="3.1"/><circle cx="593.5" cy="1474.1" r="3.1"/><circle cx="599.6" cy="1448" r="3.1"/><circle cx="590.6" cy="1462.7" r="3.1"/><circle cx="559.4" cy="1512.7" r="3.1"/><circle cx="587.8" cy="1464.8" r="3.1"/><circle cx="603.4" cy="1511.1" r="3.1"/><circle cx="552" cy="1490" r="3.1"/><circle cx="642.4" cy="1522.3" r="3.1"/><circle cx="604.7" cy="1491.6" r="3.1"/><circle cx="542.7" cy="1451.4" r="3.1"/><circle cx="646.6" cy="1469" r="3.1"/><circle cx="557.7" cy="1491" r="3.1"/><circle cx="618.4" cy="1452.1" r="3.1"/><circle cx="546.9" cy="1443.2" r="3.1"/><circle cx="569.9" cy="1496.5" r="3.1"/><circle cx="552.6" cy="1504" r="3.1"/><circle cx="542.7" cy="1483.8" r="3.1"/><circle cx="581.5" cy="1488.6" r="3.1"/><circle cx="621.9" cy="1498" r="3.1"/><circle cx="586.4" cy="1446.8" r="3.1"/><circle cx="529.7" cy="1477.9" r="3.1"/><circle cx="641.1" cy="1434.7" r="3.1"/><circle cx="561.9" cy="1432.9" r="3.1"/><circle cx="588.2" cy="1488.9" r="3.1"/><circle cx="608.6" cy="1458.3" r="3.1"/><circle cx="615.3" cy="1445.4" r="3.1"/><circle cx="564.8" cy="1454.8" r="3.1"/><circle cx="630" cy="1470.9" r="3.1"/><circle cx="580.1" cy="1469.3" r="3.1"/><circle cx="590.6" cy="1481.9" r="3.1"/><circle cx="501.6" cy="1406.1" r="3.1"/><circle cx="622.7" cy="1455.2" r="3.1"/><circle cx="555.6" cy="1421.8" r="3.1"/><circle cx="542.3" cy="1462.1" r="3.1"/><circle cx="623.2" cy="1484.3" r="3.1"/><circle cx="580.7" cy="1495.9" r="3.1"/><circle cx="555.8" cy="1472.6" r="3.1"/><circle cx="570.9" cy="1540.3" r="3.1"/><circle cx="564.1" cy="1488.5" r="3.1"/><circle cx="559.4" cy="1484" r="3.1"/><circle cx="619.9" cy="1515.1" r="3.1"/><circle cx="567" cy="1441.3" r="3.1"/><circle cx="583.8" cy="1521.3" r="3.1"/><circle cx="553" cy="1457.6" r="3.1"/><circle cx="552" cy="1488.6" r="3.1"/><circle cx="566.4" cy="1470.5" r="3.1"/><circle cx="556" cy="1468.6" r="3.1"/><circle cx="582.6" cy="1483.2" r="3.1"/><circle cx="626.8" cy="1526.3" r="3.1"/><circle cx="659.3" cy="1472.1" r="3.1"/><circle cx="561.5" cy="1522.9" r="3.1"/><circle cx="620.4" cy="1464.3" r="3.1"/><circle cx="567" cy="1470.8" r="3.1"/><circle cx="612.8" cy="1525.1" r="3.1"/><circle cx="580.9" cy="1491.2" r="3.1"/><circle cx="571.6" cy="1492.1" r="3.1"/><circle cx="585.3" cy="1444.8" r="3.1"/><circle cx="535.9" cy="1529.4" r="3.1"/><circle cx="542" cy="1487.1" r="3.1"/><circle cx="501.6" cy="1478.8" r="3.1"/><circle cx="639.2" cy="1425.7" r="3.1"/><circle cx="636.7" cy="1436.3" r="3.1"/><circle cx="585.7" cy="1446.2" r="3.1"/><circle cx="630" cy="1505.5" r="3.1"/><circle cx="588.1" cy="1461.1" r="3.1"/><circle cx="551.6" cy="1470" r="3.1"/><circle cx="576.6" cy="1465.7" r="3.1"/><circle cx="535.1" cy="1474.4" r="3.1"/><circle cx="583.8" cy="1466.2" r="3.1"/><circle cx="600.2" cy="1478.8" r="3.1"/><circle cx="594.1" cy="1462.8" r="3.1"/><circle cx="547.8" cy="1417.1" r="3.1"/><circle cx="588.2" cy="1463.2" r="3.1"/><circle cx="544.4" cy="1438.2" r="3.1"/><circle cx="553.9" cy="1449.3" r="3.1"/><circle cx="523.3" cy="1502.4" r="3.1"/><circle cx="596.8" cy="1457.4" r="3.1"/><circle cx="586.1" cy="1465.8" r="3.1"/><circle cx="598" cy="1464.5" r="3.1"/><circle cx="633" cy="1523.6" r="3.1"/><circle cx="638.8" cy="1494.3" r="3.1"/><circle cx="572.4" cy="1485.1" r="3.1"/><circle cx="623.1" cy="1504.3" r="3.1"/><circle cx="576.4" cy="1516.4" r="3.1"/><circle cx="571.9" cy="1464.1" r="3.1"/><circle cx="591.8" cy="1498.5" r="3.1"/><circle cx="587.8" cy="1517.6" r="3.1"/><circle cx="586.3" cy="1488.8" r="3.1"/><circle cx="576.1" cy="1472" r="3.1"/><circle cx="599.4" cy="1504.2" r="3.1"/><circle cx="524.5" cy="1499.6" r="3.1"/><circle cx="617" cy="1512.8" r="3.1"/><circle cx="565.9" cy="1480.3" r="3.1"/><circle cx="571.8" cy="1460.5" r="3.1"/><circle cx="566.6" cy="1430.2" r="3.1"/><circle cx="546.7" cy="1466.4" r="3.1"/><circle cx="612.2" cy="1513.5" r="3.1"/><circle cx="564.2" cy="1486.1" r="3.1"/><circle cx="570.8" cy="1484.3" r="3.1"/><circle cx="607.3" cy="1376.3" r="3.1"/><circle cx="615.7" cy="1413.5" r="3.1"/><circle cx="577.8" cy="1492.4" r="3.1"/><circle cx="584" cy="1490.7" r="3.1"/><circle cx="598.1" cy="1557.2" r="3.1"/><circle cx="589.9" cy="1489.2" r="3.1"/><circle cx="598.9" cy="1437.4" r="3.1"/><circle cx="563.1" cy="1502.1" r="3.1"/><circle cx="583.4" cy="1468" r="3.1"/><circle cx="557.4" cy="1480.9" r="3.1"/><circle cx="619.4" cy="1423.2" r="3.1"/><circle cx="604.8" cy="1422.1" r="3.1"/><circle cx="599.9" cy="1450.1" r="3.1"/><circle cx="591.9" cy="1497.1" r="3.1"/><circle cx="568.4" cy="1508.6" r="3.1"/><circle cx="541.7" cy="1495.2" r="3.1"/><circle cx="560.5" cy="1394.3" r="3.1"/><circle cx="601.5" cy="1466.2" r="3.1"/><circle cx="557.4" cy="1449.1" r="3.1"/><circle cx="631.6" cy="1548.3" r="3.1"/><circle cx="593" cy="1493.7" r="3.1"/><circle cx="561.9" cy="1456.2" r="3.1"/><circle cx="594.3" cy="1450" r="3.1"/><circle cx="651.1" cy="1430.1" r="3.1"/><circle cx="593.1" cy="1449.9" r="3.1"/><circle cx="650.9" cy="1373" r="3.1"/><circle cx="582" cy="1440.4" r="3.1"/><circle cx="562.1" cy="1408.7" r="3.1"/><circle cx="597.5" cy="1488.2" r="3.1"/><circle cx="548.7" cy="1451.1" r="3.1"/><circle cx="536.4" cy="1487.8" r="3.1"/><circle cx="528.5" cy="1446.9" r="3.1"/><circle cx="627.4" cy="1562.7" r="3.1"/><circle cx="579.2" cy="1510.3" r="3.1"/><circle cx="520.5" cy="1479" r="3.1"/><circle cx="616.1" cy="1484.5" r="3.1"/><circle cx="538.9" cy="1460.9" r="3.1"/><circle cx="560.5" cy="1487.8" r="3.1"/><circle cx="626.7" cy="1486.4" r="3.1"/><circle cx="554.6" cy="1491.2" r="3.1"/><circle cx="619.3" cy="1416" r="3.1"/><circle cx="565.4" cy="1517.2" r="3.1"/><circle cx="591.8" cy="1469.3" r="3.1"/><circle cx="617" cy="1441.4" r="3.1"/><circle cx="589.7" cy="1502.7" r="3.1"/><circle cx="587.4" cy="1514.2" r="3.1"/><circle cx="595" cy="1431.4" r="3.1"/><circle cx="542.1" cy="1470.9" r="3.1"/><circle cx="590.6" cy="1512.6" r="3.1"/><circle cx="587.5" cy="1410" r="3.1"/><circle cx="636.5" cy="1483.6" r="3.1"/><circle cx="577" cy="1471.9" r="3.1"/><circle cx="612.8" cy="1426.2" r="3.1"/><circle cx="596.2" cy="1514.4" r="3.1"/><circle cx="536.3" cy="1479.4" r="3.1"/><circle cx="565.7" cy="1487.9" r="3.1"/><circle cx="585.8" cy="1440.2" r="3.1"/><circle cx="599.7" cy="1518.7" r="3.1"/><circle cx="565.3" cy="1452.3" r="3.1"/><circle cx="570.9" cy="1459.9" r="3.1"/><circle cx="602.5" cy="1456.2" r="3.1"/><circle cx="604.4" cy="1514.4" r="3.1"/><circle cx="570.2" cy="1538.6" r="3.1"/><circle cx="573.9" cy="1459.8" r="3.1"/><circle cx="606.2" cy="1429.7" r="3.1"/><circle cx="561.5" cy="1435.2" r="3.1"/><circle cx="597.7" cy="1468.7" r="3.1"/><circle cx="599.4" cy="1440.2" r="3.1"/><circle cx="525.6" cy="1412.2" r="3.1"/><circle cx="633.5" cy="1469.1" r="3.1"/><circle cx="628" cy="1452.7" r="3.1"/><circle cx="609.1" cy="1502.8" r="3.1"/><circle cx="618.2" cy="1385" r="3.1"/><circle cx="587.3" cy="1502.1" r="3.1"/><circle cx="615.9" cy="1452.7" r="3.1"/><circle cx="561.8" cy="1478.7" r="3.1"/><circle cx="540.5" cy="1431.5" r="3.1"/><circle cx="587.1" cy="1509.6" r="3.1"/><circle cx="593.7" cy="1535.7" r="3.1"/><circle cx="582.8" cy="1450.1" r="3.1"/><circle cx="567.9" cy="1516.6" r="3.1"/><circle cx="564.1" cy="1441.5" r="3.1"/><circle cx="565.6" cy="1469.8" r="3.1"/><circle cx="581.5" cy="1462.4" r="3.1"/><circle cx="532.7" cy="1513.1" r="3.1"/><circle cx="585.5" cy="1467.7" r="3.1"/><circle cx="574.3" cy="1476.8" r="3.1"/><circle cx="608.4" cy="1446.5" r="3.1"/><circle cx="548.7" cy="1470.4" r="3.1"/><circle cx="584.7" cy="1469.6" r="3.1"/><circle cx="575.6" cy="1443.6" r="3.1"/><circle cx="572" cy="1418.3" r="3.1"/><circle cx="596.7" cy="1519.2" r="3.1"/><circle cx="598.2" cy="1487.1" r="3.1"/><circle cx="615" cy="1454.6" r="3.1"/><circle cx="634.6" cy="1486.2" r="3.1"/><circle cx="624.7" cy="1510.9" r="3.1"/><circle cx="555.1" cy="1501.4" r="3.1"/><circle cx="498.5" cy="1480" r="3.1"/><circle cx="570.5" cy="1477" r="3.1"/><circle cx="580.8" cy="1486.7" r="3.1"/><circle cx="608.9" cy="1444" r="3.1"/><circle cx="601.5" cy="1442.8" r="3.1"/><circle cx="604.2" cy="1461.5" r="3.1"/><circle cx="563.5" cy="1511.3" r="3.1"/><circle cx="549.6" cy="1453.8" r="3.1"/><circle cx="588.4" cy="1515" r="3.1"/><circle cx="652.5" cy="1407" r="3.1"/><circle cx="572.4" cy="1503.6" r="3.1"/><circle cx="541.7" cy="1508.2" r="3.1"/><circle cx="602.5" cy="1483" r="3.1"/><circle cx="583.1" cy="1489.6" r="3.1"/><circle cx="584.8" cy="1529.3" r="3.1"/><circle cx="612.8" cy="1483.5" r="3.1"/><circle cx="579.7" cy="1444.8" r="3.1"/><circle cx="517.4" cy="1512.1" r="3.1"/><circle cx="556.3" cy="1478.5" r="3.1"/><circle cx="578.6" cy="1503.5" r="3.1"/><circle cx="613.5" cy="1444.9" r="3.1"/><circle cx="567" cy="1480.6" r="3.1"/><circle cx="600.9" cy="1509.1" r="3.1"/><circle cx="619.1" cy="1516.4" r="3.1"/><circle cx="630.2" cy="1473.5" r="3.1"/><circle cx="561.2" cy="1478.3" r="3.1"/><circle cx="586.4" cy="1420.6" r="3.1"/><circle cx="589.4" cy="1500.6" r="3.1"/><circle cx="576.7" cy="1459.2" r="3.1"/><circle cx="633.9" cy="1490.8" r="3.1"/><circle cx="572.9" cy="1516.7" r="3.1"/><circle cx="617.7" cy="1495.4" r="3.1"/><circle cx="567.7" cy="1445" r="3.1"/><circle cx="608.2" cy="1503.2" r="3.1"/><circle cx="630.4" cy="1461.3" r="3.1"/><circle cx="629.9" cy="1443.7" r="3.1"/><circle cx="575.1" cy="1460.5" r="3.1"/><circle cx="576.1" cy="1468.5" r="3.1"/><circle cx="601.2" cy="1432.6" r="3.1"/><circle cx="621" cy="1430" r="3.1"/><circle cx="579.4" cy="1529" r="3.1"/><circle cx="613.7" cy="1476.1" r="3.1"/><circle cx="537.1" cy="1497.2" r="3.1"/><circle cx="596.5" cy="1492.6" r="3.1"/><circle cx="605.2" cy="1510" r="3.1"/><circle cx="549.2" cy="1493.5" r="3.1"/><circle cx="583" cy="1409.2" r="3.1"/><circle cx="616.1" cy="1505.8" r="3.1"/><circle cx="536.9" cy="1448" r="3.1"/><circle cx="567.6" cy="1456.1" r="3.1"/><circle cx="536.8" cy="1540.7" r="3.1"/><circle cx="648.2" cy="1448.6" r="3.1"/><circle cx="534.2" cy="1437.9" r="3.1"/><circle cx="530" cy="1417.1" r="3.1"/><circle cx="606.4" cy="1458.6" r="3.1"/><circle cx="602.2" cy="1420.6" r="3.1"/><circle cx="550.9" cy="1467.4" r="3.1"/><circle cx="609.7" cy="1439.9" r="3.1"/><circle cx="620.3" cy="1509.3" r="3.1"/><circle cx="563.9" cy="1499.9" r="3.1"/><circle cx="610.4" cy="1453.2" r="3.1"/><circle cx="649.4" cy="1528.4" r="3.1"/><circle cx="568.6" cy="1475.3" r="3.1"/><circle cx="505.6" cy="1476.8" r="3.1"/><circle cx="528.9" cy="1498.2" r="3.1"/><circle cx="544.4" cy="1441.3" r="3.1"/><circle cx="514.8" cy="1477.5" r="3.1"/><circle cx="566.4" cy="1488.8" r="3.1"/><circle cx="508.2" cy="1453.5" r="3.1"/><circle cx="506.6" cy="1470.5" r="3.1"/><circle cx="471.3" cy="1460.2" r="3.1"/><circle cx="488.7" cy="1495.9" r="3.1"/><circle cx="473.7" cy="1455.6" r="3.1"/><circle cx="542.2" cy="1484.8" r="3.1"/><circle cx="512.7" cy="1497.7" r="3.1"/><circle cx="517.2" cy="1462.3" r="3.1"/><circle cx="548.5" cy="1488.6" r="3.1"/><circle cx="460" cy="1489.4" r="3.1"/><circle cx="469.7" cy="1495.8" r="3.1"/><circle cx="544.9" cy="1448.5" r="3.1"/><circle cx="495" cy="1504.4" r="3.1"/><circle cx="492.5" cy="1493" r="3.1"/><circle cx="426" cy="1471.8" r="3.1"/><circle cx="526.4" cy="1456.6" r="3.1"/><circle cx="516.4" cy="1510.1" r="3.1"/><circle cx="450" cy="1445.4" r="3.1"/><circle cx="475.8" cy="1469.7" r="3.1"/><circle cx="554.6" cy="1508.7" r="3.1"/><circle cx="541.2" cy="1473.3" r="3.1"/><circle cx="520.4" cy="1472.3" r="3.1"/><circle cx="563" cy="1482.4" r="3.1"/><circle cx="513.5" cy="1480.2" r="3.1"/><circle cx="347.7" cy="1501.2" r="3.1"/><circle cx="501.4" cy="1462" r="3.1"/><circle cx="556.9" cy="1460.4" r="3.1"/><circle cx="365.4" cy="1437.6" r="3.1"/><circle cx="449.1" cy="1526.8" r="3.1"/><circle cx="540.4" cy="1468.7" r="3.1"/><circle cx="524.4" cy="1487.1" r="3.1"/><circle cx="495.3" cy="1454.4" r="3.1"/><circle cx="480.9" cy="1514.3" r="3.1"/><circle cx="445.9" cy="1524.1" r="3.1"/><circle cx="430.5" cy="1469.7" r="3.1"/><circle cx="501" cy="1481.2" r="3.1"/><circle cx="423.8" cy="1478.2" r="3.1"/><circle cx="485.8" cy="1464.9" r="3.1"/><circle cx="528.9" cy="1476.3" r="3.1"/><circle cx="516.8" cy="1519.3" r="3.1"/><circle cx="515.5" cy="1477.2" r="3.1"/><circle cx="518.2" cy="1463.1" r="3.1"/><circle cx="563.5" cy="1442.4" r="3.1"/><circle cx="504.2" cy="1476.5" r="3.1"/><circle cx="345.5" cy="1475.9" r="3.1"/><circle cx="504.7" cy="1503" r="3.1"/><circle cx="375.2" cy="1470" r="3.1"/><circle cx="554.3" cy="1488.2" r="3.1"/><circle cx="554.8" cy="1488.6" r="3.1"/><circle cx="552.9" cy="1499.1" r="3.1"/><circle cx="551.1" cy="1437.5" r="3.1"/><circle cx="550.6" cy="1461.6" r="3.1"/><circle cx="536.6" cy="1499.9" r="3.1"/><circle cx="467.2" cy="1470" r="3.1"/><circle cx="448.9" cy="1485.2" r="3.1"/><circle cx="515.6" cy="1495.8" r="3.1"/><circle cx="505.2" cy="1444.2" r="3.1"/><circle cx="537.4" cy="1487.7" r="3.1"/><circle cx="493.9" cy="1496.3" r="3.1"/><circle cx="573.5" cy="1511.5" r="3.1"/><circle cx="501.6" cy="1475.5" r="3.1"/><circle cx="551.2" cy="1461.2" r="3.1"/><circle cx="423.7" cy="1478.6" r="3.1"/><circle cx="512" cy="1456.3" r="3.1"/><circle cx="390.5" cy="1488.5" r="3.1"/><circle cx="325" cy="1513.7" r="3.1"/><circle cx="431.9" cy="1500.1" r="3.1"/><circle cx="540.1" cy="1457.8" r="3.1"/><circle cx="570.7" cy="1499.1" r="3.1"/><circle cx="553.9" cy="1537.8" r="3.1"/><circle cx="441.6" cy="1489.7" r="3.1"/><circle cx="538.6" cy="1500.9" r="3.1"/><circle cx="452.2" cy="1484.2" r="3.1"/><circle cx="570.3" cy="1463.7" r="3.1"/><circle cx="327.5" cy="1457.8" r="3.1"/><circle cx="518.4" cy="1478.6" r="3.1"/><circle cx="512.7" cy="1493.5" r="3.1"/><circle cx="471.1" cy="1469.4" r="3.1"/><circle cx="525.8" cy="1474" r="3.1"/><circle cx="486.6" cy="1461.2" r="3.1"/><circle cx="378.8" cy="1476.4" r="3.1"/><circle cx="413.3" cy="1479.7" r="3.1"/><circle cx="508.6" cy="1487.3" r="3.1"/><circle cx="556.7" cy="1485.1" r="3.1"/><circle cx="556.2" cy="1463.8" r="3.1"/><circle cx="541.8" cy="1460" r="3.1"/><circle cx="412.3" cy="1489" r="3.1"/><circle cx="570.1" cy="1470.7" r="3.1"/><circle cx="473.6" cy="1432.6" r="3.1"/><circle cx="456.1" cy="1483.9" r="3.1"/><circle cx="433.9" cy="1494.4" r="3.1"/><circle cx="254.6" cy="1503.4" r="3.1"/><circle cx="534.4" cy="1483.3" r="3.1"/><circle cx="400.6" cy="1444.3" r="3.1"/><circle cx="512.1" cy="1502" r="3.1"/><circle cx="484.4" cy="1509" r="3.1"/><circle cx="168.9" cy="1462.3" r="3.1"/><circle cx="567" cy="1496.9" r="3.1"/><circle cx="560.8" cy="1448.5" r="3.1"/><circle cx="539.1" cy="1449.7" r="3.1"/><circle cx="511.1" cy="1465.4" r="3.1"/><circle cx="519.9" cy="1494.8" r="3.1"/><circle cx="576.7" cy="1495.4" r="3.1"/><circle cx="384.8" cy="1482.3" r="3.1"/><circle cx="552.6" cy="1463.4" r="3.1"/><circle cx="542.9" cy="1499.7" r="3.1"/><circle cx="535.1" cy="1475.6" r="3.1"/><circle cx="527.1" cy="1503" r="3.1"/><circle cx="323" cy="1487.1" r="3.1"/><circle cx="503.9" cy="1472.6" r="3.1"/><circle cx="491.9" cy="1478.3" r="3.1"/><circle cx="443.8" cy="1468.5" r="3.1"/><circle cx="531.2" cy="1494.5" r="3.1"/><circle cx="556.3" cy="1520" r="3.1"/><circle cx="492.2" cy="1463.9" r="3.1"/><circle cx="351.8" cy="1444.7" r="3.1"/><circle cx="509.6" cy="1526.9" r="3.1"/><circle cx="507.3" cy="1459" r="3.1"/><circle cx="467.1" cy="1477.1" r="3.1"/><circle cx="517" cy="1461.2" r="3.1"/><circle cx="502" cy="1480.4" r="3.1"/><circle cx="528.9" cy="1481.9" r="3.1"/><circle cx="404.8" cy="1478.1" r="3.1"/><circle cx="395.4" cy="1469.9" r="3.1"/><circle cx="541.7" cy="1478.3" r="3.1"/><circle cx="475.2" cy="1459.5" r="3.1"/><circle cx="405.1" cy="1506.5" r="3.1"/><circle cx="528.5" cy="1479.5" r="3.1"/><circle cx="533.5" cy="1480.3" r="3.1"/><circle cx="564.5" cy="1479.6" r="3.1"/><circle cx="535.8" cy="1461.8" r="3.1"/><circle cx="485.5" cy="1474.5" r="3.1"/><circle cx="490.4" cy="1443.4" r="3.1"/><circle cx="502.2" cy="1454.5" r="3.1"/><circle cx="577.5" cy="1473.9" r="3.1"/><circle cx="437" cy="1462.5" r="3.1"/><circle cx="476.4" cy="1475.8" r="3.1"/><circle cx="565.9" cy="1503.4" r="3.1"/><circle cx="290.2" cy="1487.9" r="3.1"/><circle cx="437.5" cy="1442.3" r="3.1"/><circle cx="333.3" cy="1457.8" r="3.1"/><circle cx="524.5" cy="1499.3" r="3.1"/><circle cx="453.6" cy="1464.3" r="3.1"/><circle cx="459.5" cy="1494.8" r="3.1"/><circle cx="545" cy="1495.2" r="3.1"/><circle cx="557.2" cy="1478.6" r="3.1"/><circle cx="442.7" cy="1445.8" r="3.1"/><circle cx="483.4" cy="1500.7" r="3.1"/><circle cx="459.2" cy="1463.6" r="3.1"/><circle cx="559.3" cy="1454.5" r="3.1"/><circle cx="559.2" cy="1526.5" r="3.1"/><circle cx="537.3" cy="1487.3" r="3.1"/><circle cx="541.1" cy="1469.2" r="3.1"/><circle cx="476.4" cy="1502.6" r="3.1"/><circle cx="313.7" cy="1442.8" r="3.1"/><circle cx="381.4" cy="1498.9" r="3.1"/><circle cx="517.4" cy="1444.5" r="3.1"/><circle cx="555.6" cy="1489.7" r="3.1"/><circle cx="491" cy="1489.9" r="3.1"/><circle cx="412.6" cy="1440.5" r="3.1"/><circle cx="566" cy="1470" r="3.1"/><circle cx="426.3" cy="1487.3" r="3.1"/><circle cx="387.5" cy="1497.6" r="3.1"/><circle cx="422" cy="1451.7" r="3.1"/><circle cx="564.5" cy="1459.1" r="3.1"/><circle cx="556.3" cy="1517.2" r="3.1"/><circle cx="479.9" cy="1489" r="3.1"/><circle cx="548.5" cy="1487.2" r="3.1"/><circle cx="352.6" cy="1478.1" r="3.1"/><circle cx="563.3" cy="1478.7" r="3.1"/><circle cx="538.5" cy="1498.5" r="3.1"/><circle cx="451.1" cy="1503.1" r="3.1"/><circle cx="518.8" cy="1504.1" r="3.1"/><circle cx="551.5" cy="1462.2" r="3.1"/><circle cx="558.2" cy="1480.3" r="3.1"/><circle cx="534.3" cy="1466.2" r="3.1"/><circle cx="369.2" cy="1474.5" r="3.1"/><circle cx="574.3" cy="1459.3" r="3.1"/><circle cx="521.2" cy="1457.4" r="3.1"/><circle cx="542.4" cy="1478.8" r="3.1"/><circle cx="488.3" cy="1491.4" r="3.1"/><circle cx="467.7" cy="1476" r="3.1"/><circle cx="435.6" cy="1485.6" r="3.1"/><circle cx="249" cy="1451.7" r="3.1"/><circle cx="498.8" cy="1484.1" r="3.1"/><circle cx="567" cy="1478.6" r="3.1"/><circle cx="576" cy="1450.1" r="3.1"/><circle cx="413.9" cy="1496" r="3.1"/><circle cx="514" cy="1482.9" r="3.1"/><circle cx="537.8" cy="1474.7" r="3.1"/><circle cx="461" cy="1434.4" r="3.1"/><circle cx="432.3" cy="1487.5" r="3.1"/><circle cx="548.2" cy="1483.5" r="3.1"/><circle cx="563" cy="1500" r="3.1"/><circle cx="320.1" cy="1443.7" r="3.1"/><circle cx="561.8" cy="1465" r="3.1"/><circle cx="468.5" cy="1469.7" r="3.1"/><circle cx="556.3" cy="1458.7" r="3.1"/><circle cx="551.8" cy="1477.5" r="3.1"/><circle cx="479.8" cy="1486" r="3.1"/><circle cx="550.9" cy="1510.4" r="3.1"/><circle cx="473.9" cy="1478" r="3.1"/><circle cx="485.1" cy="1494.8" r="3.1"/><circle cx="571.3" cy="1448.5" r="3.1"/><circle cx="516.7" cy="1490.1" r="3.1"/><circle cx="478.8" cy="1494.9" r="3.1"/><circle cx="521.8" cy="1497.9" r="3.1"/><circle cx="517.9" cy="1466.8" r="3.1"/><circle cx="400.1" cy="1439.1" r="3.1"/><circle cx="552.8" cy="1457.8" r="3.1"/><circle cx="293.7" cy="1527" r="3.1"/><circle cx="498" cy="1474" r="3.1"/><circle cx="427.1" cy="1472.7" r="3.1"/><circle cx="510.4" cy="1427.6" r="3.1"/><circle cx="390.9" cy="1468.1" r="3.1"/><circle cx="540.5" cy="1508.5" r="3.1"/><circle cx="359.4" cy="1492.3" r="3.1"/><circle cx="548.1" cy="1503.9" r="3.1"/><circle cx="451.6" cy="1462.3" r="3.1"/><circle cx="560.2" cy="1457" r="3.1"/><circle cx="464.2" cy="1446.8" r="3.1"/><circle cx="535.8" cy="1455.7" r="3.1"/><circle cx="534.3" cy="1500.2" r="3.1"/><circle cx="490.2" cy="1491.4" r="3.1"/><circle cx="505" cy="1477.2" r="3.1"/><circle cx="481.7" cy="1480" r="3.1"/><circle cx="433.5" cy="1474.2" r="3.1"/><circle cx="535.8" cy="1433.7" r="3.1"/><circle cx="477" cy="1492.5" r="3.1"/><circle cx="502.2" cy="1485.2" r="3.1"/><circle cx="343.9" cy="1487.1" r="3.1"/><circle cx="515.6" cy="1498" r="3.1"/><circle cx="483.8" cy="1506.4" r="3.1"/><circle cx="484.6" cy="1494.7" r="3.1"/><circle cx="559.1" cy="1509.8" r="3.1"/><circle cx="562.9" cy="1455.3" r="3.1"/><circle cx="546.8" cy="1506.9" r="3.1"/><circle cx="571.1" cy="1498.4" r="3.1"/><circle cx="568.6" cy="1514.1" r="3.1"/><circle cx="464.8" cy="1475.3" r="3.1"/><circle cx="518" cy="1499.9" r="3.1"/><circle cx="468.2" cy="1455.5" r="3.1"/><circle cx="520.7" cy="1504.7" r="3.1"/><circle cx="374.1" cy="1467.8" r="3.1"/><circle cx="374.5" cy="1534.5" r="3.1"/><circle cx="353.6" cy="1495.3" r="3.1"/><circle cx="503" cy="1495.7" r="3.1"/><circle cx="527.6" cy="1485.7" r="3.1"/><circle cx="542.4" cy="1504.4" r="3.1"/><circle cx="512.7" cy="1469.5" r="3.1"/><circle cx="500.6" cy="1497.7" r="3.1"/><circle cx="523" cy="1482.8" r="3.1"/><circle cx="553.9" cy="1467.3" r="3.1"/><circle cx="467" cy="1476.9" r="3.1"/><circle cx="183" cy="1457.8" r="3.1"/><circle cx="533.9" cy="1487.4" r="3.1"/><circle cx="438.5" cy="1496.9" r="3.1"/><circle cx="331" cy="1467.1" r="3.1"/><circle cx="473.3" cy="1480.7" r="3.1"/><circle cx="506.9" cy="1492.6" r="3.1"/><circle cx="505.3" cy="1469.7" r="3.1"/><circle cx="378.7" cy="1467.2" r="3.1"/><circle cx="515" cy="1463.1" r="3.1"/><circle cx="497.6" cy="1459.9" r="3.1"/><circle cx="548.9" cy="1496.7" r="3.1"/><circle cx="461.3" cy="1483.8" r="3.1"/><circle cx="473.2" cy="1491" r="3.1"/><circle cx="558.6" cy="1482.3" r="3.1"/><circle cx="514.3" cy="1505.7" r="3.1"/><circle cx="545.2" cy="1476.4" r="3.1"/><circle cx="409.6" cy="1456.8" r="3.1"/><circle cx="503.7" cy="1469.1" r="3.1"/><circle cx="568.9" cy="1502.9" r="3.1"/><circle cx="342" cy="1487.6" r="3.1"/><circle cx="537.6" cy="1472.5" r="3.1"/><circle cx="568.7" cy="1443.4" r="3.1"/><circle cx="567.5" cy="1488.7" r="3.1"/><circle cx="487.9" cy="1478.6" r="3.1"/><circle cx="437.1" cy="1488.5" r="3.1"/><circle cx="497.3" cy="1498.9" r="3.1"/><circle cx="486.6" cy="1475.9" r="3.1"/><circle cx="504.2" cy="1468.4" r="3.1"/><circle cx="516.7" cy="1483.9" r="3.1"/><circle cx="548.1" cy="1455.3" r="3.1"/><circle cx="498.5" cy="1484.2" r="3.1"/><circle cx="526.7" cy="1486.3" r="3.1"/><circle cx="331.7" cy="1467" r="3.1"/><circle cx="506.4" cy="1454.3" r="3.1"/><circle cx="362.1" cy="1483" r="3.1"/><circle cx="441.9" cy="1452.6" r="3.1"/><circle cx="475" cy="1457.4" r="3.1"/><circle cx="487.7" cy="1479.1" r="3.1"/><circle cx="477.3" cy="1445.8" r="3.1"/><circle cx="524.1" cy="1459" r="3.1"/><circle cx="471.3" cy="1458.7" r="3.1"/><circle cx="531.9" cy="1462.4" r="3.1"/><circle cx="425.7" cy="1524.7" r="3.1"/><circle cx="347.8" cy="1486.7" r="3.1"/><circle cx="441.5" cy="1433.4" r="3.1"/><circle cx="527.6" cy="1488.7" r="3.1"/><circle cx="453.8" cy="1455.3" r="3.1"/><circle cx="493.5" cy="1510.6" r="3.1"/><circle cx="404.9" cy="1466.3" r="3.1"/><circle cx="526" cy="1495.9" r="3.1"/><circle cx="570.7" cy="1484.3" r="3.1"/><circle cx="565.6" cy="1500.5" r="3.1"/><circle cx="560.4" cy="1474.6" r="3.1"/><circle cx="574.7" cy="1488.9" r="3.1"/><circle cx="392.1" cy="1473.8" r="3.1"/><circle cx="327.1" cy="1483.6" r="3.1"/><circle cx="571.5" cy="1468.2" r="3.1"/><circle cx="458" cy="1493.1" r="3.1"/><circle cx="504.8" cy="1480" r="3.1"/><circle cx="368.5" cy="1528.5" r="3.1"/><circle cx="537.9" cy="1470" r="3.1"/><circle cx="334.2" cy="1486.6" r="3.1"/><circle cx="486" cy="1468.4" r="3.1"/><circle cx="532.9" cy="1470.6" r="3.1"/><circle cx="550.8" cy="1451.9" r="3.1"/><circle cx="483.2" cy="1510.3" r="3.1"/><circle cx="564.9" cy="1494.5" r="3.1"/><circle cx="532.7" cy="1516.1" r="3.1"/><circle cx="475.4" cy="1487.6" r="3.1"/><circle cx="440.9" cy="1469.1" r="3.1"/><circle cx="482.4" cy="1474.6" r="3.1"/><circle cx="459" cy="1471.7" r="3.1"/><circle cx="486.3" cy="1456.3" r="3.1"/><circle cx="575.5" cy="1484.2" r="3.1"/><circle cx="565.9" cy="1487.8" r="3.1"/><circle cx="490.8" cy="1457.5" r="3.1"/><circle cx="533.1" cy="1457.3" r="3.1"/><circle cx="517.3" cy="1520.9" r="3.1"/><circle cx="406.2" cy="1473" r="3.1"/><circle cx="573.2" cy="1461.5" r="3.1"/><circle cx="559.2" cy="1488" r="3.1"/><circle cx="459.4" cy="1483.2" r="3.1"/><circle cx="527.8" cy="1469.6" r="3.1"/><circle cx="563.5" cy="1505.2" r="3.1"/><circle cx="460.4" cy="1493.1" r="3.1"/><circle cx="539.5" cy="1490.2" r="3.1"/><circle cx="523.4" cy="1491.3" r="3.1"/><circle cx="574.8" cy="1456.8" r="3.1"/><circle cx="521.4" cy="1459.1" r="3.1"/><circle cx="495.4" cy="1493.9" r="3.1"/><circle cx="489.6" cy="1434.4" r="3.1"/><circle cx="443" cy="1513.4" r="3.1"/><circle cx="568.9" cy="1474.6" r="3.1"/><circle cx="567.5" cy="1493.5" r="3.1"/><circle cx="489.4" cy="1497.9" r="3.1"/><circle cx="466.5" cy="1485.7" r="3.1"/><circle cx="396.4" cy="1442.5" r="3.1"/><circle cx="471.3" cy="1465.3" r="3.1"/><circle cx="463.3" cy="1487.7" r="3.1"/><circle cx="469.4" cy="1493.1" r="3.1"/><circle cx="488.9" cy="1481.5" r="3.1"/><circle cx="534.9" cy="1497.6" r="3.1"/><circle cx="556.6" cy="1445.5" r="3.1"/><circle cx="453.8" cy="1502" r="3.1"/><circle cx="405.1" cy="1513.4" r="3.1"/><circle cx="448.2" cy="1469.1" r="3.1"/><circle cx="524.8" cy="1418.6" r="3.1"/><circle cx="531.3" cy="1482" r="3.1"/><circle cx="578.5" cy="1488.8" r="3.1"/><circle cx="409" cy="1475.8" r="3.1"/><circle cx="511.3" cy="1482.7" r="3.1"/><circle cx="568.2" cy="1479" r="3.1"/><circle cx="545.9" cy="1461.3" r="3.1"/><circle cx="457.8" cy="1462.1" r="3.1"/><circle cx="318.1" cy="1499.3" r="3.1"/><circle cx="559.7" cy="1484.5" r="3.1"/><circle cx="552.6" cy="1455.2" r="3.1"/><circle cx="306.9" cy="1520.3" r="3.1"/><circle cx="473.1" cy="1500.1" r="3.1"/><circle cx="545.8" cy="1475.4" r="3.1"/><circle cx="445.6" cy="1480.2" r="3.1"/><circle cx="273.6" cy="1439.2" r="3.1"/><circle cx="486.8" cy="1486.6" r="3.1"/><circle cx="448.9" cy="1449.6" r="3.1"/><circle cx="512.3" cy="1477.7" r="3.1"/><circle cx="574.5" cy="1492.9" r="3.1"/><circle cx="502.9" cy="1442.3" r="3.1"/><circle cx="473.2" cy="1492.2" r="3.1"/><circle cx="505.7" cy="1457.2" r="3.1"/><circle cx="380.4" cy="1462.5" r="3.1"/><circle cx="409.1" cy="1459.8" r="3.1"/><circle cx="498.2" cy="1477.3" r="3.1"/><circle cx="354.2" cy="1469" r="3.1"/><circle cx="532.2" cy="1465.1" r="3.1"/><circle cx="438.8" cy="1484.7" r="3.1"/><circle cx="388.6" cy="1482.6" r="3.1"/><circle cx="529.1" cy="1492.2" r="3.1"/><circle cx="435.8" cy="1478.6" r="3.1"/><circle cx="551.3" cy="1440.7" r="3.1"/><circle cx="525.8" cy="1463" r="3.1"/><circle cx="466.9" cy="1473.6" r="3.1"/><circle cx="557.4" cy="1501.7" r="3.1"/><circle cx="462.3" cy="1484.5" r="3.1"/><circle cx="487.5" cy="1501.9" r="3.1"/><circle cx="529.3" cy="1487.7" r="3.1"/><circle cx="479" cy="1477.2" r="3.1"/><circle cx="497" cy="1505.5" r="3.1"/><circle cx="522.2" cy="1495.5" r="3.1"/><circle cx="542" cy="1470.8" r="3.1"/><circle cx="488.6" cy="1480.5" r="3.1"/><circle cx="481" cy="1490" r="3.1"/><circle cx="436.9" cy="1462.9" r="3.1"/><circle cx="565.6" cy="1463.1" r="3.1"/><circle cx="410.3" cy="1529.9" r="3.1"/><circle cx="339.4" cy="1487.3" r="3.1"/><circle cx="559.9" cy="1438.4" r="3.1"/><circle cx="524.8" cy="1481.5" r="3.1"/><circle cx="496.4" cy="1512.5" r="3.1"/><circle cx="515.2" cy="1508.8" r="3.1"/><circle cx="542.3" cy="1502.3" r="3.1"/><circle cx="519.6" cy="1460.5" r="3.1"/><circle cx="495.5" cy="1465.9" r="3.1"/><circle cx="532.7" cy="1483.5" r="3.1"/><circle cx="299.2" cy="1495.6" r="3.1"/><circle cx="507.5" cy="1505.5" r="3.1"/><circle cx="574.7" cy="1462.1" r="3.1"/><circle cx="526.7" cy="1456.9" r="3.1"/><circle cx="453" cy="1508.3" r="3.1"/><circle cx="531" cy="1424.1" r="3.1"/><circle cx="486.9" cy="1456.3" r="3.1"/><circle cx="465.5" cy="1469" r="3.1"/><circle cx="574.4" cy="1559.1" r="3.1"/><circle cx="400.4" cy="1455.5" r="3.1"/><circle cx="397.6" cy="1475.4" r="3.1"/><circle cx="477" cy="1455.2" r="3.1"/><circle cx="542.7" cy="1492.5" r="3.1"/><circle cx="410.3" cy="1510.8" r="3.1"/><circle cx="455.8" cy="1489.8" r="3.1"/><circle cx="536.2" cy="1440.9" r="3.1"/><circle cx="579.1" cy="1478.6" r="3.1"/><circle cx="535.9" cy="1475.8" r="3.1"/><circle cx="445.3" cy="1493.2" r="3.1"/><circle cx="508.9" cy="1467" r="3.1"/><circle cx="539.6" cy="1426" r="3.1"/><circle cx="545.6" cy="1487.1" r="3.1"/><circle cx="532.9" cy="1488.7" r="3.1"/><circle cx="449.3" cy="1518.5" r="3.1"/><circle cx="571.5" cy="1473.2" r="3.1"/><circle cx="451.5" cy="1474.6" r="3.1"/><circle cx="416.8" cy="1518.3" r="3.1"/><circle cx="533.2" cy="1470.5" r="3.1"/><circle cx="550.5" cy="1499.8" r="3.1"/><circle cx="510.8" cy="1448.8" r="3.1"/><circle cx="369.8" cy="1462" r="3.1"/><circle cx="541.3" cy="1478.4" r="3.1"/><circle cx="443.4" cy="1506.9" r="3.1"/><circle cx="433.6" cy="1479.8" r="3.1"/><circle cx="405.3" cy="1496" r="3.1"/><circle cx="502.9" cy="1439.1" r="3.1"/><circle cx="529.6" cy="1460" r="3.1"/><circle cx="331" cy="1472.1" r="3.1"/><circle cx="556.8" cy="1490.8" r="3.1"/><circle cx="540.9" cy="1475.2" r="3.1"/><circle cx="514.8" cy="1489.5" r="3.1"/><circle cx="500.5" cy="1433.6" r="3.1"/><circle cx="557.9" cy="1468.3" r="3.1"/><circle cx="442.2" cy="1502.1" r="3.1"/><circle cx="547.1" cy="1504.6" r="3.1"/><circle cx="365.8" cy="1447.8" r="3.1"/><circle cx="561.8" cy="1476.4" r="3.1"/><circle cx="488.2" cy="1482.6" r="3.1"/><circle cx="435" cy="1518.7" r="3.1"/><circle cx="533.7" cy="1464" r="3.1"/><circle cx="478" cy="1509.8" r="3.1"/><circle cx="453.4" cy="1468.6" r="3.1"/><circle cx="573.2" cy="1469.8" r="3.1"/><circle cx="576.6" cy="1461.9" r="3.1"/><circle cx="522.4" cy="1472.8" r="3.1"/><circle cx="446.7" cy="1477.2" r="3.1"/><circle cx="400.6" cy="1522.8" r="3.1"/><circle cx="528.7" cy="1484.3" r="3.1"/><circle cx="449.2" cy="1443.4" r="3.1"/><circle cx="364.3" cy="1474.1" r="3.1"/><circle cx="317.2" cy="1458.8" r="3.1"/><circle cx="482.6" cy="1478" r="3.1"/><circle cx="444.9" cy="1488.5" r="3.1"/><circle cx="526.9" cy="1472.7" r="3.1"/><circle cx="471.4" cy="1507.1" r="3.1"/><circle cx="543.3" cy="1472.3" r="3.1"/><circle cx="516.9" cy="1502.7" r="3.1"/><circle cx="563.9" cy="1457.2" r="3.1"/><circle cx="474.3" cy="1494.7" r="3.1"/><circle cx="499.1" cy="1482.3" r="3.1"/><circle cx="497" cy="1488.2" r="3.1"/><circle cx="416.8" cy="1509" r="3.1"/><circle cx="538.3" cy="1485.5" r="3.1"/><circle cx="361.6" cy="1471.5" r="3.1"/><circle cx="538" cy="1471.8" r="3.1"/><circle cx="543" cy="1491.9" r="3.1"/><circle cx="481.3" cy="1517.8" r="3.1"/><circle cx="559.9" cy="1471.8" r="3.1"/><circle cx="471.4" cy="1426.2" r="3.1"/><circle cx="542.6" cy="1452.6" r="3.1"/><circle cx="536.5" cy="1487.6" r="3.1"/><circle cx="530.9" cy="1476.5" r="3.1"/><circle cx="498.7" cy="1467.5" r="3.1"/><circle cx="359.6" cy="1484.6" r="3.1"/><circle cx="529.8" cy="1462.9" r="3.1"/><circle cx="486.5" cy="1457.4" r="3.1"/><circle cx="513.9" cy="1482.7" r="3.1"/><circle cx="350.3" cy="1475.5" r="3.1"/><circle cx="506.7" cy="1428.1" r="3.1"/><circle cx="476.1" cy="1490.1" r="3.1"/><circle cx="506.3" cy="1482" r="3.1"/><circle cx="481.8" cy="1499.6" r="3.1"/><circle cx="417.8" cy="1464.9" r="3.1"/><circle cx="512.4" cy="1491.1" r="3.1"/><circle cx="523.2" cy="1500.3" r="3.1"/><circle cx="505.3" cy="1472.1" r="3.1"/><circle cx="544.9" cy="1484.7" r="3.1"/><circle cx="541.9" cy="1491.6" r="3.1"/><circle cx="514.6" cy="1451.9" r="3.1"/><circle cx="398.3" cy="1451.5" r="3.1"/><circle cx="547.5" cy="1485.1" r="3.1"/><circle cx="526.6" cy="1494.4" r="3.1"/><circle cx="309.3" cy="1469.3" r="3.1"/><circle cx="557.4" cy="1447.6" r="3.1"/><circle cx="516.2" cy="1492.8" r="3.1"/><circle cx="538.4" cy="1485.6" r="3.1"/><circle cx="549.3" cy="1497.4" r="3.1"/><circle cx="566.3" cy="1500.4" r="3.1"/><circle cx="525.1" cy="1506.5" r="3.1"/><circle cx="543.9" cy="1491.9" r="3.1"/><circle cx="572.5" cy="1513.1" r="3.1"/><circle cx="485.3" cy="1489.2" r="3.1"/><circle cx="559.3" cy="1513.5" r="3.1"/><circle cx="497.8" cy="1489.2" r="3.1"/><circle cx="445.1" cy="1507" r="3.1"/><circle cx="468.2" cy="1505.9" r="3.1"/><circle cx="574.2" cy="1514.3" r="3.1"/><circle cx="547.5" cy="1481" r="3.1"/><circle cx="528" cy="1441.4" r="3.1"/><circle cx="466.6" cy="1442.9" r="3.1"/><circle cx="456.9" cy="1467.7" r="3.1"/><circle cx="567" cy="1479.4" r="3.1"/><circle cx="467.5" cy="1501.3" r="3.1"/><circle cx="528.5" cy="1446.9" r="3.1"/><circle cx="560.5" cy="1497.9" r="3.1"/><circle cx="436.7" cy="1437.9" r="3.1"/><circle cx="558" cy="1462.8" r="3.1"/><circle cx="475.9" cy="1469.5" r="3.1"/><circle cx="531.2" cy="1471" r="3.1"/><circle cx="412.9" cy="1457.8" r="3.1"/><circle cx="423.7" cy="1539.2" r="3.1"/><circle cx="541.5" cy="1486.5" r="3.1"/><circle cx="527.8" cy="1439" r="3.1"/><circle cx="534.6" cy="1474.8" r="3.1"/><circle cx="559" cy="1475.2" r="3.1"/><circle cx="555" cy="1506" r="3.1"/><circle cx="492.1" cy="1474.9" r="3.1"/><circle cx="514.2" cy="1460.4" r="3.1"/><circle cx="461.4" cy="1492.9" r="3.1"/><circle cx="489.1" cy="1503.6" r="3.1"/><circle cx="529.4" cy="1489.3" r="3.1"/><circle cx="475.3" cy="1494.5" r="3.1"/><circle cx="401.8" cy="1471.7" r="3.1"/><circle cx="527" cy="1491.7" r="3.1"/><circle cx="483" cy="1467.1" r="3.1"/><circle cx="548.1" cy="1425.4" r="3.1"/><circle cx="221.9" cy="1442.6" r="3.1"/><circle cx="358.4" cy="1466.9" r="3.1"/><circle cx="504.9" cy="1475.6" r="3.1"/><circle cx="547.2" cy="1475.2" r="3.1"/><circle cx="533.2" cy="1487.4" r="3.1"/><circle cx="545.7" cy="1456.2" r="3.1"/><circle cx="259.4" cy="1486.3" r="3.1"/><circle cx="489.5" cy="1516.2" r="3.1"/><circle cx="482.2" cy="1441.1" r="3.1"/><circle cx="348.2" cy="1489" r="3.1"/><circle cx="520.2" cy="1502.2" r="3.1"/><circle cx="388.3" cy="1478" r="3.1"/><circle cx="526.7" cy="1474.4" r="3.1"/><circle cx="552.7" cy="1463.7" r="3.1"/><circle cx="419.9" cy="1487.2" r="3.1"/><circle cx="476.2" cy="1464.9" r="3.1"/><circle cx="530" cy="1472.9" r="3.1"/><circle cx="488.1" cy="1471.9" r="3.1"/><circle cx="539.4" cy="1474.2" r="3.1"/><circle cx="438.8" cy="1470.2" r="3.1"/><circle cx="535.8" cy="1472.1" r="3.1"/><circle cx="423.9" cy="1511.6" r="3.1"/><circle cx="364.8" cy="1509.2" r="3.1"/><circle cx="438.1" cy="1504.4" r="3.1"/><circle cx="340" cy="1467.4" r="3.1"/><circle cx="467.3" cy="1481.3" r="3.1"/><circle cx="392.6" cy="1499.9" r="3.1"/><circle cx="567" cy="1468" r="3.1"/><circle cx="571.2" cy="1440.6" r="3.1"/><circle cx="570.3" cy="1469.4" r="3.1"/><circle cx="563.6" cy="1493.3" r="3.1"/><circle cx="566.8" cy="1439.3" r="3.1"/><circle cx="426" cy="1500.7" r="3.1"/><circle cx="497" cy="1464.6" r="3.1"/><circle cx="562.7" cy="1454.1" r="3.1"/><circle cx="462.2" cy="1460.6" r="3.1"/><circle cx="571.6" cy="1478" r="3.1"/><circle cx="478.3" cy="1484.5" r="3.1"/><circle cx="421.4" cy="1475.1" r="3.1"/><circle cx="556.9" cy="1476.3" r="3.1"/><circle cx="577.5" cy="1473.7" r="3.1"/><circle cx="449.5" cy="1481.8" r="3.1"/><circle cx="555.6" cy="1436.1" r="3.1"/><circle cx="483.9" cy="1524.5" r="3.1"/><circle cx="466.3" cy="1435" r="3.1"/><circle cx="483.9" cy="1490.5" r="3.1"/><circle cx="244.8" cy="1474.1" r="3.1"/><circle cx="473.1" cy="1454" r="3.1"/><circle cx="383.6" cy="1505.2" r="3.1"/><circle cx="460.5" cy="1451.5" r="3.1"/><circle cx="454" cy="1483.1" r="3.1"/><circle cx="514.1" cy="1486" r="3.1"/><circle cx="453.6" cy="1482.4" r="3.1"/><circle cx="276" cy="1447" r="3.1"/><circle cx="371.3" cy="1483.9" r="3.1"/><circle cx="501" cy="1449.8" r="3.1"/><circle cx="362.3" cy="1487.5" r="3.1"/><circle cx="569.5" cy="1471" r="3.1"/><circle cx="577.8" cy="1456.1" r="3.1"/><circle cx="483.4" cy="1436.4" r="3.1"/><circle cx="512" cy="1487.9" r="3.1"/><circle cx="506.8" cy="1473.5" r="3.1"/><circle cx="477.9" cy="1469.9" r="3.1"/><circle cx="522" cy="1482.3" r="3.1"/><circle cx="441.1" cy="1446.1" r="3.1"/><circle cx="396.5" cy="1438.8" r="3.1"/><circle cx="463.6" cy="1504.5" r="3.1"/><circle cx="469" cy="1455.2" r="3.1"/><circle cx="516.5" cy="1480.4" r="3.1"/><circle cx="522.8" cy="1498.1" r="3.1"/><circle cx="546.7" cy="1447.5" r="3.1"/><circle cx="427.2" cy="1475.7" r="3.1"/><circle cx="529.8" cy="1445.1" r="3.1"/><circle cx="453.3" cy="1471.4" r="3.1"/><circle cx="514.2" cy="1449.8" r="3.1"/><circle cx="529.7" cy="1444.8" r="3.1"/><circle cx="547" cy="1477.6" r="3.1"/><circle cx="534.2" cy="1485.5" r="3.1"/><circle cx="483.5" cy="1457.5" r="3.1"/><circle cx="344" cy="1473.5" r="3.1"/><circle cx="428.5" cy="1499" r="3.1"/><circle cx="488.4" cy="1509.7" r="3.1"/><circle cx="525.7" cy="1492" r="3.1"/><circle cx="545.1" cy="1532.8" r="3.1"/><circle cx="513.7" cy="1479.3" r="3.1"/><circle cx="499" cy="1500.3" r="3.1"/><circle cx="563" cy="1521.1" r="3.1"/><circle cx="412.1" cy="1477.4" r="3.1"/><circle cx="558.2" cy="1477.3" r="3.1"/><circle cx="479.3" cy="1486.2" r="3.1"/><circle cx="561.8" cy="1465.9" r="3.1"/><circle cx="364.8" cy="1493.2" r="3.1"/><circle cx="570.3" cy="1488.3" r="3.1"/><circle cx="351.8" cy="1479.4" r="3.1"/><circle cx="496.6" cy="1489.2" r="3.1"/><circle cx="568" cy="1482.1" r="3.1"/><circle cx="509.2" cy="1466.8" r="3.1"/><circle cx="556.8" cy="1492.1" r="3.1"/><circle cx="520.4" cy="1477.1" r="3.1"/><circle cx="488.4" cy="1446.6" r="3.1"/><circle cx="384.2" cy="1470.9" r="3.1"/><circle cx="500.8" cy="1460.9" r="3.1"/><circle cx="542.8" cy="1493.9" r="3.1"/><circle cx="506.7" cy="1463.7" r="3.1"/><circle cx="528.8" cy="1491.6" r="3.1"/><circle cx="554.7" cy="1503.1" r="3.1"/><circle cx="534.8" cy="1522.9" r="3.1"/><circle cx="427.5" cy="1513.7" r="3.1"/><circle cx="530.1" cy="1456" r="3.1"/><circle cx="542.1" cy="1465.7" r="3.1"/><circle cx="505.6" cy="1484.1" r="3.1"/><circle cx="450" cy="1482.4" r="3.1"/><circle cx="468.6" cy="1486.5" r="3.1"/><circle cx="496.1" cy="1476.2" r="3.1"/><circle cx="425.2" cy="1489.6" r="3.1"/><circle cx="513.8" cy="1477.9" r="3.1"/><circle cx="560.9" cy="1466.8" r="3.1"/><circle cx="323" cy="1487.1" r="3.1"/><circle cx="351.5" cy="1469.9" r="3.1"/><circle cx="464.8" cy="1448.7" r="3.1"/><circle cx="489" cy="1472.6" r="3.1"/><circle cx="462" cy="1431.8" r="3.1"/><circle cx="531.3" cy="1460" r="3.1"/><circle cx="481.8" cy="1479.9" r="3.1"/><circle cx="560.8" cy="1488.9" r="3.1"/><circle cx="194.4" cy="1496.9" r="3.1"/><circle cx="501.7" cy="1511.7" r="3.1"/><circle cx="539" cy="1500.6" r="3.1"/><circle cx="557.3" cy="1485.3" r="3.1"/><circle cx="537.5" cy="1484" r="3.1"/><circle cx="524.1" cy="1486.6" r="3.1"/><circle cx="282.4" cy="1437.8" r="3.1"/><circle cx="557.1" cy="1500.8" r="3.1"/><circle cx="527.5" cy="1456.2" r="3.1"/><circle cx="553.5" cy="1496.5" r="3.1"/><circle cx="538" cy="1529" r="3.1"/><circle cx="420.4" cy="1497.1" r="3.1"/><circle cx="347" cy="1447.7" r="3.1"/><circle cx="545.7" cy="1478.3" r="3.1"/><circle cx="322.4" cy="1504.8" r="3.1"/><circle cx="537" cy="1442" r="3.1"/><circle cx="520" cy="1506.4" r="3.1"/><circle cx="548.1" cy="1436" r="3.1"/><circle cx="483.8" cy="1474.3" r="3.1"/><circle cx="491.9" cy="1452.2" r="3.1"/><circle cx="501.3" cy="1469.2" r="3.1"/><circle cx="485.6" cy="1495.3" r="3.1"/><circle cx="537.5" cy="1464.1" r="3.1"/><circle cx="529.8" cy="1492.4" r="3.1"/><circle cx="485" cy="1486.3" r="3.1"/><circle cx="167" cy="1478.5" r="3.1"/><circle cx="183.9" cy="1457" r="3.1"/><circle cx="400.5" cy="1506.3" r="3.1"/><circle cx="397" cy="1493.2" r="3.1"/><circle cx="421.3" cy="1458.6" r="3.1"/><circle cx="558.3" cy="1471.3" r="3.1"/><circle cx="333.6" cy="1500.3" r="3.1"/><circle cx="510.5" cy="1501.3" r="3.1"/><circle cx="554.3" cy="1485.9" r="3.1"/><circle cx="485" cy="1490" r="3.1"/><circle cx="414" cy="1463.3" r="3.1"/><circle cx="522" cy="1455.6" r="3.1"/><circle cx="436.2" cy="1487.2" r="3.1"/><circle cx="519.1" cy="1480.5" r="3.1"/><circle cx="484.5" cy="1470.5" r="3.1"/><circle cx="375.1" cy="1456.2" r="3.1"/><circle cx="469.1" cy="1503.6" r="3.1"/><circle cx="133.2" cy="1490.2" r="3.1"/><circle cx="377.6" cy="1476.8" r="3.1"/><circle cx="506.9" cy="1471.8" r="3.1"/><circle cx="431.8" cy="1467.1" r="3.1"/><circle cx="577.5" cy="1453.2" r="3.1"/><circle cx="519.2" cy="1500" r="3.1"/><circle cx="336.3" cy="1479" r="3.1"/><circle cx="476.1" cy="1472.2" r="3.1"/><circle cx="544.4" cy="1478.7" r="3.1"/><circle cx="533.3" cy="1457.1" r="3.1"/><circle cx="556.2" cy="1470.2" r="3.1"/><circle cx="525" cy="1477.1" r="3.1"/><circle cx="567" cy="1481.2" r="3.1"/><circle cx="482.4" cy="1467" r="3.1"/><circle cx="519.2" cy="1467.1" r="3.1"/><circle cx="265.5" cy="1487.1" r="3.1"/><circle cx="543.7" cy="1488.3" r="3.1"/><circle cx="516.3" cy="1482.8" r="3.1"/><circle cx="514" cy="1462.1" r="3.1"/><circle cx="524.3" cy="1495.7" r="3.1"/><circle cx="360.7" cy="1465.3" r="3.1"/><circle cx="364.3" cy="1510.7" r="3.1"/><circle cx="458.3" cy="1460.9" r="3.1"/><circle cx="491.5" cy="1436.2" r="3.1"/><circle cx="533.6" cy="1472" r="3.1"/><circle cx="465.2" cy="1475.3" r="3.1"/><circle cx="520.6" cy="1459.1" r="3.1"/><circle cx="482.5" cy="1483.4" r="3.1"/><circle cx="517.7" cy="1461" r="3.1"/><circle cx="551.3" cy="1513.1" r="3.1"/><circle cx="428.9" cy="1460.8" r="3.1"/><circle cx="424.7" cy="1481.6" r="3.1"/><circle cx="546.9" cy="1504.8" r="3.1"/><circle cx="574.3" cy="1448.8" r="3.1"/><circle cx="538.3" cy="1487.3" r="3.1"/><circle cx="534.9" cy="1512.9" r="3.1"/><circle cx="461.5" cy="1440.3" r="3.1"/><circle cx="532.7" cy="1457.3" r="3.1"/><circle cx="549.7" cy="1429.6" r="3.1"/><circle cx="403.1" cy="1474.3" r="3.1"/><circle cx="557.9" cy="1468.1" r="3.1"/><circle cx="549.8" cy="1499.7" r="3.1"/><circle cx="448.8" cy="1479.4" r="3.1"/><circle cx="449.6" cy="1499.3" r="3.1"/><circle cx="512.1" cy="1477" r="3.1"/><circle cx="520.9" cy="1447.9" r="3.1"/><circle cx="548.5" cy="1487.6" r="3.1"/><circle cx="512.2" cy="1499.1" r="3.1"/><circle cx="542.4" cy="1482.4" r="3.1"/><circle cx="534.2" cy="1477.3" r="3.1"/><circle cx="519.4" cy="1491.1" r="3.1"/><circle cx="572.1" cy="1478.1" r="3.1"/><circle cx="534.2" cy="1464.6" r="3.1"/><circle cx="558.1" cy="1492.4" r="3.1"/><circle cx="485.7" cy="1497" r="3.1"/><circle cx="410.4" cy="1477.2" r="3.1"/><circle cx="445.6" cy="1506.1" r="3.1"/><circle cx="534.8" cy="1519.9" r="3.1"/><circle cx="532.9" cy="1524.3" r="3.1"/><circle cx="403.2" cy="1457" r="3.1"/><circle cx="457.2" cy="1493" r="3.1"/><circle cx="550.5" cy="1433.7" r="3.1"/><circle cx="560.9" cy="1468.1" r="3.1"/><circle cx="480.6" cy="1478.1" r="3.1"/><circle cx="573.8" cy="1444.8" r="3.1"/><circle cx="481.5" cy="1454" r="3.1"/><circle cx="433.9" cy="1491.2" r="3.1"/><circle cx="410.5" cy="1471.2" r="3.1"/><circle cx="535" cy="1464.7" r="3.1"/><circle cx="578.6" cy="1495.5" r="3.1"/><circle cx="556.9" cy="1479.2" r="3.1"/><circle cx="367.8" cy="1464.1" r="3.1"/><circle cx="552.6" cy="1487.8" r="3.1"/><circle cx="452.2" cy="1492.5" r="3.1"/><circle cx="526.2" cy="1488.7" r="3.1"/><circle cx="489.9" cy="1452.2" r="3.1"/><circle cx="578.6" cy="1474.1" r="3.1"/><circle cx="526.3" cy="1486.6" r="3.1"/><circle cx="541.7" cy="1475.5" r="3.1"/><circle cx="569.6" cy="1483.5" r="3.1"/><circle cx="369.2" cy="1478.6" r="3.1"/><circle cx="394.7" cy="1479.4" r="3.1"/><circle cx="471.3" cy="1481.9" r="3.1"/><circle cx="571" cy="1496.6" r="3.1"/><circle cx="549.6" cy="1470.7" r="3.1"/><circle cx="433.3" cy="1449.1" r="3.1"/><circle cx="567.7" cy="1496.9" r="3.1"/><circle cx="496.8" cy="1476.4" r="3.1"/><circle cx="524.6" cy="1489.1" r="3.1"/><circle cx="558.9" cy="1494.1" r="3.1"/><circle cx="512.1" cy="1491.6" r="3.1"/><circle cx="327.2" cy="1473.5" r="3.1"/><circle cx="425.6" cy="1462.8" r="3.1"/><circle cx="324.2" cy="1484.1" r="3.1"/><circle cx="455.5" cy="1485.4" r="3.1"/><circle cx="527.1" cy="1478.3" r="3.1"/><circle cx="330" cy="1504.8" r="3.1"/><circle cx="317.1" cy="1468.8" r="3.1"/><circle cx="440.8" cy="1505" r="3.1"/><circle cx="571.3" cy="1512.3" r="3.1"/><circle cx="507.4" cy="1453.8" r="3.1"/><circle cx="460.9" cy="1469" r="3.1"/><circle cx="543.6" cy="1474.2" r="3.1"/><circle cx="543.4" cy="1449.9" r="3.1"/><circle cx="491.9" cy="1473" r="3.1"/><circle cx="536.2" cy="1445.1" r="3.1"/><circle cx="473.1" cy="1512.5" r="3.1"/><circle cx="428.1" cy="1492.6" r="3.1"/><circle cx="479.9" cy="1467.9" r="3.1"/><circle cx="574.1" cy="1498.5" r="3.1"/><circle cx="183.2" cy="1482.1" r="3.1"/><circle cx="523.9" cy="1510.6" r="3.1"/><circle cx="556.7" cy="1462.6" r="3.1"/><circle cx="402.2" cy="1503" r="3.1"/><circle cx="533" cy="1489.3" r="3.1"/><circle cx="534.7" cy="1512.9" r="3.1"/><circle cx="420.5" cy="1500" r="3.1"/><circle cx="566.5" cy="1476.4" r="3.1"/><circle cx="529.6" cy="1485.8" r="3.1"/><circle cx="397.8" cy="1471.5" r="3.1"/><circle cx="521.4" cy="1463.3" r="3.1"/><circle cx="449" cy="1534.7" r="3.1"/><circle cx="522.2" cy="1515.4" r="3.1"/><circle cx="465.4" cy="1506.9" r="3.1"/><circle cx="576.1" cy="1445.6" r="3.1"/><circle cx="390" cy="1484.7" r="3.1"/><circle cx="548.1" cy="1503.8" r="3.1"/><circle cx="553.4" cy="1496.9" r="3.1"/><circle cx="565" cy="1458.3" r="3.1"/><circle cx="573.3" cy="1486.2" r="3.1"/><circle cx="480.7" cy="1472.4" r="3.1"/><circle cx="345.6" cy="1492" r="3.1"/><circle cx="415" cy="1473.1" r="3.1"/><circle cx="566.1" cy="1503.2" r="3.1"/><circle cx="436.8" cy="1484.1" r="3.1"/><circle cx="497.5" cy="1509.9" r="3.1"/><circle cx="449.7" cy="1448.5" r="3.1"/><circle cx="488.8" cy="1471.3" r="3.1"/><circle cx="522" cy="1503.8" r="3.1"/><circle cx="493.8" cy="1463.6" r="3.1"/><circle cx="554.8" cy="1479.8" r="3.1"/><circle cx="539.5" cy="1474.1" r="3.1"/><circle cx="438.4" cy="1482" r="3.1"/><circle cx="468.7" cy="1517.5" r="3.1"/><circle cx="349.8" cy="1472.7" r="3.1"/><circle cx="543.8" cy="1480.8" r="3.1"/><circle cx="504.5" cy="1484.4" r="3.1"/><circle cx="548.7" cy="1487.8" r="3.1"/><circle cx="367.3" cy="1506.1" r="3.1"/><circle cx="420.5" cy="1472.4" r="3.1"/><circle cx="568.3" cy="1476.3" r="3.1"/><circle cx="493.7" cy="1466.9" r="3.1"/><circle cx="530.3" cy="1480.3" r="3.1"/><circle cx="496.8" cy="1466.2" r="3.1"/><circle cx="445.2" cy="1526.6" r="3.1"/><circle cx="539.5" cy="1507.1" r="3.1"/><circle cx="477.9" cy="1470.9" r="3.1"/><circle cx="380" cy="1465.2" r="3.1"/><circle cx="516.4" cy="1462.2" r="3.1"/><circle cx="464.7" cy="1507.3" r="3.1"/><circle cx="540.2" cy="1447.2" r="3.1"/><circle cx="567.3" cy="1468.6" r="3.1"/><circle cx="317.2" cy="1486.9" r="3.1"/><circle cx="467.3" cy="1519.3" r="3.1"/><circle cx="536.8" cy="1481.1" r="3.1"/><circle cx="311" cy="1496.9" r="3.1"/><circle cx="498" cy="1495.5" r="3.1"/><circle cx="367.1" cy="1474.8" r="3.1"/><circle cx="421.3" cy="1480.4" r="3.1"/><circle cx="570.1" cy="1479.9" r="3.1"/><circle cx="490.7" cy="1482.3" r="3.1"/><circle cx="552.4" cy="1452.4" r="3.1"/><circle cx="517" cy="1463.5" r="3.1"/><circle cx="442.8" cy="1497.2" r="3.1"/><circle cx="463.6" cy="1457.3" r="3.1"/><circle cx="560.9" cy="1520.3" r="3.1"/><circle cx="408.6" cy="1495" r="3.1"/><circle cx="562.2" cy="1408.8" r="3.1"/><circle cx="428.7" cy="1481.8" r="3.1"/><circle cx="557.2" cy="1440.4" r="3.1"/><circle cx="483.4" cy="1480.3" r="3.1"/><circle cx="485.1" cy="1461.5" r="3.1"/><circle cx="407.8" cy="1537.8" r="3.1"/><circle cx="320.6" cy="1467.4" r="3.1"/><circle cx="454.7" cy="1477.4" r="3.1"/><circle cx="466.2" cy="1459.5" r="3.1"/><circle cx="526.9" cy="1468.9" r="3.1"/><circle cx="574.8" cy="1505.6" r="3.1"/><circle cx="571.3" cy="1455.7" r="3.1"/><circle cx="402.3" cy="1464.5" r="3.1"/><circle cx="334.6" cy="1443.1" r="3.1"/><circle cx="522.4" cy="1495" r="3.1"/><circle cx="550.1" cy="1526.3" r="3.1"/><circle cx="539.2" cy="1507.5" r="3.1"/><circle cx="480" cy="1510.5" r="3.1"/><circle cx="404.9" cy="1506.3" r="3.1"/><circle cx="485.8" cy="1461.7" r="3.1"/><circle cx="516.9" cy="1509.7" r="3.1"/><circle cx="412.4" cy="1502.5" r="3.1"/><circle cx="399.2" cy="1444" r="3.1"/><circle cx="415.7" cy="1481.6" r="3.1"/><circle cx="417.2" cy="1483.1" r="3.1"/><circle cx="530.2" cy="1476.2" r="3.1"/><circle cx="510.9" cy="1442.4" r="3.1"/><circle cx="541.6" cy="1456" r="3.1"/><circle cx="525.2" cy="1463.1" r="3.1"/><circle cx="470.1" cy="1442.4" r="3.1"/><circle cx="541.3" cy="1442.9" r="3.1"/><circle cx="434.8" cy="1458.7" r="3.1"/><circle cx="502.8" cy="1481.7" r="3.1"/><circle cx="261.2" cy="1494.5" r="3.1"/><circle cx="393" cy="1480.9" r="3.1"/><circle cx="501.2" cy="1484.2" r="3.1"/><circle cx="553.8" cy="1514.5" r="3.1"/><circle cx="531.7" cy="1470.4" r="3.1"/><circle cx="520.3" cy="1453.2" r="3.1"/><circle cx="492.8" cy="1451.2" r="3.1"/><circle cx="465.1" cy="1447" r="3.1"/><circle cx="373.2" cy="1466.7" r="3.1"/><circle cx="503.2" cy="1476.9" r="3.1"/><circle cx="548.1" cy="1451.6" r="3.1"/><circle cx="548.2" cy="1500.8" r="3.1"/><circle cx="479.9" cy="1478.6" r="3.1"/><circle cx="551.1" cy="1476.1" r="3.1"/><circle cx="577.7" cy="1442.8" r="3.1"/><circle cx="516.1" cy="1458.7" r="3.1"/><circle cx="553.1" cy="1458.2" r="3.1"/><circle cx="323.6" cy="1452.4" r="3.1"/><circle cx="563.1" cy="1491" r="3.1"/><circle cx="544.9" cy="1448" r="3.1"/><circle cx="506.5" cy="1515.1" r="3.1"/><circle cx="464.3" cy="1470.9" r="3.1"/><circle cx="488.8" cy="1474.9" r="3.1"/><circle cx="432.4" cy="1484.8" r="3.1"/><circle cx="553.9" cy="1474.1" r="3.1"/><circle cx="365.4" cy="1472.3" r="3.1"/><circle cx="445.2" cy="1467.4" r="3.1"/><circle cx="549" cy="1513.5" r="3.1"/><circle cx="494.6" cy="1497.6" r="3.1"/><circle cx="458.8" cy="1497.5" r="3.1"/><circle cx="420.7" cy="1477" r="3.1"/><circle cx="376.6" cy="1487.7" r="3.1"/><circle cx="383.2" cy="1464" r="3.1"/><circle cx="495.4" cy="1508.3" r="3.1"/><circle cx="497.4" cy="1482.5" r="3.1"/><circle cx="557" cy="1456" r="3.1"/><circle cx="554.6" cy="1490.7" r="3.1"/><circle cx="558.3" cy="1510.9" r="3.1"/><circle cx="555.2" cy="1511.6" r="3.1"/><circle cx="533.1" cy="1492.6" r="3.1"/><circle cx="546.2" cy="1464.4" r="3.1"/><circle cx="345.8" cy="1461.9" r="3.1"/><circle cx="475.7" cy="1496.2" r="3.1"/><circle cx="533.5" cy="1470.1" r="3.1"/><circle cx="540.8" cy="1500.7" r="3.1"/><circle cx="537.4" cy="1497.9" r="3.1"/><circle cx="484.1" cy="1455.1" r="3.1"/><circle cx="539.2" cy="1482.8" r="3.1"/><circle cx="447.2" cy="1492.9" r="3.1"/><circle cx="512.7" cy="1484.7" r="3.1"/><circle cx="134.7" cy="1464" r="3.1"/><circle cx="259.7" cy="1474.2" r="3.1"/><circle cx="545.4" cy="1495.8" r="3.1"/><circle cx="500.2" cy="1492.8" r="3.1"/><circle cx="411.7" cy="1473.6" r="3.1"/><circle cx="469.7" cy="1426.1" r="3.1"/><circle cx="531.8" cy="1500.5" r="3.1"/><circle cx="447.4" cy="1432.3" r="3.1"/><circle cx="517.2" cy="1496.5" r="3.1"/><circle cx="522" cy="1482.9" r="3.1"/><circle cx="525" cy="1449.1" r="3.1"/><circle cx="518.3" cy="1470.9" r="3.1"/><circle cx="410.3" cy="1485.7" r="3.1"/><circle cx="452.1" cy="1471.6" r="3.1"/><circle cx="526.1" cy="1513.8" r="3.1"/><circle cx="401.1" cy="1507.4" r="3.1"/><circle cx="558.3" cy="1454.8" r="3.1"/><circle cx="482.6" cy="1491.9" r="3.1"/><circle cx="467.3" cy="1498.6" r="3.1"/><circle cx="553.8" cy="1485.1" r="3.1"/><circle cx="397.1" cy="1461.6" r="3.1"/><circle cx="565.8" cy="1435.3" r="3.1"/><circle cx="505.9" cy="1492.1" r="3.1"/><circle cx="545.9" cy="1477.5" r="3.1"/><circle cx="553.4" cy="1451.3" r="3.1"/><circle cx="519.9" cy="1471.4" r="3.1"/><circle cx="454.6" cy="1462.2" r="3.1"/><circle cx="484.8" cy="1508.8" r="3.1"/><circle cx="533.2" cy="1485.3" r="3.1"/><circle cx="494" cy="1486.4" r="3.1"/><circle cx="511" cy="1464.4" r="3.1"/><circle cx="374" cy="1469.6" r="3.1"/><circle cx="487.2" cy="1491.7" r="3.1"/><circle cx="497.5" cy="1471.3" r="3.1"/><circle cx="406.8" cy="1463.4" r="3.1"/><circle cx="486.3" cy="1499.8" r="3.1"/><circle cx="272.1" cy="1450.2" r="3.1"/><circle cx="563.1" cy="1486.6" r="3.1"/><circle cx="487.3" cy="1472.3" r="3.1"/><circle cx="489" cy="1455.2" r="3.1"/><circle cx="468.8" cy="1498.5" r="3.1"/><circle cx="524.3" cy="1458.8" r="3.1"/><circle cx="264.6" cy="1492.7" r="3.1"/><circle cx="558" cy="1448.3" r="3.1"/><circle cx="325.9" cy="1494.4" r="3.1"/><circle cx="575" cy="1524.1" r="3.1"/><circle cx="510.2" cy="1502.3" r="3.1"/><circle cx="374.1" cy="1447.6" r="3.1"/><circle cx="564.1" cy="1480.4" r="3.1"/><circle cx="578.2" cy="1459.1" r="3.1"/><circle cx="304.2" cy="1440.6" r="3.1"/><circle cx="504.6" cy="1453" r="3.1"/><circle cx="538.1" cy="1442.1" r="3.1"/><circle cx="509.1" cy="1510" r="3.1"/><circle cx="521.2" cy="1460.5" r="3.1"/><circle cx="529.8" cy="1454" r="3.1"/><circle cx="526.4" cy="1451" r="3.1"/><circle cx="549.3" cy="1465" r="3.1"/><circle cx="545.8" cy="1493.3" r="3.1"/><circle cx="354.1" cy="1488.2" r="3.1"/><circle cx="528.9" cy="1471.1" r="3.1"/><circle cx="356.3" cy="1441.5" r="3.1"/><circle cx="388.6" cy="1504.6" r="3.1"/><circle cx="526.1" cy="1529.5" r="3.1"/><circle cx="489.7" cy="1498.1" r="3.1"/><circle cx="493.8" cy="1484.7" r="3.1"/><circle cx="467.5" cy="1475.6" r="3.1"/><circle cx="504.5" cy="1455.3" r="3.1"/><circle cx="321.8" cy="1498.3" r="3.1"/><circle cx="526" cy="1521.7" r="3.1"/><circle cx="390.9" cy="1501.6" r="3.1"/><circle cx="402.1" cy="1459.3" r="3.1"/><circle cx="439.4" cy="1469.5" r="3.1"/><circle cx="461.6" cy="1496.5" r="3.1"/><circle cx="564.7" cy="1534.7" r="3.1"/><circle cx="468.8" cy="1479.3" r="3.1"/><circle cx="481.8" cy="1483.8" r="3.1"/><circle cx="490.7" cy="1467.6" r="3.1"/><circle cx="423.6" cy="1481.8" r="3.1"/><circle cx="448.4" cy="1455.5" r="3.1"/><circle cx="398.6" cy="1484.3" r="3.1"/><circle cx="456.6" cy="1483.4" r="3.1"/><circle cx="555.4" cy="1473.6" r="3.1"/><circle cx="556.5" cy="1496.7" r="3.1"/><circle cx="480.5" cy="1482.7" r="3.1"/><circle cx="375.3" cy="1464.2" r="3.1"/><circle cx="457.5" cy="1512.7" r="3.1"/><circle cx="518.5" cy="1477.6" r="3.1"/><circle cx="516.6" cy="1452.6" r="3.1"/><circle cx="503.1" cy="1457.9" r="3.1"/><circle cx="323.8" cy="1469.2" r="3.1"/><circle cx="338.9" cy="1489.8" r="3.1"/><circle cx="571" cy="1467.3" r="3.1"/><circle cx="471.6" cy="1492.5" r="3.1"/><circle cx="427.7" cy="1483.7" r="3.1"/><circle cx="501.9" cy="1474.8" r="3.1"/><circle cx="440.2" cy="1471.2" r="3.1"/><circle cx="544.4" cy="1472.4" r="3.1"/><circle cx="448.6" cy="1496.8" r="3.1"/><circle cx="530.8" cy="1478.5" r="3.1"/><circle cx="552.6" cy="1498.5" r="3.1"/><circle cx="572" cy="1478.8" r="3.1"/><circle cx="553.1" cy="1449.9" r="3.1"/><circle cx="552.4" cy="1527" r="3.1"/><circle cx="453.7" cy="1501.9" r="3.1"/><circle cx="337.9" cy="1508.7" r="3.1"/><circle cx="564.5" cy="1477.3" r="3.1"/><circle cx="556.7" cy="1485.2" r="3.1"/><circle cx="507.2" cy="1487.3" r="3.1"/><circle cx="498.1" cy="1479.4" r="3.1"/><circle cx="570.5" cy="1486.1" r="3.1"/><circle cx="540.5" cy="1459.1" r="3.1"/><circle cx="424.1" cy="1460.1" r="3.1"/><circle cx="513.3" cy="1449.4" r="3.1"/><circle cx="548.7" cy="1460" r="3.1"/><circle cx="461.1" cy="1477.7" r="3.1"/><circle cx="426.9" cy="1486.3" r="3.1"/><circle cx="537.4" cy="1491" r="3.1"/><circle cx="516.8" cy="1472.1" r="3.1"/><circle cx="542.4" cy="1463.5" r="3.1"/><circle cx="553.6" cy="1484.2" r="3.1"/><circle cx="523" cy="1482.5" r="3.1"/><circle cx="411" cy="1436.8" r="3.1"/><circle cx="441.7" cy="1451.8" r="3.1"/><circle cx="457" cy="1490.3" r="3.1"/><circle cx="563.2" cy="1445.1" r="3.1"/><circle cx="554.4" cy="1488.8" r="3.1"/><circle cx="560.1" cy="1495.9" r="3.1"/><circle cx="574" cy="1470.5" r="3.1"/><circle cx="353.8" cy="1475.2" r="3.1"/><circle cx="539.4" cy="1453" r="3.1"/><circle cx="353.6" cy="1462.5" r="3.1"/><circle cx="484.9" cy="1437.8" r="3.1"/><circle cx="398.4" cy="1518.2" r="3.1"/><circle cx="436.7" cy="1456.3" r="3.1"/><circle cx="461.2" cy="1465.7" r="3.1"/><circle cx="459.3" cy="1486.2" r="3.1"/><circle cx="422.7" cy="1496.5" r="3.1"/><circle cx="533" cy="1464.5" r="3.1"/><circle cx="551.4" cy="1474.8" r="3.1"/><circle cx="365.2" cy="1479" r="3.1"/><circle cx="524.2" cy="1447.2" r="3.1"/><circle cx="392.4" cy="1470.2" r="3.1"/><circle cx="503.1" cy="1439.2" r="3.1"/><circle cx="502.8" cy="1465.4" r="3.1"/><circle cx="556.2" cy="1444.8" r="3.1"/><circle cx="520.9" cy="1504" r="3.1"/><circle cx="361" cy="1524.9" r="3.1"/><circle cx="447.1" cy="1461.3" r="3.1"/><circle cx="463.5" cy="1463.3" r="3.1"/><circle cx="401.2" cy="1503.9" r="3.1"/><circle cx="444.7" cy="1479.7" r="3.1"/><circle cx="453.9" cy="1495.6" r="3.1"/><circle cx="354" cy="1493.5" r="3.1"/><circle cx="478.8" cy="1486.6" r="3.1"/><circle cx="475.8" cy="1488.2" r="3.1"/><circle cx="275.3" cy="1470.3" r="3.1"/><circle cx="356.9" cy="1475.6" r="3.1"/><circle cx="411" cy="1499.9" r="3.1"/><circle cx="493.8" cy="1470.5" r="3.1"/><circle cx="266.5" cy="1460.3" r="3.1"/><circle cx="491.7" cy="1480.7" r="3.1"/><circle cx="350.8" cy="1464.7" r="3.1"/><circle cx="411.1" cy="1503.3" r="3.1"/><circle cx="325.1" cy="1452.3" r="3.1"/><circle cx="398.6" cy="1481.6" r="3.1"/><circle cx="485" cy="1483.2" r="3.1"/><circle cx="269.9" cy="1501.1" r="3.1"/><circle cx="440.3" cy="1455.1" r="3.1"/><circle cx="295.2" cy="1482.9" r="3.1"/><circle cx="485" cy="1447.5" r="3.1"/><circle cx="490.2" cy="1497.3" r="3.1"/><circle cx="495" cy="1471.1" r="3.1"/><circle cx="307.8" cy="1494.2" r="3.1"/><circle cx="469.5" cy="1488.5" r="3.1"/><circle cx="395.2" cy="1479.3" r="3.1"/><circle cx="285.2" cy="1475" r="3.1"/><circle cx="291.3" cy="1494" r="3.1"/><circle cx="373.5" cy="1513.9" r="3.1"/><circle cx="481.3" cy="1482.9" r="3.1"/><circle cx="365.2" cy="1502.9" r="3.1"/><circle cx="272" cy="1448.1" r="3.1"/><circle cx="384.1" cy="1475" r="3.1"/><circle cx="290.1" cy="1464.9" r="3.1"/><circle cx="280.9" cy="1487.8" r="3.1"/><circle cx="498.8" cy="1482.5" r="3.1"/><circle cx="339.1" cy="1435.4" r="3.1"/><circle cx="501.6" cy="1486" r="3.1"/><circle cx="350.2" cy="1493.9" r="3.1"/><circle cx="465.8" cy="1518.5" r="3.1"/><circle cx="438.2" cy="1461.1" r="3.1"/><circle cx="290.8" cy="1452.1" r="3.1"/><circle cx="355.3" cy="1484.8" r="3.1"/><circle cx="484.9" cy="1465.4" r="3.1"/><circle cx="301.8" cy="1465.7" r="3.1"/><circle cx="443.2" cy="1510.4" r="3.1"/><circle cx="341.3" cy="1452.5" r="3.1"/><circle cx="373.2" cy="1482.4" r="3.1"/><circle cx="427.6" cy="1455.8" r="3.1"/><circle cx="465.9" cy="1459.6" r="3.1"/><circle cx="451.7" cy="1487.6" r="3.1"/><circle cx="405.9" cy="1436.2" r="3.1"/><circle cx="363.3" cy="1483.2" r="3.1"/><circle cx="270.1" cy="1502" r="3.1"/><circle cx="307" cy="1445.2" r="3.1"/><circle cx="319.5" cy="1479.9" r="3.1"/><circle cx="414.9" cy="1500.1" r="3.1"/><circle cx="282.1" cy="1519.4" r="3.1"/><circle cx="415.8" cy="1458.1" r="3.1"/><circle cx="482.7" cy="1491.5" r="3.1"/><circle cx="331.5" cy="1484.6" r="3.1"/><circle cx="325.8" cy="1470.5" r="3.1"/><circle cx="275.4" cy="1447" r="3.1"/><circle cx="431.9" cy="1496.5" r="3.1"/><circle cx="310.4" cy="1485.3" r="3.1"/><circle cx="403.5" cy="1485.4" r="3.1"/><circle cx="448.7" cy="1493.6" r="3.1"/><circle cx="368.9" cy="1461" r="3.1"/><circle cx="474.1" cy="1490" r="3.1"/><circle cx="462" cy="1471.6" r="3.1"/><circle cx="370.7" cy="1470.3" r="3.1"/><circle cx="443.2" cy="1505.9" r="3.1"/><circle cx="460.3" cy="1457.8" r="3.1"/><circle cx="314.7" cy="1478.1" r="3.1"/><circle cx="431.5" cy="1472.6" r="3.1"/><circle cx="437.1" cy="1477.4" r="3.1"/><circle cx="283.8" cy="1513.8" r="3.1"/><circle cx="463.9" cy="1490.5" r="3.1"/><circle cx="415.1" cy="1443.8" r="3.1"/><circle cx="315.6" cy="1481.1" r="3.1"/><circle cx="326.5" cy="1497.6" r="3.1"/><circle cx="263.5" cy="1520.6" r="3.1"/><circle cx="309.4" cy="1479" r="3.1"/><circle cx="374.3" cy="1479.8" r="3.1"/><circle cx="287.7" cy="1490.3" r="3.1"/><circle cx="372.7" cy="1474.5" r="3.1"/><circle cx="473" cy="1504.7" r="3.1"/><circle cx="355.2" cy="1520.9" r="3.1"/><circle cx="373.1" cy="1496.6" r="3.1"/><circle cx="393.6" cy="1488.4" r="3.1"/><circle cx="456.7" cy="1451.9" r="3.1"/><circle cx="332" cy="1515.5" r="3.1"/><circle cx="261.9" cy="1483.4" r="3.1"/><circle cx="283" cy="1429.3" r="3.1"/><circle cx="412.7" cy="1454.6" r="3.1"/><circle cx="439.5" cy="1474.7" r="3.1"/><circle cx="470.6" cy="1483.2" r="3.1"/><circle cx="327.4" cy="1474.7" r="3.1"/><circle cx="383.9" cy="1464.9" r="3.1"/><circle cx="328.5" cy="1464.3" r="3.1"/><circle cx="290.3" cy="1483.1" r="3.1"/><circle cx="297" cy="1517" r="3.1"/><circle cx="421" cy="1521.6" r="3.1"/><circle cx="427.4" cy="1516.4" r="3.1"/><circle cx="347" cy="1472.2" r="3.1"/><circle cx="321.7" cy="1498.7" r="3.1"/><circle cx="308.3" cy="1477.6" r="3.1"/><circle cx="403.2" cy="1503.2" r="3.1"/><circle cx="421" cy="1467.3" r="3.1"/><circle cx="326" cy="1482.3" r="3.1"/><circle cx="306.7" cy="1500.3" r="3.1"/><circle cx="315.2" cy="1510.8" r="3.1"/><circle cx="295.8" cy="1457.7" r="3.1"/><circle cx="462" cy="1517.6" r="3.1"/><circle cx="303.6" cy="1456" r="3.1"/><circle cx="405.7" cy="1494.4" r="3.1"/><circle cx="398.9" cy="1473.7" r="3.1"/><circle cx="368.4" cy="1483.4" r="3.1"/><circle cx="371.5" cy="1490.1" r="3.1"/><circle cx="427.3" cy="1493.2" r="3.1"/><circle cx="471.1" cy="1471.8" r="3.1"/><circle cx="420.8" cy="1483.6" r="3.1"/><circle cx="365.2" cy="1477.8" r="3.1"/><circle cx="298.2" cy="1469.9" r="3.1"/><circle cx="460.3" cy="1468.8" r="3.1"/><circle cx="303.2" cy="1466.3" r="3.1"/><circle cx="288.4" cy="1488.9" r="3.1"/><circle cx="353.6" cy="1511.6" r="3.1"/><circle cx="351.3" cy="1495.3" r="3.1"/><circle cx="268.4" cy="1455.8" r="3.1"/><circle cx="409.8" cy="1505.8" r="3.1"/><circle cx="469.5" cy="1475.2" r="3.1"/><circle cx="417.2" cy="1464.1" r="3.1"/><circle cx="310.9" cy="1481.5" r="3.1"/><circle cx="324.9" cy="1468.6" r="3.1"/><circle cx="365.6" cy="1448.9" r="3.1"/><circle cx="433.4" cy="1460.4" r="3.1"/><circle cx="304.4" cy="1441.7" r="3.1"/><circle cx="446.4" cy="1469.3" r="3.1"/><circle cx="441.6" cy="1488" r="3.1"/><circle cx="390.9" cy="1484.6" r="3.1"/><circle cx="292.9" cy="1510.3" r="3.1"/><circle cx="336.3" cy="1504.6" r="3.1"/><circle cx="481.3" cy="1464.2" r="3.1"/><circle cx="467.8" cy="1474.7" r="3.1"/><circle cx="462.9" cy="1477.1" r="3.1"/><circle cx="400.2" cy="1474.8" r="3.1"/><circle cx="419.3" cy="1485.4" r="3.1"/><circle cx="307.6" cy="1500.7" r="3.1"/><circle cx="291.5" cy="1456.1" r="3.1"/><circle cx="363.7" cy="1490.1" r="3.1"/><circle cx="278.8" cy="1495.9" r="3.1"/><circle cx="389.2" cy="1486.5" r="3.1"/><circle cx="323.6" cy="1473.8" r="3.1"/><circle cx="383.6" cy="1455.5" r="3.1"/><circle cx="343.8" cy="1494.7" r="3.1"/><circle cx="444.2" cy="1477.1" r="3.1"/><circle cx="321.1" cy="1458.9" r="3.1"/><circle cx="301.3" cy="1487.3" r="3.1"/><circle cx="454" cy="1443.9" r="3.1"/><circle cx="394.1" cy="1481.4" r="3.1"/><circle cx="406.4" cy="1476" r="3.1"/><circle cx="372.6" cy="1500.8" r="3.1"/><circle cx="274.8" cy="1456.5" r="3.1"/><circle cx="377.3" cy="1462.3" r="3.1"/><circle cx="305.6" cy="1477.4" r="3.1"/><circle cx="342.7" cy="1495.2" r="3.1"/><circle cx="493.3" cy="1474.5" r="3.1"/><circle cx="421" cy="1480.8" r="3.1"/><circle cx="303" cy="1495.7" r="3.1"/><circle cx="488" cy="1469.5" r="3.1"/><circle cx="443.8" cy="1506.1" r="3.1"/><circle cx="333" cy="1528.3" r="3.1"/><circle cx="263.3" cy="1443.8" r="3.1"/><circle cx="376" cy="1473.9" r="3.1"/><circle cx="396.9" cy="1507.2" r="3.1"/><circle cx="404.2" cy="1490.3" r="3.1"/><circle cx="415" cy="1465" r="3.1"/><circle cx="441" cy="1489.8" r="3.1"/><circle cx="477.3" cy="1468.2" r="3.1"/><circle cx="406.8" cy="1527.5" r="3.1"/><circle cx="409.9" cy="1481.9" r="3.1"/><circle cx="399.2" cy="1481.1" r="3.1"/><circle cx="463.8" cy="1505.9" r="3.1"/><circle cx="261" cy="1454.8" r="3.1"/><circle cx="400.9" cy="1457.4" r="3.1"/><circle cx="430.6" cy="1492.1" r="3.1"/><circle cx="331.4" cy="1505.9" r="3.1"/><circle cx="417" cy="1506" r="3.1"/><circle cx="468.3" cy="1450.8" r="3.1"/><circle cx="399.4" cy="1491.3" r="3.1"/><circle cx="392.9" cy="1503.2" r="3.1"/><circle cx="363.5" cy="1515.9" r="3.1"/><circle cx="422.4" cy="1438.8" r="3.1"/><circle cx="419.2" cy="1444.7" r="3.1"/><circle cx="454.7" cy="1484.4" r="3.1"/><circle cx="375.8" cy="1477.2" r="3.1"/><circle cx="439" cy="1453.5" r="3.1"/><circle cx="433.9" cy="1469.2" r="3.1"/><circle cx="384.9" cy="1510.7" r="3.1"/><circle cx="472.7" cy="1475.6" r="3.1"/><circle cx="309" cy="1494.4" r="3.1"/><circle cx="462" cy="1472.1" r="3.1"/><circle cx="471.1" cy="1475.5" r="3.1"/><circle cx="367.8" cy="1486.6" r="3.1"/><circle cx="430.9" cy="1504.2" r="3.1"/><circle cx="442.2" cy="1458.3" r="3.1"/><circle cx="297.1" cy="1469.3" r="3.1"/><circle cx="441.8" cy="1504.9" r="3.1"/><circle cx="442.6" cy="1475.8" r="3.1"/><circle cx="428.8" cy="1493.2" r="3.1"/><circle cx="345.2" cy="1480" r="3.1"/><circle cx="481.6" cy="1487.1" r="3.1"/><circle cx="444.9" cy="1470.9" r="3.1"/><circle cx="486.1" cy="1464.2" r="3.1"/><circle cx="309.1" cy="1500" r="3.1"/><circle cx="277.8" cy="1480.2" r="3.1"/><circle cx="416.6" cy="1484.1" r="3.1"/><circle cx="398.7" cy="1489.9" r="3.1"/><circle cx="396.2" cy="1485.8" r="3.1"/><circle cx="451.6" cy="1491.6" r="3.1"/><circle cx="276.6" cy="1448.5" r="3.1"/><circle cx="475.6" cy="1490.8" r="3.1"/><circle cx="395.7" cy="1475.1" r="3.1"/><circle cx="410.1" cy="1479.5" r="3.1"/><circle cx="371.7" cy="1466.1" r="3.1"/><circle cx="480.5" cy="1480.4" r="3.1"/><circle cx="491.5" cy="1499.8" r="3.1"/><circle cx="278.1" cy="1492.5" r="3.1"/><circle cx="314.3" cy="1494.2" r="3.1"/><circle cx="450.6" cy="1468" r="3.1"/><circle cx="273.7" cy="1484.3" r="3.1"/><circle cx="355.6" cy="1474.2" r="3.1"/><circle cx="486.9" cy="1478.5" r="3.1"/><circle cx="443.6" cy="1496.8" r="3.1"/><circle cx="289.9" cy="1430.2" r="3.1"/><circle cx="465.5" cy="1468" r="3.1"/><circle cx="490.2" cy="1459.2" r="3.1"/><circle cx="316.7" cy="1491.8" r="3.1"/><circle cx="267.6" cy="1470" r="3.1"/><circle cx="355.4" cy="1481.5" r="3.1"/><circle cx="472.8" cy="1521.4" r="3.1"/><circle cx="431.7" cy="1470.7" r="3.1"/><circle cx="400.9" cy="1496.7" r="3.1"/><circle cx="355" cy="1492.7" r="3.1"/><circle cx="360.5" cy="1445.8" r="3.1"/><circle cx="393.9" cy="1475.9" r="3.1"/><circle cx="297.5" cy="1484" r="3.1"/><circle cx="442.1" cy="1480.7" r="3.1"/><circle cx="493.9" cy="1487.8" r="3.1"/><circle cx="357.1" cy="1492.3" r="3.1"/><circle cx="312.8" cy="1466.8" r="3.1"/><circle cx="322.6" cy="1469.1" r="3.1"/><circle cx="362.3" cy="1469" r="3.1"/><circle cx="325.3" cy="1532.3" r="3.1"/><circle cx="495.3" cy="1484" r="3.1"/><circle cx="277.4" cy="1464.7" r="3.1"/><circle cx="455.5" cy="1461.3" r="3.1"/><circle cx="470.2" cy="1475.2" r="3.1"/><circle cx="486.6" cy="1482.5" r="3.1"/><circle cx="457.5" cy="1473" r="3.1"/><circle cx="488.3" cy="1483" r="3.1"/><circle cx="398.7" cy="1454" r="3.1"/><circle cx="316.7" cy="1476.3" r="3.1"/><circle cx="317.9" cy="1454.9" r="3.1"/><circle cx="484.5" cy="1478" r="3.1"/><circle cx="367" cy="1492.6" r="3.1"/><circle cx="331.7" cy="1483" r="3.1"/><circle cx="289.3" cy="1503.2" r="3.1"/><circle cx="297.6" cy="1499.2" r="3.1"/><circle cx="264.5" cy="1518.4" r="3.1"/><circle cx="332.4" cy="1453.3" r="3.1"/><circle cx="476.3" cy="1460.4" r="3.1"/><circle cx="271.6" cy="1466" r="3.1"/><circle cx="346.9" cy="1507.1" r="3.1"/><circle cx="423.3" cy="1509.4" r="3.1"/><circle cx="491.4" cy="1516.7" r="3.1"/><circle cx="452.5" cy="1454" r="3.1"/><circle cx="496.8" cy="1448.5" r="3.1"/><circle cx="451.3" cy="1488.8" r="3.1"/><circle cx="415" cy="1460.4" r="3.1"/><circle cx="443.9" cy="1481.8" r="3.1"/><circle cx="476.8" cy="1497.3" r="3.1"/><circle cx="388.2" cy="1506.2" r="3.1"/><circle cx="358.4" cy="1495.7" r="3.1"/><circle cx="314.7" cy="1473.5" r="3.1"/><circle cx="302.5" cy="1450.3" r="3.1"/><circle cx="489.4" cy="1502.9" r="3.1"/><circle cx="481.2" cy="1485.7" r="3.1"/><circle cx="489.3" cy="1487.1" r="3.1"/><circle cx="467.5" cy="1519.6" r="3.1"/><circle cx="328.2" cy="1468.7" r="3.1"/><circle cx="327.8" cy="1437.8" r="3.1"/><circle cx="262.4" cy="1511" r="3.1"/><circle cx="406" cy="1506.2" r="3.1"/><circle cx="375.2" cy="1464.5" r="3.1"/><circle cx="476.9" cy="1528.6" r="3.1"/><circle cx="396.7" cy="1486" r="3.1"/><circle cx="274.2" cy="1485.6" r="3.1"/><circle cx="484.4" cy="1475.5" r="3.1"/><circle cx="297.2" cy="1508.6" r="3.1"/><circle cx="489.8" cy="1467.1" r="3.1"/><circle cx="441.4" cy="1464.3" r="3.1"/><circle cx="273.2" cy="1469.1" r="3.1"/><circle cx="441.3" cy="1497.6" r="3.1"/><circle cx="464.2" cy="1508.4" r="3.1"/><circle cx="438.3" cy="1487.8" r="3.1"/><circle cx="431.1" cy="1469.3" r="3.1"/><circle cx="483.6" cy="1513.6" r="3.1"/><circle cx="292.8" cy="1467" r="3.1"/><circle cx="284.5" cy="1474.4" r="3.1"/><circle cx="495.4" cy="1457.6" r="3.1"/><circle cx="493.7" cy="1486.8" r="3.1"/><circle cx="414.3" cy="1526.3" r="3.1"/><circle cx="374.1" cy="1501.6" r="3.1"/><circle cx="251.7" cy="1468" r="3.1"/><circle cx="390.9" cy="1479.9" r="3.1"/><circle cx="227.2" cy="1493.8" r="3.1"/><circle cx="416.7" cy="1485.5" r="3.1"/><circle cx="268.5" cy="1491.1" r="3.1"/><circle cx="288.9" cy="1519.2" r="3.1"/><circle cx="221.2" cy="1483.4" r="3.1"/><circle cx="314.2" cy="1456" r="3.1"/><circle cx="381" cy="1471" r="3.1"/><circle cx="392" cy="1492.5" r="3.1"/><circle cx="383.2" cy="1537.2" r="3.1"/><circle cx="379.5" cy="1455.9" r="3.1"/><circle cx="157.4" cy="1484.3" r="3.1"/><circle cx="239.7" cy="1473" r="3.1"/><circle cx="156.3" cy="1465.9" r="3.1"/><circle cx="378.9" cy="1508.6" r="3.1"/><circle cx="233.9" cy="1466.3" r="3.1"/><circle cx="224" cy="1509.1" r="3.1"/><circle cx="415" cy="1485.3" r="3.1"/><circle cx="264.3" cy="1492.4" r="3.1"/><circle cx="331.1" cy="1464.7" r="3.1"/><circle cx="151.8" cy="1437.3" r="3.1"/><circle cx="230.1" cy="1496.4" r="3.1"/><circle cx="417.4" cy="1469.2" r="3.1"/><circle cx="279.2" cy="1480.8" r="3.1"/><circle cx="430.4" cy="1492.9" r="3.1"/><circle cx="350" cy="1483.8" r="3.1"/><circle cx="421.8" cy="1488.6" r="3.1"/><circle cx="193.2" cy="1493.4" r="3.1"/><circle cx="340.6" cy="1457.1" r="3.1"/><circle cx="414.7" cy="1474.9" r="3.1"/><circle cx="156.3" cy="1458.9" r="3.1"/><circle cx="219.6" cy="1502.6" r="3.1"/><circle cx="271.8" cy="1482" r="3.1"/><circle cx="348" cy="1476.4" r="3.1"/><circle cx="330.1" cy="1522.1" r="3.1"/><circle cx="194.1" cy="1481.6" r="3.1"/><circle cx="170.6" cy="1473.7" r="3.1"/><circle cx="181.8" cy="1485.6" r="3.1"/><circle cx="348.1" cy="1476.9" r="3.1"/><circle cx="348.2" cy="1479.1" r="3.1"/><circle cx="276.2" cy="1455.9" r="3.1"/><circle cx="262.6" cy="1469.5" r="3.1"/><circle cx="231.8" cy="1487.4" r="3.1"/><circle cx="294" cy="1487.3" r="3.1"/><circle cx="359" cy="1472.6" r="3.1"/><circle cx="272.8" cy="1497.1" r="3.1"/><circle cx="363.2" cy="1486.4" r="3.1"/><circle cx="174.7" cy="1488.5" r="3.1"/><circle cx="431.5" cy="1455.1" r="3.1"/><circle cx="264.2" cy="1448.5" r="3.1"/><circle cx="306.4" cy="1481.4" r="3.1"/><circle cx="295.7" cy="1465.4" r="3.1"/><circle cx="166.8" cy="1480.6" r="3.1"/><circle cx="253.2" cy="1463.5" r="3.1"/><circle cx="274" cy="1503.4" r="3.1"/><circle cx="304.2" cy="1485.8" r="3.1"/><circle cx="398.7" cy="1448.8" r="3.1"/><circle cx="292.2" cy="1449.6" r="3.1"/><circle cx="238.2" cy="1472.5" r="3.1"/><circle cx="271.4" cy="1475.1" r="3.1"/><circle cx="429" cy="1501" r="3.1"/><circle cx="305.7" cy="1477.7" r="3.1"/><circle cx="366.4" cy="1479" r="3.1"/><circle cx="374.3" cy="1477.7" r="3.1"/><circle cx="176.1" cy="1487.2" r="3.1"/><circle cx="394.9" cy="1499.1" r="3.1"/><circle cx="228.7" cy="1489.5" r="3.1"/><circle cx="340.3" cy="1479" r="3.1"/><circle cx="173.3" cy="1467.5" r="3.1"/><circle cx="351.1" cy="1501.1" r="3.1"/><circle cx="337.3" cy="1484.2" r="3.1"/><circle cx="368" cy="1500.3" r="3.1"/><circle cx="391.8" cy="1482.8" r="3.1"/><circle cx="161.7" cy="1474.1" r="3.1"/><circle cx="403.2" cy="1510.4" r="3.1"/><circle cx="391.3" cy="1483.2" r="3.1"/><circle cx="434.2" cy="1502.4" r="3.1"/><circle cx="211.1" cy="1504.2" r="3.1"/><circle cx="175.7" cy="1468.3" r="3.1"/><circle cx="230.9" cy="1494.7" r="3.1"/><circle cx="163.3" cy="1473.9" r="3.1"/><circle cx="348.4" cy="1525.9" r="3.1"/><circle cx="231.1" cy="1473.3" r="3.1"/><circle cx="203.6" cy="1469.7" r="3.1"/><circle cx="360.3" cy="1505" r="3.1"/><circle cx="159.5" cy="1466.7" r="3.1"/><circle cx="422" cy="1486.3" r="3.1"/><circle cx="232.1" cy="1460.8" r="3.1"/><circle cx="200.3" cy="1477.4" r="3.1"/><circle cx="247.3" cy="1490.3" r="3.1"/><circle cx="347" cy="1483" r="3.1"/><circle cx="227.7" cy="1520.8" r="3.1"/><circle cx="224.1" cy="1520.3" r="3.1"/><circle cx="415.7" cy="1470" r="3.1"/><circle cx="387" cy="1489.7" r="3.1"/><circle cx="406.5" cy="1469.9" r="3.1"/><circle cx="214.1" cy="1479.4" r="3.1"/><circle cx="423.2" cy="1510.2" r="3.1"/><circle cx="404.7" cy="1496.5" r="3.1"/><circle cx="385.1" cy="1484.9" r="3.1"/><circle cx="323.6" cy="1502.5" r="3.1"/><circle cx="342.4" cy="1496.1" r="3.1"/><circle cx="391.9" cy="1453.4" r="3.1"/><circle cx="295.8" cy="1477.8" r="3.1"/><circle cx="334.3" cy="1474.7" r="3.1"/><circle cx="287.3" cy="1469.9" r="3.1"/><circle cx="210.9" cy="1452.3" r="3.1"/><circle cx="281.7" cy="1467.7" r="3.1"/><circle cx="389.3" cy="1486.8" r="3.1"/><circle cx="272.5" cy="1519.1" r="3.1"/><circle cx="304.2" cy="1454.5" r="3.1"/><circle cx="184" cy="1482.9" r="3.1"/><circle cx="191.2" cy="1471.1" r="3.1"/><circle cx="436" cy="1512.7" r="3.1"/><circle cx="180.5" cy="1470.1" r="3.1"/><circle cx="415.9" cy="1460.4" r="3.1"/><circle cx="198" cy="1479" r="3.1"/><circle cx="408.5" cy="1484" r="3.1"/><circle cx="303.2" cy="1467.2" r="3.1"/><circle cx="216.8" cy="1468.6" r="3.1"/><circle cx="217.3" cy="1449.7" r="3.1"/><circle cx="400.5" cy="1484" r="3.1"/><circle cx="311.9" cy="1493.9" r="3.1"/><circle cx="153.8" cy="1512.6" r="3.1"/><circle cx="381" cy="1470.3" r="3.1"/><circle cx="353.1" cy="1505.4" r="3.1"/><circle cx="189.6" cy="1527.2" r="3.1"/><circle cx="180.3" cy="1451.5" r="3.1"/><circle cx="348.2" cy="1506.5" r="3.1"/><circle cx="278.9" cy="1485.4" r="3.1"/><circle cx="189.2" cy="1480.1" r="3.1"/><circle cx="328.5" cy="1495.7" r="3.1"/><circle cx="245.1" cy="1480.2" r="3.1"/><circle cx="362.8" cy="1508.5" r="3.1"/><circle cx="189.7" cy="1477.9" r="3.1"/><circle cx="432" cy="1492.4" r="3.1"/><circle cx="150.5" cy="1450.2" r="3.1"/><circle cx="411.9" cy="1490.1" r="3.1"/><circle cx="341" cy="1443.9" r="3.1"/><circle cx="253.9" cy="1455" r="3.1"/><circle cx="311.6" cy="1496.6" r="3.1"/><circle cx="347.7" cy="1476" r="3.1"/><circle cx="171.7" cy="1491.7" r="3.1"/><circle cx="212.6" cy="1496" r="3.1"/><circle cx="166.5" cy="1490.2" r="3.1"/><circle cx="356.5" cy="1503.7" r="3.1"/><circle cx="246.2" cy="1510.7" r="3.1"/><circle cx="250" cy="1486.8" r="3.1"/><circle cx="373.9" cy="1460" r="3.1"/><circle cx="434.9" cy="1520.5" r="3.1"/><circle cx="217.9" cy="1506.4" r="3.1"/><circle cx="290.8" cy="1492.9" r="3.1"/><circle cx="229.4" cy="1483.6" r="3.1"/><circle cx="425.3" cy="1466.6" r="3.1"/><circle cx="280.5" cy="1471" r="3.1"/><circle cx="390.9" cy="1445.1" r="3.1"/><circle cx="330.4" cy="1500.3" r="3.1"/><circle cx="254.4" cy="1467.9" r="3.1"/><circle cx="310.2" cy="1508.4" r="3.1"/><circle cx="403" cy="1485.9" r="3.1"/><circle cx="259.6" cy="1478.4" r="3.1"/><circle cx="200.5" cy="1489.1" r="3.1"/><circle cx="310.5" cy="1490.7" r="3.1"/><circle cx="189.3" cy="1502.3" r="3.1"/><circle cx="409.1" cy="1525.8" r="3.1"/><circle cx="411" cy="1489.1" r="3.1"/><circle cx="228.8" cy="1480.3" r="3.1"/><circle cx="223.5" cy="1479.9" r="3.1"/><circle cx="335.6" cy="1491.6" r="3.1"/><circle cx="278.7" cy="1478.5" r="3.1"/><circle cx="275.1" cy="1485.8" r="3.1"/><circle cx="248.6" cy="1504.2" r="3.1"/><circle cx="388.7" cy="1487.8" r="3.1"/><circle cx="373.4" cy="1490.6" r="3.1"/><circle cx="277" cy="1491.6" r="3.1"/><circle cx="163.2" cy="1463.2" r="3.1"/><circle cx="328.8" cy="1469.5" r="3.1"/><circle cx="188.5" cy="1510.5" r="3.1"/><circle cx="295.4" cy="1492.3" r="3.1"/><circle cx="181.8" cy="1464.4" r="3.1"/><circle cx="255.2" cy="1503.3" r="3.1"/><circle cx="427" cy="1465.5" r="3.1"/><circle cx="360.6" cy="1486.7" r="3.1"/><circle cx="431.9" cy="1500.7" r="3.1"/><circle cx="436.5" cy="1502.2" r="3.1"/><circle cx="292.5" cy="1497.3" r="3.1"/><circle cx="291" cy="1466.7" r="3.1"/><circle cx="402.9" cy="1477" r="3.1"/><circle cx="215.4" cy="1490.4" r="3.1"/><circle cx="382.5" cy="1478" r="3.1"/><circle cx="352.5" cy="1482.9" r="3.1"/><circle cx="425.9" cy="1430.1" r="3.1"/><circle cx="265.7" cy="1494.4" r="3.1"/><circle cx="186.7" cy="1499.6" r="3.1"/><circle cx="281" cy="1493" r="3.1"/><circle cx="270.8" cy="1469.7" r="3.1"/><circle cx="397.6" cy="1474" r="3.1"/><circle cx="343.7" cy="1476.8" r="3.1"/><circle cx="191.6" cy="1493.9" r="3.1"/><circle cx="331.8" cy="1493.4" r="3.1"/><circle cx="226.8" cy="1465.3" r="3.1"/><circle cx="319.8" cy="1481.7" r="3.1"/><circle cx="383.7" cy="1461.3" r="3.1"/><circle cx="405.4" cy="1473.1" r="3.1"/><circle cx="199.7" cy="1499.7" r="3.1"/><circle cx="424.8" cy="1495.9" r="3.1"/><circle cx="380.4" cy="1473.9" r="3.1"/><circle cx="268.9" cy="1494.1" r="3.1"/><circle cx="369.8" cy="1469.6" r="3.1"/><circle cx="205.1" cy="1492" r="3.1"/><circle cx="418" cy="1452" r="3.1"/><circle cx="196.6" cy="1485.3" r="3.1"/><circle cx="331.5" cy="1491.9" r="3.1"/><circle cx="231.4" cy="1454.5" r="3.1"/><circle cx="333.8" cy="1469.9" r="3.1"/><circle cx="150.5" cy="1478.6" r="3.1"/><circle cx="361.3" cy="1481.5" r="3.1"/><circle cx="161.7" cy="1486.1" r="3.1"/><circle cx="180.8" cy="1484.6" r="3.1"/><circle cx="379.5" cy="1480.4" r="3.1"/><circle cx="359.7" cy="1471.5" r="3.1"/><circle cx="394.5" cy="1460.9" r="3.1"/><circle cx="412.1" cy="1468.5" r="3.1"/><circle cx="200.6" cy="1494.9" r="3.1"/><circle cx="223.8" cy="1491" r="3.1"/><circle cx="605.8" cy="1427.4" r="3.1"/><circle cx="567.2" cy="1432" r="3.1"/><circle cx="613.3" cy="1363.7" r="3.1"/><circle cx="599.3" cy="1412.5" r="3.1"/><circle cx="567.4" cy="1418.2" r="3.1"/><circle cx="499.6" cy="1381.1" r="3.1"/><circle cx="548.7" cy="1431.4" r="3.1"/><circle cx="570.5" cy="1414.7" r="3.1"/><circle cx="508.6" cy="1419.5" r="3.1"/><circle cx="554.8" cy="1423.6" r="3.1"/><circle cx="567.6" cy="1389.9" r="3.1"/><circle cx="584.5" cy="1399.5" r="3.1"/><circle cx="564.3" cy="1429.6" r="3.1"/><circle cx="601.5" cy="1423.4" r="3.1"/><circle cx="569.5" cy="1431.1" r="3.1"/><circle cx="572" cy="1434.4" r="3.1"/><circle cx="599.4" cy="1395.8" r="3.1"/><circle cx="544.4" cy="1431.3" r="3.1"/><circle cx="570.2" cy="1416.1" r="3.1"/><circle cx="595.8" cy="1407.7" r="3.1"/><circle cx="522.4" cy="1420.5" r="3.1"/><circle cx="530.2" cy="1430.8" r="3.1"/><circle cx="594.9" cy="1423.5" r="3.1"/><circle cx="622.6" cy="1423.8" r="3.1"/><circle cx="536" cy="1390.8" r="3.1"/><circle cx="581.8" cy="1427.9" r="3.1"/><circle cx="584.6" cy="1410.9" r="3.1"/><circle cx="572.3" cy="1434" r="3.1"/><circle cx="544.8" cy="1417.6" r="3.1"/><circle cx="619.8" cy="1423.6" r="3.1"/><circle cx="574.7" cy="1433.9" r="3.1"/><circle cx="616.8" cy="1419.3" r="3.1"/><circle cx="527.3" cy="1424.3" r="3.1"/><circle cx="573.5" cy="1410.3" r="3.1"/><circle cx="544.1" cy="1415.6" r="3.1"/><circle cx="558.8" cy="1415.3" r="3.1"/><circle cx="533.5" cy="1422.6" r="3.1"/><circle cx="587.5" cy="1384.7" r="3.1"/><circle cx="644.4" cy="1369.9" r="3.1"/><circle cx="545.3" cy="1419.9" r="3.1"/><circle cx="559.4" cy="1403.4" r="3.1"/><circle cx="588.9" cy="1435.9" r="3.1"/><circle cx="593.4" cy="1427.9" r="3.1"/><circle cx="561.4" cy="1366.5" r="3.1"/><circle cx="578.6" cy="1392.7" r="3.1"/><circle cx="526" cy="1418" r="3.1"/><circle cx="526.1" cy="1433.6" r="3.1"/><circle cx="569" cy="1429.9" r="3.1"/><circle cx="595.4" cy="1389.2" r="3.1"/><circle cx="573.2" cy="1414.5" r="3.1"/><circle cx="613.8" cy="1390" r="3.1"/><circle cx="593.8" cy="1428.4" r="3.1"/><circle cx="610.3" cy="1399" r="3.1"/><circle cx="577.2" cy="1433.6" r="3.1"/><circle cx="544.6" cy="1427.5" r="3.1"/><circle cx="583.8" cy="1381" r="3.1"/><circle cx="558.7" cy="1433.2" r="3.1"/><circle cx="542.6" cy="1429.6" r="3.1"/><circle cx="608.6" cy="1424.9" r="3.1"/><circle cx="617.1" cy="1378.2" r="3.1"/><circle cx="601.8" cy="1427" r="3.1"/><circle cx="624.2" cy="1430.8" r="3.1"/><circle cx="644" cy="1425.4" r="3.1"/><circle cx="619" cy="1397" r="3.1"/><circle cx="561.9" cy="1412.2" r="3.1"/><circle cx="541.4" cy="1420.6" r="3.1"/><circle cx="593.1" cy="1412.5" r="3.1"/><circle cx="611.1" cy="1429.4" r="3.1"/><circle cx="601.9" cy="1376.2" r="3.1"/><circle cx="579.6" cy="1435.5" r="3.1"/><circle cx="600.2" cy="1386.4" r="3.1"/><circle cx="593.2" cy="1414.6" r="3.1"/><circle cx="542.7" cy="1382.7" r="3.1"/><circle cx="578.7" cy="1372.6" r="3.1"/><circle cx="563.5" cy="1424.8" r="3.1"/><circle cx="605.3" cy="1410" r="3.1"/><circle cx="566.2" cy="1415.2" r="3.1"/><circle cx="557.6" cy="1416.1" r="3.1"/><circle cx="562.9" cy="1425.4" r="3.1"/><circle cx="589.1" cy="1415.9" r="3.1"/><circle cx="649.9" cy="1423.1" r="3.1"/><circle cx="624.6" cy="1357.9" r="3.1"/><circle cx="558.6" cy="1434.1" r="3.1"/><circle cx="568" cy="1421.4" r="3.1"/><circle cx="528.6" cy="1425.3" r="3.1"/><circle cx="609.7" cy="1433" r="3.1"/><circle cx="638.8" cy="1429.5" r="3.1"/><circle cx="577.2" cy="1432.7" r="3.1"/><circle cx="521.3" cy="1400.8" r="3.1"/><circle cx="650.8" cy="1435.9" r="3.1"/><circle cx="610.9" cy="1394.8" r="3.1"/><circle cx="517.2" cy="1429.4" r="3.1"/><circle cx="515.1" cy="1425.2" r="3.1"/><circle cx="609" cy="1436.1" r="3.1"/><circle cx="559.5" cy="1356.4" r="3.1"/><circle cx="557.2" cy="1399.8" r="3.1"/><circle cx="542.5" cy="1428.3" r="3.1"/><circle cx="557.9" cy="1415.3" r="3.1"/><circle cx="607.3" cy="1373.1" r="3.1"/><circle cx="559.4" cy="1376.2" r="3.1"/><circle cx="591.4" cy="1433.8" r="3.1"/><circle cx="596.3" cy="1402.6" r="3.1"/><circle cx="567.3" cy="1427.5" r="3.1"/><circle cx="571.7" cy="1430.3" r="3.1"/><circle cx="550.4" cy="1405" r="3.1"/><circle cx="642" cy="1427.4" r="3.1"/><circle cx="541.5" cy="1396.7" r="3.1"/><circle cx="565.7" cy="1436" r="3.1"/><circle cx="518.5" cy="1409.8" r="3.1"/><circle cx="562.7" cy="1420.4" r="3.1"/><circle cx="546.8" cy="1431.7" r="3.1"/><circle cx="583.2" cy="1413.6" r="3.1"/><circle cx="611.4" cy="1426.5" r="3.1"/><circle cx="554.3" cy="1382.4" r="3.1"/><circle cx="616" cy="1432.3" r="3.1"/><circle cx="571.9" cy="1425.9" r="3.1"/><circle cx="535.8" cy="1398.2" r="3.1"/><circle cx="583.5" cy="1421.3" r="3.1"/><circle cx="612.2" cy="1416.2" r="3.1"/><circle cx="575.2" cy="1411.3" r="3.1"/><circle cx="556.4" cy="1403.2" r="3.1"/><circle cx="628.9" cy="1421.5" r="3.1"/><circle cx="614.2" cy="1432.6" r="3.1"/><circle cx="601.9" cy="1417.9" r="3.1"/><circle cx="576.3" cy="1436.4" r="3.1"/><circle cx="572.6" cy="1372.5" r="3.1"/><circle cx="557.3" cy="1376.3" r="3.1"/><circle cx="584.7" cy="1431.6" r="3.1"/><circle cx="600.4" cy="1398.2" r="3.1"/><circle cx="537.2" cy="1416.6" r="3.1"/><circle cx="547.8" cy="1393" r="3.1"/><circle cx="619.7" cy="1419.8" r="3.1"/><circle cx="550.1" cy="1361.1" r="3.1"/><circle cx="549.5" cy="1434.9" r="3.1"/><circle cx="556" cy="1415.2" r="3.1"/><circle cx="585.1" cy="1401.1" r="3.1"/><circle cx="588.6" cy="1436.6" r="3.1"/><circle cx="623.5" cy="1408.8" r="3.1"/><circle cx="531.9" cy="1416.6" r="3.1"/><circle cx="369.6" cy="1389.2" r="3.1"/><circle cx="491" cy="1417.5" r="3.1"/><circle cx="357" cy="1392.1" r="3.1"/><circle cx="258.6" cy="1445.8" r="3.1"/><circle cx="333.8" cy="1422.1" r="3.1"/><circle cx="522.1" cy="1417" r="3.1"/><circle cx="321.8" cy="1415.9" r="3.1"/><circle cx="536.7" cy="1390.1" r="3.1"/><circle cx="496.8" cy="1403.8" r="3.1"/><circle cx="435.6" cy="1415.2" r="3.1"/><circle cx="414.4" cy="1419.1" r="3.1"/><circle cx="291.5" cy="1438.1" r="3.1"/><circle cx="268.4" cy="1438.8" r="3.1"/><circle cx="480.6" cy="1403.1" r="3.1"/><circle cx="462.1" cy="1394.9" r="3.1"/><circle cx="273.7" cy="1445.1" r="3.1"/><circle cx="357.3" cy="1406.2" r="3.1"/><circle cx="417.6" cy="1413.7" r="3.1"/><circle cx="433.6" cy="1417.8" r="3.1"/><circle cx="399.1" cy="1412.9" r="3.1"/><circle cx="512.8" cy="1419.8" r="3.1"/><circle cx="407.4" cy="1405.8" r="3.1"/><circle cx="256.2" cy="1442.3" r="3.1"/><circle cx="383" cy="1385.6" r="3.1"/><circle cx="345" cy="1424.4" r="3.1"/><circle cx="531.4" cy="1417.3" r="3.1"/><circle cx="363.9" cy="1417.1" r="3.1"/><circle cx="346.6" cy="1436.2" r="3.1"/><circle cx="486" cy="1395.9" r="3.1"/><circle cx="496.8" cy="1420.7" r="3.1"/><circle cx="282.2" cy="1443.6" r="3.1"/><circle cx="434.2" cy="1421.2" r="3.1"/><circle cx="354.1" cy="1430" r="3.1"/><circle cx="348.7" cy="1436.5" r="3.1"/><circle cx="398.5" cy="1394.5" r="3.1"/><circle cx="447.8" cy="1419.7" r="3.1"/><circle cx="354.5" cy="1379.5" r="3.1"/><circle cx="323.5" cy="1434.7" r="3.1"/><circle cx="352.7" cy="1437.6" r="3.1"/><circle cx="289.8" cy="1432.7" r="3.1"/><circle cx="401.9" cy="1416.9" r="3.1"/><circle cx="506.8" cy="1420.1" r="3.1"/><circle cx="374.1" cy="1412.3" r="3.1"/><circle cx="331.8" cy="1435.9" r="3.1"/><circle cx="518.5" cy="1410.5" r="3.1"/><circle cx="432.4" cy="1414.8" r="3.1"/><circle cx="390.5" cy="1428.3" r="3.1"/><circle cx="335.6" cy="1433.1" r="3.1"/><circle cx="470.9" cy="1424.5" r="3.1"/><circle cx="439.1" cy="1393.4" r="3.1"/><circle cx="527.2" cy="1378.1" r="3.1"/><circle cx="491.4" cy="1415.8" r="3.1"/><circle cx="493.4" cy="1387.6" r="3.1"/><circle cx="280.5" cy="1441" r="3.1"/><circle cx="339.9" cy="1400.3" r="3.1"/><circle cx="475.3" cy="1420.9" r="3.1"/><circle cx="538.3" cy="1386.4" r="3.1"/><circle cx="487.6" cy="1391.6" r="3.1"/><circle cx="358.6" cy="1375.4" r="3.1"/><circle cx="430.7" cy="1419.8" r="3.1"/><circle cx="273.6" cy="1434.9" r="3.1"/><circle cx="585" cy="1591.6" r="3.1"/><circle cx="590.4" cy="1552.9" r="3.1"/><circle cx="603.9" cy="1540.4" r="3.1"/><circle cx="619.1" cy="1559.8" r="3.1"/><circle cx="606.8" cy="1557.1" r="3.1"/><circle cx="615.3" cy="1562.5" r="3.1"/><circle cx="590.8" cy="1546.5" r="3.1"/><circle cx="599.8" cy="1545.3" r="3.1"/><circle cx="607.7" cy="1540.7" r="3.1"/><circle cx="584.3" cy="1543.8" r="3.1"/><circle cx="575.3" cy="1545" r="3.1"/><circle cx="583.9" cy="1547" r="3.1"/><circle cx="586.1" cy="1563.3" r="3.1"/><circle cx="596.7" cy="1543.2" r="3.1"/><circle cx="594.9" cy="1549.5" r="3.1"/><circle cx="596.3" cy="1572.4" r="3.1"/><circle cx="590" cy="1552.3" r="3.1"/><circle cx="592.7" cy="1585.9" r="3.1"/><circle cx="601.8" cy="1566.7" r="3.1"/><circle cx="619.8" cy="1558.4" r="3.1"/><circle cx="581.3" cy="1542.6" r="3.1"/><circle cx="578.7" cy="1554.7" r="3.1"/><circle cx="603.7" cy="1563.5" r="3.1"/><circle cx="627.2" cy="1544" r="3.1"/><circle cx="535.9" cy="1568.8" r="3.1"/><circle cx="557" cy="1556.8" r="3.1"/><circle cx="606.8" cy="1550.3" r="3.1"/><circle cx="611.3" cy="1540.1" r="3.1"/><circle cx="601" cy="1544.3" r="3.1"/><circle cx="623.9" cy="1571.6" r="3.1"/><circle cx="635.7" cy="1549.9" r="3.1"/><circle cx="608.8" cy="1571.4" r="3.1"/><circle cx="595.3" cy="1540.4" r="3.1"/><circle cx="579.3" cy="1546.2" r="3.1"/><circle cx="611.2" cy="1541.9" r="3.1"/><circle cx="599.7" cy="1601.5" r="3.1"/><circle cx="617.6" cy="1579.1" r="3.1"/><circle cx="584.5" cy="1547.4" r="3.1"/><circle cx="566.5" cy="1563.1" r="3.1"/><circle cx="594.5" cy="1553.2" r="3.1"/><circle cx="600.7" cy="1547.7" r="3.1"/><circle cx="601.8" cy="1578.1" r="3.1"/><circle cx="559.6" cy="1573.1" r="3.1"/><circle cx="496.5" cy="1536.7" r="3.1"/><circle cx="529.2" cy="1530.9" r="3.1"/><circle cx="545.4" cy="1536.4" r="3.1"/><circle cx="507.5" cy="1530.1" r="3.1"/><circle cx="421.7" cy="1539.2" r="3.1"/><circle cx="488" cy="1534" r="3.1"/><circle cx="559.3" cy="1555.5" r="3.1"/><circle cx="123.2" cy="1438.8" r="3.1"/><circle cx="144.1" cy="1542.4" r="3.1"/><circle cx="146.7" cy="1550" r="3.1"/><circle cx="193.8" cy="1566.1" r="3.1"/><circle cx="304.4" cy="1569.4" r="3.1"/><circle cx="407.7" cy="1568.3" r="3.1"/><circle cx="397.9" cy="1557.5" r="3.1"/><circle cx="673.9" cy="1458.2" r="3.1"/><circle cx="630" cy="1620.1" r="3.1"/><circle cx="632" cy="1622.2" r="3.1"/><circle cx="631.4" cy="1620.1" r="3.1"/><circle cx="564.6" cy="1607.1" r="3.1"/><circle cx="598.7" cy="1607.1" r="3.1"/><circle cx="603.9" cy="1608.2" r="3.1"/><circle cx="588.8" cy="1593.1" r="3.1"/><circle cx="592.8" cy="1600.7" r="3.1"/><circle cx="553.5" cy="1583.4" r="3.1"/><circle cx="613.7" cy="1584.5" r="3.1"/><circle cx="162.4" cy="1523" r="3.1"/><circle cx="669.3" cy="1388.1" r="3.1"/><circle cx="247.5" cy="1409.7" r="3.1"/><circle cx="214.8" cy="1425.9" r="3.1"/><circle cx="476.4" cy="1560.7" r="3.1"/><circle cx="515.6" cy="1562.9" r="3.1"/><circle cx="558.1" cy="1562.9" r="3.1"/><circle cx="475.1" cy="1566.1" r="3.1"/><circle cx="610.9" cy="1011.3" r="3.1"/><circle cx="571.7" cy="1033.6" r="3.1"/><circle cx="585.9" cy="1030.9" r="3.1"/><circle cx="594.6" cy="1033.6" r="3.1"/><circle cx="614.3" cy="1079.2" r="3.1"/><circle cx="600.1" cy="1110.6" r="3.1"/><circle cx="614.3" cy="1126.8" r="3.1"/><circle cx="590" cy="1155.2" r="3.1"/><circle cx="542.4" cy="1160.2" r="3.1"/><circle cx="569.7" cy="1166.9" r="3.1"/><circle cx="587.5" cy="1185.6" r="3.1"/><circle cx="618.4" cy="1184.6" r="3.1"/><circle cx="571.9" cy="1191" r="3.1"/><circle cx="532" cy="1216" r="3.1"/><circle cx="603.8" cy="1214.6" r="3.1"/><circle cx="605.2" cy="1223.5" r="3.1"/><circle cx="588.6" cy="1225.5" r="3.1"/><circle cx="523.7" cy="1231.2" r="3.1"/><circle cx="585.3" cy="1231.8" r="3.1"/><circle cx="601.1" cy="1238.3" r="3.1"/><circle cx="588" cy="1240.7" r="3.1"/><circle cx="547.2" cy="1241.3" r="3.1"/><circle cx="580.5" cy="1254.5" r="3.1"/><circle cx="598.1" cy="1259" r="3.1"/><circle cx="610.2" cy="1267.7" r="3.1"/><circle cx="619.2" cy="1267.7" r="3.1"/><circle cx="582.9" cy="1271.7" r="3.1"/><circle cx="584.5" cy="1276.2" r="3.1"/><circle cx="534.9" cy="1276.8" r="3.1"/><circle cx="604.2" cy="1277.4" r="3.1"/><circle cx="591.6" cy="1281.2" r="3.1"/><circle cx="569.9" cy="1282.5" r="3.1"/><circle cx="562.2" cy="1284.5" r="3.1"/><circle cx="555.5" cy="1286.9" r="3.1"/><circle cx="614.7" cy="1286.5" r="3.1"/><circle cx="615.5" cy="1294" r="3.1"/><circle cx="568.7" cy="1295.4" r="3.1"/><circle cx="575.2" cy="1296" r="3.1"/><circle cx="533" cy="1296.2" r="3.1"/><circle cx="517.2" cy="1297.5" r="3.1"/><circle cx="569.7" cy="1300.7" r="3.1"/><circle cx="595.4" cy="1307.2" r="3.1"/><circle cx="611.7" cy="1309.8" r="3.1"/><circle cx="579.4" cy="1310.8" r="3.1"/><circle cx="558.6" cy="1313.7" r="3.1"/><circle cx="542.4" cy="1316.9" r="3.1"/><circle cx="561.6" cy="1317.3" r="3.1"/><circle cx="577.4" cy="1319.7" r="3.1"/><circle cx="588.4" cy="1319.7" r="3.1"/><circle cx="524.1" cy="1321.8" r="3.1"/><circle cx="581.3" cy="1327.4" r="3.1"/><circle cx="559" cy="1327.8" r="3.1"/><circle cx="566.7" cy="1330.9" r="3.1"/><circle cx="612.1" cy="1331.5" r="3.1"/><circle cx="627.5" cy="1330.5" r="3.1"/><circle cx="624.8" cy="1338.6" r="3.1"/><circle cx="591" cy="1341.2" r="3.1"/><circle cx="614.9" cy="1343.7" r="3.1"/><circle cx="647.1" cy="1347.7" r="3.1"/><circle cx="640" cy="1357.8" r="3.1"/></g><circle cx="374" cy="1183.8" r="7.6" fill="#f57c7c"/><circle cx="350" cy="1204" r="7.6" fill="#f57c7c"/><circle cx="430.3" cy="1202" r="7.6" fill="#f57c7c"/><circle cx="300.3" cy="1272.9" r="7.6" fill="#f57c7c"/><circle cx="327.8" cy="1268.5" r="7.6" fill="#f57c7c"/><circle cx="474.6" cy="1293" r="7.6" fill="#f57c7c"/><circle cx="410" cy="1300.3" r="7.6" fill="#f57c7c"/><circle cx="184.8" cy="1299.8" r="7.6" fill="#f57c7c"/><circle cx="360" cy="1304.6" r="7.6" fill="#f57c7c"/><circle cx="484.2" cy="1315.2" r="7.6" fill="#f57c7c"/><circle cx="493.5" cy="1349.5" r="7.6" fill="#f57c7c"/><circle cx="422.4" cy="1377.8" r="7.6" fill="#f57c7c"/><circle cx="469.9" cy="1386.8" r="7.6" fill="#f57c7c"/><circle cx="409" cy="1384.9" r="7.6" fill="#f57c7c"/><circle cx="364.7" cy="1387.6" r="7.6" fill="#f57c7c"/><circle cx="224.5" cy="1384.9" r="7.6" fill="#f57c7c"/><circle cx="483.4" cy="1343.6" r="7.6" fill="#0000ff"/><circle cx="382.2" cy="1128.5" r="7.6" fill="#f00000"/><circle cx="450.5" cy="1242.5" r="7.6" fill="#f00000"/><circle cx="506.4" cy="1244.5" r="7.6" fill="#f00000"/><circle cx="450.5" cy="1310" r="7.6" fill="#f00000"/><circle cx="179.5" cy="1326.8" r="7.6" fill="#f00000"/><circle cx="352.1" cy="1371.9" r="7.6" fill="#f00000"/><circle cx="360.7" cy="1365.2" r="7.6" fill="#f00000"/><circle cx="400" cy="1368.8" r="7.6" fill="#f00000"/><circle cx="407" cy="1368" r="7.6" fill="#f00000"/><circle cx="321" cy="1375.8" r="7.6" fill="#f00000"/><circle cx="499.3" cy="1358.2" r="7.6" fill="#f00000"/><circle cx="513.9" cy="1366.8" r="7.6" fill="#f00000"/><circle cx="460.9" cy="1382.5" r="7.6" fill="#f00000"/><text x="373" y="1135.5" font-size="18.8" text-anchor="end">HSPE1</text><text x="363.4" y="1190" font-size="16.5" text-anchor="end">YKT6</text><text x="341.7" y="1210.5" font-size="16.5" text-anchor="end">EMC7</text><text x="418.8" y="1207" font-size="16.5" text-anchor="end">SRPR</text><text x="440.4" y="1251" font-size="18.8" text-anchor="end">CNPY3</text><text x="446.7" y="1268" font-size="18.8">PTPN1</text><text x="291.2" y="1278.5" font-size="16.5" text-anchor="end">PREB</text><text x="336" y="1274.3" font-size="16.5">LAMTOR4</text><text x="414" y="1286.3" font-size="16.5">RRAGA</text><text x="360" y="1297" font-size="16.5">EMC3</text><text x="194" y="1306.6" font-size="16.5">DUT</text><text x="350.4" y="1311.4" font-size="16.5" text-anchor="end">CARD11</text><text x="358.6" y="1329.7" font-size="18.8">LAMTOR1</text><text x="493.4" y="1318.6" font-size="16.5">BTF3</text><text x="169.4" y="1334.5" font-size="18.8" text-anchor="end">CD79A</text><text x="426" y="1349" font-size="18.8">TLR9</text><text x="498.2" y="1342.7" font-size="16.5">LSG1</text><text x="299.4" y="1354.7" font-size="18.8">CD79B</text><text x="363.4" y="1354.7" font-size="18.8">NLRP2</text><text x="506.4" y="1358.5" font-size="18.8">RAB3GAP2</text><text x="282.2" y="1371" font-size="18.8">MYD88</text><text x="414.5" y="1371" font-size="18.8">BLNK</text><text x="258.7" y="1387.6" font-size="18.8">NUDC</text><text x="523.7" y="1376.6" font-size="18.8">OSBP</text><text x="479.7" y="1386.4" font-size="18.8">NMT1</text><text x="427.5" y="1379" font-size="16.5">SEC16A</text><text x="476.6" y="1400.6" font-size="16.5">NDUFA13</text><text x="370.6" y="1404.5" font-size="16.5">NDUFC2</text><text x="295.2" y="1401.4" font-size="16.5">TOMM22</text><text x="215.5" y="1392.7" font-size="16.5" text-anchor="end">MRPS14</text><line x1="91.5" y1="1005" x2="91.5" y2="1036.7" stroke="#000" stroke-width="1.5"/><line x1="82" y1="1005.7" x2="91.5" y2="1005.7" stroke="#000" stroke-width="1.5"/><line x1="82" y1="1036" x2="98.7" y2="1036" stroke="#000" stroke-width="1.5"/><line x1="91.5" y1="1063.7" x2="91.5" y2="1659.7" stroke="#000" stroke-width="1.5"/><line x1="82" y1="1064.4" x2="98.7" y2="1064.4" stroke="#000" stroke-width="1.5"/><text transform="translate(78 1011.5) scale(1.13 1)" font-size="16.8" text-anchor="end">12.0</text><text transform="translate(78 1042) scale(1.13 1)" font-size="16.8" text-anchor="end">4.0</text><text transform="translate(78 1070.5) scale(1.13 1)" font-size="16.8" text-anchor="end">4.0</text><line x1="82" y1="1172.3" x2="91.5" y2="1172.3" stroke="#000" stroke-width="1.5"/><text transform="translate(78 1178.3) scale(1.13 1)" font-size="16.8" text-anchor="end">3.0</text><line x1="82" y1="1280.2" x2="91.5" y2="1280.2" stroke="#000" stroke-width="1.5"/><text transform="translate(78 1286.2) scale(1.13 1)" font-size="16.8" text-anchor="end">2.0</text><line x1="82" y1="1388.1" x2="91.5" y2="1388.1" stroke="#000" stroke-width="1.5"/><text transform="translate(78 1394.1) scale(1.13 1)" font-size="16.8" text-anchor="end">1.0</text><line x1="82" y1="1496" x2="91.5" y2="1496" stroke="#000" stroke-width="1.5"/><text transform="translate(78 1502) scale(1.13 1)" font-size="16.8" text-anchor="end">0</text><line x1="82" y1="1603.9" x2="91.5" y2="1603.9" stroke="#000" stroke-width="1.5"/><text transform="translate(78 1609.9) scale(1.13 1)" font-size="16.8" text-anchor="end">-1.0</text><line x1="90.8" y1="1659" x2="745.7" y2="1659" stroke="#000" stroke-width="1.5"/><line x1="91.5" y1="1659" x2="91.5" y2="1668" stroke="#000" stroke-width="1.5"/><text transform="translate(91.5 1687.5) scale(1.1 1)" font-size="18" text-anchor="middle">-7.5</text><line x1="253.7" y1="1659" x2="253.7" y2="1668" stroke="#000" stroke-width="1.5"/><text transform="translate(253.7 1687.5) scale(1.1 1)" font-size="18" text-anchor="middle">-5.0</text><line x1="417.3" y1="1659" x2="417.3" y2="1668" stroke="#000" stroke-width="1.5"/><text transform="translate(417.3 1687.5) scale(1.1 1)" font-size="18" text-anchor="middle">-2.5</text><line x1="581" y1="1659" x2="581" y2="1668" stroke="#000" stroke-width="1.5"/><text transform="translate(581 1687.5) scale(1.1 1)" font-size="18" text-anchor="middle">0</text><line x1="745" y1="1659" x2="745" y2="1668" stroke="#000" stroke-width="1.5"/><text transform="translate(745 1687.5) scale(1.1 1)" font-size="18" text-anchor="middle">2.5</text><text transform="translate(416.8 1710.5) scale(1.07 1)" font-size="21.9" text-anchor="middle">TMD8 CRISPR Screen Score</text><text transform="translate(37.6 1311.7) rotate(-90) scale(1 1.04)" font-size="23.9" text-anchor="middle">Log<tspan font-size="13" dy="5">2</tspan><tspan dy="-5"> (TLR9-BioID2 / Empty Vector</tspan></text>
<text transform="translate(744 1020) scale(1.1 1)" font-size="40">d</text><clipPath id="vc"><circle cx="1258.6" cy="1337.6" r="319.5"/></clipPath><circle cx="982.5" cy="1337.6" r="240.5" fill="#80bfff"/><circle cx="1258.6" cy="1337.6" r="319.5" fill="#8080ff"/><circle cx="982.5" cy="1337.6" r="240.5" fill="#4060ff" clip-path="url(#vc)"/><circle cx="982.5" cy="1337.6" r="240.5" fill="none" stroke="#3a4a66" stroke-width="1.1"/><circle cx="1258.6" cy="1337.6" r="319.5" fill="none" stroke="#3a3a66" stroke-width="1.1"/><text x="1273.5" y="1009" font-size="22" text-anchor="middle" font-weight="bold">HBL1</text><text x="947.7" y="1094" font-size="22" text-anchor="middle" font-weight="bold">TMD8</text><text x="845.8" y="1342.5" font-size="17.5" text-anchor="middle" fill="#fff" font-weight="bold">94</text><text x="1403.6" y="1342.5" font-size="17.5" text-anchor="middle" fill="#fff" font-weight="bold">202</text><g fill="#fff" font-weight="bold" font-size="18.4" letter-spacing="-0.1" transform="scale(1 1.06)"><text x="963.9" y="1164.34">TLR9</text><text x="963.9" y="1180.53">MYD88</text><text x="963.9" y="1196.72">CNPY3</text><text x="963.9" y="1212.91">CD79A</text><text x="963.9" y="1229.09">CD79B</text><text x="963.9" y="1245.28">DVL3</text><text x="963.9" y="1261.47">ESYT1</text><text x="963.9" y="1277.66">LRMP</text><text x="963.9" y="1293.85">EMD</text><text x="963.9" y="1310.04">VEZT</text><text x="963.9" y="1326.23">MS4A1</text><text x="963.9" y="1342.42">SCFD1</text><text x="963.9" y="1358.60">SRPRB</text><text x="1040.3" y="1100.28">DNAJC3</text><text x="1040.3" y="1116.47">RAB3GAP2</text><text x="1040.3" y="1132.66">NLRP2</text><text x="1040.3" y="1148.85">EMC1</text><text x="1040.3" y="1165.04">PTPN1</text><text x="1040.3" y="1181.23">OSBP</text><text x="1040.3" y="1197.42">OSBPL8</text><text x="1040.3" y="1213.60">GLUD1</text><text x="1040.3" y="1229.79">TBC1D5</text><text x="1040.3" y="1245.98">NSFL1C</text><text x="1040.3" y="1262.17">DVL2</text><text x="1040.3" y="1278.36">ATP1B3</text><text x="1040.3" y="1294.55">CD22</text><text x="1040.3" y="1310.74">VAPB</text><text x="1040.3" y="1326.92">BLNK</text><text x="1040.3" y="1343.11">STIM1</text><text x="1040.3" y="1359.30">LAMTOR3</text><text x="1040.3" y="1375.49">STAM</text><text x="1040.3" y="1391.68">ESYT2</text><text x="1040.3" y="1407.87">ARHGAP1</text><text x="1040.3" y="1424.06">LAMTOR1</text><text x="1040.3" y="1440.25">EMC4</text><text x="1129.6" y="1164.34">LASP1</text><text x="1129.6" y="1180.53">MMGT1</text><text x="1129.6" y="1196.72">HSPE1</text><text x="1129.6" y="1212.91">ACSL3</text><text x="1129.6" y="1229.09">NUDC</text><text x="1129.6" y="1245.28">BIRC6</text><text x="1129.6" y="1261.47">VPS13C</text><text x="1129.6" y="1277.66">FAM49B</text><text x="1129.6" y="1293.85">PDLIM1</text><text x="1129.6" y="1310.04">OSBPL11</text><text x="1129.6" y="1326.23">EGLN1</text><text x="1129.6" y="1342.42">NMT1</text></g>
<text x="0" y="1724.5" font-size="44.5">e</text><g stroke="#000" stroke-width="1.3"><rect x="95.7" y="1868" width="14" height="184.6" fill="#0a0af5"/><rect x="95.7" y="1761.9" width="14" height="106.1" fill="#1a8cff"/><rect x="116.7" y="1898.8" width="14" height="153.8" fill="#0a0af5"/><rect x="116.7" y="1845.6" width="14" height="53.2" fill="#1a8cff"/><rect x="137.7" y="1957.5" width="14" height="95.1" fill="#0a0af5"/><rect x="137.7" y="1852.9" width="14" height="104.6" fill="#1a8cff"/><rect x="158.7" y="1980.8" width="14" height="71.8" fill="#0a0af5"/><rect x="158.7" y="1859.4" width="14" height="121.4" fill="#1a8cff"/><rect x="179.7" y="1951.8" width="14" height="100.8" fill="#0a0af5"/><rect x="179.7" y="1875.5" width="14" height="76.2" fill="#1a8cff"/><rect x="200.6" y="1969.9" width="14" height="82.7" fill="#0a0af5"/><rect x="200.6" y="1914.5" width="14" height="55.4" fill="#1a8cff"/><rect x="221.6" y="1987.7" width="14" height="64.9" fill="#0a0af5"/><rect x="221.6" y="1923.4" width="14" height="64.3" fill="#1a8cff"/><rect x="242.6" y="1965.1" width="14" height="87.5" fill="#0a0af5"/><rect x="242.6" y="1926.7" width="14" height="38.3" fill="#1a8cff"/><rect x="263.6" y="1982.1" width="14" height="70.5" fill="#0a0af5"/><rect x="263.6" y="1929.8" width="14" height="52.3" fill="#1a8cff"/><rect x="284.6" y="1991.4" width="14" height="61.2" fill="#0a0af5"/><rect x="284.6" y="1933.6" width="14" height="57.8" fill="#1a8cff"/><rect x="305.6" y="1972.2" width="14" height="80.4" fill="#0a0af5"/><rect x="305.6" y="1934.3" width="14" height="37.9" fill="#1a8cff"/><rect x="326.6" y="1972.2" width="14" height="80.4" fill="#0a0af5"/><rect x="326.6" y="1936.9" width="14" height="35.2" fill="#1a8cff"/><rect x="347.6" y="1987" width="14" height="65.6" fill="#0a0af5"/><rect x="347.6" y="1937.6" width="14" height="49.4" fill="#1a8cff"/><rect x="368.6" y="2015.4" width="14" height="37.2" fill="#0a0af5"/><rect x="368.6" y="1939.8" width="14" height="75.6" fill="#1a8cff"/><rect x="389.6" y="1974.6" width="14" height="78" fill="#0a0af5"/><rect x="389.6" y="1948.2" width="14" height="26.4" fill="#1a8cff"/><rect x="410.5" y="1991.4" width="14" height="61.2" fill="#0a0af5"/><rect x="410.5" y="1950.4" width="14" height="41" fill="#1a8cff"/><rect x="431.5" y="1987.2" width="14" height="65.4" fill="#0a0af5"/><rect x="431.5" y="1951.3" width="14" height="35.9" fill="#1a8cff"/><rect x="452.5" y="1992.8" width="14" height="59.8" fill="#0a0af5"/><rect x="452.5" y="1952" width="14" height="40.8" fill="#1a8cff"/><rect x="473.5" y="1983.5" width="14" height="69.1" fill="#0a0af5"/><rect x="473.5" y="1957.5" width="14" height="25.9" fill="#1a8cff"/><rect x="494.5" y="1987.7" width="14" height="64.9" fill="#0a0af5"/><rect x="494.5" y="1960.6" width="14" height="27" fill="#1a8cff"/><rect x="515.5" y="1987" width="14" height="65.6" fill="#0a0af5"/><rect x="515.5" y="1962.4" width="14" height="24.6" fill="#1a8cff"/><rect x="536.5" y="1990.1" width="14" height="62.5" fill="#0a0af5"/><rect x="536.5" y="1963.7" width="14" height="26.4" fill="#1a8cff"/><rect x="557.5" y="2016.7" width="14" height="35.9" fill="#0a0af5"/><rect x="557.5" y="1965.1" width="14" height="51.6" fill="#1a8cff"/><rect x="578.5" y="1997.2" width="14" height="55.4" fill="#0a0af5"/><rect x="578.5" y="1965.7" width="14" height="31.5" fill="#1a8cff"/><rect x="599.5" y="2003" width="14" height="49.6" fill="#0a0af5"/><rect x="599.5" y="1966.4" width="14" height="36.6" fill="#1a8cff"/><rect x="620.5" y="2013.4" width="14" height="39.2" fill="#0a0af5"/><rect x="620.5" y="1970.2" width="14" height="43.2" fill="#1a8cff"/><rect x="641.4" y="2026" width="14" height="26.6" fill="#0a0af5"/><rect x="641.4" y="1971.9" width="14" height="54.1" fill="#1a8cff"/><rect x="662.4" y="1999.9" width="14" height="52.7" fill="#0a0af5"/><rect x="662.4" y="1974.4" width="14" height="25.5" fill="#1a8cff"/><rect x="683.4" y="2002.3" width="14" height="50.3" fill="#0a0af5"/><rect x="683.4" y="1975" width="14" height="27.3" fill="#1a8cff"/><rect x="704.4" y="2003.6" width="14" height="49" fill="#0a0af5"/><rect x="704.4" y="1976.6" width="14" height="27" fill="#1a8cff"/><rect x="725.4" y="2002.1" width="14" height="50.5" fill="#0a0af5"/><rect x="725.4" y="1977" width="14" height="25" fill="#1a8cff"/><rect x="746.4" y="2022.2" width="14" height="30.4" fill="#0a0af5"/><rect x="746.4" y="1979.5" width="14" height="42.8" fill="#1a8cff"/><rect x="767.4" y="2016.7" width="14" height="35.9" fill="#0a0af5"/><rect x="767.4" y="1980.1" width="14" height="36.6" fill="#1a8cff"/><rect x="788.4" y="2018" width="14" height="34.6" fill="#0a0af5"/><rect x="788.4" y="1981" width="14" height="37" fill="#1a8cff"/><rect x="809.4" y="2012.9" width="14" height="39.7" fill="#0a0af5"/><rect x="809.4" y="1984.1" width="14" height="28.8" fill="#1a8cff"/><rect x="830.4" y="2013.4" width="14" height="39.2" fill="#0a0af5"/><rect x="830.4" y="1984.6" width="14" height="28.8" fill="#1a8cff"/><rect x="851.3" y="2024.5" width="14" height="28.1" fill="#0a0af5"/><rect x="851.3" y="1986.6" width="14" height="37.9" fill="#1a8cff"/><rect x="872.3" y="2018" width="14" height="34.6" fill="#0a0af5"/><rect x="872.3" y="1990.3" width="14" height="27.7" fill="#1a8cff"/><rect x="893.3" y="2017.4" width="14" height="35.2" fill="#0a0af5"/><rect x="893.3" y="1990.8" width="14" height="26.6" fill="#1a8cff"/><rect x="914.3" y="2019.1" width="14" height="33.5" fill="#0a0af5"/><rect x="914.3" y="1991.7" width="14" height="27.5" fill="#1a8cff"/><rect x="935.3" y="2017.8" width="14" height="34.8" fill="#0a0af5"/><rect x="935.3" y="1992.8" width="14" height="25" fill="#1a8cff"/><rect x="956.3" y="2018" width="14" height="34.6" fill="#0a0af5"/><rect x="956.3" y="1995.2" width="14" height="22.8" fill="#1a8cff"/><rect x="977.3" y="2027.3" width="14" height="25.3" fill="#0a0af5"/><rect x="977.3" y="1995.4" width="14" height="31.9" fill="#1a8cff"/><rect x="998.3" y="2020" width="14" height="32.6" fill="#0a0af5"/><rect x="998.3" y="1995.9" width="14" height="24.2" fill="#1a8cff"/><rect x="1019.3" y="2030.4" width="14" height="22.2" fill="#0a0af5"/><rect x="1019.3" y="1999.2" width="14" height="31.2" fill="#1a8cff"/><rect x="1040.2" y="2023.6" width="14" height="29" fill="#0a0af5"/><rect x="1040.2" y="2000.5" width="14" height="23" fill="#1a8cff"/><rect x="1061.2" y="2025.3" width="14" height="27.3" fill="#0a0af5"/><rect x="1061.2" y="2001.4" width="14" height="23.9" fill="#1a8cff"/><rect x="95.7" y="2128.7" width="14" height="11.8" fill="#0a0af5"/><rect x="95.7" y="2140.5" width="14" height="3" fill="#1a8cff"/><rect x="116.7" y="2107" width="14" height="21.7" fill="#0a0af5"/><rect x="116.7" y="2098.3" width="14" height="8.7" fill="#1a8cff"/><rect x="137.7" y="2117.3" width="14" height="11.4" fill="#0a0af5"/><rect x="137.7" y="2110.8" width="14" height="6.5" fill="#1a8cff"/><rect x="158.7" y="2112" width="14" height="16.7" fill="#0a0af5"/><rect x="158.7" y="2110.5" width="14" height="1.5" fill="#1a8cff"/><rect x="179.7" y="2118.1" width="14" height="10.6" fill="#0a0af5"/><rect x="179.7" y="2103.2" width="14" height="14.9" fill="#1a8cff"/><rect x="200.6" y="2124.9" width="14" height="3.8" fill="#1a8cff"/><rect x="200.6" y="2128.7" width="14" height="11.4" fill="#0a0af5"/><rect x="221.6" y="2099.1" width="14" height="29.6" fill="#0a0af5"/><rect x="221.6" y="2082.7" width="14" height="16.4" fill="#1a8cff"/><rect x="242.6" y="2128.7" width="14" height="46.7" fill="#0a0af5"/><rect x="242.6" y="2175.4" width="14" height="54.8" fill="#1a8cff"/><rect x="263.6" y="2128.7" width="14" height="61.9" fill="#0a0af5"/><rect x="263.6" y="2190.6" width="14" height="54.4" fill="#1a8cff"/><rect x="284.6" y="2128.7" width="14" height="12.5" fill="#0a0af5"/><rect x="284.6" y="2141.2" width="14" height="20.5" fill="#1a8cff"/><rect x="305.6" y="2128.7" width="14" height="22.8" fill="#0a0af5"/><rect x="305.6" y="2151.5" width="14" height="8.7" fill="#1a8cff"/><rect x="326.6" y="2128.7" width="14" height="88.5" fill="#0a0af5"/><rect x="326.6" y="2217.2" width="14" height="169.9" fill="#1a8cff"/><rect x="347.6" y="2121.5" width="14" height="7.2" fill="#1a8cff"/><rect x="347.6" y="2128.7" width="14" height="7.6" fill="#0a0af5"/><rect x="368.6" y="2128.7" width="14" height="158.8" fill="#0a0af5"/><rect x="368.6" y="2287.5" width="14" height="84.4" fill="#1a8cff"/><rect x="389.6" y="2119.6" width="14" height="9.1" fill="#0a0af5"/><rect x="389.6" y="2114.7" width="14" height="4.9" fill="#1a8cff"/><rect x="410.5" y="2128.7" width="14" height="12.9" fill="#0a0af5"/><rect x="410.5" y="2141.6" width="14" height="20.1" fill="#1a8cff"/><rect x="431.5" y="2128.7" width="14" height="2" fill="#0a0af5"/><rect x="431.5" y="2130.7" width="14" height="23.5" fill="#1a8cff"/><rect x="452.5" y="2128.7" width="14" height="97.3" fill="#0a0af5"/><rect x="452.5" y="2226" width="14" height="27" fill="#1a8cff"/><rect x="473.5" y="2128.7" width="14" height="2" fill="#0a0af5"/><rect x="473.5" y="2130.7" width="14" height="75.5" fill="#1a8cff"/><rect x="494.5" y="2128.7" width="14" height="134.5" fill="#0a0af5"/><rect x="494.5" y="2263.2" width="14" height="93.1" fill="#1a8cff"/><rect x="515.5" y="2128.7" width="14" height="87.8" fill="#0a0af5"/><rect x="515.5" y="2216.5" width="14" height="109.8" fill="#1a8cff"/><rect x="536.5" y="2128.7" width="14" height="115.5" fill="#0a0af5"/><rect x="536.5" y="2244.2" width="14" height="73.4" fill="#1a8cff"/><rect x="557.5" y="2128.7" width="14" height="31.9" fill="#1a8cff"/><rect x="557.5" y="2104.4" width="14" height="24.3" fill="#0a0af5"/><rect x="578.5" y="2128.7" width="14" height="87.8" fill="#0a0af5"/><rect x="578.5" y="2216.5" width="14" height="40.6" fill="#1a8cff"/><rect x="599.5" y="2128.7" width="14" height="14.8" fill="#0a0af5"/><rect x="599.5" y="2143.5" width="14" height="16" fill="#1a8cff"/><rect x="620.5" y="2128.7" width="14" height="12.5" fill="#0a0af5"/><rect x="620.5" y="2141.2" width="14" height="8" fill="#1a8cff"/><rect x="641.4" y="2124.9" width="14" height="3.8" fill="#0a0af5"/><rect x="641.4" y="2123" width="14" height="1.9" fill="#1a8cff"/><rect x="662.4" y="2128.7" width="14" height="84.7" fill="#0a0af5"/><rect x="662.4" y="2213.4" width="14" height="96.9" fill="#1a8cff"/><rect x="683.4" y="2113.9" width="14" height="14.8" fill="#0a0af5"/><rect x="683.4" y="2098.7" width="14" height="15.2" fill="#1a8cff"/><rect x="704.4" y="2117.3" width="14" height="11.4" fill="#1a8cff"/><rect x="725.4" y="2101.7" width="14" height="27" fill="#1a8cff"/><rect x="725.4" y="2128.7" width="14" height="13.7" fill="#0a0af5"/><rect x="746.4" y="2114.7" width="14" height="14" fill="#1a8cff"/><rect x="746.4" y="2128.7" width="14" height="3" fill="#0a0af5"/><rect x="767.4" y="2128.7" width="14" height="2.3" fill="#0a0af5"/><rect x="788.4" y="2128.7" width="14" height="32.3" fill="#0a0af5"/><rect x="788.4" y="2161" width="14" height="7.6" fill="#1a8cff"/><rect x="809.4" y="2128.7" width="14" height="20.1" fill="#0a0af5"/><rect x="809.4" y="2148.8" width="14" height="33.9" fill="#1a8cff"/><rect x="830.4" y="2120.7" width="14" height="8" fill="#0a0af5"/><rect x="830.4" y="2118.8" width="14" height="1.9" fill="#1a8cff"/><rect x="851.3" y="2127.7" width="14" height="1" fill="#0a0af5"/><rect x="872.3" y="2115" width="14" height="13.7" fill="#1a8cff"/><rect x="872.3" y="2128.7" width="14" height="29.3" fill="#0a0af5"/><rect x="893.3" y="2128.7" width="14" height="92" fill="#0a0af5"/><rect x="893.3" y="2220.7" width="14" height="27.7" fill="#1a8cff"/><rect x="914.3" y="2128.7" width="14" height="18.2" fill="#1a8cff"/><rect x="914.3" y="2116.2" width="14" height="12.5" fill="#0a0af5"/><rect x="935.3" y="2128.7" width="14" height="5.3" fill="#0a0af5"/><rect x="935.3" y="2134" width="14" height="11" fill="#1a8cff"/><rect x="956.3" y="2128.7" width="14" height="3.8" fill="#1a8cff"/><rect x="956.3" y="2119.6" width="14" height="9.1" fill="#0a0af5"/><rect x="977.3" y="2114.3" width="14" height="14.4" fill="#1a8cff"/><rect x="977.3" y="2128.7" width="14" height="33.4" fill="#0a0af5"/><rect x="998.3" y="2114.6" width="14" height="14.1" fill="#0a0af5"/><rect x="1019.3" y="2123.8" width="14" height="4.9" fill="#1a8cff"/><rect x="1019.3" y="2128.7" width="14" height="11" fill="#0a0af5"/><rect x="1040.2" y="2122.6" width="14" height="6.1" fill="#0a0af5"/><rect x="1040.2" y="2121.1" width="14" height="1.5" fill="#1a8cff"/><rect x="1061.2" y="2128.7" width="14" height="122.7" fill="#0a0af5"/><rect x="1061.2" y="2251.4" width="14" height="51" fill="#1a8cff"/></g><line x1="88.6" y1="1719" x2="88.6" y2="2053.3" stroke="#000" stroke-width="1.5"/><line x1="87.9" y1="2052.6" x2="1081.5" y2="2052.6" stroke="#000" stroke-width="1.5"/><line x1="82.1" y1="1720.2" x2="88.6" y2="1720.2" stroke="#000" stroke-width="1.5"/><text transform="translate(81.1 1726.2) scale(1.17 1)" font-size="16.6" text-anchor="end">15</text><line x1="82.1" y1="1831" x2="88.6" y2="1831" stroke="#000" stroke-width="1.5"/><text transform="translate(81.1 1837) scale(1.17 1)" font-size="16.6" text-anchor="end">10</text><line x1="82.1" y1="1941.8" x2="88.6" y2="1941.8" stroke="#000" stroke-width="1.5"/><text transform="translate(81.1 1947.8) scale(1.17 1)" font-size="16.6" text-anchor="end">5</text><line x1="82.1" y1="2052.6" x2="88.6" y2="2052.6" stroke="#000" stroke-width="1.5"/><text transform="translate(81.1 2058.6) scale(1.17 1)" font-size="16.6" text-anchor="end">0</text><text transform="translate(56.5 1887) rotate(-90) scale(1 1.12)" font-size="23.9" text-anchor="middle">Log<tspan font-size="12.5" dy="5">2</tspan><tspan dy="-5">(TLR9-BioID2/empty vector)</tspan></text><rect x="978" y="1746.5" width="23.5" height="23.5" fill="#0a0af5" stroke="#000" stroke-width="1"/><rect x="978" y="1786.5" width="23.5" height="23.5" fill="#1a8cff" stroke="#000" stroke-width="1"/><text x="1004.6" y="1766" font-size="22">HBL1</text><text x="1004.6" y="1805.3" font-size="22">TMD8</text><line x1="88.6" y1="2072" x2="88.6" y2="2407.1" stroke="#000" stroke-width="1.5"/><line x1="87.9" y1="2128.7" x2="1081.5" y2="2128.7" stroke="#000" stroke-width="1.5"/><line x1="87.9" y1="2406.4" x2="1081.5" y2="2406.4" stroke="#000" stroke-width="1.5"/><line x1="82.1" y1="2072.8" x2="88.6" y2="2072.8" stroke="#000" stroke-width="1.5"/><text transform="translate(81.1 2078.8) scale(1.17 1)" font-size="16.8" text-anchor="end">2</text><line x1="82.1" y1="2128.5" x2="88.6" y2="2128.5" stroke="#000" stroke-width="1.5"/><text transform="translate(81.1 2134.5) scale(1.17 1)" font-size="16.8" text-anchor="end">0</text><line x1="82.1" y1="2184.1" x2="88.6" y2="2184.1" stroke="#000" stroke-width="1.5"/><text transform="translate(81.1 2190.1) scale(1.17 1)" font-size="16.8" text-anchor="end">-4</text><line x1="82.1" y1="2239.8" x2="88.6" y2="2239.8" stroke="#000" stroke-width="1.5"/><text transform="translate(81.1 2245.8) scale(1.17 1)" font-size="16.8" text-anchor="end">-2</text><line x1="82.1" y1="2295.4" x2="88.6" y2="2295.4" stroke="#000" stroke-width="1.5"/><text transform="translate(81.1 2301.4) scale(1.17 1)" font-size="16.8" text-anchor="end">-6</text><line x1="82.1" y1="2351.1" x2="88.6" y2="2351.1" stroke="#000" stroke-width="1.5"/><text transform="translate(81.1 2357.1) scale(1.17 1)" font-size="16.8" text-anchor="end">-8</text><line x1="82.1" y1="2406.7" x2="88.6" y2="2406.7" stroke="#000" stroke-width="1.5"/><text transform="translate(81.1 2412.7) scale(1.17 1)" font-size="16.8" text-anchor="end">-10</text><text transform="translate(54.2 2247.5) rotate(-90) scale(1 1.04)" font-size="24.1" text-anchor="middle">CRISPR screen score</text><line x1="102.7" y1="2406.4" x2="102.7" y2="2417" stroke="#000" stroke-width="1.5"/><text transform="translate(108.8 2418.4) rotate(-90)" font-size="20" text-anchor="end">DVL3</text><line x1="123.7" y1="2406.4" x2="123.7" y2="2417" stroke="#000" stroke-width="1.5"/><text transform="translate(129.8 2418.4) rotate(-90)" font-size="20" text-anchor="end">ESYT1</text><line x1="144.7" y1="2406.4" x2="144.7" y2="2417" stroke="#000" stroke-width="1.5"/><text transform="translate(150.8 2418.4) rotate(-90)" font-size="20" text-anchor="end">NSFL1C</text><line x1="165.7" y1="2406.4" x2="165.7" y2="2417" stroke="#000" stroke-width="1.5"/><text transform="translate(171.8 2418.4) rotate(-90)" font-size="20" text-anchor="end">DVL2</text><line x1="186.7" y1="2406.4" x2="186.7" y2="2417" stroke="#000" stroke-width="1.5"/><text transform="translate(192.8 2418.4) rotate(-90)" font-size="20" text-anchor="end">LRMP</text><line x1="207.6" y1="2406.4" x2="207.6" y2="2417" stroke="#000" stroke-width="1.5"/><text transform="translate(213.7 2418.4) rotate(-90)" font-size="20" text-anchor="end">SCFD1</text><line x1="228.6" y1="2406.4" x2="228.6" y2="2417" stroke="#000" stroke-width="1.5"/><text transform="translate(234.7 2418.4) rotate(-90)" font-size="20" text-anchor="end">VAPB</text><line x1="249.6" y1="2406.4" x2="249.6" y2="2417" stroke="#000" stroke-width="1.5"/><text transform="translate(255.7 2418.4) rotate(-90)" font-size="20" text-anchor="end" fill="#f00000">LAMTOR1</text><line x1="270.6" y1="2406.4" x2="270.6" y2="2417" stroke="#000" stroke-width="1.5"/><text transform="translate(276.7 2418.4) rotate(-90)" font-size="20" text-anchor="end" fill="#f00000">CNPY3</text><line x1="291.6" y1="2406.4" x2="291.6" y2="2417" stroke="#000" stroke-width="1.5"/><text transform="translate(297.7 2418.4) rotate(-90)" font-size="20" text-anchor="end">STIM1</text><line x1="312.6" y1="2406.4" x2="312.6" y2="2417" stroke="#000" stroke-width="1.5"/><text transform="translate(318.7 2418.4) rotate(-90)" font-size="20" text-anchor="end">SRPRB</text><line x1="333.6" y1="2406.4" x2="333.6" y2="2417" stroke="#000" stroke-width="1.5"/><text transform="translate(339.7 2418.4) rotate(-90)" font-size="20" text-anchor="end" fill="#f00000">CD79A</text><line x1="354.6" y1="2406.4" x2="354.6" y2="2417" stroke="#000" stroke-width="1.5"/><text transform="translate(360.7 2418.4) rotate(-90)" font-size="20" text-anchor="end">ARHGAP1</text><line x1="375.6" y1="2406.4" x2="375.6" y2="2417" stroke="#000" stroke-width="1.5"/><text transform="translate(381.7 2418.4) rotate(-90)" font-size="20" text-anchor="end" fill="#f00000">HSPE1</text><line x1="396.6" y1="2406.4" x2="396.6" y2="2417" stroke="#000" stroke-width="1.5"/><text transform="translate(402.7 2418.4) rotate(-90)" font-size="20" text-anchor="end">DNAJC3</text><line x1="417.5" y1="2406.4" x2="417.5" y2="2417" stroke="#000" stroke-width="1.5"/><text transform="translate(423.6 2418.4) rotate(-90)" font-size="20" text-anchor="end">VEZT</text><line x1="438.5" y1="2406.4" x2="438.5" y2="2417" stroke="#000" stroke-width="1.5"/><text transform="translate(444.6 2418.4) rotate(-90)" font-size="20" text-anchor="end">EMC1</text><line x1="459.5" y1="2406.4" x2="459.5" y2="2417" stroke="#000" stroke-width="1.5"/><text transform="translate(465.6 2418.4) rotate(-90)" font-size="20" text-anchor="end" fill="#f00000">LAMTOR3</text><line x1="480.5" y1="2406.4" x2="480.5" y2="2417" stroke="#000" stroke-width="1.5"/><text transform="translate(486.6 2418.4) rotate(-90)" font-size="20" text-anchor="end" fill="#f00000">NLRP2</text><line x1="501.5" y1="2406.4" x2="501.5" y2="2417" stroke="#000" stroke-width="1.5"/><text transform="translate(507.6 2418.4) rotate(-90)" font-size="20" text-anchor="end" fill="#f00000">CD79B</text><line x1="522.5" y1="2406.4" x2="522.5" y2="2417" stroke="#000" stroke-width="1.5"/><text transform="translate(528.6 2418.4) rotate(-90)" font-size="20" text-anchor="end" fill="#f00000">NUDC</text><line x1="543.5" y1="2406.4" x2="543.5" y2="2417" stroke="#000" stroke-width="1.5"/><text transform="translate(549.6 2418.4) rotate(-90)" font-size="20" text-anchor="end" fill="#f00000">BLNK</text><line x1="564.5" y1="2406.4" x2="564.5" y2="2417" stroke="#000" stroke-width="1.5"/><text transform="translate(570.6 2418.4) rotate(-90)" font-size="20" text-anchor="end">PTPN1</text><line x1="585.5" y1="2406.4" x2="585.5" y2="2417" stroke="#000" stroke-width="1.5"/><text transform="translate(591.6 2418.4) rotate(-90)" font-size="20" text-anchor="end" fill="#f00000">TLR9</text><line x1="606.5" y1="2406.4" x2="606.5" y2="2417" stroke="#000" stroke-width="1.5"/><text transform="translate(612.6 2418.4) rotate(-90)" font-size="20" text-anchor="end">EMC4</text><line x1="627.5" y1="2406.4" x2="627.5" y2="2417" stroke="#000" stroke-width="1.5"/><text transform="translate(633.6 2418.4) rotate(-90)" font-size="20" text-anchor="end">MMGT1</text><line x1="648.4" y1="2406.4" x2="648.4" y2="2417" stroke="#000" stroke-width="1.5"/><text transform="translate(654.5 2418.4) rotate(-90)" font-size="20" text-anchor="end">EMD</text><line x1="669.4" y1="2406.4" x2="669.4" y2="2417" stroke="#000" stroke-width="1.5"/><text transform="translate(675.5 2418.4) rotate(-90)" font-size="20" text-anchor="end" fill="#f00000">MYD88</text><line x1="690.4" y1="2406.4" x2="690.4" y2="2417" stroke="#000" stroke-width="1.5"/><text transform="translate(696.5 2418.4) rotate(-90)" font-size="20" text-anchor="end">ESYT2</text><line x1="711.4" y1="2406.4" x2="711.4" y2="2417" stroke="#000" stroke-width="1.5"/><text transform="translate(717.5 2418.4) rotate(-90)" font-size="20" text-anchor="end">MS4A1</text><line x1="732.4" y1="2406.4" x2="732.4" y2="2417" stroke="#000" stroke-width="1.5"/><text transform="translate(738.5 2418.4) rotate(-90)" font-size="20" text-anchor="end">STAM</text><line x1="753.4" y1="2406.4" x2="753.4" y2="2417" stroke="#000" stroke-width="1.5"/><text transform="translate(759.5 2418.4) rotate(-90)" font-size="20" text-anchor="end">PDLIM1</text><line x1="774.4" y1="2406.4" x2="774.4" y2="2417" stroke="#000" stroke-width="1.5"/><text transform="translate(780.5 2418.4) rotate(-90)" font-size="20" text-anchor="end">ACSL3</text><line x1="795.4" y1="2406.4" x2="795.4" y2="2417" stroke="#000" stroke-width="1.5"/><text transform="translate(801.5 2418.4) rotate(-90)" font-size="20" text-anchor="end">TBC1D5</text><line x1="816.4" y1="2406.4" x2="816.4" y2="2417" stroke="#000" stroke-width="1.5"/><text transform="translate(822.5 2418.4) rotate(-90)" font-size="20" text-anchor="end">RAB3GAP2</text><line x1="837.4" y1="2406.4" x2="837.4" y2="2417" stroke="#000" stroke-width="1.5"/><text transform="translate(843.5 2418.4) rotate(-90)" font-size="20" text-anchor="end">LASP1</text><line x1="858.3" y1="2406.4" x2="858.3" y2="2417" stroke="#000" stroke-width="1.5"/><text transform="translate(864.4 2418.4) rotate(-90)" font-size="20" text-anchor="end">EGLN1</text><line x1="879.3" y1="2406.4" x2="879.3" y2="2417" stroke="#000" stroke-width="1.5"/><text transform="translate(885.4 2418.4) rotate(-90)" font-size="20" text-anchor="end">BIRC6</text><line x1="900.3" y1="2406.4" x2="900.3" y2="2417" stroke="#000" stroke-width="1.5"/><text transform="translate(906.4 2418.4) rotate(-90)" font-size="20" text-anchor="end" fill="#f00000">OSBP</text><line x1="921.3" y1="2406.4" x2="921.3" y2="2417" stroke="#000" stroke-width="1.5"/><text transform="translate(927.4 2418.4) rotate(-90)" font-size="20" text-anchor="end">VPS13C</text><line x1="942.3" y1="2406.4" x2="942.3" y2="2417" stroke="#000" stroke-width="1.5"/><text transform="translate(948.4 2418.4) rotate(-90)" font-size="20" text-anchor="end">OSBPL8</text><line x1="963.3" y1="2406.4" x2="963.3" y2="2417" stroke="#000" stroke-width="1.5"/><text transform="translate(969.4 2418.4) rotate(-90)" font-size="20" text-anchor="end">GLUD1</text><line x1="984.3" y1="2406.4" x2="984.3" y2="2417" stroke="#000" stroke-width="1.5"/><text transform="translate(990.4 2418.4) rotate(-90)" font-size="20" text-anchor="end">ATP1B3</text><line x1="1005.3" y1="2406.4" x2="1005.3" y2="2417" stroke="#000" stroke-width="1.5"/><text transform="translate(1011.4 2418.4) rotate(-90)" font-size="20" text-anchor="end">FAM49B</text><line x1="1026.3" y1="2406.4" x2="1026.3" y2="2417" stroke="#000" stroke-width="1.5"/><text transform="translate(1032.4 2418.4) rotate(-90)" font-size="20" text-anchor="end">CD22</text><line x1="1047.2" y1="2406.4" x2="1047.2" y2="2417" stroke="#000" stroke-width="1.5"/><text transform="translate(1053.3 2418.4) rotate(-90)" font-size="20" text-anchor="end">OSBPL11</text><line x1="1068.2" y1="2406.4" x2="1068.2" y2="2417" stroke="#000" stroke-width="1.5"/><text transform="translate(1074.3 2418.4) rotate(-90)" font-size="20" text-anchor="end" fill="#f00000">NMT1</text>
</svg>
</body></html>
